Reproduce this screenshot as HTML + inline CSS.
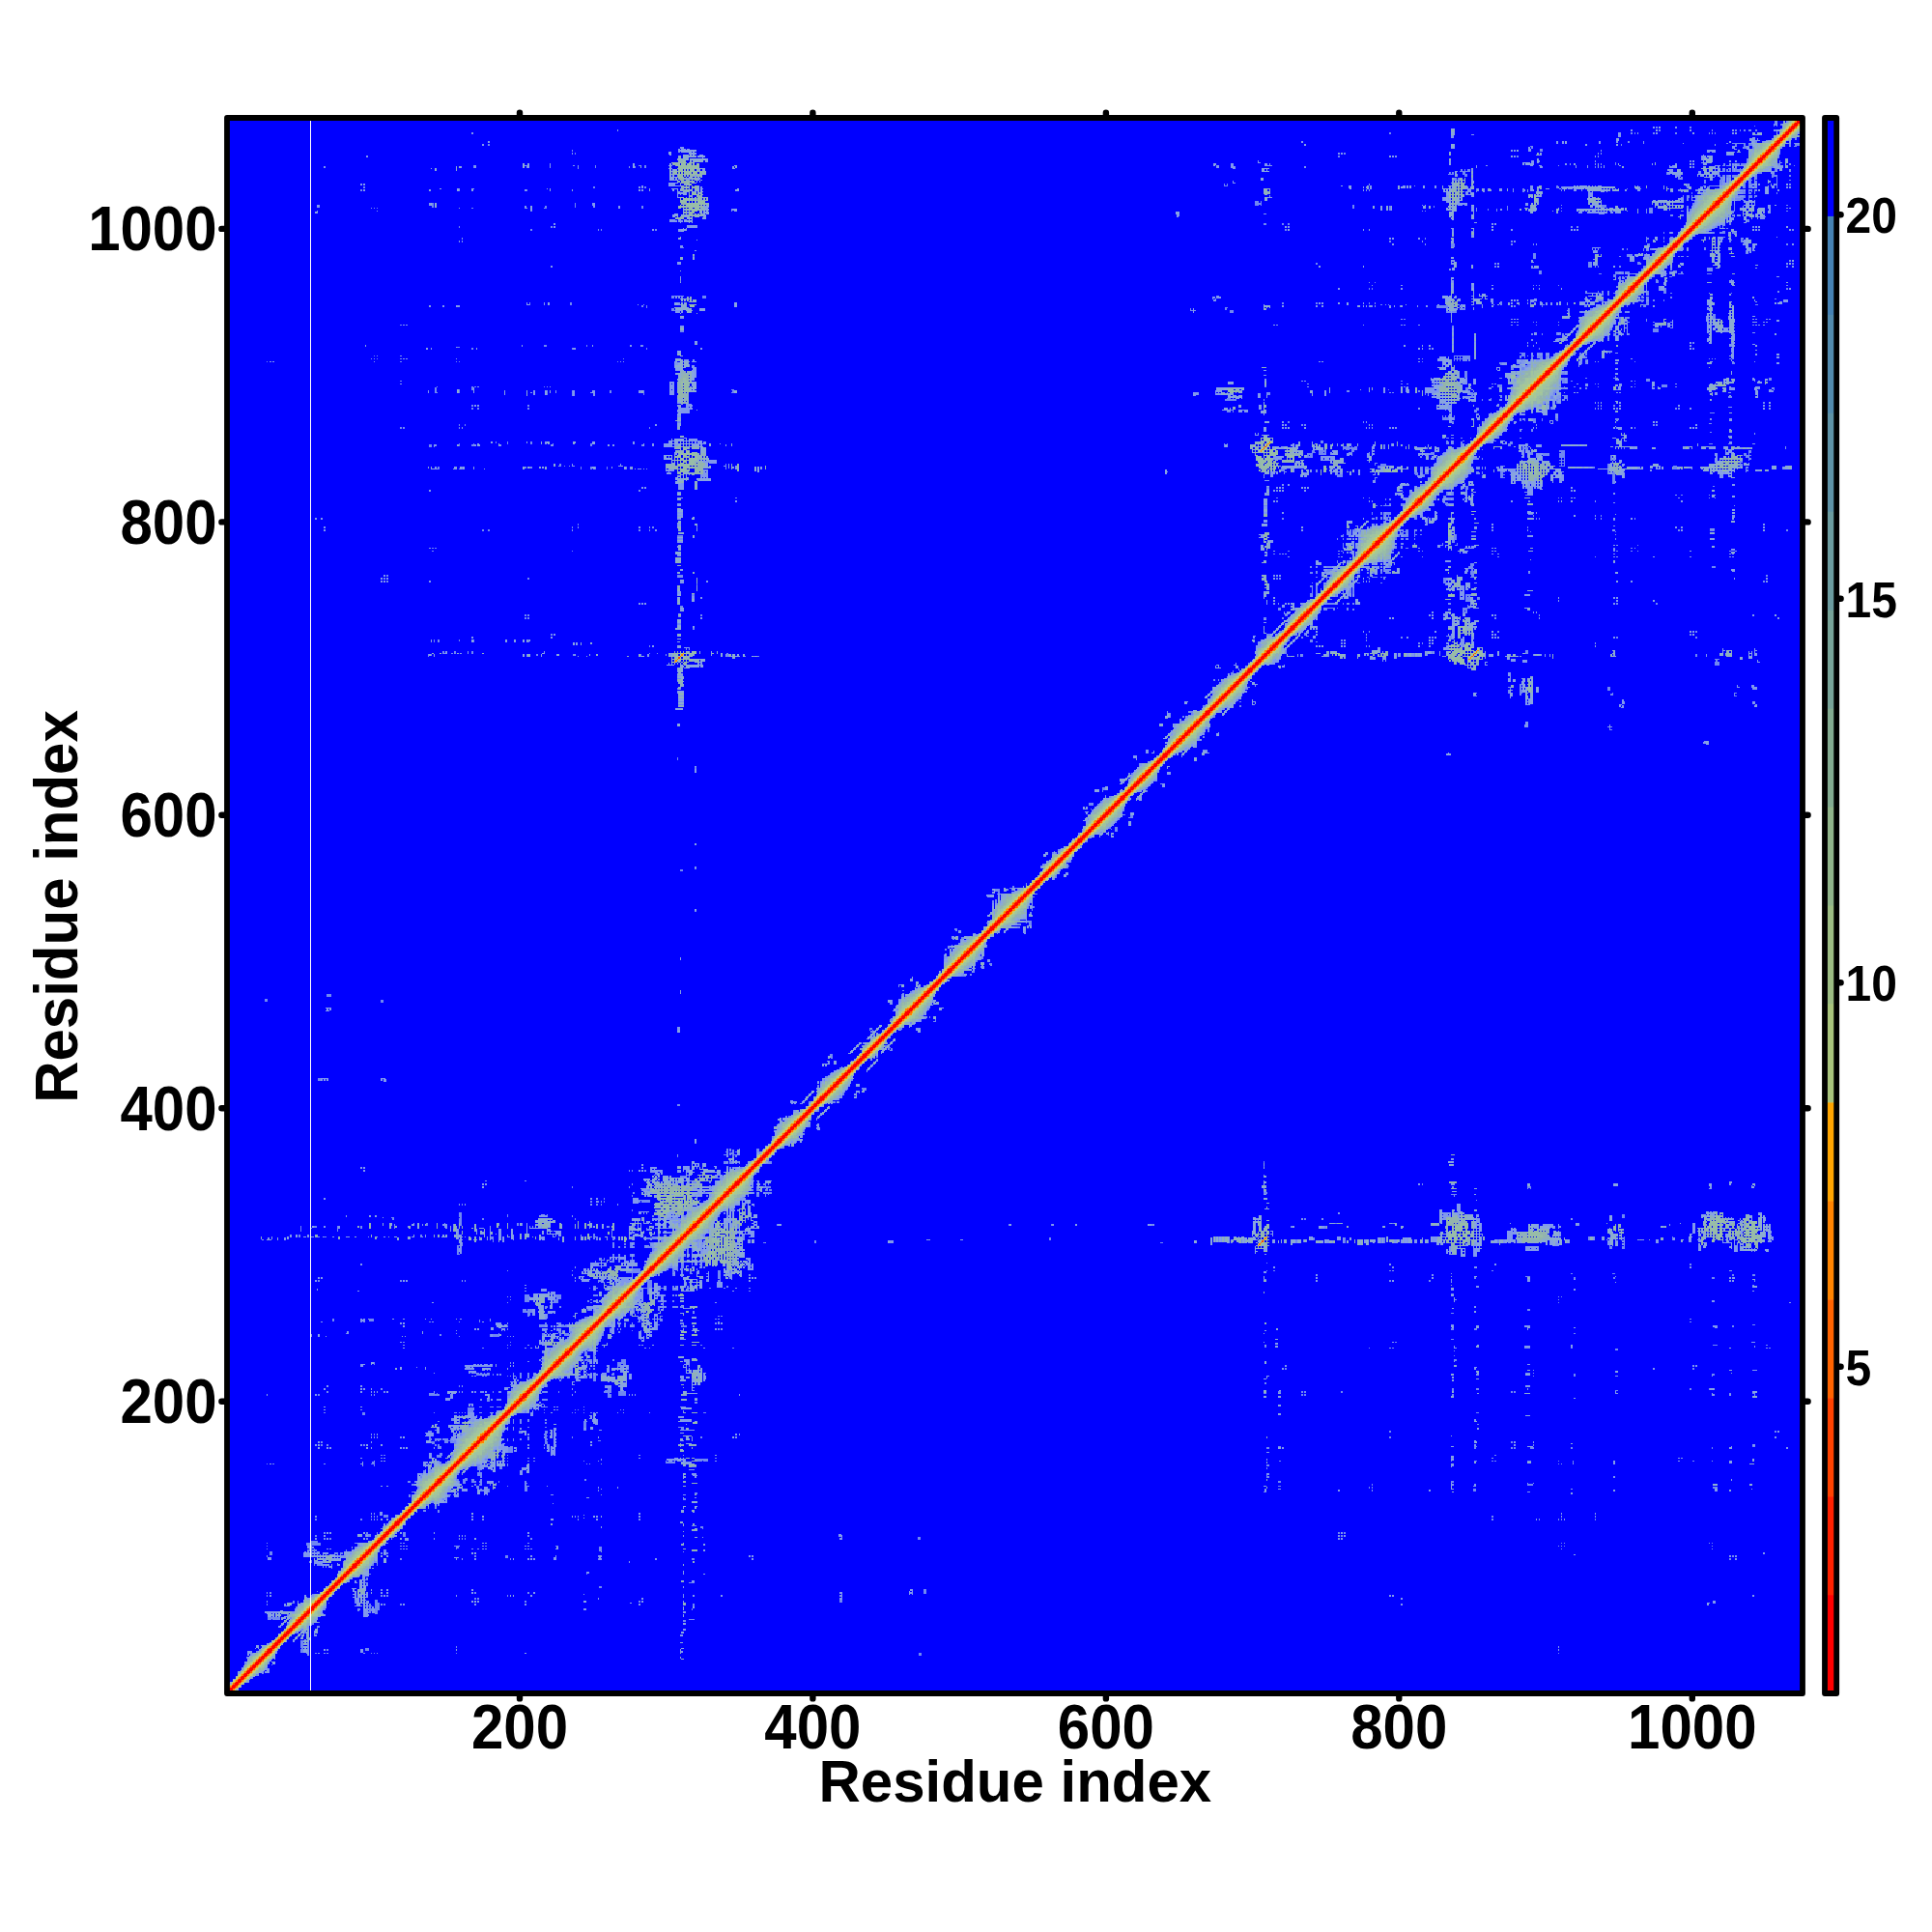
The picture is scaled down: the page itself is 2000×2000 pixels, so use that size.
<!DOCTYPE html>
<html><head><meta charset="utf-8"><title>Residue contact map</title>
<style>html,body{margin:0;padding:0;background:#fff}svg{display:block}text{font-family:'Liberation Sans',sans-serif;font-weight:bold;fill:#000}</style>
</head><body>
<svg width="2000" height="2000" viewBox="0 0 2000 2000">
<rect width="2000" height="2000" fill="#fff"/>
<rect x="235.0" y="122.0" width="1631.0" height="1631.0" fill="#0000FF"/>
<g transform="translate(235.0,1753.0) scale(1.51721,-1.51721)" shape-rendering="crispEdges" fill="none" stroke-width="1">
<path stroke="#7088F0" d="M6 1.5h1m-6 5h1m15 4h1m2 2h1m3 1h1m-15 4h1m16 0h1m2 2h1m-19 1h1m15 0h1m-16 4h1m458 2h2m-457 1h1m42 0h1m37 0h1m1 0h1m55 0h1m315 0h2m434 0h1m-889 1h1m29 0h2m-18 1h1m15 0h2m16 0h1m25 0h3m-78 1h1m31 0h1m42 0h3m-47 1h2m104 0h1m-107 1h2m-2 1h2m-23 1h1m20 0h2m-2 1h2m-5 6h1m5 0h1m-3 2h1m9 1h1m-1 1h2m-6 1h1m-17 1h1m16 0h1m3 1h1m248 1h2m-285 1h2m1 0h5m279 0h4m-291 1h8m7 0h1m-3 2h1m23 1h1m35 0h2m-6 1h1m3 0h2m-14 1h1m7 0h2m2 0h2m-57 1h1m19 0h1m22 0h2m6 0h2m2 0h3m213 0h1m-271 1h1m19 0h1m29 0h1m3 0h3m-17 1h1m9 0h2m2 0h3m214 0h1m-292 1h1m69 0h1m3 0h3m3 0h1m10 0h1m199 0h1m-275 1h2m23 0h1m17 0h1m13 0h3m-59 1h1m2 0h1m38 0h1m13 0h2m100 0h1m77 0h1m136 0h2m-333 1h1m13 0h2m315 0h2m-251 1h1m1 0h1m-118 1h1m2 1h1m47 0h1m3 0h1m81 0h1m119 0h1m-254 1h1m252 0h1m-283 1h1m139 0h1m35 0h1m269 0h2m-416 1h1m413 0h2m-372 1h1m369 0h2m-392 1h1m168 1h2m-161 1h1m-1 1h1m-2 1h2m219 0h4m-225 2h2m-1 1h1m-7 1h1m0 1h1m6 1h1m147 0h1m-175 4h1m-13 2h1m1 0h3m35 0h1m2 0h1m-47 2h2m21 0h1m20 0h2m-45 1h1m22 0h1m19 0h1m17 1h1m74 0h1m59 0h1m63 0h2m706 0h1m-836 1h2m-23 1h1m20 0h2m61 0h1m773 0h1m-999 1h2m44 0h1m1 0h1m29 0h2m-80 1h2m42 0h3m1 0h2m26 0h1m2 0h2m-81 1h2m76 0h2m-54 1h6m20 0h1m25 0h2m145 0h2m-229 1h1m28 0h2m1 0h1m58 0h1m37 0h1m46 0h1m50 0h2m-169 1h1m68 0h2m96 0h2m-229 1h1m61 0h2m14 0h1m49 0h3m18 0h1m47 0h2m686 0h1m-859 1h10m25 0h1m-36 1h10m23 0h1m21 0h1m8 0h1m791 0h1m102 0h1m-957 1h5m4 2h1m3 0h1m24 0h1m4 0h1m11 0h1m47 0h1m1 0h1m44 0h1m263 0h2m-360 1h1m357 0h2m-413 1h1m33 0h1m1 0h2m22 0h2m40 0h1m42 0h1m554 0h1m-667 1h4m16 0h1m5 0h2m-56 1h1m28 0h1m6 0h1m17 0h2m636 0h1m3 0h1m-658 3h1m13 0h1m204 0h1m-219 1h1m216 0h2m-217 1h1m208 0h3m-260 4h1m30 0h1m6 0h1m3 0h1m71 0h1m106 0h1m581 0h1m31 0h1m12 0h1m1 0h1m22 0h1m-822 1h1m-6 1h3m57 0h1m71 0h1m623 0h1m-757 1h3m34 2h1m-11 1h2m8 0h1m-10 2h1m1 0h1m4 0h1m-1 1h1m-7 1h1m7 0h1m-5 2h1m6 2h1m163 0h2m-164 1h1m-26 1h1m26 0h1m-28 1h1m1 0h1m25 0h1m-25 1h1m190 0h2m-195 1h1m51 0h1m528 0h2m-557 1h1m20 0h2m3 0h1m24 0h2m48 0h1m596 0h2m-681 1h1m1 0h1m4 0h1m24 0h2m503 0h1m141 0h2m-722 1h1m39 0h2m31 0h2m574 0h1m1 0h1m232 0h3m-862 1h1m1 0h1m12 0h2m19 0h1m11 0h2m512 0h2m-593 1h2m41 0h1m2 0h2m5 0h1m23 0h1m577 0h1m105 0h4m-733 1h1m2 0h2m10 0h1m29 0h2m-82 1h2m3 0h1m29 0h1m2 0h2m4 0h3m2 0h2m11 0h1m17 0h1m513 0h2m116 0h2m-681 1h2m3 0h3m3 0h2m4 0h1m70 0h1m-89 1h1m5 0h2m-32 1h1m40 0h1m535 0h2m-540 1h3m535 0h1m-577 1h1m23 0h1m13 0h3m-3 1h3m-40 1h1m37 0h1m-38 1h1m2 0h1m21 0h1m10 0h3m-12 1h1m8 0h2m13 0h2m521 0h1m-539 1h1m14 0h2m129 0h3m-220 1h1m40 0h1m28 0h3m3 0h1m2 0h1m11 0h1m517 0h2m-684 1h1m3 0h1m66 0h3m44 0h2m33 0h1m727 0h1m-810 1h2m40 0h1m3 0h1m3 0h1m149 0h7m612 0h1m-776 1h2m35 0h1m24 0h1m3 0h1m33 0h1m55 0h1m21 0h3m1 0h3m390 0h1m116 0h1m15 0h2m10 0h1m1 0h1m21 0h3m18 0h1m9 0h1m81 0h1m-825 1h2m141 0h9m-223 1h1m46 0h1m31 0h1m148 0h1m501 0h2m-694 1h3m-41 1h1m1 0h1m35 0h4m6 0h1m711 0h1m-721 1h2m45 1h3m-13 1h1m3 0h1m5 0h3m-12 1h1m8 0h3m-75 1h1m23 0h2m46 0h3m21 0h1m492 0h2m140 0h1m24 0h1m1 0h1m10 0h3m25 0h1m95 0h1m-870 1h2m47 0h2m522 0h2m132 0h2m188 0h2m-979 1h1m3 0h1m24 0h1m48 0h1m1 0h1m60 0h1m685 0h1m-752 1h2m13 0h1m61 0h2m-155 1h1m74 0h3m6 0h3m1 0h4m61 0h2m657 0h1m-735 1h1m1 0h1m3 0h6m1 0h1m39 0h1m21 0h1m35 0h2m-117 1h2m2 0h4m1 0h4m1 0h1m42 0h1m4 0h1m4 0h1m11 0h2m-101 1h1m19 0h1m66 0h1m11 0h1m17 0h1m87 0h1m469 0h1m-607 1h1m29 0h2m-119 1h1m54 0h1m3 0h1m56 0h2m-59 1h1m39 0h2m16 0h2m-82 1h3m48 0h1m10 0h2m16 0h2m574 0h1m262 0h1m-915 1h1m12 0h1m33 0h1m5 0h1m47 0h2m-89 1h1m1 0h1m31 0h1m119 0h2m-107 1h1m11 0h1m25 0h2m63 0h4m-147 1h1m77 0h2m-79 1h1m23 0h1m52 0h2m608 0h1m-694 1h1m34 0h1m4 0h1m16 0h1m25 0h2m-101 1h1m50 0h1m4 0h1m4 0h1m37 0h2m-92 1h2m10 0h1m29 0h1m4 0h1m4 0h1m11 0h1m-65 1h2m20 0h1m2 1h1m0 1h1m-88 1h2m86 0h1m2 0h1m13 0h1m-132 1h1m25 0h2m47 0h1m13 0h1m47 0h1m12 0h1m18 0h1m7 0h1m4 0h1m1 0h1m74 0h2m525 0h2m-690 1h4m35 0h1m-113 1h1m72 0h5m41 0h1m1 0h1m12 0h1m11 0h1m1 0h1m3 0h1m24 0h1m-105 1h5m38 0h1m2 0h1m1 0h1m-41 1h2m5 0h1m4 0h3m27 0h1m2 0h2m-5 1h1m-25 1h1m19 0h1m3 0h2m-3 1h1m105 0h2m-144 1h2m32 0h1m-39 1h1m3 0h2m5 0h3m28 0h4m-7 1h1m106 0h2m-61 1h2m-200 1h1m35 0h1m39 0h7m46 0h2m67 0h2m5 0h5m461 0h1m1 0h1m100 0h1m-699 1h4m1 0h1m70 0h1m45 0h1m6 0h5m435 0h2m316 0h1m15 0h2m-975 1h1m38 0h1m50 0h1m10 0h1m3 0h2m6 0h1m3 0h2m28 0h4m7 0h1m30 0h5m5 0h5m445 0h2m14 0h1m1 0h1m24 0h1m115 0h1m1 0h1m-665 1h1m43 0h4m8 0h1m565 0h1m110 0h2m-844 1h1m88 0h1m19 0h1m45 0h2m574 0h1m15 0h2m144 0h1m12 0h1m-854 2h1m57 0h1m1 0h1m-26 1h2m2 0h1m18 0h1m1 0h1m-20 1h1m508 0h1m-516 1h2m6 0h1m-4 1h1m28 0h1m22 0h2m-57 1h3m6 0h1m1 0h2m18 0h1m1 0h1m21 0h2m58 0h2m-115 1h1m2 0h1m4 0h1m20 0h2m4 0h1m11 0h2m1 0h1m2 0h2m-85 1h1m8 0h1m14 0h1m8 0h1m4 0h1m3 0h2m19 0h2m18 0h2m639 0h1m27 0h1m-750 1h9m2 0h1m2 0h1m1 0h1m8 0h1m4 0h1m4 0h1m41 0h1m3 0h2m9 0h2m655 0h1m93 0h2m-845 1h2m1 0h1m1 0h1m1 0h2m16 0h1m4 0h1m4 0h1m3 0h2m37 0h1m2 0h1m11 0h1m622 0h3m-655 2h1m15 1h1m471 0h1m277 0h1m-765 1h1m29 0h1m-1 1h2m43 0h1m-212 1h1m165 0h3m1 0h2m-172 1h1m92 0h1m51 0h1m1 0h1m18 0h6m-67 1h1m8 0h2m30 0h1m5 0h1m16 0h3m-59 1h1m1 0h1m28 0h3m1 0h1m3 0h1m10 0h1m5 0h3m565 0h2m-625 1h1m30 0h1m4 0h2m-5 1h1m2 0h2m-36 1h1m23 0h1m3 0h1m2 0h1m2 0h1m586 0h1m-622 1h1m24 0h1m2 0h2m4 0h2m-37 1h1m26 0h1m1 0h2m-2 1h1m-25 1h1m25 0h1m700 0h2m-775 1h1m16 0h1m57 0h1m95 0h1m433 0h1m15 0h1m89 0h4m28 0h1m134 0h1m-831 1h1m485 0h1m-516 1h1m129 0h1m690 0h3m33 0h1m-798 1h1m-134 1h1m72 0h1m59 0h1m543 0h1m-568 1h1m23 0h1m-24 1h1m603 0h2m-605 1h1m22 0h1m-98 1h1m20 0h1m1 0h5m5 0h1m1 0h1m-49 1h1m33 0h1m1 0h5m29 0h1m11 0h1m2 0h4m22 0h1m-176 1h1m133 0h1m9 0h1m1 0h2m2 0h2m23 0h1m662 0h1m-694 1h2m6 0h1m26 0h1m5 0h1m-53 1h1m1 0h1m7 0h1m3 0h2m45 0h1m-86 1h1m26 0h1m8 0h1m33 0h1m4 0h1m68 0h1m499 0h2m14 0h2m-618 1h1m21 0h1m-67 1h1m21 0h4m4 0h1m6 0h4m28 0h1m10 0h1m5 0h1m32 0h4m713 0h1m-815 1h6m9 0h2m1 0h1m39 0h1m3 0h3m16 0h1m540 0h2m204 0h2m-826 1h1m8 0h2m34 0h1m5 0h1m2 0h1m37 0h3m21 0h1m-243 1h1m1 0h1m44 0h1m33 0h1m65 0h2m22 0h1m3 0h1m13 0h2m53 0h1m662 0h1m-927 1h1m24 0h3m72 0h1m67 0h1m40 0h1m13 0h2m-225 1h1m24 0h3m142 0h1m37 0h2m13 0h2m36 0h1m664 0h1m-755 1h2m34 0h1m14 0h1m-91 1h1m43 0h1m21 0h1m8 0h1m14 0h2m38 0h1m1 0h1m-133 1h2m68 0h1m-71 1h2m70 0h1m2 0h1m554 0h2m-635 1h6m42 0h1m67 0h1m-117 1h2m1 0h3m38 0h1m1 0h1m26 0h1m1 0h1m16 0h1m592 0h2m-672 1h1m34 0h2m23 0h1m6 0h1m9 0h1m17 0h5m-100 1h2m8 0h1m66 0h1m3 0h2m4 0h4m1 0h2m-89 3h4m22 0h1m4 0h1m654 0h1m-706 1h3m17 0h3m20 0h1m47 0h2m2 0h2m4 0h1m-112 1h1m9 0h3m18 0h2m26 0h1m-50 1h3m19 0h3m-25 1h4m17 0h4m682 0h1m-708 1h3m18 0h4m22 0h3m4 0h1m37 0h1m2 0h1m5 0h1m1 0h1m-20 1h1m547 0h2m-550 1h1m-1 1h1m68 0h1m-106 1h1m6 0h1m2 0h1m25 0h1m7 0h1m2 0h2m4 0h3m7 0h1m-68 1h1m3 0h1m32 0h4m2 0h1m5 0h2m16 0h1m14 0h1m9 0h1m16 0h1m-107 1h2m7 0h1m1 0h2m24 0h3m8 0h2m4 0h1m1 0h1m7 0h1m3 0h1m22 0h1m-55 1h3m751 0h1m-755 1h3m-37 1h1m1 0h3m1 0h1m27 0h3m-228 1h1m55 0h1m134 0h3m31 0h3m45 0h2m456 0h1m26 0h1m14 0h1m206 0h1m-707 1h1m370 0h2m-374 1h2m514 0h1m67 0h1m26 0h1m66 0h2m-753 1h1m13 0h1m33 0h1m24 0h2m549 0h3m-613 1h1m15 0h1m11 0h1m30 0h2m19 0h1m670 0h1m13 0h2m-767 1h1m33 0h1m5 0h2m17 0h2m4 0h1m575 0h1m27 0h2m-675 1h10m22 0h1m5 0h1m5 0h1m18 0h2m6 0h1m-67 1h5m17 0h1m4 0h1m2 0h1m2 0h1m5 0h1m18 0h2m6 0h1m365 0h1m4 0h1m78 0h1m69 0h1m-587 1h5m18 0h1m3 0h1m2 0h1m2 0h1m-35 1h1m25 0h2m3 0h1m2 0h2m13 0h1m469 0h1m-493 1h1m6 0h2m-27 1h1m24 0h2m5 0h1m680 0h1m-688 1h1m5 0h1m391 0h1m-459 1h1m9 0h3m3 0h1m44 0h2m7 0h1m2 0h2m-72 1h4m9 0h1m3 0h1m3 0h1m-22 1h2m1 0h1m18 0h1m31 0h2m1 0h1m5 0h1m-42 1h1m32 0h1m1 0h1m2 0h1m-52 1h1m3 0h1m3 0h1m3 0h1m1 0h1m34 0h1m27 0h1m-184 1h2m104 0h1m3 0h1m7 0h1m1 0h1m10 0h1m-132 1h1m131 0h1m24 0h1m2 0h1m-161 1h1m156 0h1m2 0h1m-161 1h1m132 0h1m21 0h1m1 0h1m2 0h1m-161 1h1m132 0h2m21 0h2m2 0h1m625 0h2m7 0h2m-797 1h1m105 0h1m3 0h1m3 0h1m3 0h1m1 0h1m7 0h1m1 0h3m36 0h1m616 0h2m7 0h2m-797 1h1m105 0h1m11 0h1m667 0h1m9 0h1m-691 1h1m7 0h1m3 0h1m1 0h1m46 0h1m-62 1h1m24 0h3m35 0h1m17 0h1m3 0h1m17 0h1m34 0h1m235 0h2m46 0h1m4 0h1m1 0h1m36 0h1m32 0h1m24 0h1m1 0h1m29 0h1m47 0h1m-687 1h1m114 0h1m23 0h1m80 0h1m272 0h1m1 0h1m15 0h1m36 0h1m4 0h1m27 0h1m24 0h1m1 0h1m29 0h1m47 0h1m-687 1h1m70 0h1m10 0h1m32 0h2m23 0h1m1 0h1m16 0h1m11 0h1m208 0h1m112 0h1m1 0h1m8 0h1m6 0h1m36 0h1m4 0h1m6 0h1m20 0h1m24 0h1m1 0h1m29 0h1m47 0h1m61 0h1m23 0h1m9 0h1m22 0h1m-807 1h2m32 0h1m35 0h1m1 0h1m10 0h1m20 0h1m1 0h7m35 0h1m5 0h1m1 0h1m15 0h1m208 0h1m112 0h1m1 0h1m64 0h1m20 0h1m24 0h1m1 0h1m139 0h1m22 0h2m32 0h1m-938 1h1m16 0h2m64 0h1m47 0h2m32 0h1m8 0h1m26 0h1m1 0h1m37 0h4m2 0h2m28 0h1m4 0h1m6 0h1m8 0h2m2 0h2m321 0h1m1 0h1m252 0h1m23 0h1m32 0h1m-938 1h1m82 0h1m117 0h1m11 0h1m31 0h1m3 0h1m3 0h1m22 0h1m26 0h1m-103 1h1m11 0h1m31 0h1m8 0h1m22 0h1m-65 1h1m12 0h3m19 0h1m2 0h4m706 0h1m-961 1h1m24 0h1m186 0h1m65 0h1m19 0h1m-299 1h1m24 0h1m186 0h1m23 0h3m-239 1h1m6 0h1m17 0h1m15 0h1m22 0h1m39 0h1m131 0h1m5 0h2m2 0h1m3 0h4m31 0h2m12 0h1m399 0h1m-700 1h1m8 0h2m14 0h1m15 0h1m22 0h1m39 0h1m105 0h1m16 0h1m68 0h1m1 0h1m377 0h1m22 0h1m230 0h1m-867 1h1m21 0h1m17 0h1m4 0h1m38 0h1m2 0h1m146 0h1m26 0h1m157 0h1m28 0h1m68 0h1m-496 1h1m22 0h1m38 0h1m2 0h1m106 0h1m23 0h1m11 0h1m411 0h1m38 0h1m223 0h1m-862 1h2m134 0h1m14 0h1m-152 1h2m184 0h1m1 0h1m1 0h1m-236 1h1m44 0h2m14 0h1m62 0h1m71 0h1m24 0h1m400 0h1m-624 1h2m45 0h1m134 0h1m11 0h1m645 0h2m-796 1h2m31 0h1m98 0h1m3 0h1m17 0h1m22 0h1m5 0h1m610 0h2m-796 1h2m31 0h1m112 0h1m2 0h1m3 0h1m1 0h1m27 0h1m610 0h2m-796 1h2m179 0h1m-30 1h1m4 0h1m-40 1h1m69 0h1m1 0h1m-5 1h1m-34 1h1m30 0h1m-23 1h1m-161 1h1m91 0h1m2 0h1m54 1h1m12 0h1m-76 1h1m4 0h1m3 0h1m23 0h1m1 0h6m28 0h1m7 0h1m-45 1h8m21 0h1m6 0h1m32 0h1m-94 1h1m53 1h1m40 0h1m-77 1h1m50 0h1m33 0h2m4 0h1m-70 1h1m10 0h1m44 0h1m6 0h2m4 0h1m1 0h1m465 0h4m-562 1h1m8 0h1m38 0h2m32 0h1m1 0h1m5 0h5m335 0h3m-379 1h1m23 0h1m-69 1h2m69 0h1m2 0h2m4 0h2m1 0h2m-65 1h1m12 0h1m1 0h1m7 0h1m30 0h2m5 0h1m518 0h1m1 0h1m-655 1h1m125 0h1m4 0h5m516 0h3m-572 1h1m3 0h1m6 0h1m28 0h1m8 0h1m-57 1h1m49 0h1m4 0h2m1 0h1m445 0h1m-509 1h1m3 0h1m3 0h1m2 0h2m2 0h1m6 0h1m32 0h1m-46 1h1m41 0h1m1 0h1m9 0h1m-36 1h1m21 0h1m-48 1h1m-3 1h4m25 0h1m368 1h1m-368 1h1m19 0h1m-19 1h1m-69 1h1m1 0h1m8 0h1m57 2h1m2 0h1m3 0h1m12 0h1m-23 1h1m7 0h1m14 0h1m342 0h1m-354 1h1m-16 1h3m1 0h3m1 0h1m1 0h1m18 0h4m-33 1h2m2 0h2m3 0h1m20 0h3m335 0h1m-350 1h1m9 0h2m-11 1h1m10 1h1m-64 1h1m37 0h1m1 0h1m-9 1h3m1 0h1m1 0h3m-7 1h1m1 0h3m15 0h1m1 0h1m-24 1h2m3 0h1m1 0h1m13 0h3m-23 1h1m1 0h1m1 0h1m15 0h2m2 0h1m-25 1h1m1 0h1m5 0h1m11 0h2m13 0h1m2 1h1m3 1h1m-65 2h1m64 0h1m2 0h1m-17 1h1m16 0h1m-17 3h1m20 2h1m-21 2h1m19 0h1m-19 1h1m21 2h1m-23 1h1m0 1h1m21 3h1m-18 2h1m1 0h1m2 4h1m16 0h1m-13 1h1m-85 3h2m99 1h1m-12 1h1m15 0h2m2 0h1m-1 2h1m0 2h1m-17 1h1m17 0h1m-1 1h1m0 1h1m0 1h1m12 0h1m-13 1h1m9 0h3m-33 1h1m-1 1h1m-1 3h1m1 0h1m-344 1h2m343 0h1m18 0h1m-365 1h2m344 1h2m0 1h1m0 1h1m0 1h1m5 3h1m12 0h1m-6 5h1m-15 2h1m28 0h1m-30 1h1m30 0h1m-33 1h2m29 0h1m9 3h2m-3 1h1m1 0h1m-3 1h2m-20 1h1m15 0h1m-15 1h1m-2 1h1m6 6h1m-3 2h2m-3 1h1m1 0h1m18 0h1m-22 1h2m19 0h2m7 3h1m-3 1h1m6 1h1m8 0h2m-32 1h2m19 0h1m9 0h1m-31 1h1m22 0h1m0 1h1m1 0h1m-6 1h1m0 1h1m1 2h1m-21 1h1m20 0h1m0 1h1m-24 1h1m-352 3h2m-81 1h2m77 0h2m374 0h1m-456 1h2m430 0h2m2 1h1m-395 1h3m392 0h1m-396 1h3m389 0h1m0 1h1m3 0h1m0 1h1m-6 1h1m5 0h1m4 2h1m-15 1h1m-1 1h2m41 6h3m-2 1h1m4 0h1m-6 1h1m6 1h1m4 3h1m6 1h1m-2 1h2m-11 2h1m2 1h1m-26 1h1m25 0h1m-27 1h3m23 0h1m-27 1h1m24 1h1m-25 3h1m25 1h1m-25 1h1m25 0h1m-20 2h1m-5 3h1m4 0h1m3 0h1m-4 1h2m5 1h1m0 2h1m15 0h1m-1 1h1m-29 1h1m-2 1h2m41 1h2m-2 2h3m5 0h2m-31 1h2m18 0h1m6 0h1m1 0h2m-3 1h3m-9 1h1m7 5h1m-230 1h1m229 1h1m-4 1h1m1 0h2m0 1h1m-4 1h1m-23 1h1m-4 1h1m1 0h1m23 0h1m-27 1h1m1 0h1m2 0h1m-4 1h1m0 4h1m26 0h1m-27 1h1m8 0h1m-12 1h3m10 0h1m-14 1h3m5 0h1m2 0h1m3 0h1m-6 1h2m0 1h1m8 2h1m18 3h1m0 1h1m-1 1h1m1 3h1m-259 1h2m8 1h1m253 1h1m-19 1h1m18 0h1m-19 1h2m15 0h1m-14 2h1m14 0h1m-13 6h1m1 0h1m-2 1h1m2 1h1m14 3h1m3 3h1m-9 1h1m9 1h2m-9 3h1m14 1h1m-14 1h1m22 0h2m-25 1h1m19 0h1m2 0h2m-6 1h1m3 0h2m-2 4h1m0 1h1m-21 1h1m20 0h1m6 1h3m-2 1h2m-6 1h1m-23 3h1m20 0h1m-23 1h1m-2 3h3m3 0h1m-7 1h3m4 0h1m17 0h1m-18 1h1m5 3h1m-4 1h1m7 1h1m12 1h1m-24 1h1m29 0h1m-31 1h2m26 0h1m-29 1h2m28 0h1m0 1h1m-15 2h1m17 2h3m-19 3h1m-2 2h1m1 0h1m0 1h1m17 2h1m-318 1h1m302 1h1m14 0h1m-16 1h1m15 0h1m-17 1h1m7 2h1m-324 1h1m324 0h1m-326 1h1m325 0h1m17 4h1m14 1h3m-6 7h1m-22 1h1m20 0h1m2 1h1m-1 3h1m2 1h1m-3 1h1m1 0h1m273 0h2m-277 1h2m273 0h1m-294 5h2m-9 3h1m8 0h1m2 0h1m17 0h1m-31 1h1m13 0h1m15 0h1m-31 1h1m14 0h1m-3 1h3m19 1h1m1 1h1m1 1h1m-17 1h2m23 0h1m-384 1h4m-4 2h4m376 0h1m2 0h1m-3 1h1m-20 1h1m19 0h1m-20 2h1m20 0h1m157 0h3m175 0h2m-148 1h1m61 0h2m82 0h1m-357 1h1m20 0h1m158 0h1m21 0h1m7 0h2m61 0h1m82 0h2m-156 1h1m7 0h2m-10 1h1m7 0h2m58 0h2m-637 1h1m1 0h1m385 0h2m178 0h1m6 0h1m59 0h2m-248 1h2m176 0h2m6 0h2m58 0h2m-62 1h1m-207 1h1m205 0h1m-206 1h1m-371 1h1m370 0h1m-6 1h1m2 0h1m-370 1h3m370 0h1m1 1h1m2 2h1m14 0h1m-16 1h2m-1 1h1m15 0h1m-8 3h1m319 1h3m-321 1h1m317 0h3m-301 1h1m297 0h3m-2 1h1m-299 1h1m296 0h3m-881 2h1m66 0h1m77 0h1m58 0h1m11 0h1m5 0h1m2 0h1m362 0h1m7 0h1m76 0h1m19 0h1m171 0h1m-866 1h1m1 0h1m64 0h1m6 0h1m24 0h1m45 0h1m58 0h1m391 0h1m76 0h1m80 0h1m110 0h1m-856 1h2m4 0h1m1 0h1m11 0h1m120 0h1m4 0h1m47 0h1m379 0h2m87 0h1m11 0h1m63 0h2m-741 1h1m7 0h1m11 0h1m554 0h1m99 0h1m63 0h2m-166 1h1m163 0h2m-600 3h1m488 0h1m-18 2h1m52 0h1m1 0h1m4 0h1m-680 1h1m2 0h1m23 0h1m36 0h1m497 0h1m35 0h2m2 0h1m-603 1h1m2 0h1m13 0h1m9 0h1m36 0h1m499 0h1m18 0h1m14 0h2m19 0h1m16 0h1m-54 1h1m109 0h3m-104 1h1m67 0h1m20 0h1m11 0h2m112 0h1m53 0h1m-294 1h1m122 0h4m-615 1h1m487 0h3m23 0h1m262 0h1m-264 1h1m-18 1h2m59 0h1m87 0h1m134 0h1m-296 1h1m-390 1h1m420 2h2m-434 1h3m-107 4h1m1 0h1m501 0h2m11 0h1m21 0h1m122 0h1m-558 1h2m-107 1h1m1 0h1m117 0h1m398 0h2m141 0h1m-23 2h3m-3 1h1m1 0h1m-129 1h2m9 0h1m19 0h3m4 0h1m8 0h1m3 0h1m74 0h3m-129 1h2m9 0h1m21 0h6m1 0h1m6 0h1m78 0h5m-539 1h2m535 0h2m-115 1h1m112 0h1m-130 1h1m32 0h6m1 0h1m3 0h1m2 0h2m2 0h1m64 0h2m113 0h1m26 0h1m-131 2h3m-95 1h1m91 0h3m5 0h2m-10 1h3m5 0h2m-116 1h1m16 0h1m9 0h1m1 0h1m76 0h1m1 0h1m-531 1h2m420 0h1m16 0h1m8 0h1m79 0h4m-110 1h2m2 0h1m14 0h1m1 0h2m3 0h1m2 0h1m-29 1h1m2 0h1m17 0h1m3 0h2m1 0h1m-29 1h1m2 0h1m21 0h2m1 0h1m-29 1h1m2 0h1m2 0h1m15 0h1m3 0h1m1 0h1m-29 1h1m2 0h1m-5 1h2m2 0h1m-424 1h1m427 0h2m15 0h1m65 0h1m-92 1h1m2 0h1m27 0h2m14 0h1m42 0h2m-723 1h1m640 0h1m24 0h1m54 0h2m216 0h1m-282 1h1m62 0h2m-725 1h1m97 0h1m510 0h1m1 0h1m31 0h1m28 0h1m9 0h1m40 0h2m-89 1h1m6 0h2m26 0h1m2 0h4m2 0h1m1 0h2m57 0h3m-742 1h1m197 0h4m442 0h1m95 0h2m199 0h1m-203 1h3m-112 1h2m2 0h1m28 0h1m5 0h1m3 0h1m4 0h1m2 0h4m54 0h3m37 0h1m-146 1h1m5 0h4m3 0h1m14 0h2m8 0h1m5 0h1m3 0h2m53 0h1m1 0h3m-103 1h1m2 0h3m20 0h1m3 0h1m10 0h5m52 0h1m2 0h1m-91 1h1m86 0h5m-112 1h1m3 0h1m4 0h1m1 0h4m39 0h1m53 0h3m163 0h3m-241 1h1m16 0h3m53 0h3m-74 1h1m70 0h3m-94 1h1m7 0h1m17 0h1m-27 1h1m6 0h2m22 0h1m-1 1h1m3 0h2m-28 1h1m-9 1h1m10 0h1m97 0h1m-154 2h1m3 0h1m51 0h1m-10 1h1m2 0h1m1 0h1m28 0h1m-656 1h1m94 0h1m488 0h1m35 0h1m185 0h1m1 0h1m9 0h1m-164 1h1m-656 1h1m1 0h1m618 0h1m3 0h1m35 0h1m2 0h2m140 0h1m11 0h1m-198 1h1m2 0h1m32 0h1m3 0h1m-41 1h1m9 0h1m56 0h2m8 0h2m122 0h1m-202 1h1m39 0h2m7 0h1m18 0h1m9 0h1m-4 1h2m-2 1h2m-531 1h4m446 0h1m3 0h1m2 0h2m31 0h1m3 0h2m1 0h2m4 0h1m26 0h2m108 0h1m-176 1h2m23 0h1m39 0h2m-532 1h4m449 0h2m4 0h1m32 0h1m3 0h3m4 0h1m26 0h2m10 0h3m-91 1h1m2 0h1m1 0h1m33 0h1m1 0h1m1 0h1m5 0h2m2 0h1m23 0h1m-75 1h3m34 0h2m1 0h2m4 0h1m-47 1h3m2 0h1m3 0h1m28 0h4m83 0h1m57 0h1m-774 1h1m3 0h1m102 0h1m6 0h1m475 0h1m1 0h1m1 0h2m3 0h1m27 0h1m2 0h2m5 0h1m2 0h1m48 0h1m126 0h1m21 0h3m49 0h1m-296 1h1m81 0h2m-618 1h1m54 0h1m29 0h1m457 0h1m1 0h1m106 0h1m-86 1h1m-564 1h1m542 0h1m4 0h2m0 2h1m0 1h1m155 0h1m-227 1h1m60 0h2m1 0h1m2 0h1m3 0h1m1 0h1m16 0h2m8 0h1m72 0h1m1 0h1m-112 1h1m2 0h1m2 0h3m3 0h1m14 0h1m2 0h1m4 0h1m-31 1h1m2 0h1m18 0h1m23 0h1m55 0h1m45 0h1m-157 1h1m5 0h1m1 0h5m21 0h1m72 0h3m-110 1h1m5 0h1m1 0h1m1 0h3m97 0h1m-76 1h1m1 1h1m-112 3h3m74 0h1m2 0h1m1 0h3m9 0h1m21 0h1m8 0h2m-44 1h1m2 0h1m7 0h3m27 0h2m-11 1h1m7 0h3m-117 1h1m171 0h1m-99 1h1m2 0h1m8 0h1m21 0h1m8 0h2m1 0h1m6 0h1m-497 1h1m368 0h1m87 0h1m19 0h1m7 0h5m71 0h1m-103 1h1m23 0h2m0 1h1m3 0h1m49 0h1m105 0h1m-186 1h1m24 0h1m2 0h2m12 0h1m-543 1h3m492 0h1m26 0h1m6 0h1m-556 1h1m434 0h1m84 0h1m27 0h1m15 0h1m71 0h1m-87 1h1m2 0h1m1 0h1m8 0h2m-138 1h2m9 0h1m91 0h1m32 0h2m-37 1h1m26 0h2m3 0h1m2 0h2m167 0h1m-201 1h2m23 0h1m1 1h2m102 0h2m-2 1h2m-2 1h2m-164 1h1m60 0h1m100 0h2m-164 1h2m34 0h2m24 0h1m10 0h1m12 0h3m73 0h2m-240 1h1m49 0h4m51 0h1m3 0h1m29 0h1m9 0h1m12 0h2m74 0h2m-191 1h5m50 0h2m3 0h1m4 0h1m47 0h3m73 0h2m-226 1h1m88 0h3m2 0h1m1 0h2m33 0h3m1 0h1m12 0h2m71 0h1m2 0h2m-226 1h1m21 0h1m66 0h1m3 0h2m36 0h2m2 0h1m12 0h3m70 0h1m93 0h1m-318 1h3m21 0h1m70 0h2m5 0h1m120 0h1m93 0h2m-894 1h1m13 0h1m1 0h1m80 0h1m6 0h1m2 0h1m7 0h1m12 0h1m8 0h1m58 0h1m378 0h3m81 0h1m11 0h1m2 0h1m33 0h1m1 0h1m1 0h1m130 0h2m47 0h1m-893 1h1m15 0h1m42 0h1m2 0h2m33 0h1m6 0h1m2 0h1m7 0h1m12 0h1m67 0h1m378 0h1m65 0h2m27 0h2m1 0h3m1 0h1m30 0h3m1 0h1m10 0h1m64 0h1m9 0h1m44 0h2m43 0h1m3 0h2m-811 1h1m2 0h1m109 0h1m444 0h5m33 0h1m45 0h3m37 0h4m29 0h1m44 0h2m43 0h2m-807 1h1m112 0h1m442 0h1m3 0h4m32 0h1m86 0h1m1 0h1m29 0h1m89 0h2m-251 1h2m39 0h1m24 0h1m59 0h4m119 0h1m-123 1h1m1 0h1m119 0h2m-209 1h1m83 0h4m31 0h1m93 0h1m-216 1h1m1 0h1m25 0h3m2 0h1m53 0h1m1 0h1m31 0h1m1 0h1m91 0h2m-303 1h4m73 0h1m37 0h1m1 0h1m54 0h4m31 0h1m2 0h1m88 0h3m-302 1h1m1 0h2m87 0h1m69 0h4m7 0h4m31 0h1m2 0h1m87 0h5m-303 1h4m4 0h5m70 0h4m5 0h1m59 0h2m7 0h4m7 0h4m122 0h2m1 0h1m-299 1h3m2 0h3m1 0h1m15 0h3m53 0h3m6 0h1m21 0h1m36 0h2m19 0h3m125 0h2m-300 1h2m3 0h5m17 0h2m140 0h4m125 0h2m-291 1h1m11 0h1m1 0h3m1 0h4m83 0h1m1 0h1m29 0h2m-127 1h10m18 0h1m28 0h1m20 0h1m44 0h4m63 0h1m1 0h1m43 0h1m-860 1h2m540 0h1m80 0h5m1 0h1m1 0h2m18 0h1m96 0h1m110 0h1m-860 1h2m18 0h1m8 0h2m79 0h1m34 0h1m396 0h1m108 0h1m4 0h1m47 0h1m31 0h2m11 0h1m-730 1h1m9 0h1m22 0h1m15 0h1m40 0h1m431 0h1m1 0h1m111 0h1m37 0h2m1 0h2m5 0h2m2 0h1m27 0h3m10 0h1m123 0h3m10 0h3m-844 1h1m7 0h1m15 0h1m538 0h2m84 0h2m2 0h1m5 0h1m17 0h2m13 0h2m-131 1h2m84 0h1m2 0h2m6 0h1m4 0h1m15 0h2m-2 1h1m-36 1h2m1 0h2m1 0h2m5 0h1m5 0h1m33 0h1m-16 1h1m-15 3h1m158 0h1m-160 1h1m28 0h1m7 0h1m-9 1h2m6 0h1m-773 1h1m1 0h1m37 0h1m129 0h1m504 0h1m99 0h1m-40 1h2m17 0h1m-716 1h1m3 0h1m570 0h1m1 0h1m118 0h1m118 0h1m1 0h1m-102 1h1m136 0h2m-706 1h3m414 0h1m50 0h1m60 0h1m20 0h1m33 0h2m-11 1h1m2 0h1m5 0h2m4 0h1m9 0h1m-79 1h5m3 0h1m39 0h1m4 0h1m1 0h2m5 0h2m4 0h1m8 0h2m39 0h3m-121 1h5m3 0h1m-9 1h1m1 0h1m1 0h1m3 0h1m41 1h1m5 0h1m-22 1h1m25 0h1m121 0h3m-333 1h3m1 0h1m164 0h2m13 0h1m-182 1h2m164 0h3m32 0h2m-721 1h1m3 0h1m33 0h1m646 0h2m37 0h1m11 0h1m84 0h1m1 0h1m-122 1h1m33 0h2m-738 1h1m37 0h1m740 0h1m-75 1h1m25 0h1m2 0h1m-3 1h1m7 0h1m27 0h1m112 0h1m-368 2h8m167 0h1m4 0h2m5 0h2m37 0h1m3 0h2m1 0h1m-233 1h3m1 0h1m175 0h1m40 0h2m4 0h1m2 0h3m-66 1h1m19 0h1m33 0h2m7 0h3m109 0h3m-792 1h1m613 0h1m18 0h2m2 0h1m38 0h4m-697 1h1m16 0h1m48 0h1m424 0h3m105 0h1m30 0h3m24 0h1m29 0h1m-764 1h1m15 0h1m59 0h1m16 0h1m25 0h1m22 0h1m59 0h2m363 0h3m83 0h1m52 0h2m1 0h2m22 0h1m29 0h2m-765 1h1m15 0h1m59 0h1m16 0h1m25 0h1m22 0h1m60 0h1m418 0h1m39 0h1m8 0h1m92 0h1m-765 1h1m15 0h1m8 0h1m176 0h2m446 0h1m11 0h1m40 0h2m62 0h1m38 0h1m106 0h1m-914 1h1m24 0h1m636 0h1m40 0h2m14 0h2m10 0h1m37 0h2m10 0h1m3 0h1m126 0h2m-889 1h1m1 0h1m46 0h1m491 0h1m94 0h1m1 0h1m61 0h3m6 0h1m32 0h1m2 0h1m6 0h1m15 0h1m24 0h1m18 0h4m5 0h1m-122 1h3m109 0h4m-182 1h1m61 0h1m69 0h1m26 0h1m-50 1h2m1 0h1m-797 1h1m682 0h1m109 0h4m2 0h1m50 0h3m-61 1h3m1 0h1m53 0h3m81 0h2m-186 1h2m42 0h1m1 0h1m12 0h1m18 0h2m104 0h2m-210 1h2m33 0h1m67 0h1m-104 1h2m34 0h1m-37 1h2m65 0h2m1 0h1m-71 1h2m33 0h1m32 0h1m1 0h1m-39 2h2m5 0h2m26 0h1m-35 1h1m5 0h2m1 1h2m25 0h1m-45 1h1m17 0h2m-21 1h2m10 0h1m1 0h1m41 0h1m2 0h1m99 0h2m-1002 1h1m90 0h1m37 0h1m1 0h1m107 0h1m548 0h1m108 0h1m35 0h1m-124 1h1m1 0h1m1 0h1m1 0h3m1 0h1m35 0h1m5 0h1m1 0h1m31 0h1m3 0h1m-826 1h1m15 0h1m151 0h1m566 0h11m48 0h1m128 0h1m1 0h1m-191 1h1m1 0h1m1 0h1m1 0h5m34 0h1m2 0h1m4 0h1m3 0h3m3 0h1m2 0h1m23 0h1m-828 1h1m736 0h11m34 0h4m4 0h2m2 0h4m2 0h2m-19 1h3m9 0h1m9 0h1m13 0h1m3 0h1m3 0h1m-46 1h4m8 0h4m2 0h2m21 0h1m3 0h1m15 0h1m-2 1h3m-24 1h1m-755 1h1m67 0h1m50 0h1m533 0h1m74 0h1m26 0h1m77 0h1m-844 1h2m57 1h2m27 0h1m37 0h1m607 0h1m21 0h1m2 2h1m12 0h1m70 0h1m-84 1h1m14 0h1m2 0h2m1 0h1m-49 1h1m18 0h1m3 0h2m27 0h1m6 0h1m-43 1h2m40 0h1m-11 1h1m2 0h1m6 0h1m-9 1h1m4 0h1m2 0h1m-60 1h1m6 0h1m9 0h1m1 0h1m1 0h1m1 0h2m31 0h1m2 0h1m6 0h1m-648 2h3m609 0h1m21 0h1m29 0h4m-33 1h1m28 0h4m8 1h2m-151 1h1m85 0h1m22 0h1m-828 1h1m774 0h1m56 0h1m90 0h1m-162 2h1m10 0h1m30 0h1m26 0h2m4 0h2m16 0h1m-52 1h1m27 0h1m4 0h1m12 0h1m-166 1h1m146 0h1m17 0h1m-47 1h1m26 0h2m3 0h3m57 0h2m-91 1h1m88 0h2m-2 1h2m-90 1h1m21 0h1m-265 1h3m145 0h3m1 0h3m76 0h1m7 0h1m1 0h1m25 0h1m2 0h3m-654 1h3m351 0h2m25 0h3m227 0h2m13 0h1m-627 1h2m352 0h1m23 0h1m159 0h4m70 0h1m14 0h1m-645 1h1m394 0h2m142 0h8m99 0h1m-650 1h1m2 0h1m492 0h1m1 0h1m18 0h1m24 0h8m9 0h1m35 0h1m18 0h1m28 0h2m27 0h1m10 0h2m-762 1h1m27 0h1m552 0h1m4 0h1m50 0h2m24 0h1m27 0h2m55 0h1m11 0h4m73 0h2m-839 1h1m27 0h1m485 0h1m22 0h1m35 0h1m89 0h1m19 0h1m51 0h1m15 0h1m1 0h1m8 0h2m-101 1h1m53 0h5m7 0h1m2 0h1m23 0h1m2 0h1m3 0h1m-37 1h1m1 0h4m25 0h3m6 0h1m6 0h1m-132 1h1m92 0h1m20 0h1m4 0h2m86 0h1m-754 1h2m5 0h1m13 0h3m638 0h2m2 0h1m15 0h1m-683 1h3m3 0h3m12 0h3m522 0h1m115 0h1m-28 1h1m3 0h1m4 0h1m18 0h1m2 0h1m-35 1h2m1 0h1m3 0h1m3 0h1m22 0h1m10 0h2m3 0h1m40 0h1m-100 1h1m7 0h1m2 0h1m3 0h1m26 0h1m10 0h2m76 0h1m-111 1h1m32 0h1m-203 1h1m1 0h1m186 0h1m12 0h1m82 0h1m-117 1h1m-58 1h1m1 0h1m14 0h1m155 0h1m-98 1h1m-185 1h1m165 0h1m25 0h2m-668 1h1m641 0h1m23 0h2m-27 1h1m24 0h1m-27 1h2m1 0h2m17 0h1m-26 1h2m2 0h1m1 0h1m1 0h1m18 0h1m10 0h2m-40 1h2m13 0h1m11 0h1m-79 1h2m39 0h2m9 0h2m2 0h1m6 0h1m23 0h1m7 0h4m16 0h3m-118 1h2m50 0h3m1 0h2m1 0h3m27 0h1m3 0h1m3 0h1m-98 1h2m82 0h1m7 0h2m21 0h4m-49 1h1m19 0h1m24 0h1m1 0h2m-32 1h1m27 0h4m-149 1h1m63 0h2m4 0h1m14 0h1m15 0h2m96 0h1m-136 1h2m-188 1h1m121 0h1m63 0h2m31 0h3m103 0h1m-140 1h2m31 0h2m22 0h1m-1 1h1m79 0h1m-176 2h2m77 0h1m-653 1h1m572 0h2m57 0h1m4 0h2m33 0h1m1 0h2m2 0h1m-106 1h2m62 0h4m28 0h1m-97 1h2m75 0h1m3 0h1m63 0h2m-2 1h1m-71 1h1m2 0h1m20 0h2m4 0h1m39 0h1m-106 1h1m20 0h1m2 0h1m10 0h1m4 0h1m21 0h1m14 0h1m15 0h1m-716 1h3m619 0h1m44 0h2m15 0h1m2 0h1m11 0h1m-174 1h3m132 0h1m10 0h1m-147 1h3m38 0h1m14 0h1m77 0h2m22 0h1m70 0h1m-71 1h1m-202 1h1m82 0h1m91 0h1m11 0h1m3 0h1m40 0h1m7 0h1m-66 1h1m15 0h1m40 0h2m6 0h1m-217 1h1m150 0h2m10 0h1m27 0h1m11 0h1m3 0h1m8 0h2m-67 1h1m11 0h1m4 0h2m1 0h1m19 0h1m2 0h1m8 0h2m3 0h1m-37 1h1m11 0h1m-22 2h1m3 0h1m1 0h1m26 0h2m3 0h4m5 0h3m-181 1h2m158 0h2m9 0h2m-815 1h1m45 0h1m1 0h1m36 0h1m429 0h1m289 0h1m32 0h1m22 0h1m-55 1h1m8 0h1m-866 1h1m62 0h1m695 0h1m3 0h1m94 0h1m1 0h1m1 0h1m20 0h1m-48 1h1m22 0h1m3 0h1m-315 1h2m11 0h1m3 0h1m300 0h1m-3 1h1m1 0h1m11 1h2m-2 1h2m-17 1h1m5 1h1m-44 1h2m5 0h2m30 0h1m2 0h1m2 0h3m-36 1h1m-684 1h1m653 0h1m1 0h3m24 0h1m29 0h1m-821 1h1m644 0h1m13 0h1m101 0h1m1 0h1m1 0h1m20 0h1m32 0h3m35 0h1m-272 1h1m58 0h1m7 0h1m5 0h1m6 0h1m94 0h1m1 0h3m25 0h1m29 0h1m-927 1h1m64 0h1m49 0h1m65 0h1m484 0h1m24 0h1m58 0h1m20 0h1m96 0h3m23 0h1m31 0h1m-889 1h1m76 0h1m19 0h1m45 0h1m484 0h1m24 0h1m29 0h1m49 0h1m64 0h3m55 0h1m2 0h1m28 0h1m-889 1h1m96 0h1m463 0h3m1 0h1m62 0h1m169 0h3m85 0h1m1 0h1m35 0h1m-925 1h1m96 0h1m463 0h5m294 0h1m25 0h1m-326 1h3m1 0h1m295 0h1m-6 1h1m3 0h1m29 0h3m1 0h2m-716 1h1m675 0h1m32 0h6m3 0h1m-47 1h2m2 0h2m2 0h1m32 0h3m2 0h3m1 0h1m-50 1h1m2 0h2m3 0h1m29 0h1m3 0h1m2 0h3m1 0h2m-38 1h1m-8 1h1m3 0h1m30 0h2m2 0h2m2 0h1m14 0h1m-206 1h1m31 0h1m100 0h1m6 0h1m15 0h1m22 0h5m2 0h1m1 0h1m1 0h1m-952 1h1m112 0h1m647 0h1m31 0h1m25 0h1m79 0h2m1 0h1m8 0h2m30 0h1m4 0h1m2 0h1m-191 1h1m31 0h1m70 0h1m35 0h1m19 0h1m3 0h2m-924 1h1m156 0h1m34 0h1m621 0h1m2 0h1m85 0h1m11 0h1m1 0h2m22 0h2m2 0h3m1 0h1m14 0h1m-378 1h3m224 0h1m88 0h1m10 0h1m3 0h5m19 0h1m6 0h2m13 0h1m-378 1h1m1 0h1m313 0h1m22 0h1m15 0h1m2 0h3m15 0h2m8 0h1m-59 1h1m9 0h2m15 0h1m3 0h1m3 0h1m13 0h1m-50 1h1m9 0h2m1 0h1m2 0h1m14 0h1m3 0h1m13 0h1m-222 1h5m167 0h1m9 0h2m4 0h1m14 0h2m16 0h1m8 0h1m-230 1h2m1 0h1m149 0h3m26 0h2m3 0h1m14 0h1m3 0h1m13 0h1m-66 1h1m25 0h3m2 0h3m1 0h1m15 0h1m10 0h1m2 0h1m-214 1h2m172 0h1m1 0h2m1 0h2m2 0h4m12 0h1m10 0h4m8 0h1m-234 1h4m6 0h3m136 0h3m69 0h2m-222 1h1m1 0h1m6 0h2m137 0h1m21 0h2m39 0h2m-206 1h7m156 0h2m13 0h3m1 0h2m2 0h1m1 0h1m25 0h2m9 0h1m-225 1h1m1 0h1m1 0h2m172 0h2m1 0h1m1 0h1m1 0h1m1 0h5m22 0h1m9 0h1m-47 1h2m2 0h1m2 0h1m1 0h1m2 0h1m23 0h1m-889 1h1m35 0h1m46 0h1m26 0h1m6 0h1m647 0h1m66 0h1m53 0h1m-887 1h1m35 0h1m46 0h1m29 0h1m3 0h1m734 0h2m1 0h3m1 0h2m40 0h1m-123 1h1m73 0h1m6 0h1m1 0h2m1 0h3m22 0h1m7 0h1m-120 1h1m50 1h1m38 0h1m-1 1h1m20 1h1m-301 1h1m121 0h1m-644 2h1m524 0h1m296 0h1m-825 2h1m660 0h2m-2 1h2m-8 1h1m143 0h3m4 0h1m-153 1h2m144 0h2m1 0h1m30 0h2m-893 1h1m772 0h1m77 0h1m5 0h1m2 0h3m25 0h1m3 0h3m-50 1h1m3 0h9m29 0h1m3 0h1m-114 1h1m86 0h1m3 0h1m2 1h1m14 0h1m1 1h1m2 0h1m-278 4h1m164 0h1m1 0h1m12 0h1m14 0h1m22 0h1m3 0h1m41 1h1m1 0h1m-83 1h1m51 0h1m2 0h1m2 0h1m2 0h2m3 0h1m12 0h1m3 1h1m13 0h1m-100 1h1m22 0h1m43 1h1m12 0h1m1 0h1m-3 1h2m3 0h1m-5 1h1m-1 1h1m10 2h1"/>
<path stroke="#8098EC" d="M14 7.5h1m0 2h1m2 2h1m2 1h1m-1 1h1m-15 1h1m16 0h1m1 0h3m-20 1h1m15 0h1m1 0h2m-3 1h3m-18 2h1m0 3h2m16 0h1m-2 1h1m0 1h1m1 0h1m-19 1h1m0 1h1m-2 1h1m1 0h1m38 0h1m-42 1h3m16 0h1m20 0h2m6 0h1m3 0h1m1 0h1m24 0h1m8 0h1m-89 1h3m16 0h1m21 0h1m35 0h2m216 0h2m-289 1h1m32 0h1m10 0h1m24 0h2m815 0h1m-888 1h1m1 0h1m31 0h1m-1 1h1m852 0h1m-886 1h1m31 0h1m-29 1h2m26 0h1m-1 1h1m-16 1h1m4 0h1m-1 1h2m-1 1h1m1 1h1m-1 1h1m10 0h2m248 0h2m-276 1h1m23 0h1m-1 1h1m-11 1h1m9 0h1m251 1h2m-258 1h1m-21 1h2m18 0h1m-20 1h2m18 0h1m-19 2h2m2 1h1m17 1h1m1 2h1m30 0h3m-30 1h1m26 0h4m-70 1h1m36 0h1m28 0h3m-70 1h9m9 0h2m18 0h1m28 0h4m2 0h2m210 0h2m-267 1h1m46 0h3m3 0h2m-36 1h1m29 0h2m2 0h2m142 0h2m-179 1h1m28 0h1m3 0h1m211 0h1m-273 1h4m24 0h1m20 0h2m5 0h2m-58 1h1m10 0h1m37 0h2m5 0h1m9 0h1m14 0h1m48 0h1m33 0h1m77 0h1m519 0h1m-714 1h2m5 0h2m917 0h2m-989 1h1m24 0h1m35 0h2m5 0h2m74 0h1m111 0h1m27 0h1m702 0h2m-948 1h1m19 0h2m-36 1h2m31 0h3m163 0h1m29 0h1m134 0h2m381 0h1m-745 1h1m28 0h2m1 0h1m4 0h2m323 0h1m-393 1h1m1 0h1m23 0h1m4 0h1m12 0h1m15 0h1m3 0h1m3 0h1m11 0h1m48 0h1m50 0h1m110 0h1m18 0h1m80 0h2m373 0h1m1 0h1m245 0h1m-983 1h1m26 0h2m6 0h2m323 0h1m45 0h1m1 0h1m-441 1h1m35 0h1m23 0h1m7 0h1m9 0h1m3 0h1m57 0h1m41 0h1m208 0h2m45 0h3m-382 1h2m377 0h1m1 0h1m-382 1h1m7 0h1m3 0h1m10 0h1m57 0h1m298 0h2m-402 1h1m9 0h1m9 0h2m6 0h1m-1 1h1m216 0h1m-218 1h1m-8 2h2m4 0h1m-23 1h1m15 0h1m5 0h1m223 0h2m-236 1h1m9 0h1m-9 1h1m6 0h2m-6 1h1m3 0h2m-2 1h3m150 2h2m64 0h1m-235 1h1m17 1h1m-18 1h1m20 0h1m-35 1h1m1 0h1m1 0h3m25 0h1m-34 1h6m1 0h1m3 0h2m-18 1h6m10 0h1m3 0h1m19 0h1m2 0h1m-44 1h7m36 0h1m171 0h1m-247 2h2m36 0h1m33 0h1m59 0h1m8 0h1m35 0h1m1 0h1m1 0h1m13 0h2m29 0h2m36 0h1m65 0h1m670 0h1m-1002 1h2m48 0h3m142 0h2m29 0h1m-228 1h1m24 0h5m18 0h6m126 0h1m16 0h1m29 0h2m100 0h1m1 0h1m666 0h1m3 0h1m-978 1h5m8 0h1m1 0h1m2 0h4m6 0h1m-29 1h11m2 0h4m15 0h1m963 0h1m-996 1h1m1 0h1m1 0h1m1 0h1m1 0h2m248 0h1m-226 1h1m-17 1h1m49 0h1m1 0h1m44 0h1m3 0h1m2 0h1m1 0h1m28 0h1m1 0h1m702 0h1m102 0h1m-959 1h4m26 0h1m2 0h1m-34 1h3m33 0h1m26 0h1m1 0h1m1 0h1m51 0h1m28 0h1m704 0h1m1 0h1m102 0h1m-987 2h1m60 0h2m30 0h1m84 0h1m706 0h1m98 0h1m-903 2h1m11 0h3m-64 1h1m7 0h1m52 0h3m34 0h1m259 0h2m338 0h1m1 0h1m-342 1h1m-354 1h1m48 0h1m44 0h1m150 0h1m105 0h3m338 0h1m3 0h1m-346 1h2m-351 1h1m1 0h1m33 0h1m10 0h1m89 0h1m554 0h1m-645 1h1m-10 5h1m1 0h1m0 1h1m-11 2h1m66 0h1m71 0h1m12 0h1m640 0h1m18 0h1m-853 2h1m37 0h1m1 0h1m1 0h1m134 0h1m14 0h1m28 0h1m628 0h1m22 0h1m-830 1h2m-8 1h1m1 0h1m3 0h2m175 0h1m628 0h1m22 0h1m-830 1h2m23 0h1m188 0h1m-8 3h1m-189 3h1m98 0h1m-84 1h1m1 0h1m1 0h1m4 0h2m-1 1h1m-4 1h1m1 0h2m169 1h1m-170 1h1m4 0h3m-8 1h2m2 0h4m17 0h1m1 0h1m43 0h2m88 0h2m-164 1h1m5 0h1m1 0h1m17 0h3m-23 1h1m19 0h3m709 0h2m-738 1h1m8 0h4m11 0h3m580 0h1m22 0h1m38 0h1m194 0h2m-887 1h1m20 0h1m8 0h4m11 0h3m739 0h1m-743 1h3m75 0h1m-124 1h1m74 0h1m644 0h2m-669 1h1m651 0h2m14 0h1m-722 1h1m46 0h4m2 0h1m703 0h1m3 0h1m-735 1h1m19 0h5m-50 2h1m22 0h1m0 1h1m162 0h1m626 0h1m-817 1h1m1 0h1m185 0h3m-191 1h3m3 0h1m63 0h2m115 0h3m389 0h2m-577 1h2m22 0h1m41 0h2m-67 1h1m2 0h2m60 0h2m-22 1h1m20 0h3m111 0h4m-158 1h1m11 0h2m5 0h1m20 0h3m-69 1h1m27 0h1m8 0h6m2 0h1m-47 1h4m8 0h1m20 0h2m4 0h2m660 0h2m-771 1h1m67 0h2m11 0h1m22 0h3m18 0h1m53 0h1m1 0h1m662 0h1m-777 1h3m7 0h1m29 0h1m137 0h5m629 0h1m-842 1h1m44 0h1m31 0h1m8 0h1m61 0h1m47 0h3m1 0h1m27 0h1m656 0h1m34 0h2m-852 1h1m79 0h1m44 0h7m3 0h3m396 0h1m-619 1h1m15 0h1m30 0h2m36 0h1m14 0h1m13 0h1m3 0h1m71 0h1m23 0h2m556 0h1m126 0h1m1 0h1m-855 1h2m13 0h1m23 0h1m-40 1h2m81 0h1m1 0h1m57 0h1m-144 1h2m14 0h1m66 0h3m-37 1h1m2 0h2m29 0h3m485 0h2m-530 1h1m8 0h2m4 0h2m20 0h2m1 0h3m-42 1h1m4 0h5m5 0h1m21 0h1m1 0h1m1 0h1m-156 1h1m1 0h1m27 0h1m19 0h1m36 0h1m27 0h1m1 0h7m4 0h2m7 0h1m12 0h2m1 0h3m496 0h1m343 0h1m-910 1h1m29 0h7m26 0h2m1 0h1m1 0h2m84 0h1m716 0h1m-967 1h1m30 0h1m95 0h2m27 0h1m1 0h2m3 0h2m23 0h1m602 0h1m26 0h1m162 0h2m-887 1h1m31 0h2m33 0h1m89 0h4m-255 1h1m35 0h1m57 0h1m66 0h2m653 0h1m12 0h1m-738 1h1m1 0h1m34 0h1m31 0h1m85 0h3m-159 1h3m32 0h1m2 0h1m31 0h2m92 0h1m-220 1h1m1 0h1m52 0h3m1 0h1m58 0h1m6 0h1m89 0h2m2 0h1m29 0h1m708 0h1m-922 1h6m13 0h1m4 0h1m63 0h2m-127 1h1m37 0h5m13 0h1m5 0h1m26 0h1m17 0h1m17 0h2m122 0h1m1 0h1m-215 1h6m2 0h2m9 0h1m6 0h1m61 0h2m-82 1h2m78 0h1m834 0h1m-916 1h2m43 0h1m2 0h1m31 0h2m29 0h2m53 0h10m-176 1h2m7 0h3m40 0h1m4 0h1m22 0h2m18 0h2m-101 1h1m20 0h1m25 0h1m3 0h1m-38 1h1m7 0h1m-25 1h2m23 0h1m83 0h2m-61 1h1m59 0h1m-86 1h2m76 0h1m6 0h1m59 0h5m2 0h2m-154 1h2m83 0h1m57 0h7m534 0h1m-688 1h1m1 0h4m6 0h1m70 0h2m-83 1h5m2 0h1m5 0h1m68 0h1m59 0h4m-146 1h3m1 0h1m36 0h2m38 0h2m-85 1h5m38 0h2m-53 1h1m1 0h1m1 0h1m3 0h5m3 0h2m5 0h1m1 0h1m19 0h2m2 0h1m1 0h2m28 0h1m14 0h1m13 0h1m21 0h1m-105 1h1m17 0h1m1 0h1m3 0h1m102 0h1m-108 1h1m65 0h1m-65 1h1m-27 1h2m30 0h1m2 0h2m6 0h1m1 0h1m17 0h1m65 0h4m-148 1h1m1 0h1m40 0h1m7 0h1m-52 1h3m-19 3h3m28 0h1m-32 1h5m37 0h1m-40 1h2m37 0h2m19 0h1m-153 1h1m39 0h1m51 0h2m81 0h1m38 0h1m1 0h1m1 0h1m70 0h1m663 0h2m10 0h1m16 0h1m-851 1h2m125 0h2m626 0h2m-858 1h1m6 0h1m3 0h1m6 0h1m31 0h1m18 0h1m6 0h1m8 0h1m14 0h1m21 0h1m23 0h1m-44 1h1m122 0h2m-253 1h1m24 0h1m1 0h1m4 0h1m90 0h3m43 0h1m81 0h1m569 0h1m-699 1h4m3 0h1m61 0h4m55 0h2m-251 1h1m22 0h1m68 0h1m54 0h1m1 0h1m40 0h4m55 0h1m568 0h3m-654 1h2m-42 2h1m6 0h1m2 1h1m32 0h3m84 0h1m-104 1h1m1 0h1m13 0h2m34 0h2m41 0h2m6 0h2m-132 1h1m13 0h1m19 0h1m3 0h1m3 0h4m7 0h1m25 0h2m33 0h3m13 0h2m-158 1h1m4 0h1m20 0h2m40 0h3m4 0h1m2 0h2m25 0h2m33 0h3m13 0h2m382 0h2m236 0h2m64 0h1m-805 1h1m30 0h1m5 0h1m1 0h1m1 0h1m4 0h4m15 0h2m49 0h1m526 0h2m-689 1h1m1 0h3m80 0h1m5 0h3m66 0h2m564 0h1m-727 1h5m62 0h1m7 0h1m18 0h2m7 0h2m3 0h1m-15 1h2m8 0h1m621 0h1m149 0h3m-909 1h1m26 0h7m90 0h2m8 0h1m2 0h2m446 0h1m130 0h1m121 0h1m-845 1h1m5 0h1m27 0h3m1 0h1m46 0h1m45 0h1m7 0h3m1 0h2m577 0h2m-762 1h2m69 0h19m14 0h1m40 0h1m11 0h1m1 0h1m8 0h2m7 0h6m39 0h1m1 0h1m406 0h1m277 0h1m1 0h1m-912 1h3m74 0h2m1 0h1m1 0h1m1 0h3m1 0h2m33 0h1m97 0h4m571 0h2m-694 1h1m52 0h1m1 0h1m1 0h1m60 0h3m-69 1h2m1 0h2m60 0h4m-69 1h1m2 0h1m61 0h4m-101 2h1m3 3h1m30 0h2m-37 1h1m27 0h1m2 0h2m4 0h1m584 0h1m-593 1h1m-43 1h1m3 0h1m2 0h1m41 0h1m32 0h1m39 0h1m467 0h1m43 0h2m211 0h1m-841 1h1m12 0h1m25 0h1m587 0h1m47 0h4m28 0h1m124 0h1m-923 1h1m70 0h1m13 0h1m9 0h2m64 0h1m-69 1h4m35 0h1m462 0h2m-599 1h1m94 0h4m578 0h1m244 0h3m-830 1h1m1 0h1m1 0h1m1 0h1m63 0h2m-31 1h1m27 0h1m1 0h1m24 0h4m-32 1h4m-228 1h1m122 0h1m14 0h1m37 0h1m21 0h1m25 0h2m1 0h1m3 0h2m-233 1h1m122 0h1m35 0h1m64 0h2m5 0h2m-208 1h1m73 0h1m28 0h1m48 0h1m27 0h2m17 0h2m5 0h1m-207 1h1m134 0h1m15 0h1m28 0h2m17 0h2m5 0h2m-134 1h1m30 0h1m1 0h1m26 0h1m9 0h2m5 0h1m27 0h3m18 0h1m26 0h3m-143 1h1m17 0h3m25 0h3m5 0h1m1 0h2m35 0h2m4 0h1m23 0h2m39 0h1m3 0h1m549 0h1m-652 1h1m25 0h2m27 0h3m721 0h2m-800 1h2m4 0h1m1 0h3m4 0h1m28 0h1m5 0h1m7 0h2m14 0h3m591 0h4m125 0h3m-834 1h1m42 0h1m5 0h1m34 0h1m23 0h3m-176 1h1m1 0h1m62 0h4m4 0h1m33 0h1m7 0h1m1 0h1m2 0h1m28 0h1m8 0h1m14 0h3m41 0h1m1 0h1m-274 1h1m75 0h1m17 0h1m132 0h3m-203 1h3m85 0h1m61 0h1m49 0h1m1 0h1m15 0h2m-220 1h1m1 0h1m65 0h1m19 0h1m37 0h1m25 0h1m22 0h1m23 0h3m42 0h1m-119 1h2m47 0h1m14 0h1m9 0h1m-75 1h2m49 0h1m1 0h1m12 0h1m7 0h3m-86 1h2m7 0h2m51 0h1m13 0h1m6 0h3m-86 1h2m9 0h3m1 0h1m52 0h1m41 0h1m-111 1h2m9 0h5m53 0h1m2 0h1m-73 1h2m37 0h1m2 0h1m45 0h2m-53 1h5m25 0h1m21 0h1m-53 1h5m45 0h3m553 0h1m-555 1h1m-19 1h2m15 0h2m-107 1h1m63 0h2m40 0h1m35 0h1m732 0h1m-817 1h3m28 0h3m12 0h2m715 0h2m-796 1h1m2 0h2m24 0h1m8 0h1m20 0h2m1 0h1m1 0h1m12 0h2m539 0h2m69 0h1m-690 1h5m54 0h6m12 0h2m-105 1h1m28 0h2m33 0h2m20 0h5m12 0h2m610 0h1m-686 1h1m57 0h3m10 0h1m1 0h2m-77 1h3m56 0h4m10 0h1m-76 1h1m1 0h3m56 0h4m10 0h1m-206 1h1m113 0h1m10 0h4m63 0h1m1 0h1m61 0h1m695 0h1m-828 1h4m32 0h1m11 0h1m18 0h3m10 0h1m12 0h1m3 0h1m1 0h1m521 0h2m82 0h1m-717 1h1m46 0h1m1 0h1m6 0h1m28 0h2m4 0h2m3 0h1m4 0h2m1 0h1m1 0h3m3 0h1m31 0h1m-88 1h1m33 0h2m16 0h1m21 0h4m514 0h2m-651 1h1m64 0h2m13 0h1m50 0h4m-73 1h1m2 0h3m13 0h1m49 0h4m-78 1h1m4 0h1m3 0h2m1 0h2m11 0h1m26 0h2m4 0h2m14 0h4m497 0h1m-776 1h1m59 0h1m1 0h1m37 0h1m1 0h1m74 0h1m4 0h5m9 0h1m10 0h9m10 0h1m36 0h1m3 0h2m27 0h1m386 0h1m51 0h1m91 0h2m136 0h1m1 0h1m-787 1h7m19 0h1m1 0h5m1 0h1m42 0h3m6 0h2m15 0h1m490 0h1m51 0h2m30 0h1m-858 1h1m1 0h1m175 0h1m1 0h1m14 0h1m9 0h9m2 0h1m44 0h1m4 0h1m14 0h2m11 0h1m1 0h1m1 0h1m382 0h1m78 0h1m202 0h1m1 0h2m-789 1h4m14 0h1m20 0h1m10 0h1m29 0h1m6 0h2m14 0h2m602 0h1m-713 1h1m44 0h1m13 0h1m10 0h1m14 0h1m7 0h1m14 0h2m398 0h1m78 0h1m-542 1h1m22 0h2m14 0h2m5 0h2m14 0h1m491 0h1m-540 1h1m8 0h1m14 0h2m6 0h1m378 0h2m-518 1h1m51 0h4m29 0h1m21 0h1m22 0h1m473 0h1m-553 1h2m1 0h1m29 0h1m28 0h2m2 0h1m10 0h1m34 0h4m-104 1h1m28 0h1m16 0h1m2 0h3m10 0h2m3 0h2m31 0h2m1 0h1m355 0h1m136 0h2m145 0h1m-750 1h10m43 0h1m2 0h1m17 0h1m31 0h4m-268 1h1m156 0h6m1 0h1m1 0h2m44 0h1m15 0h2m1 0h2m30 0h3m1 0h1m434 0h1m71 0h1m-618 1h7m2 0h2m51 0h1m8 0h2m2 0h1m30 0h3m-86 1h3m1 0h3m7 0h1m22 0h1m14 0h1m30 0h1m1 0h1m-94 1h1m12 0h2m40 0h1m19 0h1m1 0h1m14 0h2m-96 1h1m1 0h1m1 0h1m1 0h5m15 0h1m31 0h1m34 0h3m-96 1h11m36 0h1m11 0h1m1 0h2m-36 1h1m26 0h1m534 0h3m-577 1h1m35 0h1m6 0h2m387 0h1m125 0h2m14 0h3m-694 1h1m161 0h1m1 0h1m508 0h1m1 0h1m15 0h3m-695 1h2m130 0h1m32 0h2m11 0h1m1 0h1m493 0h4m14 0h5m173 0h3m9 0h1m1 0h1m-885 1h2m131 0h1m31 0h2m383 0h1m123 0h1m1 0h1m15 0h5m31 0h9m109 0h2m22 0h3m9 0h1m-883 1h2m132 0h1m30 0h1m16 0h1m493 0h1m15 0h2m34 0h3m1 0h3m1 0h1m109 0h2m22 0h3m9 0h1m-882 1h1m116 0h1m9 0h1m3 0h1m25 0h1m4 0h1m1 0h2m15 0h1m493 0h1m15 0h1m35 0h9m109 0h2m22 0h3m-873 1h3m115 0h1m8 0h3m1 0h3m23 0h1m4 0h2m1 0h1m6 0h1m514 0h2m2 0h3m52 0h5m95 0h2m22 0h3m-872 1h2m128 0h2m25 0h1m4 0h1m1 0h1m521 0h1m5 0h1m50 0h1m3 0h3m33 0h2m8 0h2m50 0h1m23 0h1m1 0h1m-756 1h2m44 0h1m1 0h3m29 0h2m2 0h1m92 0h3m227 0h2m10 0h1m2 0h1m15 0h1m36 0h2m2 0h1m6 0h1m14 0h1m8 0h1m10 0h2m3 0h1m1 0h1m1 0h1m4 0h2m3 0h1m35 0h1m10 0h1m8 0h1m2 0h1m5 0h1m1 0h1m19 0h1m3 0h2m6 0h1m27 0h2m9 0h1m21 0h2m43 0h5m3 0h1m1 0h1m-843 1h1m105 0h1m2 0h1m21 0h1m1 0h3m1 0h1m29 0h2m2 0h1m92 0h3m223 0h1m1 0h1m13 0h1m18 0h1m22 0h1m13 0h2m2 0h1m6 0h1m14 0h1m8 0h1m10 0h2m3 0h1m1 0h1m1 0h1m4 0h2m3 0h1m6 0h3m37 0h1m8 0h1m2 0h1m1 0h1m3 0h1m21 0h1m11 0h1m27 0h2m3 0h2m3 0h2m21 0h2m20 0h2m5 0h2m14 0h1m3 0h1m3 0h1m22 0h3m-1026 1h1m10 0h1m128 0h1m3 0h1m6 0h1m8 0h1m6 0h1m19 0h2m24 0h1m5 0h1m6 0h1m21 0h1m12 0h1m30 0h1m34 0h2m2 0h1m118 0h1m199 0h1m1 0h1m13 0h1m18 0h1m22 0h1m2 0h1m10 0h2m5 0h2m2 0h1m14 0h1m8 0h1m10 0h2m3 0h1m1 0h1m1 0h1m4 0h2m3 0h1m6 0h3m46 0h1m2 0h1m1 0h1m37 0h1m17 0h1m5 0h1m4 0h1m21 0h1m9 0h2m10 0h1m9 0h2m4 0h3m22 0h2m22 0h1m1 0h1m-1027 1h1m10 0h1m119 0h1m12 0h1m6 0h1m6 0h1m1 0h1m6 0h1m19 0h2m24 0h1m5 0h1m6 0h1m21 0h1m16 0h1m53 0h1m330 0h1m1 0h1m13 0h1m44 0h1m17 0h2m2 0h1m23 0h1m17 0h1m1 0h1m9 0h1m6 0h4m47 0h4m55 0h1m5 0h1m3 0h2m43 0h1m16 0h1m48 0h2m-1012 1h1m11 0h1m2 0h1m3 0h1m9 0h1m9 0h1m13 0h1m10 0h1m18 0h1m8 0h1m23 0h1m12 0h1m6 0h1m6 0h1m1 0h1m3 0h1m2 0h1m19 0h2m24 0h1m5 0h1m27 0h2m48 0h1m4 0h1m8 0h1m16 0h4m318 0h1m1 0h1m6 0h1m51 0h1m17 0h2m63 0h4m47 0h4m55 0h1m5 0h1m114 0h2m-1012 1h1m11 0h1m79 0h1m21 0h1m1 0h1m19 0h1m5 0h2m8 0h1m28 0h1m1 0h2m13 0h1m35 0h1m2 0h1m18 0h1m24 0h1m32 0h3m353 0h1m142 0h1m16 0h4m32 0h1m143 0h1m-897 1h1m12 0h1m3 0h1m4 0h1m5 0h2m36 0h5m47 0h1m4 0h1m44 0h1m18 0h1m7 0h8m352 0h2m142 0h1m16 0h7m29 0h1m123 0h1m-877 1h1m12 0h1m3 0h1m4 0h1m5 0h2m37 0h4m100 0h1m15 0h1m8 0h1m1 0h5m353 0h1m159 0h7m29 0h1m90 0h2m31 0h1m19 0h1m-902 1h1m4 0h1m12 0h1m8 0h1m5 0h2m36 0h5m48 0h1m21 0h1m6 0h1m51 0h3m352 0h2m159 0h4m1 0h2m120 0h2m31 0h1m19 0h1m-902 1h1m4 0h1m12 0h1m8 0h1m5 0h2m117 0h1m1 0h1m21 0h1m525 0h2m20 0h4m120 0h2m-926 1h1m72 0h1m2 0h1m20 0h2m4 0h1m26 0h4m4 0h1m75 0h1m49 0h1m7 0h1m12 0h1m385 0h2m104 0h3m20 0h1m1 0h1m23 0h1m1 0h2m2 0h1m91 0h2m-936 1h1m9 0h1m46 0h1m24 0h2m2 0h1m26 0h1m26 0h1m1 0h1m5 0h1m44 0h1m20 0h1m1 0h1m7 0h1m4 0h1m48 0h1m16 0h1m385 0h2m39 0h1m63 0h1m1 0h2m46 0h4m2 0h2m90 0h2m17 0h1m-887 1h1m13 0h3m35 0h1m18 0h1m75 0h1m1 0h1m9 0h2m2 0h1m2 0h1m8 0h1m30 0h2m3 0h1m14 0h3m201 0h1m65 0h2m1 0h1m219 0h4m42 0h7m3 0h1m12 0h2m61 0h1m15 0h2m33 0h1m-888 1h1m36 0h1m18 0h1m77 0h1m1 0h4m1 0h1m2 0h2m3 0h1m1 0h1m5 0h1m3 0h1m30 0h1m5 0h1m11 0h2m1 0h1m431 0h1m58 0h1m1 0h2m65 0h2m77 0h2m-716 1h3m11 0h1m3 0h5m23 0h1m7 0h3m16 0h3m340 0h1m149 0h3m178 0h1m-744 1h1m1 0h1m4 0h1m10 0h1m31 0h1m1 0h1m360 0h1m148 0h3m-574 1h1m1 0h1m6 0h5m2 0h1m2 0h9m46 0h1m346 0h2m29 0h1m13 0h1m81 0h3m20 0h3m62 0h1m108 0h2m-727 1h2m1 0h1m2 0h1m4 0h1m21 0h1m495 0h2m20 0h1m173 0h1m20 0h1m-835 1h6m16 0h1m71 0h2m2 0h1m1 0h1m28 0h1m486 0h6m5 0h1m11 0h2m-640 1h3m1 0h1m611 0h3m1 0h1m5 0h1m11 0h2m-573 1h2m1 0h1m1 0h1m49 0h1m4 0h1m416 0h1m70 0h6m5 0h1m204 0h2m-766 1h7m26 0h1m1 0h1m20 0h1m502 0h1m-502 1h2m2 0h3m493 0h3m-537 1h1m5 0h1m28 0h1m4 0h1m493 0h3m-496 1h1m492 0h3m-521 1h1m24 0h1m12 0h1m479 0h3m-684 1h1m89 0h1m17 0h1m80 0h3m1 0h3m4 0h2m479 0h3m-565 1h4m43 0h1m26 0h4m-103 1h1m2 0h1m21 0h4m70 0h1m1 0h2m-78 1h4m20 0h1m25 0h1m23 0h4m497 0h1m-787 1h1m181 0h1m3 0h1m24 0h4m47 0h1m21 0h4m-59 1h1m5 0h1m49 0h1m-41 1h1m7 0h1m9 0h1m507 0h1m-543 1h1m7 0h2m12 0h1m1 0h4m6 0h2m-10 1h1m5 0h1m30 0h1m3 0h1m3 0h1m-46 1h2m2 0h1m28 0h1m352 0h2m-426 1h4m42 0h1m-48 1h4m27 0h2m3 0h2m9 0h1m27 0h1m349 0h1m303 0h2m-739 1h1m54 0h2m27 0h1m477 0h1m175 0h1m-693 1h1m10 0h2m-159 1h1m1 0h1m99 0h1m33 0h1m22 0h1m23 0h2m454 0h1m21 0h3m-521 1h1m15 0h1m23 0h1m9 0h2m-193 1h1m26 0h1m129 0h1m28 0h1m4 0h2m-32 1h1m-5 1h6m19 0h1m-46 1h1m19 0h2m1 0h2m-25 1h2m18 0h5m-46 1h3m1 0h1m16 0h1m20 0h3m5 0h1m-54 1h5m1 0h2m10 0h3m3 0h2m8 0h1m38 0h1m-270 1h1m187 0h1m1 0h1m5 0h8m10 0h3m1 0h1m1 0h2m-26 1h1m1 0h1m19 0h5m28 0h1m2 0h2m-258 1h1m1 0h1m189 0h1m5 0h4m18 0h5m4 0h1m12 0h1m7 0h1m3 0h1m1 0h1m3 0h1m-45 1h3m1 0h5m3 0h3m10 0h2m-51 1h1m35 0h1m1 0h1m-5 1h5m44 0h2m-27 1h1m7 0h1m5 0h1m479 2h2m-496 2h1m19 0h1m9 0h1m-24 1h2m11 0h1m11 0h1m-26 1h2m23 0h1m-8 3h1m11 1h1m-12 1h2m16 3h1m-14 2h1m19 1h1m-3 1h2m1 4h1m9 0h2m-29 1h1m17 0h1m7 0h3m-9 1h1m6 0h1m-7 1h1m4 0h2m-1 1h1m-24 2h1m-1 1h1m21 0h1m-24 1h1m22 0h2m-20 1h1m18 0h1m-19 1h1m0 2h1m0 1h1m18 3h1m-22 2h1m1 0h1m3 0h2m19 0h1m-29 1h5m3 0h2m22 0h1m-33 1h2m30 1h1m-17 1h1m17 0h2m-3 1h1m11 2h1m1 0h1m-3 1h3m-30 2h1m20 1h1m0 1h1m-22 2h1m1 0h1m19 0h1m-319 1h2m298 0h1m-344 1h1m1 0h1m1 0h1m36 0h1m1 0h2m297 0h1m-343 1h5m36 0h3m298 0h1m20 0h1m-1 2h1m-15 2h1m0 1h1m1 1h1m13 0h1m-12 2h1m1 0h1m17 0h1m-8 1h1m6 0h2m-32 1h2m22 0h1m6 0h1m-31 1h1m14 0h1m-17 1h2m17 1h1m10 0h1m-11 1h1m8 0h1m3 3h1m-10 2h1m10 0h1m-18 1h2m3 0h1m-5 1h2m17 0h1m-12 2h1m13 1h1m-13 1h1m10 0h1m4 0h1m-1 1h1m-15 2h1m11 0h1m-9 2h1m8 0h1m-11 1h1m12 1h1m-150 1h2m138 0h1m22 0h1m-164 1h2m140 0h1m20 0h3m-166 1h2m135 0h2m19 0h1m-1 1h1m-15 1h1m17 1h1m1 1h2m-1 1h1m2 1h1m0 1h1m-410 4h3m384 0h2m-388 1h1m1 0h1m-4 1h4m407 0h1m0 1h1m-23 1h1m23 0h1m-30 1h2m26 0h1m-28 1h1m4 0h1m-6 1h1m4 0h2m0 3h1m21 0h1m-22 1h1m21 1h1m-175 1h1m157 0h1m0 1h1m1 1h1m-2 1h1m5 1h1m1 1h1m13 3h1m7 3h2m0 1h1m2 0h1m-19 1h1m12 0h1m1 0h1m6 1h1m0 1h1m-5 1h1m4 0h1m4 0h2m-11 1h1m8 0h2m-7 1h1m-1 1h1m-22 2h1m1 0h1m27 0h2m-32 1h1m23 0h1m5 0h2m-31 1h2m22 0h1m-2 2h1m-24 1h1m3 1h1m19 0h1m1 0h1m-22 1h1m-4 2h1m0 1h1m0 1h1m1 0h2m20 0h1m-2 1h1m-18 2h1m2 0h1m-3 1h1m3 0h1m-12 1h2m-2 1h2m9 0h1m16 0h1m-12 1h1m-2 1h1m33 0h1m-46 1h2m42 0h2m-46 1h2m42 0h2m-18 1h1m-12 1h1m20 0h2m-7 1h2m4 1h1m5 2h2m-25 1h1m17 0h1m5 0h1m-3 1h2m-22 4h1m-1 1h1m22 3h1m2 0h1m-28 1h1m26 0h1m-28 1h1m1 0h1m22 0h1m1 0h1m-23 1h1m20 1h1m-30 3h2m7 0h1m21 0h1m-33 1h3m5 0h1m1 0h1m-3 1h2m8 1h1m1 1h1m1 1h1m-5 1h3m4 1h1m16 5h1m2 0h1m9 3h1m-2 1h2m-19 1h1m12 1h1m0 1h1m-251 1h1m235 0h1m17 4h1m-13 1h1m13 0h1m-14 1h1m13 0h1m-18 3h1m-2 1h2m7 0h1m11 1h1m-12 1h1m11 0h1m-12 1h1m4 3h1m0 1h1m8 0h1m-5 4h1m10 0h1m9 1h1m-7 1h1m4 0h2m-3 1h1m1 0h1m-18 4h1m18 0h1m0 1h1m0 1h1m-20 2h1m20 1h1m0 1h1m-22 2h1m23 0h1m-26 1h1m23 0h1m-26 1h3m3 2h1m19 0h1m-20 1h1m0 1h1m18 0h1m-17 2h1m0 1h1m2 2h1m14 0h1m5 0h1m-23 1h1m3 0h1m17 0h1m-17 1h1m12 1h1m-9 2h1m11 0h1m1 1h1m1 1h1m-14 1h1m24 0h2m-11 1h1m8 0h2m-10 1h1m6 0h3m-30 1h2m19 0h1m-17 1h1m17 1h2m-19 1h1m0 2h1m23 1h3m-9 1h1m5 0h3m-325 1h1m299 0h1m-301 1h1m300 0h1m0 1h1m-303 1h1m303 1h1m-1 1h1m15 0h1m-12 1h1m-9 2h1m-3 1h3m-3 1h3m13 0h1m16 0h1m-6 1h1m1 0h1m2 0h1m-25 1h2m39 0h2m-43 1h2m39 0h1m-42 1h2m24 0h1m0 1h1m1 0h1m-17 2h1m17 0h1m1 0h2m-4 1h1m-19 1h1m366 0h2m-1 1h1m-347 1h1m1 0h1m-26 1h2m21 0h1m0 1h1m-21 1h1m20 0h1m-21 1h1m20 0h2m9 1h1m-33 1h1m22 0h1m-22 2h2m19 0h1m0 1h1m216 0h3m54 0h3m-299 1h1m238 0h3m55 0h1m-298 1h1m239 0h2m-238 1h2m234 0h2m-236 1h1m-3 1h1m2 0h1m0 1h1m16 0h1m-18 1h1m1 1h1m1 0h1m-18 1h2m16 0h1m14 0h1m-34 1h1m36 0h1m-2 1h1m-13 1h1m13 0h1m1 1h1m3 0h1m265 0h2m-3 1h1m1 0h1m-285 1h1m217 0h3m61 0h2m-66 1h1m1 0h1m63 0h2m87 0h2m-388 1h1m230 0h3m63 0h2m87 0h2m-373 1h1m17 0h1m197 0h1m1 0h1m63 0h1m-645 1h4m357 0h1m19 0h1m198 0h1m-218 1h1m18 0h2m-384 1h4m360 1h1m19 0h1m-386 1h1m-1 1h1m387 0h1m-2 1h1m-23 1h1m368 0h3m-349 1h1m334 0h2m8 0h4m-733 1h1m389 0h1m328 0h1m9 0h2m-365 1h1m23 0h2m-25 1h1m17 0h1m-18 1h1m18 0h1m175 0h2m-197 1h1m194 0h2m-195 1h1m192 0h2m-1 1h1m-569 1h4m373 0h1m189 0h2m-193 1h1m2 0h1m187 0h2m-187 1h1m184 0h2m-569 1h1m382 1h1m13 1h1m15 1h2m-35 1h2m18 0h1m13 0h1m136 0h2m-539 1h1m1 0h1m364 0h1m24 0h2m143 0h1m-537 1h2m389 0h4m141 0h2m24 0h3m157 0h2m-347 1h1m14 0h4m70 0h1m1 0h1m85 0h3m5 0h3m157 0h1m-330 1h1m72 0h3m85 0h3m-91 1h3m-504 1h1m54 0h1m1 0h1m356 0h1m28 0h1m1 0h1m18 0h1m47 0h2m4 0h1m2 0h2m2 0h1m48 0h1m20 0h1m16 0h1m2 0h1m106 0h1m-723 1h1m11 0h1m2 0h1m39 0h1m387 0h1m1 0h1m18 0h1m47 0h2m4 0h1m2 0h2m2 0h1m5 0h1m8 0h1m33 0h1m34 0h1m2 0h1m2 0h1m106 0h1m32 0h2m-895 1h1m9 0h1m4 0h1m51 0h1m526 0h2m54 0h2m4 0h1m2 0h2m2 0h1m5 0h1m2 0h1m5 0h1m214 0h2m-895 1h1m14 0h1m51 0h1m569 0h1m31 0h1m2 0h1m5 0h1m192 0h1m21 0h1m-257 1h1m233 0h2m20 0h2m-731 1h1m1 0h1m405 0h1m63 0h2m43 0h4m186 0h1m21 0h1m-736 1h3m2 0h4m386 0h2m16 0h1m2 0h1m61 0h2m43 0h4m16 0h1m-561 1h1m411 0h3m18 0h1m19 0h1m18 0h1m50 0h1m6 0h1m11 0h2m8 0h2m5 0h2m-613 1h1m464 0h3m16 0h1m110 0h1m8 0h2m-606 1h1m464 0h2m17 0h1m39 0h1m59 0h1m9 0h2m8 0h2m6 0h1m82 0h1m-230 1h1m137 0h2m5 0h2m-123 1h1m33 0h1m59 0h1m19 0h2m-116 1h1m113 0h2m5 0h2m-684 1h1m53 0h1m478 0h1m12 0h1m11 0h1m15 0h2m34 0h1m27 0h1m14 0h1m3 0h1m18 0h1m5 0h2m12 0h1m1 0h1m1 0h1m78 0h1m-247 1h2m10 0h1m23 0h2m3 0h2m107 0h1m-628 1h1m491 0h2m12 0h1m6 0h1m6 0h1m33 0h1m55 0h1m1 0h1m27 0h1m1 0h1m-153 1h2m14 0h1m6 0h2m-7 1h1m1 0h1m2 0h2m37 0h1m48 0h1m175 0h1m-281 1h1m12 0h1m3 0h1m113 1h1m-116 1h1m96 0h3m14 0h3m-135 1h2m2 1h2m-17 1h2m127 0h1m-113 1h1m111 0h1m-130 1h2m32 0h1m94 0h1m-514 1h1m400 0h2m17 0h1m49 0h1m42 0h1m58 0h1m162 0h1m-223 1h1m-17 1h1m1 0h1m7 0h3m62 0h1m145 0h1m-734 1h2m411 0h4m2 0h1m102 0h3m4 0h1m-117 1h1m1 0h3m19 0h1m76 0h1m68 0h1m1 0h1m-149 1h1m-437 1h3m521 0h2m-87 1h2m-30 1h2m10 0h1m-13 1h2m25 0h1m-467 1h1m1 0h1m1 0h1m423 0h1m4 0h1m7 0h1m10 0h1m15 0h1m196 0h1m-238 1h1m40 0h1m-14 1h2m169 0h1m39 0h1m-190 1h1m81 0h3m-527 1h2m4 0h1m418 0h1m16 0h2m80 0h3m102 0h1m1 0h1m-632 1h2m421 0h1m13 0h1m2 0h1m2 0h1m80 0h1m1 0h1m-104 1h1m2 0h1m20 0h1m1 0h1m1 0h1m72 0h3m8 0h1m32 0h4m-582 1h3m434 0h1m19 0h1m1 0h1m74 0h3m8 0h1m-546 1h3m397 0h2m50 0h1m4 0h1m76 0h3m-83 1h1m1 0h1m77 0h1m1 0h1m-81 1h1m78 0h2m1 0h2m-540 1h2m439 0h1m19 0h1m73 0h2m-77 1h2m73 0h2m-77 1h1m64 0h1m-524 1h3m436 0h1m83 0h1m18 0h2m-748 1h1m1 0h1m30 0h1m170 0h3m15 0h1m440 0h1m8 0h1m1 0h1m53 0h1m1 0h1m122 0h1m91 0h1m-305 1h2m3 0h1m80 0h4m-731 1h1m3 0h1m637 0h2m83 0h1m217 0h1m-744 1h4m441 0h1m-646 1h1m606 0h1m1 0h1m1 0h1m33 1h2m-5 1h3m92 0h2m-57 1h2m53 0h2m42 0h1m138 0h2m-280 1h2m36 0h1m57 0h1m5 0h2m-98 1h2m20 0h3m4 0h2m58 0h2m-97 1h1m4 0h2m2 0h1m17 0h4m3 0h3m1 0h1m2 0h3m-3 1h1m-9 1h2m6 0h1m1 0h2m2 0h1m-13 1h1m4 0h2m1 0h1m3 0h1m149 0h1m-161 1h1m4 0h2m38 0h4m-49 1h1m4 0h1m-4 1h1m-65 1h1m76 0h1m13 0h1m117 0h1m12 0h1m1 0h1m49 0h1m26 0h1m1 0h1m-721 1h3m458 0h1m-49 1h1m1 0h1m35 0h1m8 0h2m24 0h1m69 0h1m3 0h1m78 0h1m78 0h1m1 0h1m-261 1h2m72 0h1m1 0h3m-88 1h1m8 0h2m25 0h1m20 0h1m28 0h3m16 0h1m98 0h1m62 0h1m3 0h1m-236 1h1m151 0h1m79 0h3m-891 1h1m658 0h1m15 0h1m30 0h7m12 0h1m-94 1h1m55 0h2m3 0h1m13 0h1m1 0h1m1 0h3m-84 1h1m1 0h1m25 0h1m29 0h2m3 0h3m114 0h1m-182 1h2m2 0h1m25 0h1m-491 1h4m401 0h2m53 0h2m27 0h1m-87 1h4m58 0h2m-8 1h1m1 0h1m-451 1h1m385 0h3m67 0h1m-70 1h2m58 0h1m5 0h1m29 0h2m84 0h4m-187 1h3m58 0h1m2 0h4m27 0h1m1 0h1m1 0h1m1 0h1m-38 1h1m3 0h2m24 0h1m1 0h1m-33 1h1m1 0h3m37 0h1m-745 1h1m168 0h1m56 0h1m27 0h1m412 0h1m36 0h1m6 0h1m21 0h1m2 0h1m7 0h1m76 0h1m57 0h2m45 0h1m-214 1h2m-715 1h1m172 0h1m41 0h1m6 0h1m574 0h1m124 0h1m3 0h1m55 0h1m-742 1h3m460 0h2m11 0h1m1 0h1m15 0h1m144 0h1m-640 1h3m471 0h1m2 0h1m32 0h2m44 0h1m184 0h1m-258 1h1m11 0h1m14 0h1m-112 1h3m80 0h1m2 0h1m23 0h2m-112 1h3m81 0h1m-732 1h1m3 0h1m242 0h3m465 0h1m13 0h2m5 0h1m94 0h1m41 0h1m3 0h1m20 0h1m1 0h1m-172 1h1m3 0h1m15 0h1m5 0h1m211 0h2m-722 1h4m479 0h1m7 0h1m15 0h2m117 0h1m93 0h2m-205 1h1m-518 1h4m396 0h3m10 0h1m69 0h1m24 0h1m8 0h2m67 0h1m-70 1h1m62 0h3m-73 1h1m1 0h2m-114 1h3m110 0h1m-114 1h3m92 0h1m-496 1h3m482 0h2m28 0h1m205 0h1m-722 1h3m513 0h1m9 0h4m-130 1h3m236 0h1m-600 1h1m366 0h1m66 0h1m40 0h1m6 0h2m13 0h2m30 0h1m56 0h1m58 0h1m-190 1h1m25 0h4m2 0h1m9 0h1m-539 1h4m464 0h1m3 0h1m22 0h2m1 0h1m24 0h2m12 0h1m145 0h1m20 0h1m3 0h1m-192 1h1m-28 1h1m1 0h1m7 0h1m17 0h1m18 0h2m41 0h4m97 0h1m22 0h1m-304 1h3m86 0h3m44 0h2m41 0h4m55 0h1m-140 1h1m24 0h2m1 0h1m8 0h2m39 0h6m-753 1h1m575 0h1m5 0h1m14 0h1m71 0h2m19 0h1m6 0h1m51 0h4m-182 1h2m119 0h1m11 0h1m44 0h4m-608 1h1m1 0h1m22 0h4m404 0h1m1 0h1m16 0h1m1 0h1m72 0h1m2 0h1m28 0h2m40 0h1m1 0h5m1 0h1m1 0h2m21 0h1m-610 1h4m499 0h1m72 0h1m2 0h9m-588 1h4m408 0h1m3 0h1m79 0h3m9 0h1m21 0h1m11 0h1m33 0h1m2 0h2m5 0h1m132 0h2m-719 1h2m493 0h1m11 0h1m22 0h1m47 0h2m3 0h2m-113 1h2m57 0h1m46 0h2m4 0h1m14 0h2m-203 1h3m71 0h2m58 0h2m49 0h1m15 0h3m-92 1h1m72 0h1m15 0h3m-589 1h1m1 0h1m1 0h1m485 0h2m29 0h1m65 0h2m106 0h3m-698 1h5m384 0h2m21 0h2m76 0h3m5 0h1m23 0h1m64 0h2m106 0h3m-698 1h5m384 0h2m21 0h2m35 0h1m9 0h2m30 0h2m30 0h1m28 0h1m34 0h2m106 0h3m-721 1h3m22 0h3m384 0h3m1 0h1m18 0h2m19 0h2m1 0h2m11 0h1m10 0h1m30 0h1m4 0h1m27 0h2m61 0h1m106 0h1m3 0h1m-721 1h1m23 0h1m1 0h1m384 0h5m5 0h1m4 0h1m11 0h1m18 0h2m12 0h1m10 0h1m27 0h1m7 0h1m28 0h1m26 0h4m31 0h2m107 0h1m1 0h1m-723 1h6m20 0h3m399 0h1m11 0h1m19 0h1m12 0h1m38 0h1m36 0h1m18 0h3m1 0h2m1 0h5m92 0h1m72 0h2m5 0h1m-910 1h1m12 0h1m119 0h1m4 0h1m1 0h1m3 0h1m12 0h1m1 0h1m45 0h1m16 0h1m357 0h1m4 0h1m30 0h2m51 0h1m2 0h1m4 0h2m29 0h1m2 0h1m13 0h3m1 0h1m2 0h6m23 0h1m32 0h1m1 0h1m2 0h1m20 0h2m11 0h3m21 0h1m61 0h2m-921 1h1m12 0h1m119 0h1m69 0h1m1 0h1m16 0h1m365 0h5m76 0h1m37 0h1m16 0h1m2 0h1m33 0h1m11 0h1m4 0h1m4 0h1m3 0h1m1 0h1m30 0h2m11 0h1m1 0h1m19 0h3m61 0h2m-830 1h1m1 0h2m31 0h1m70 0h1m7 0h1m388 0h1m166 0h1m48 0h1m24 0h1m-743 1h1m32 0h1m555 0h1m127 0h2m-625 1h5m-9 1h9m491 0h1m23 0h1m100 0h2m63 0h2m-688 1h5m412 0h7m25 0h1m47 0h1m123 0h2m63 0h2m3 0h1m-307 1h6m26 0h2m1 0h3m1 0h3m65 0h2m4 0h1m22 0h1m164 0h2m3 0h1m-307 1h7m25 0h10m22 0h1m43 0h1m4 0h1m23 0h1m31 0h2m8 0h2m121 0h1m-253 1h2m1 0h1m10 0h2m1 0h1m31 0h1m1 0h1m1 0h3m9 0h1m54 0h1m8 0h2m120 0h2m-712 1h2m446 0h1m10 0h4m10 0h2m1 0h2m30 0h2m2 0h3m10 0h1m20 0h1m31 0h2m8 0h5m117 0h2m5 0h3m1 0h1m-722 1h1m447 0h1m25 0h1m1 0h1m49 0h1m51 0h2m1 0h3m133 0h6m-247 1h2m49 0h1m50 0h2m1 0h3m133 0h1m1 0h3m-246 1h1m50 0h3m49 0h1m137 0h6m-723 1h1m408 0h1m2 0h1m1 0h2m60 0h2m53 0h1m3 0h1m118 0h2m13 0h1m19 0h1m16 0h4m6 0h1m6 0h1m4 0h1m2 0h1m2 0h1m23 0h1m-923 1h1m156 0h8m407 0h2m1 0h2m1 0h3m5 0h1m53 0h2m41 0h1m10 0h1m6 0h1m12 0h1m28 0h1m8 0h4m48 0h1m13 0h2m33 0h1m16 0h4m6 0h1m6 0h1m34 0h1m-923 1h2m26 0h1m16 0h1m34 0h2m40 0h1m26 0h1m7 0h6m1 0h3m418 0h2m29 0h1m8 0h1m15 0h1m60 0h1m1 0h1m37 0h3m7 0h4m25 0h1m3 0h1m-710 1h1m4 0h1m54 0h1m12 0h1m7 0h5m15 0h9m9 0h1m390 0h1m21 0h2m6 0h1m8 0h1m103 0h3m168 0h2m-826 1h1m59 0h1m23 0h2m14 0h1m1 0h1m1 0h3m1 0h2m508 0h1m26 0h2m8 0h1m152 0h2m-726 1h2m13 0h8m-8 1h5m529 0h1m-539 1h2m631 0h3m76 1h3m-326 1h3m-3 1h1m1 0h1m165 0h1m172 0h1m-173 1h1m154 0h2m-320 1h2m163 0h1m-566 1h2m544 0h1m19 0h1m75 0h3m-792 1h1m559 0h1m1 0h1m54 0h1m1 0h1m1 0h1m13 0h1m1 0h1m55 0h1m18 0h1m18 0h1m56 0h4m6 0h1m1 0h1m39 0h1m1 0h1m-711 2h1m427 0h1m1 0h1m170 0h1m108 0h1m-167 1h1m41 0h1m24 0h2m-185 1h1m56 0h1m56 0h2m42 0h2m22 0h1m1 0h1m70 0h1m-142 1h2m39 0h2m25 0h3m-71 1h3m22 0h1m30 0h1m121 0h1m12 0h2m-175 1h1m7 0h1m45 0h2m-601 1h3m524 0h2m16 0h1m53 0h2m-74 1h1m17 0h2m7 0h1m1 0h1m18 0h3m21 0h2m-598 1h6m546 0h1m17 0h1m-574 1h9m374 0h3m1 0h3m137 0h2m-526 1h6m374 0h7m134 0h1m1 0h3m32 0h1m16 0h1m11 0h1m-590 1h10m386 0h2m107 0h1m19 0h3m32 0h1m19 0h2m14 0h2m27 0h1m3 0h1m10 0h1m49 0h1m53 0h1m-740 1h2m1 0h1m387 0h2m127 0h3m55 0h2m131 0h3m-858 1h1m1 0h1m141 0h5m386 0h2m127 0h3m30 0h2m27 0h2m7 0h1m30 0h1m14 0h1m39 0h1m57 0h1m3 0h1m-740 1h4m518 0h1m31 0h1m36 0h2m-599 1h2m564 0h1m24 0h1m5 0h2m2 0h2m23 0h1m16 0h1m-52 1h1m4 0h2m1 0h3m-603 1h1m399 0h1m164 0h1m32 0h1m2 0h2m-67 1h1m1 0h3m3 0h1m20 0h1m29 0h1m2 0h1m1 0h2m-206 1h2m117 0h3m18 0h6m1 0h2m20 0h1m34 0h3m-674 1h1m13 0h1m408 0h2m42 0h2m44 0h1m69 0h1m31 0h1m23 0h1m27 0h2m3 0h2m-701 1h1m26 0h1m13 0h1m51 0h3m354 0h4m11 0h4m25 0h2m44 0h1m69 0h1m2 0h1m23 0h2m56 0h1m110 0h2m-880 1h1m5 0h1m63 0h1m1 0h1m14 0h1m11 0h1m11 0h1m1 0h1m30 0h2m19 0h3m354 0h4m11 0h1m1 0h1m72 0h1m39 0h1m3 0h1m12 0h1m10 0h8m21 0h2m73 0h1m26 0h1m1 0h1m64 0h2m7 0h2m-889 1h1m71 0h1m14 0h1m11 0h1m13 0h1m30 0h2m19 0h3m369 0h5m70 0h1m15 0h1m23 0h1m16 0h1m10 0h10m19 0h2m28 0h1m28 0h1m2 0h1m143 0h3m-753 1h1m1 0h1m484 0h1m16 0h1m10 0h7m1 0h2m49 0h1m29 0h1m42 0h2m74 0h4m23 0h2m-752 1h3m484 0h1m27 0h7m45 0h1m40 0h1m2 0h2m34 0h2m21 0h2m51 0h4m15 0h2m-903 1h1m27 0h1m46 0h1m1 0h1m81 0h3m432 0h1m63 0h1m21 0h1m39 0h1m13 0h1m71 0h2m21 0h1m70 0h3m-744 1h3m517 0h2m53 0h1m49 0h2m21 0h2m-834 1h1m183 0h1m1 0h1m432 0h1m67 0h1m17 0h1m1 0h1m1 0h2m14 0h3m4 0h2m13 0h1m43 0h1m11 0h1m5 0h2m6 0h1m14 0h2m36 0h1m-687 1h3m517 0h5m16 0h3m4 0h2m57 0h1m3 0h1m130 0h1m-312 1h1m1 0h1m86 0h2m21 0h1m4 0h2m26 0h1m79 0h1m1 0h1m-253 1h1m136 0h1m4 0h2m26 0h1m34 0h1m33 0h3m91 0h2m-198 1h1m29 0h1m35 0h1m1 0h1m127 0h1m-723 1h1m560 0h1m-562 1h1m387 0h2m172 0h1m-563 1h1m590 0h1m2 0h1m33 0h2m-630 1h1m591 0h1m1 0h1m-608 1h3m8 0h3m387 0h2m158 0h2m14 0h1m26 0h1m-593 1h2m515 0h3m28 0h1m1 0h1m16 0h1m61 0h2m-644 1h1m11 0h3m546 0h3m7 0h1m1 0h4m3 0h2m-582 1h1m11 0h2m557 0h1m2 0h5m4 0h1m23 0h1m9 0h1m-618 1h3m562 0h3m16 0h1m24 0h1m7 0h2m-619 1h3m562 0h3m8 0h1m1 0h2m29 0h1m7 0h2m4 0h1m128 0h2m-1030 1h1m1 0h1m68 0h1m167 0h1m1 0h1m34 0h2m10 0h3m425 0h1m134 0h6m2 0h1m33 0h2m3 0h2m113 0h1m-731 1h3m3 0h1m507 0h3m51 0h3m1 0h2m7 0h2m33 0h1m-831 1h1m1 0h1m19 0h1m1 0h1m33 0h1m669 0h8m56 0h1m9 0h1m1 0h1m12 0h1m6 0h1m88 0h1m1 0h1m1 0h1m-189 1h5m1 0h1m63 0h1m3 0h1m14 0h1m5 0h1m2 0h2m99 0h2m29 0h2m-957 1h1m15 0h1m786 0h1m11 0h1m7 0h2m-37 1h1m3 0h1m1 0h2m2 0h2m125 0h1m15 0h1m-737 1h3m580 0h1m15 0h2m11 0h2m26 0h2m78 0h1m-192 1h1m73 0h1m115 0h2m-117 1h1m114 0h2m15 0h1m-905 1h1m96 0h1m86 0h1m498 0h1m89 0h1m16 0h1m68 0h1m27 0h2m-99 1h1m97 0h1m-753 1h1m6 0h1m631 0h1m83 0h1m26 0h2m-191 1h1m77 0h1m11 0h1m98 0h2m14 0h2m-724 1h2m566 0h1m5 0h1m34 0h1m69 0h1m27 0h1m-708 1h2m530 0h1m53 0h4m1 0h2m19 0h1m78 0h1m-105 1h3m26 0h1m74 0h1m-74 1h1m4 0h1m67 0h1m14 0h1m-190 1h1m74 0h2m-62 1h1m59 0h2m7 0h1m18 0h2m1 0h1m5 0h1m-57 1h2m14 0h1m32 0h1m5 0h1m4 0h1m2 0h1m-64 1h2m13 0h3m11 0h1m33 0h1m54 0h1m30 0h2m-207 1h1m80 0h2m36 0h1m54 0h1m10 0h4m-82 1h1m11 0h1m54 0h1m10 0h3m-188 1h1m85 0h1m21 0h1m10 0h1m54 0h1m10 0h4m-716 1h3m643 0h1m27 0h2m1 0h1m23 0h1m-891 1h1m1 0h1m593 0h1m58 0h1m25 0h1m1 0h1m9 0h1m62 0h1m3 0h1m64 0h1m9 0h1m17 0h1m9 0h4m23 0h1m34 0h1m-101 1h3m7 0h1m27 0h2m1 0h1m23 0h1m-133 1h1m14 0h1m29 0h1m23 0h1m37 0h2m23 0h1m37 0h1m1 0h1m-216 1h1m111 0h1m38 0h1m22 0h2m46 0h2m-258 1h1m74 0h1m47 0h1m84 0h2m30 0h1m1 0h1m6 0h1m1 0h1m-744 1h3m523 0h1m173 0h2m-85 1h1m82 0h2m-85 1h1m83 0h1m-176 1h1m91 0h1m82 0h1m-705 1h3m1 0h1m348 0h1m264 0h1m1 0h1m23 0h1m74 0h1m-720 1h5m348 0h2m269 0h1m-272 1h1m271 0h1m78 0h1m-218 1h1m56 0h1m5 0h1m76 0h2m75 0h1m-864 1h1m9 0h1m562 0h1m22 0h1m3 0h1m23 0h1m3 0h1m1 0h1m2 0h1m12 0h1m2 0h1m15 0h1m5 0h1m37 0h1m77 0h1m-731 1h1m11 0h1m67 0h1m23 0h1m547 0h1m39 0h1m3 0h1m2 0h1m10 0h1m12 0h1m6 0h3m-733 1h1m11 0h1m91 0h1m436 0h1m1 0h1m27 0h1m7 0h1m79 0h1m12 0h1m10 0h1m8 0h1m3 0h1m2 0h1m10 0h1m11 0h1m83 0h1m47 0h1m-197 1h2m25 0h3m4 0h1m64 0h1m6 0h1m93 0h3m-392 1h2m165 0h2m20 0h2m14 0h1m1 0h1m6 0h1m1 0h5m48 0h1m20 0h1m4 0h2m92 0h3m-393 1h1m1 0h1m165 0h2m20 0h2m28 0h2m-588 1h1m1 0h1m363 0h2m1 0h3m159 0h2m88 0h1m35 0h1m4 0h1m-663 1h3m366 0h2m161 0h1m123 0h1m1 1h1m3 0h1m-42 1h8m33 0h1m-2 1h2m-3 1h1m1 0h1m8 0h1m-220 1h1m42 0h1m61 0h1m31 0h1m81 0h1m88 0h1m-218 1h2m117 0h1m8 0h1m-177 1h1m47 0h2m12 0h1m31 0h1m53 1h1m-171 1h1m55 0h2m116 0h1m71 0h1m2 0h1m-194 1h2m113 0h1m1 0h1m72 0h3m-74 1h1m71 0h1m-718 1h1m647 1h1m99 0h2m-103 1h1m23 0h2m-33 1h2m1 0h1m1 0h4m1 0h1m20 0h2m2 0h2m-36 1h1m29 0h1m4 0h1m-6 1h2m-148 1h1m176 0h1m-122 1h2m89 0h1m3 0h1m-765 1h1m668 0h1m42 0h1m48 0h1m85 0h1m-220 1h1m133 0h1m-677 1h3m525 0h2m30 0h1m116 0h1m79 0h1m-758 1h3m525 0h1m-1 1h3m119 0h3m7 3h4m-4 1h2m1 0h1m1 0h1m0 1h1m-42 1h3m39 0h1m62 0h1m1 0h1m-721 1h1m612 0h3m33 0h1m6 0h1m16 0h1m44 0h3m1 0h2m-110 1h1m1 0h1m32 0h2m2 0h1m19 0h1m3 0h1m41 0h2m1 0h1m-110 1h5m55 0h1m45 0h2m1 0h2m-734 1h2m730 0h2m-248 1h1m21 0h1m75 0h1m140 0h2m7 0h1m24 0h1m-34 1h1m-878 1h1m1 0h1m654 0h1m62 0h1m117 0h1m22 0h1m14 0h2m-39 1h1m19 0h1m1 0h1m15 0h1m-876 1h1m632 0h1m1 0h1m17 0h1m170 0h3m12 0h1m17 0h3m-3 1h3m-171 1h2m152 1h1m20 0h2m-41 1h1m4 0h1m20 0h2m11 0h1m-717 1h2m526 0h1m154 0h1m-702 1h1m17 0h2m465 0h1m60 0h1m39 0h1m40 0h1m1 0h1m1 0h1m89 0h1m54 0h1m-232 1h2m155 0h1m20 0h1m4 0h2m1 0h1m-799 1h1m90 0h7m403 0h1m138 0h1m150 0h2m27 0h1m1 0h1m-732 1h7m695 0h1m1 0h1m1 0h1m-798 1h1m639 0h1m1 0h1m151 0h1m1 0h3m-713 1h1m685 0h1m-694 1h5m1 0h3m-9 1h4m2 0h2m713 0h1m3 0h1m-5 1h1m3 0h1m16 0h1m1 0h3m-401 1h1m373 0h1m23 0h4m-402 1h2m398 0h1m-342 1h2m227 0h4m-18 1h3m3 0h14m2 0h2m2 0h1m102 0h2m-951 1h1m241 0h1m470 0h1m1 0h1m31 0h2m59 0h1m60 0h1m24 0h1m1 0h1m52 0h2m-709 1h2m503 0h2m18 0h1m126 0h1m55 0h1m-955 1h1m1 0h1m102 0h1m12 0h1m50 0h1m581 0h2m59 0h1m88 0h1m51 0h2m11 0h1m1 0h1m-1006 1h2m140 0h1m46 0h1m16 0h1m581 0h2m149 0h1m33 0h1m16 0h2m-992 1h2m75 0h1m110 0h2m564 0h1m24 0h3m1 0h2m40 0h2m22 0h1m89 0h1m41 0h1m8 0h2m-915 1h1m110 0h2m589 0h6m40 0h2m113 0h1m26 0h1m13 0h1m-211 1h1m158 0h3m8 0h1m23 0h1m1 0h1m6 0h3m2 0h3m-214 1h3m160 0h2m5 0h1m1 0h1m27 0h1m10 0h1m1 0h1m-725 1h1m510 0h3m1 0h1m156 0h4m5 0h1m2 0h1m24 0h1m-721 1h2m401 0h3m116 0h3m9 0h2m158 0h2m26 0h4m-726 1h1m403 0h1m120 0h2m15 0h2m78 0h3m67 0h1m2 0h1m26 0h2m1 0h3m-728 1h1m537 0h4m80 0h3m75 0h1m-701 1h1m537 0h2m1 0h1m80 0h3m73 0h2m24 0h3m15 0h1m-743 1h2m536 0h4m8 0h1m19 0h1m9 0h1m41 0h1m1 0h1m63 0h2m33 0h1m18 0h1m-957 1h1m64 0h1m44 0h1m77 0h1m1 0h1m491 0h1m1 0h1m1 0h1m66 0h3m4 0h1m3 0h1m2 0h1m8 0h1m7 0h1m9 0h1m1 0h2m28 0h2m3 0h1m17 0h1m19 0h2m31 0h1m36 0h2m1 0h1m2 0h1m1 0h1m2 0h1m1 0h1m3 0h1m8 0h1m-901 1h1m9 0h1m154 0h2m455 0h1m64 0h4m4 0h1m3 0h1m2 0h1m8 0h1m7 0h1m11 0h2m20 0h1m3 0h3m1 0h3m41 0h2m52 0h1m31 0h1m-769 1h1m1 0h1m39 0h1m441 0h1m9 0h1m1 0h1m2 0h1m21 0h2m20 0h1m21 0h1m1 0h1m40 0h2m20 0h1m1 0h6m44 0h1m41 0h2m12 0h1m23 0h1m5 0h1m4 0h2m8 0h1m1 0h1m-784 1h1m17 0h9m455 0h1m14 0h1m21 0h2m6 0h1m13 0h1m24 0h2m38 0h2m71 0h1m53 0h2m20 0h3m12 0h3m-965 1h1m1 0h1m207 0h5m3 0h1m469 0h1m238 0h1m1 0h2m19 0h2m2 0h1m7 0h1m1 0h1m-755 1h7m378 0h2m332 0h2m2 0h1m13 0h1m3 0h1m-357 1h1m333 0h1m2 0h1m12 0h1m1 0h1m3 0h1m-23 1h2m1 0h1m1 0h1m11 0h2m3 0h1m-730 1h3m5 0h1m527 0h1m171 0h1m1 0h1m1 0h1m16 0h1m-55 1h1m1 0h1m23 0h1m6 0h1m20 0h1m-724 1h1m668 0h4m25 0h1m7 0h1m-177 1h1m167 0h1m13 0h1m-49 1h2m32 0h1m14 0h1m20 0h3m-72 1h3m38 0h1m2 0h1m1 0h3m21 0h1m2 0h1m-209 1h1m133 0h4m41 0h1m24 0h1m3 0h1m-819 1h1m61 0h3m382 0h2m329 0h2m6 0h1m2 0h1m-963 1h1m102 0h1m50 0h1m18 0h1m34 0h1m400 0h2m8 0h3m47 0h1m116 0h1m43 0h2m22 0h1m7 0h1m8 0h1m46 0h4m29 0h1m11 0h1m23 0h1m5 0h3m-893 1h1m33 0h1m16 0h1m15 0h1m2 0h1m61 0h1m373 0h2m8 0h2m21 0h5m139 0h1m6 0h1m36 0h1m11 0h1m11 0h1m7 0h1m55 0h1m1 0h2m27 0h4m10 0h6m23 0h4m-842 1h1m464 0h2m21 0h2m1 0h1m179 0h1m21 0h1m2 0h1m20 0h1m50 0h1m11 0h1m24 0h1m1 0h1m31 0h1m-357 1h2m129 0h1m55 0h2m2 0h1m111 0h1m52 0h2m-734 1h1m375 0h1m130 0h1m55 0h2m41 0h1m66 0h1m24 0h1m3 0h1m29 0h1m-733 1h1m678 0h2m-684 1h1m681 0h2m-913 1h1m699 0h1m1 0h1m80 0h1m56 0h1m70 0h3m49 0h1m-52 1h1m15 0h5m-793 1h1m522 0h1m1 0h1m174 0h1m1 0h1m-630 1h1m525 0h1m175 0h2m1 0h3m43 0h1m-752 1h2m566 0h1m1 0h1m9 0h2m47 0h1m72 0h6m-708 1h1m1 0h3m1 0h2m572 0h2m138 0h2m7 0h1m1 0h1m1 0h1m-733 1h3m576 0h1m138 0h2m8 0h2m21 0h1m-34 1h3m7 0h1m28 0h1m-893 1h1m732 1h1m3 0h1m24 0h1m29 0h1m71 0h2m26 0h1m3 0h3m-895 1h1m554 0h1m173 0h1m3 0h1m24 0h1m11 0h1m17 0h1m58 0h1m16 0h1m5 0h1m17 0h1m-26 1h5m5 0h1m-11 1h2m1 0h1m9 0h1m-220 1h2m204 0h2m-208 1h2m112 0h2m-102 1h2m98 0h2m120 0h1m-905 1h1m781 0h2m24 0h1m37 0h1m13 0h1m44 0h1m-807 2h1m691 0h1m39 0h1m14 0h1m13 0h1m27 0h1m1 0h2m-86 2h1m14 0h1m68 2h1m-1 1h1m5 0h1m-7 1h1m6 0h1"/>
<path stroke="#88A4E0" d="M9 4.5h1m3 4h1m-10 1h1m11 1h1m-9 3h1m14 1h1m-14 2h1m15 1h1m0 1h1m3 2h2m-5 1h1m2 0h2m-19 2h1m294 1h1m-279 1h1m-15 1h1m0 1h1m184 0h1m-183 1h1m30 0h3m-3 1h3m101 0h1m-104 1h1m256 0h2m-292 1h2m3 0h1m26 0h3m-35 1h2m34 4h1m-7 1h2m4 0h1m-6 1h1m-1 1h2m-8 1h1m6 0h1m-5 1h1m3 0h1m257 0h2m-259 1h1m-4 1h1m3 1h1m-15 1h1m16 2h1m253 0h2m-272 1h1m18 0h1m-2 1h1m-23 1h1m5 0h1m-7 1h3m21 0h1m-34 1h2m1 0h1m7 0h3m21 0h1m247 0h1m-284 1h4m10 0h1m22 0h1m245 0h1m-284 1h2m1 0h1m12 0h1m-9 2h2m26 0h1m-18 1h1m45 0h2m-2 1h1m224 0h1m-270 1h1m16 0h1m26 0h2m-47 1h1m44 0h1m916 0h1m-960 1h1m40 0h3m180 0h1m734 0h2m-919 1h1m73 0h1m1 0h1m73 0h2m-193 1h1m40 0h2m-39 1h1m36 0h1m-41 1h1m39 0h1m217 0h1m-253 1h1m29 0h2m2 0h1m99 0h1m1 0h1m-104 1h2m149 0h1m-146 1h1m-9 3h2m-2 1h2m1 0h1m-4 1h4m-4 1h2m1 0h1m-13 1h1m8 0h3m-10 1h1m6 0h2m-2 1h3m-7 2h2m7 1h2m-22 1h1m19 0h2m214 0h1m13 0h1m-232 1h3m-21 1h1m234 0h1m-218 1h1m1 0h1m-2 1h1m1 0h1m-19 1h1m-1 1h1m-14 2h1m32 0h1m-34 1h1m4 0h7m24 0h1m-32 1h7m23 0h2m4 0h1m48 0h1m38 0h1m-135 1h1m5 0h1m5 0h1m1 0h1m1 0h1m22 0h1m54 0h3m-101 1h11m4 0h3m30 0h1m3 0h1m-53 1h1m1 0h1m1 0h1m1 0h1m18 0h1m1 0h1m834 0h1m-840 1h3m2 0h1m21 0h1m59 0h1m1 0h1m-90 1h3m1 0h1m18 0h1m-19 1h1m239 0h1m-258 1h1m155 0h2m-137 1h1m14 0h1m120 0h1m-134 1h1m65 0h1m46 0h1m-115 1h1m15 0h1m217 0h1m-236 1h2m16 0h1m65 0h1m1 0h1m-81 1h1m2 1h1m-7 1h1m16 0h1m7 0h1m22 0h1m27 0h1m154 1h1m-234 1h1m3 0h1m5 0h1m56 0h1m-57 1h1m-10 1h1m24 0h1m22 0h1m-37 1h1m11 1h1m201 1h2m-202 1h1m135 0h1m-137 1h1m191 0h1m-192 1h2m-11 2h1m-7 1h1m3 0h1m111 0h2m-110 1h2m9 0h1m-10 1h1m58 0h1m60 0h1m14 0h1m4 0h1m-141 1h1m11 1h1m39 0h1m-49 2h1m190 0h2m-181 2h1m2 0h1m184 0h1m-198 1h1m14 0h1m181 0h2m-184 1h1m4 0h1m0 1h2m0 1h3m-22 1h1m13 0h2m3 0h3m-3 1h1m2 1h1m96 0h2m-121 1h1m22 0h1m-1 1h1m-2 1h1m22 0h2m744 0h1m-791 1h2m22 0h1m19 0h2m-23 1h1m20 0h2m535 0h1m237 0h1m78 0h1m-876 1h1m3 0h1m562 0h2m321 0h1m-910 1h1m19 0h1m114 0h1m568 0h1m-731 1h1m3 0h1m21 0h1m22 0h1m12 0h1m50 0h1m488 0h2m126 0h1m-708 1h1m27 0h1m-28 1h1m25 0h3m-29 1h1m26 0h1m-27 1h3m22 0h1m870 0h1m-897 1h2m-2 1h2m179 0h2m-180 1h1m2 0h1m19 0h1m-23 1h2m2 1h2m17 0h1m46 0h2m-69 1h1m2 0h1m21 0h1m18 0h2m21 0h2m-47 1h1m2 0h1m18 0h2m22 0h1m-28 1h2m2 0h1m21 0h2m-67 1h1m1 0h1m20 0h1m2 0h1m12 0h2m1 0h2m21 0h2m-114 1h1m50 0h1m1 0h1m19 0h1m15 0h2m1 0h6m14 0h2m-177 1h1m61 0h2m49 0h3m3 0h1m19 0h1m4 0h1m7 0h2m1 0h6m15 0h1m108 0h3m1 0h1m599 0h1m27 0h1m-855 1h1m50 0h1m6 0h1m19 0h3m2 0h1m5 0h2m1 0h1m1 0h1m1 0h1m121 0h2m713 0h2m-927 1h1m6 0h1m66 0h1m9 0h6m117 0h3m1 0h2m633 0h1m-795 1h1m21 0h1m13 0h1m118 0h3m525 0h2m204 0h1m-868 1h2m12 0h2m117 0h1m1 0h1m-134 1h1m658 0h2m-686 1h2m1 0h1m22 0h1m13 0h1m119 0h1m21 0h1m-153 1h1m6 0h2m-2 1h2m-36 1h2m32 0h2m-4 1h1m-125 1h1m32 0h1m26 0h1m18 0h1m40 0h1m534 0h2m306 0h2m-871 1h1m26 0h1m651 0h2m50 0h4m-829 1h1m32 0h1m9 0h1m80 0h1m-30 1h1m28 0h1m-51 1h3m18 0h1m28 0h1m61 0h1m602 0h2m-717 1h3m18 0h1m29 0h1m663 0h1m-696 1h1m-55 1h1m17 0h1m37 0h3m59 0h2m31 0h1m91 0h1m-189 1h1m2 0h1m59 0h2m-120 1h1m58 0h1m41 0h1m17 0h1m-60 1h1m24 0h1m13 0h1m1 0h1m16 0h2m87 0h3m-159 1h2m46 0h3m17 0h1m-69 1h2m65 0h2m-33 1h1m1 0h1m56 0h2m603 0h1m-703 1h2m1 0h4m5 0h1m84 0h2m-99 1h7m9 0h1m21 0h1m-22 1h1m22 0h1m-37 1h4m32 0h1m58 0h2m-97 1h2m1 0h1m90 0h3m56 0h4m-157 1h4m7 0h1m2 0h3m77 0h3m-97 1h2m1 0h1m13 0h1m4 0h1m72 0h2m-97 1h6m2 0h3m84 0h1m-96 1h2m1 0h1m1 0h1m2 0h3m14 0h1m1 0h1m67 0h2m634 0h3m-693 1h1m53 0h2m465 0h2m-557 1h1m17 0h1m2 0h2m15 0h1m3 0h1m16 0h1m48 0h1m-70 1h1m-136 1h1m136 0h1m12 0h1m6 0h1m-15 1h1m1 0h1m98 0h7m-251 1h1m24 0h1m115 0h1m1 0h2m-21 1h1m16 0h1m2 0h4m503 0h2m-511 1h2m1 0h2m-3 2h1m-20 1h1m-15 1h2m13 0h1m18 0h1m707 0h1m-742 1h1m528 0h2m8 0h2m-692 1h1m148 0h3m14 0h1m18 0h1m-63 1h2m1 0h3m35 0h1m121 0h6m534 0h1m-754 1h1m49 0h7m790 0h1m93 0h3m-776 1h2m448 0h1m-524 1h2m71 0h2m742 0h3m-818 1h1m17 0h1m52 0h2m-76 1h2m1 0h1m69 0h6m-78 1h2m2 0h1m68 0h5m44 0h3m-126 1h1m1 0h2m3 0h1m33 0h1m34 0h3m-77 1h2m5 0h1m31 0h2m23 0h1m1 0h2m8 0h1m44 0h4m-125 1h1m23 0h1m41 0h3m7 0h1m36 0h4m4 0h2m517 0h1m-616 1h1m40 0h3m7 0h1m434 0h2m-501 1h1m32 0h3m18 0h3m7 0h1m40 0h3m393 0h1m126 0h1m-644 1h1m32 0h2m4 0h1m8 0h3m1 0h1m26 0h1m-30 1h2m27 0h1m613 0h3m-748 1h1m89 0h1m2 0h2m2 0h1m4 0h1m1 0h1m26 0h1m40 0h4m536 0h1m-623 1h1m1 0h3m7 0h2m27 0h1m40 0h1m1 0h2m630 0h2m-775 1h2m1 0h1m1 0h1m33 0h1m19 0h1m1 0h1m7 0h1m1 0h1m16 0h3m1 0h1m1 0h1m3 0h1m40 0h4m708 0h2m-909 1h1m55 0h6m11 0h1m22 0h1m18 0h3m6 0h3m2 0h1m14 0h7m44 0h1m1 0h1m7 0h1m-206 1h1m116 0h1m6 0h4m65 0h3m-121 1h1m41 0h1m6 0h4m-148 1h1m144 0h1m1 0h1m-148 1h2m142 0h2m-28 1h1m24 0h1m1 0h1m464 0h1m128 0h1m-622 1h1m24 0h2m8 0h1m-14 1h1m2 0h1m-1 1h2m-25 2h2m20 0h1m-25 1h1m24 0h1m-23 1h3m20 0h1m8 0h1m-34 1h2m1 0h1m22 0h1m2 0h2m-129 1h1m90 0h2m5 0h6m22 0h1m41 0h1m-77 1h1m502 0h2m-468 1h1m9 0h1m23 0h1m6 0h1m417 0h1m144 0h1m63 0h1m-700 1h1m9 0h1m30 0h1m-8 1h1m454 0h1m-477 1h1m21 0h1m-39 1h2m9 0h4m2 0h1m20 0h1m-39 1h2m4 0h3m1 0h1m1 0h1m1 0h1m3 0h1m20 0h1m31 0h2m-226 1h1m4 0h1m147 0h12m35 0h1m23 0h1m-225 1h1m154 0h1m1 0h1m1 0h3m10 0h1m20 0h1m30 0h2m-155 1h1m82 0h1m1 0h1m1 0h1m1 0h3m30 0h1m30 0h1m-154 1h1m101 0h1m20 0h1m30 0h1m-67 1h1m12 0h1m22 0h1m59 0h5m386 0h1m-538 1h1m8 0h2m52 0h1m22 0h1m32 0h2m-112 1h2m3 0h2m50 0h1m52 0h1m545 0h1m15 0h2m33 0h2m30 0h1m-800 1h1m63 0h7m68 0h1m2 0h3m18 0h1m34 0h1m516 0h2m15 0h2m-670 1h4m1 0h2m36 0h1m5 0h1m28 0h3m18 0h1m3 0h1m-49 1h1m23 0h2m1 0h1m16 0h1m3 0h1m-114 1h1m65 0h2m21 0h2m22 0h2m-47 1h1m21 0h1m6 0h3m9 0h1m3 0h1m-175 1h1m6 0h1m123 0h2m18 0h1m6 0h3m8 0h2m4 0h1m4 0h2m-49 1h1m18 0h1m1 0h1m14 0h2m9 0h1m23 0h3m-73 1h2m30 0h1m2 0h1m-14 1h1m1 0h1m11 0h1m-47 1h2m11 0h1m19 0h1m1 0h1m2 0h1m33 0h3m-100 1h1m59 0h1m578 0h1m-571 1h1m-70 1h4m4 0h2m21 0h1m6 0h2m29 0h1m29 0h1m524 0h1m-625 1h4m4 0h2m28 0h4m57 0h1m-99 1h3m4 0h2m28 0h6m25 0h1m28 0h2m-91 1h1m34 0h1m24 0h1m-142 1h1m79 0h2m30 0h1m28 0h2m-74 1h1m11 0h1m34 0h1m21 0h1m558 0h1m-632 1h5m9 0h2m-16 1h5m47 0h1m32 0h3m-103 1h1m17 0h3m47 0h1m31 0h1m1 0h1m-85 1h3m42 0h2m2 0h1m21 0h1m10 0h3m541 0h2m-628 1h12m33 0h2m3 0h2m18 0h1m10 0h2m1 0h1m-40 1h2m34 0h4m-14 1h1m10 0h3m16 0h9m-258 1h1m197 0h1m31 0h3m24 0h1m-36 1h1m7 0h3m4 0h1m7 0h1m15 0h2m-33 1h3m13 0h1m14 0h2m717 0h3m-777 1h1m23 0h3m18 0h2m7 0h3m-67 1h1m14 0h1m18 0h3m18 0h2m8 0h2m-53 1h1m2 0h1m47 0h2m623 0h1m-687 1h2m1 0h3m45 0h1m9 0h1m-68 1h3m8 0h1m20 0h1m23 0h3m-77 1h1m12 0h3m1 0h3m1 0h1m17 0h1m34 0h3m28 1h1m7 0h1m500 0h2m-544 1h3m27 0h1m2 0h1m6 0h2m-109 1h4m47 0h1m48 0h1m7 0h1m-109 1h1m1 0h1m1 0h1m4 0h4m27 0h1m12 0h1m43 0h1m2 0h1m7 0h1m-116 1h1m17 0h1m1 0h1m41 0h1m41 0h1m2 0h1m7 0h1m674 0h2m-686 1h1m-105 1h1m10 0h2m22 0h2m26 0h1m-53 1h1m20 0h11m21 0h1m5 0h1m30 0h1m-70 1h1m1 0h1m1 0h7m22 0h1m2 0h1m1 0h1m21 0h1m8 0h1m6 0h1m1 0h1m-93 1h2m12 0h11m6 0h1m-32 1h1m59 0h1m3 0h2m1 0h1m22 0h1m-59 1h1m26 0h2m3 0h2m-11 1h1m37 0h1m-61 1h1m21 0h1m6 0h3m32 0h1m-77 1h1m37 0h1m2 0h2m33 0h1m489 0h3m-536 1h1m4 0h2m1 0h2m33 0h1m489 0h3m-555 1h1m33 0h3m25 0h1m348 0h1m140 0h1m1 0h1m-554 1h1m26 0h1m1 0h2m3 0h3m373 0h2m139 0h3m205 0h2m-760 1h1m25 0h1m6 0h4m23 0h1m348 0h1m5 0h1m1 0h1m132 0h1m1 0h1m187 0h3m6 0h3m5 0h3m-740 1h1m5 0h1m6 0h1m1 0h2m372 0h2m4 0h3m132 0h3m7 0h4m170 0h1m5 0h3m7 0h1m-718 1h1m1 0h2m18 0h1m353 0h1m150 0h1m1 0h1m152 0h2m16 0h2m5 0h3m-743 1h1m24 0h3m2 0h1m1 0h2m21 0h1m504 0h4m91 0h2m58 0h3m16 0h1m5 0h1m1 0h1m-759 1h1m43 0h1m4 0h1m21 0h1m323 0h1m101 0h1m51 0h2m1 0h2m22 0h4m44 0h1m2 0h2m42 0h2m59 0h2m16 0h1m5 0h3m-877 1h3m116 0h1m13 0h2m54 0h1m19 0h1m83 0h1m209 0h1m9 0h1m23 0h1m18 0h1m2 0h1m3 0h1m6 0h1m1 0h1m1 0h1m11 0h1m2 0h1m1 0h1m23 0h1m8 0h1m21 0h1m2 0h1m17 0h6m21 0h4m8 0h3m5 0h1m5 0h1m10 0h1m1 0h1m1 0h1m6 0h1m2 0h2m10 0h1m31 0h2m59 0h2m15 0h2m-869 1h2m25 0h1m132 0h1m132 0h1m209 0h1m9 0h1m5 0h1m5 0h1m30 0h1m2 0h1m3 0h1m6 0h1m1 0h1m1 0h1m11 0h1m2 0h1m1 0h1m23 0h1m8 0h1m21 0h1m2 0h1m17 0h1m28 0h2m8 0h3m5 0h1m5 0h1m24 0h2m1 0h2m7 0h1m107 0h1m-1000 1h1m133 0h3m16 0h1m7 0h1m27 0h1m45 0h1m25 0h1m13 0h1m19 0h1m2 0h1m3 0h1m173 0h2m169 0h1m5 0h1m5 0h1m11 0h1m4 0h2m12 0h1m6 0h1m6 0h1m1 0h1m1 0h1m16 0h1m16 0h1m6 0h1m8 0h1m21 0h1m2 0h1m17 0h1m27 0h3m9 0h2m5 0h1m5 0h1m33 0h1m2 0h1m50 0h1m26 0h1m28 0h2m1 0h2m-997 1h1m10 0h1m82 0h1m32 0h1m19 0h1m7 0h1m8 0h1m18 0h1m45 0h1m4 0h1m9 0h1m10 0h1m10 0h2m27 0h1m345 0h1m5 0h1m5 0h1m11 0h1m4 0h2m64 0h1m37 0h1m2 0h1m44 0h1m1 0h2m56 0h1m84 0h2m24 0h1m27 0h2m-1023 1h1m10 0h1m5 0h1m4 0h2m11 0h1m15 0h1m1 0h1m30 0h1m9 0h1m22 0h1m9 0h2m3 0h1m14 0h1m7 0h1m8 0h1m18 0h1m8 0h1m36 0h1m2 0h3m9 0h1m7 0h2m1 0h1m63 0h2m326 0h1m5 0h1m16 0h1m152 0h3m39 0h1m8 0h1m92 0h3m22 0h2m9 0h1m17 0h2m-1006 1h1m99 0h1m10 0h1m35 0h1m18 0h1m8 0h1m51 0h1m3 0h2m1 0h3m19 0h1m19 0h1m25 0h1m1 0h1m502 0h1m49 0h1m93 0h1m5 0h2m1 0h1m14 0h2m27 0h2m-859 1h1m9 0h1m10 0h1m2 0h5m51 0h1m3 0h2m2 0h2m40 0h1m21 0h2m1 0h3m498 0h1m2 0h3m142 0h2m4 0h2m1 0h1m14 0h2m5 0h1m21 0h2m-897 1h1m37 0h1m9 0h1m10 0h1m2 0h1m1 0h1m53 0h1m20 0h1m2 0h2m27 0h1m19 0h5m502 0h1m152 0h1m43 0h2m-897 1h1m37 0h1m9 0h1m10 0h1m2 0h4m52 0h1m19 0h2m3 0h1m49 0h8m496 0h3m194 0h3m-897 1h1m37 0h1m9 0h1m13 0h3m53 0h1m52 0h1m21 0h1m3 0h4m343 0h2m150 0h1m168 0h1m28 0h3m-849 1h1m5 0h1m1 0h2m33 0h1m8 0h1m17 0h1m22 0h3m5 0h1m25 0h1m22 0h6m340 0h2m43 0h1m105 0h2m39 0h3m1 0h6m119 0h1m28 0h1m1 0h1m-995 1h1m97 0h1m47 0h1m5 0h1m1 0h2m33 0h1m2 0h1m5 0h1m17 0h2m21 0h3m1 0h3m1 0h1m2 0h1m30 0h2m2 0h1m11 0h1m2 0h1m341 0h2m25 0h1m17 0h1m105 0h1m40 0h3m1 0h6m122 0h1m25 0h3m-941 1h1m13 0h2m82 0h1m1 0h1m34 0h1m8 0h1m37 0h2m1 0h1m7 0h1m3 0h1m20 0h1m12 0h1m32 0h2m156 0h1m44 0h1m48 0h1m71 0h2m119 0h1m3 0h1m25 0h1m40 0h3m129 0h1m25 0h1m1 0h1m-941 1h1m14 0h1m84 0h1m34 0h1m46 0h2m5 0h1m4 0h1m24 0h1m7 0h1m3 0h1m356 0h2m52 0h1m39 0h1m26 0h1m3 0h1m2 0h1m22 0h1m23 0h1m115 0h1m39 0h2m-786 1h1m30 0h1m22 0h1m37 0h1m3 0h1m356 0h2m125 0h2m22 0h1m172 0h1m7 0h1m15 0h1m-773 1h6m12 0h1m10 0h1m3 0h1m26 0h1m2 0h1m1 0h1m1 0h1m6 0h1m350 0h1m125 0h2m114 0h2m86 0h1m1 0h1m5 0h2m7 0h2m-829 1h1m54 0h5m31 0h1m20 0h1m5 0h6m355 0h2m125 0h2m21 0h2m91 0h2m79 0h2m6 0h1m1 0h1m5 0h1m7 0h2m-944 1h1m193 0h1m4 0h1m7 0h1m27 0h1m1 0h1m1 0h1m9 0h1m3 0h3m338 0h2m125 0h2m21 0h1m92 0h2m61 0h1m17 0h1m14 0h2m7 0h2m-969 1h1m15 0h1m3 0h1m198 0h7m3 0h1m23 0h1m8 0h1m1 0h1m13 0h3m465 0h2m114 0h2m61 0h6m2 0h1m24 0h2m7 0h1m-749 1h3m6 0h1m25 0h1m7 0h1m1 0h1m13 0h3m465 0h2m9 0h2m166 0h3m1 0h1m1 0h3m-714 1h4m9 0h1m1 0h1m26 0h1m1 0h1m481 0h2m9 0h2m169 0h6m-713 1h3m36 0h1m1 0h1m1 0h1m9 0h2m470 0h2m180 0h2m1 0h1m1 0h1m-723 1h1m62 0h2m470 0h2m-510 1h1m19 0h1m3 0h1m11 0h2m351 0h3m-394 1h1m2 0h1m23 0h2m9 0h2m-15 1h1m12 0h2m-195 1h1m160 0h1m22 0h1m8 0h1m-31 1h1m23 0h1m5 0h2m-31 1h1m22 0h1m5 0h2m-35 1h1m32 0h2m-66 2h2m57 0h1m-66 1h1m1 0h2m29 0h1m1 0h4m6 0h1m20 0h1m1 0h1m1 0h1m-38 1h1m4 0h1m31 0h1m351 0h2m142 0h1m-563 1h1m32 0h3m3 0h1m28 0h1m-74 1h5m34 0h1m8 0h1m503 0h3m-521 1h11m1 0h1m26 0h1m-35 1h1m7 0h1m-158 1h1m117 0h1m1 0h1m29 0h5m2 0h1m30 0h1m677 0h2m-729 1h1m19 0h1m22 0h1m5 0h1m583 0h3m62 0h2m27 0h1m-749 1h1m11 0h4m5 0h2m47 0h2m343 0h1m238 0h3m62 0h2m12 0h1m-730 1h1m17 0h1m43 0h1m348 0h2m316 0h2m-742 1h1m25 0h6m17 0h2m371 0h1m-424 1h5m22 0h1m1 0h3m6 0h1m15 0h1m-27 1h4m23 0h1m-43 1h4m1 0h1m12 0h1m-1 1h2m22 0h1m19 0h1m-45 1h3m-3 1h4m5 0h1m3 0h9m2 0h2m-26 1h3m10 0h5m1 0h3m9 0h1m-30 1h1m23 0h1m1 0h1m-27 1h2m29 0h1m-32 1h1m6 0h3m26 0h1m-30 1h3m380 0h1m-384 1h3m18 1h3m20 0h1m464 0h4m-490 1h1m-41 4h1m54 1h1m11 1h1m-6 5h1m11 0h3m-65 2h1m64 0h1m2 0h1m3 0h1m-73 1h1m68 0h5m-4 1h2m0 1h1m0 1h1m-19 1h1m-1 1h1m-1 1h1m1 1h1m-1 3h1m19 0h1m-20 1h1m18 0h1m-20 1h2m17 0h1m-20 1h2m-3 1h2m1 0h1m-3 1h1m2 0h1m24 2h1m-6 1h1m4 0h1m-19 1h3m11 1h1m6 0h1m-6 1h1m4 0h2m-1 1h1m-15 1h1m1 1h1m0 2h1m12 0h1m-1 1h1m-18 1h2m18 0h2m1 1h1m10 0h2m-14 1h1m2 0h1m9 0h1m-33 1h2m19 0h1m9 0h2m-32 1h2m20 1h1m-18 1h2m16 0h1m0 1h1m-18 2h1m17 0h1m5 0h3m-27 1h1m18 0h1m4 0h3m-25 1h1m-2 1h1m18 0h1m-18 1h1m-2 1h1m2 1h1m0 1h1m0 1h1m1 1h1m13 0h1m-14 1h1m20 0h1m-20 1h1m18 0h2m-1 1h1m-32 2h1m1 0h1m14 0h1m-18 1h3m5 0h2m-2 1h2m26 0h1m-29 1h2m26 0h2m-1 1h1m-1 3h1m-20 1h2m20 0h1m-22 1h2m19 0h2m-1 1h2m-2 1h2m2 2h1m-22 1h2m19 0h1m-21 1h2m2 0h1m0 3h2m-1 1h3m-2 1h2m-133 3h2m132 0h2m28 0h2m-2 1h2m-12 2h1m4 1h1m-2 1h2m-2 1h1m4 1h1m0 1h1m2 1h1m-21 1h1m20 0h1m-3 1h1m2 1h1m-2 1h2m-21 1h2m-3 1h2m20 0h1m8 0h2m-11 1h1m8 0h3m-11 1h1m-21 2h1m23 0h1m-32 1h2m6 0h1m21 0h2m-32 1h2m29 0h2m-22 1h1m-3 1h1m0 1h1m2 0h1m-2 1h2m1 1h2m0 1h1m15 1h1m-14 2h1m-2 1h3m-1 1h1m14 0h1m-9 1h1m8 0h1m-23 2h2m24 0h1m-27 1h2m15 0h1m-17 1h1m16 0h1m8 0h1m4 1h1m0 1h2m2 0h1m-4 1h1m-15 1h1m1 1h1m16 0h3m-4 1h1m3 0h2m-4 2h1m-18 2h1m0 1h1m19 0h1m-202 1h1m180 0h2m19 0h2m-204 1h1m203 0h1m-1 1h2m-25 1h1m25 0h1m-23 1h1m18 0h1m2 0h1m-24 1h1m-1 1h1m2 0h1m19 0h1m-24 1h1m0 1h1m-1 1h1m4 1h1m17 0h1m-18 1h1m-1 1h1m0 1h2m1 0h1m13 0h1m-17 1h1m0 2h2m1 0h1m14 0h1m-12 1h1m2 1h1m12 1h1m3 0h1m-1 1h2m-16 1h1m14 0h1m11 0h2m-10 1h2m6 0h2m1 0h1m1 0h1m-18 1h1m14 0h3m-12 1h1m-19 2h1m23 0h1m-6 1h1m0 1h1m2 0h1m2 0h1m-1 1h1m-27 1h2m22 0h2m2 0h1m-28 1h2m1 0h1m23 0h1m-4 2h1m-226 1h1m202 1h1m-1 1h1m1 1h1m21 0h1m1 0h1m-22 1h1m0 1h1m18 0h1m1 0h1m-2 2h1m-21 1h1m-8 1h2m3 0h1m3 0h1m-10 1h2m7 0h1m2 0h1m-6 1h2m-8 1h2m13 0h1m-15 1h1m6 0h2m7 0h1m-18 1h2m13 0h1m3 0h1m-3 1h1m15 2h1m0 1h1m-6 3h1m0 1h1m11 0h1m6 1h2m-2 1h2m-6 1h1m4 4h1m-17 1h1m16 0h1m-15 3h1m14 1h1m-18 3h2m18 0h1m-21 1h2m4 0h1m0 1h1m3 1h1m2 3h1m-253 2h1m265 2h1m3 3h1m5 0h1m7 0h2m-24 1h1m9 0h1m3 0h1m7 0h1m-10 1h1m8 0h2m-8 2h1m1 0h1m-16 1h1m15 0h1m0 1h1m-17 1h1m17 1h1m11 0h2m-13 1h1m10 0h2m-31 1h1m18 0h1m9 0h2m-33 1h2m20 0h1m-19 2h1m20 0h1m0 1h1m-23 1h1m27 0h3m-30 1h1m26 0h3m-29 1h1m19 0h1m-27 2h3m5 0h1m-9 1h1m1 0h1m6 0h1m0 1h1m0 1h1m1 3h1m17 0h1m6 0h2m-26 1h1m2 0h1m14 0h1m5 0h2m-1 1h1m-7 1h1m-26 3h3m14 0h1m13 0h1m-32 1h3m4 0h2m9 0h1m12 0h1m-25 1h2m11 0h1m12 0h1m-27 1h2m26 0h1m0 1h1m0 1h1m0 1h1m-22 1h2m20 0h1m-23 1h3m3 0h2m15 0h1m1 1h1m-18 1h1m0 2h1m-300 1h1m299 0h1m0 1h1m14 0h1m-15 1h1m0 1h1m18 0h1m-19 1h1m17 0h2m-19 2h1m4 1h1m13 3h1m188 2h3m-204 1h2m15 0h1m184 0h1m-202 1h1m16 0h2m15 0h2m-30 1h1m14 1h1m1 1h1m5 0h1m-3 1h1m0 1h2m347 0h2m-370 1h1m367 0h2m-369 1h1m366 0h2m-369 1h1m1 3h1m30 0h2m-13 1h1m10 0h2m-32 1h1m19 0h1m0 2h1m-21 2h1m23 0h1m-24 1h1m22 0h1m-364 1h2m336 0h1m1 0h1m6 3h1m15 0h1m-16 1h1m-14 1h1m14 0h1m-16 1h1m36 0h1m-1 1h1m-3 1h1m3 0h1m-23 1h2m3 0h1m16 0h1m-376 1h5m372 0h1m-1 1h1m2 0h1m-5 1h1m359 0h2m-360 1h2m13 0h2m342 0h1m-391 1h2m44 0h1m1 0h1m187 0h2m-238 1h2m44 0h3m187 0h2m-583 1h4m357 0h1m29 0h1m189 0h2m-2 1h2m-224 1h2m206 0h1m13 0h2m-16 1h2m-208 1h2m179 0h2m23 0h2m-204 1h1m18 0h1m157 0h2m23 0h2m-569 1h4m359 0h2m21 0h1m180 0h1m8 0h3m6 0h2m-221 1h1m200 0h2m7 0h3m6 0h2m-221 1h1m19 0h1m189 0h1m1 0h1m6 0h2m-223 1h1m211 0h3m6 0h2m-200 1h1m188 0h2m-187 1h2m182 0h3m-187 1h2m182 0h2m-8 1h2m4 0h3m-189 1h1m179 0h2m5 0h2m-204 1h1m200 0h3m-203 2h1m1 0h1m-379 1h1m1 0h2m376 0h1m3 2h1m-18 2h4m10 0h2m-381 1h3m4 0h6m1 0h2m349 0h1m1 0h1m11 0h2m15 0h1m-406 1h5m4 0h2m5 0h9m350 0h2m32 0h2m-410 1h1m1 0h1m407 0h2m0 2h1m-14 1h1m13 0h1m2 0h1m62 0h4m89 0h2m-160 1h1m2 0h1m61 0h4m12 0h2m75 0h2m163 0h3m-900 1h1m60 0h1m11 0h1m24 0h1m62 0h2m36 0h1m6 0h3m10 0h1m357 0h1m5 0h1m22 0h3m46 0h2m8 0h1m6 0h2m47 0h2m8 0h1m73 0h2m90 0h3m-903 1h1m2 0h1m60 0h1m11 0h1m11 0h1m10 0h1m9 0h1m55 0h1m26 0h1m9 0h1m7 0h1m400 0h1m26 0h1m1 0h1m17 0h2m8 0h1m6 0h2m47 0h2m3 0h1m5 0h2m17 0h1m2 0h1m142 0h1m1 0h1m-826 1h1m86 0h2m26 0h1m370 0h1m74 0h3m17 0h2m8 0h1m6 0h2m5 0h1m2 0h1m43 0h1m16 0h1m153 0h3m-711 1h1m370 0h1m86 0h1m31 0h1m2 0h1m43 0h1m170 0h1m1 0h1m-339 1h1m17 0h1m-19 1h1m19 0h1m-19 1h1m17 0h1m-416 1h3m395 0h1m39 0h1m1 0h1m12 0h1m18 0h1m153 0h1m-698 1h1m469 0h1m143 0h1m-615 1h1m489 0h1m122 0h1m-711 1h1m27 0h1m22 0h1m5 0h1m5 0h1m104 0h2m396 0h1m17 0h1m2 0h2m-589 1h1m27 0h1m22 0h1m5 0h1m5 0h1m3 0h1m499 0h2m19 0h1m92 0h1m28 0h1m-121 1h1m-19 1h1m17 0h1m106 0h2m-531 1h3m526 0h2m-126 1h2m14 0h1m107 0h2m162 0h1m-284 1h1m13 0h2m103 0h2m-131 1h1m24 0h1m10 0h1m92 0h2m25 0h1m134 0h1m-267 1h1m103 0h2m-122 1h2m17 0h1m5 0h1m1 0h1m92 0h2m-520 1h1m398 0h2m22 0h3m92 0h2m-531 1h3m412 0h1m14 0h1m98 0h4m-121 1h2m17 0h1m97 0h1m3 0h1m9 0h2m-545 1h3m530 0h1m8 0h3m-129 1h1m116 0h1m-534 1h3m413 0h3m17 0h1m86 0h2m-91 1h1m53 0h1m26 0h1m7 0h1m-88 1h1m-18 1h1m116 0h2m18 0h1m192 0h1m-214 1h2m-117 1h1m102 0h2m-104 1h1m122 2h2m31 0h4m-163 1h2m5 0h1m114 0h2m-123 1h1m120 0h1m-125 1h1m1 0h2m4 0h1m1 0h1m21 0h1m13 0h3m75 0h2m-543 1h2m447 0h1m13 0h3m75 0h2m-533 1h2m395 0h1m55 0h2m76 0h1m124 0h1m-204 1h2m76 0h2m-543 1h2m398 0h1m6 0h1m47 0h3m83 0h2m58 0h1m-202 1h1m47 0h1m6 0h3m-458 1h3m397 0h2m48 0h1m2 3h1m3 0h1m69 0h1m-74 1h1m2 0h1m67 0h4m3 0h3m-522 1h1m445 0h1m66 0h1m1 0h1m3 0h1m1 0h1m3 0h1m1 0h1m-100 1h1m16 0h2m66 0h2m10 0h3m-105 1h2m21 0h1m66 0h3m9 0h3m-99 1h1m17 0h1m65 0h3m9 0h3m-78 1h1m177 0h1m-181 1h1m1 0h2m-58 1h1m37 0h1m18 0h1m3 0h1m252 0h1m-276 1h1m16 0h3m-26 1h2m22 0h2m7 0h2m-35 1h2m20 0h1m10 0h1m2 0h2m-38 1h2m3 0h2m17 0h1m11 0h2m13 0h2m147 0h2m-194 1h1m27 0h2m13 0h2m-491 1h2m443 0h3m26 0h2m13 0h2m31 0h3m192 0h3m-272 1h1m31 0h1m8 0h2m-41 1h1m15 0h1m13 0h1m-27 1h1m27 0h1m-49 1h4m11 0h2m1 0h1m14 0h1m4 0h1m2 0h1m2 0h1m1 0h1m1 0h1m-49 1h4m12 0h4m1 0h1m15 0h1m1 0h1m10 0h1m-51 1h2m16 0h2m22 0h1m1 0h1m1 0h2m2 0h2m-489 1h4m475 0h1m8 0h1m-35 2h1m7 0h1m204 0h1m-266 1h2m60 0h1m27 0h1m-90 1h1m82 0h1m5 0h2m-92 1h2m84 0h1m4 0h1m-86 1h1m98 0h1m51 0h1m132 0h1m-294 1h2m55 0h2m7 0h1m-67 1h2m55 0h1m7 0h1m25 0h1m68 0h1m94 0h1m-654 1h3m395 0h2m64 0h1m24 0h1m-92 1h2m56 0h4m28 0h1m150 0h1m-184 1h4m3 0h1m25 0h1m-25 1h2m22 1h1m-27 1h1m1 0h1m62 0h2m175 0h3m-305 1h1m124 0h2m-70 1h2m1 0h1m1 0h1m-1 1h1m62 0h1m111 0h1m-179 1h2m64 0h1m-59 1h1m22 0h1m34 0h1m-65 1h2m275 0h1m-729 1h1m451 0h2m4 0h1m233 0h3m-282 1h1m49 0h1m16 0h1m50 0h2m-147 1h4m71 0h2m1 0h1m1 0h1m-81 1h4m54 1h4m8 0h2m57 0h2m-73 1h4m9 0h2m44 0h1m11 0h2m-45 1h1m2 0h1m21 0h2m4 0h2m10 0h2m-31 1h1m8 0h4m3 0h4m120 0h1m80 0h1m-218 1h1m5 0h2m6 0h2m-2 1h2m93 0h1m-613 1h4m502 0h2m-2 1h2m20 0h2m50 0h4m136 0h2m-322 1h3m91 0h1m13 0h1m-509 1h4m505 0h1m210 0h2m-211 1h2m-18 2h1m19 1h1m25 0h3m-30 1h1m26 0h2m-143 1h3m69 0h1m24 0h2m42 0h2m58 0h1m1 0h1m6 0h1m-211 1h3m94 0h2m20 0h1m-26 1h1m4 0h1m16 0h1m21 0h2m63 0h1m6 0h1m1 0h1m-119 1h2m4 0h1m37 0h1m167 0h2m12 0h2m-229 1h3m23 0h1m6 0h3m13 0h2m-51 1h2m6 0h1m24 0h2m-27 1h1m19 0h1m21 0h2m-143 1h2m7 0h1m200 0h1m-601 1h2m491 0h1m20 0h1m1 0h1m60 0h2m-165 1h1m67 0h1m9 0h1m22 0h1m1 0h1m59 0h1m-188 1h2m88 0h3m13 0h1m27 0h2m51 0h2m-98 1h4m33 0h1m5 0h2m2 0h3m40 0h3m3 0h2m-592 1h4m9 0h2m480 0h3m34 0h2m4 0h1m2 0h1m1 0h1m26 0h3m4 0h2m2 0h1m2 0h3m-587 1h2m506 0h1m2 0h1m22 0h1m6 0h3m26 0h1m1 0h1m4 0h2m2 0h1m2 0h3m11 0h1m42 0h1m-641 1h1m13 0h9m511 0h1m34 0h9m2 0h1m4 0h1m10 0h2m-599 1h2m12 0h10m489 0h1m56 0h3m1 0h3m1 0h1m7 0h1m10 0h2m-599 1h2m568 0h9m2 0h1m15 0h7m42 0h2m-647 1h1m424 0h2m110 0h1m31 0h3m1 0h3m20 0h2m1 0h4m42 0h2m70 0h3m-295 1h1m4 0h1m28 0h1m77 0h2m30 0h7m20 0h7m39 0h5m70 0h1m1 0h1m-387 1h1m96 0h1m15 0h1m12 0h1m79 0h1m29 0h5m1 0h1m22 0h2m1 0h2m33 0h2m4 0h5m58 0h2m4 0h3m1 0h5m-665 1h1m277 0h2m111 0h5m8 0h1m50 0h2m2 0h1m25 0h1m31 0h1m25 0h5m34 0h1m5 0h3m64 0h2m1 0h1m1 0h3m1 0h1m1 0h1m-667 1h1m277 0h1m111 0h2m1 0h3m59 0h2m3 0h1m24 0h1m22 0h1m35 0h4m41 0h3m63 0h3m6 0h3m14 0h1m-904 1h2m17 0h1m1 0h1m6 0h1m81 0h1m20 0h1m90 0h1m390 0h2m1 0h2m29 0h2m1 0h3m5 0h3m4 0h1m11 0h1m3 0h1m27 0h1m8 0h1m11 0h1m2 0h1m32 0h4m30 0h1m1 0h1m8 0h2m4 0h2m1 0h1m4 0h1m13 0h1m10 0h1m27 0h1m35 0h1m9 0h1m2 0h1m-909 1h1m1 0h1m6 0h1m44 0h1m1 0h1m33 0h2m11 0h1m8 0h1m70 0h1m19 0h1m357 0h10m57 0h2m9 0h3m4 0h1m16 0h1m35 0h1m11 0h1m51 0h1m1 0h1m2 0h1m2 0h1m20 0h1m5 0h2m1 0h1m4 0h1m5 0h2m6 0h1m10 0h1m5 0h1m8 0h1m48 0h1m9 0h1m2 0h1m-842 1h1m40 0h1m74 0h1m377 0h9m95 0h1m23 0h1m122 0h1m82 0h1m9 0h1m2 0h1m-742 1h2m14 0h1m385 0h1m96 0h1m117 0h2m90 0h4m-713 1h2m400 0h1m24 0h2m70 0h1m76 0h1m41 0h1m71 0h2m17 0h2m1 0h1m-310 1h3m21 0h1m72 0h1m120 0h1m69 0h1m-265 1h2m72 0h1m21 0h1m45 0h3m-600 1h6m591 0h3m49 0h1m-650 1h2m1 0h1m1 0h1m431 0h2m86 0h2m25 0h1m36 0h2m6 0h3m-600 1h6m431 0h2m86 0h3m4 0h2m55 0h2m6 0h2m-143 1h4m57 0h2m14 0h1m55 0h2m-134 1h3m57 0h1m16 0h1m-79 1h4m66 0h3m6 0h2m46 0h2m-142 1h7m63 0h3m10 0h1m1 0h1m10 0h1m44 0h1m-167 1h1m1 0h1m11 0h1m10 0h1m1 0h2m1 0h2m63 0h3m3 0h1m6 0h3m8 0h1m5 0h1m12 0h1m26 0h2m6 0h1m57 0h1m10 0h1m2 0h1m44 0h1m1 0h1m14 0h1m7 0h2m-720 1h1m9 0h2m356 0h2m32 0h1m13 0h2m80 0h1m5 0h1m1 0h1m23 0h1m22 0h1m14 0h2m64 0h2m2 0h1m2 0h2m2 0h1m2 0h1m44 0h1m1 0h1m14 0h1m7 0h1m-861 1h2m87 0h1m23 0h1m32 0h5m1 0h1m16 0h1m340 0h2m46 0h2m64 0h1m23 0h1m61 0h2m3 0h1m24 0h2m1 0h1m1 0h1m2 0h1m1 0h1m3 0h1m24 0h2m51 0h1m-833 1h1m77 0h2m33 0h1m18 0h5m2 0h1m5 0h2m422 0h1m54 0h1m90 0h1m64 0h1m51 0h1m-824 1h1m23 0h1m13 0h1m18 0h1m11 0h2m52 0h1m1 0h3m1 0h1m1 0h1m1 0h1m1 0h1m424 0h1m128 0h2m80 0h1m-649 1h13m533 0h1m13 0h1m5 0h3m79 0h1m1 0h2m-652 1h1m1 0h7m1 0h1m1 0h1m547 0h1m87 0h1m1 0h1m0 1h1m-89 1h1m87 0h1m-120 1h2m30 0h1m1 0h1m84 0h1m-84 3h1m-165 1h2m163 0h1m152 0h1m-319 1h2m15 0h1m10 0h1m118 0h2m90 0h1m51 0h1m-692 1h2m638 0h1m-641 1h3m469 0h1m1 0h1m91 0h1m-567 1h3m540 0h1m6 0h1m-150 1h3m147 0h1m15 0h1m98 0h1m51 1h2m-174 1h2m3 0h1m17 0h1m-43 1h3m16 0h2m21 0h1m-23 1h1m6 0h1m15 0h1m-571 1h3m397 0h1m154 0h1m15 0h1m19 0h3m-196 1h2m1 0h1m126 0h1m29 0h1m16 0h1m14 0h4m-196 1h2m1 0h1m158 0h1m27 0h6m-581 1h1m358 0h6m199 0h1m15 0h1m-221 1h3m1 0h1m140 0h8m36 0h2m16 0h1m47 0h1m10 0h1m3 0h1m97 0h1m-359 1h2m133 0h1m1 0h6m38 0h1m17 0h1m-583 1h3m380 0h2m133 0h8m39 0h1m19 0h1m44 0h1m-111 1h1m1 0h1m1 0h3m61 0h2m-70 1h6m104 0h1m10 0h1m103 0h1m-226 1h5m15 0h1m1 0h3m46 0h1m-72 1h6m14 0h5m21 0h1m29 0h2m1 0h1m-219 1h3m1 0h1m132 0h3m1 0h1m70 0h1m-218 1h10m16 0h1m115 0h5m45 0h1m26 0h1m2 0h1m137 0h2m-362 1h2m1 0h3m1 0h3m47 0h1m161 0h1m2 0h1m1 0h1m105 0h1m30 0h1m-856 1h1m27 0h1m465 0h4m53 0h1m110 0h2m49 0h2m3 0h1m135 0h2m-877 1h1m20 0h1m27 0h1m31 0h1m490 0h1m64 0h1m19 0h3m1 0h1m13 0h3m30 0h1m26 0h2m7 0h1m6 0h1m123 0h2m-877 1h1m20 0h1m27 0h1m31 0h1m490 0h1m64 0h1m37 0h3m58 0h1m2 0h1m103 0h2m30 0h2m-877 1h1m138 0h1m367 0h5m125 0h1m43 0h1m27 0h1m26 0h2m1 0h2m133 0h2m-876 1h1m506 0h5m125 0h1m18 0h3m149 0h2m64 0h2m-737 1h1m516 0h3m79 0h1m1 0h1m49 0h1m17 0h1m34 0h1m2 0h1m10 0h1m-709 1h3m388 0h1m115 0h5m49 0h1m27 0h1m40 0h2m23 0h2m37 0h1m-705 1h1m9 0h3m363 0h4m221 0h1m63 0h2m-657 1h3m363 0h4m285 0h2m47 0h2m22 0h2m-736 1h1m396 0h1m132 0h4m29 0h1m4 0h1m29 0h1m111 0h1m20 0h1m2 0h1m3 0h1m-733 1h2m502 0h4m16 0h4m29 0h1m4 0h1m29 0h1m111 0h2m26 0h2m-734 1h2m502 0h1m1 0h2m16 0h3m29 0h2m35 0h1m-594 1h2m553 0h3m6 0h1m-565 1h2m553 0h3m-569 1h2m9 0h2m553 0h4m7 0h1m142 0h1m-710 1h2m591 0h1m115 0h1m-188 1h1m44 0h3m-581 1h3m518 0h5m50 0h1m3 0h2m-582 1h3m2 0h2m513 0h6m50 0h1m4 0h3m21 0h1m-83 1h1m1 0h3m50 0h2m3 0h1m-582 1h1m520 0h7m46 0h1m8 0h2m20 0h1m-606 1h1m520 0h3m1 0h3m49 0h2m1 0h2m57 0h2m-202 1h1m65 0h1m15 0h7m53 0h1m1 0h1m1 0h1m20 0h1m18 0h1m1 0h1m77 0h1m13 0h1m-199 1h7m59 0h2m18 0h1m31 0h3m76 0h1m-214 1h1m1 0h1m81 0h1m3 0h1m56 0h1m-108 1h1m52 0h1m-596 1h2m540 0h1m35 0h1m137 0h3m-122 1h1m17 0h1m132 0h2m-208 1h1m56 0h1m17 0h1m-620 1h3m599 0h1m16 0h1m-76 1h1m-716 1h1m100 0h1m575 0h1m1 0h1m-660 1h1m766 0h1m6 0h1m-837 1h1m106 0h1m47 0h1m553 0h1m11 0h1m4 0h1m30 0h1m35 0h1m42 0h1m96 0h2m14 0h1m-112 1h1m94 0h1m-177 1h1m80 0h1m78 0h2m14 0h2m-193 1h1m93 0h1m81 0h1m-95 1h1m14 0h1m2 0h2m9 0h2m62 0h2m13 0h3m-193 1h1m76 0h1m33 0h2m62 0h2m13 0h3m-178 1h1m85 0h1m9 0h2m62 0h2m13 0h3m-115 1h2m31 0h1m3 0h1m60 0h1m14 0h2m-193 1h1m103 0h1m9 0h2m75 0h2m27 0h1m-116 1h1m5 0h5m60 0h1m6 0h1m7 0h1m-87 1h1m7 0h2m2 0h1m57 0h2m15 0h1m-193 1h1m81 0h2m2 0h1m24 0h3m1 0h1m1 0h1m58 0h1m1 0h2m-73 1h1m3 0h3m3 0h2m56 0h2m1 0h2m12 0h1m-109 1h2m22 0h1m2 0h3m3 0h1m20 0h3m1 0h1m32 0h2m2 0h2m-303 1h1m193 0h1m14 0h1m29 0h1m20 0h3m34 0h2m2 0h2m11 0h1m14 0h1m4 0h1m-96 1h2m19 0h3m35 0h1m2 0h1m-140 1h1m31 0h1m36 0h2m6 0h1m57 0h1m16 0h1m12 0h3m-121 1h1m22 0h1m6 0h2m73 0h1m-151 1h1m1 0h1m42 0h1m1 0h1m27 0h2m56 0h1m12 0h1m3 0h1m-81 1h1m75 0h2m-79 1h1m1 0h1m61 0h1m12 0h2m15 0h2m-208 1h1m91 0h1m19 0h3m75 0h1m-98 1h2m19 0h1m61 0h1m12 0h2m-191 1h1m-514 1h4m506 0h1m5 0h1m92 0h1m18 0h1m60 0h1m-690 1h4m506 0h2m4 0h2m92 0h1m78 0h1m-77 1h1m-798 1h1m17 0h1m1 0h1m187 0h2m359 0h1m75 0h1m17 0h1m61 0h1m12 0h1m58 0h2m36 0h1m37 0h1m-807 1h1m13 0h1m60 0h1m24 0h3m38 0h2m359 0h1m56 0h1m25 0h1m35 0h1m13 0h1m1 0h1m6 0h2m13 0h1m27 0h1m14 0h1m1 0h1m13 0h4m1 0h1m1 0h3m6 0h2m15 0h1m53 0h2m-793 1h1m85 0h3m38 0h2m410 0h1m5 0h1m85 0h1m29 0h1m11 0h1m14 0h1m1 0h1m13 0h3m2 0h1m1 0h3m5 0h1m1 0h1m70 0h1m44 0h1m2 0h2m-230 1h2m76 0h1m18 0h5m6 0h3m18 0h1m49 0h2m31 0h1m15 0h2m-230 1h3m17 0h1m24 0h1m50 0h3m13 0h1m18 0h1m47 0h2m30 0h1m-212 1h6m13 0h6m70 0h3m1 0h1m30 0h1m-133 1h7m126 0h1m-134 1h4m1 0h1m19 0h2m73 0h9m-88 1h1m3 0h1m1 0h3m72 0h1m2 0h1m1 0h2m87 0h1m-176 1h1m96 1h1m-113 1h2m141 0h3m-146 1h2m12 0h2m40 0h1m18 0h1m55 0h1m11 0h3m-3 1h3m-200 1h1m53 0h2m112 0h1m18 0h1m12 0h1m-133 1h2m100 0h1m28 0h2m-32 1h1m1 0h1m27 0h2m82 0h1m-96 1h1m-135 2h2m133 0h1m-662 1h1m648 0h1m13 0h1m5 0h2m-2 1h2m-20 1h1m18 0h1m-17 1h1m17 0h1m-17 1h1m12 0h1m-143 1h2m-2 1h1m55 0h3m71 0h1m76 0h1m-299 1h1m29 0h1m91 0h1m24 0h3m51 0h1m38 0h1m32 0h1m-87 1h3m57 0h2m24 0h1m-87 1h3m56 0h3m72 0h1m-177 1h2m40 0h3m83 0h1m-129 1h1m127 0h1m49 0h1m-137 1h1m24 0h3m6 0h2m2 0h1m15 0h1m31 0h1m-184 1h2m120 0h3m6 0h3m49 0h1m-62 1h3m1 0h2m24 0h1m38 0h3m-69 1h3m6 0h1m18 2h1m37 0h1m-54 2h1m63 0h1m-60 1h1m45 0h3m9 0h2m-58 1h1m55 0h2m-55 1h1m52 0h2m3 0h1m-6 1h2m-203 1h2m158 0h1m40 0h2m-718 1h1m654 0h1m60 0h2m-64 1h2m39 0h1m20 0h2m-729 1h1m664 0h2m38 0h2m41 0h1m-58 1h1m-11 1h1m11 0h1m-167 1h1m172 0h2m-701 1h2m695 0h1m-698 1h4m410 0h1m54 0h1m83 0h1m145 0h2m30 0h1m1 0h1m-733 1h1m1 0h1m698 0h1m7 0h1m-299 1h1m271 0h1m18 0h1m50 0h1m-50 1h1m-21 1h1m20 0h1m1 0h1m-168 1h2m164 0h1m1 0h1m1 0h1m13 0h2m-725 1h2m710 0h3m9 0h1m-725 1h2m522 0h1m182 0h1m5 0h2m8 0h2m-713 1h3m522 0h2m174 0h2m8 0h2m-733 1h2m6 0h3m10 0h2m670 0h1m27 0h1m9 0h2m4 0h1m1 0h3m-742 1h4m17 0h2m522 0h2m174 0h1m2 0h1m9 0h1m2 0h1m1 0h2m-740 1h3m17 0h1m1 0h2m318 0h3m346 0h1m1 0h1m23 0h1m15 0h1m4 0h3m-986 1h2m263 0h4m318 0h3m297 0h1m1 0h2m45 0h1m1 0h1m49 0h1m-988 1h1m263 0h1m1 0h1m18 0h2m540 0h1m2 0h2m28 0h1m1 0h3m3 0h1m1 0h3m1 0h1m1 0h1m1 0h1m1 0h1m1 0h2m1 0h5m87 0h1m9 0h1m-842 1h1m118 0h3m17 0h2m439 0h1m6 0h1m37 0h1m55 0h1m32 0h6m1 0h7m64 0h1m24 0h1m7 0h2m4 0h1m9 0h1m-842 1h1m118 0h2m459 0h1m6 0h1m21 0h1m15 0h1m52 0h1m22 0h1m91 0h1m31 0h7m6 0h1m2 0h1m-842 1h1m117 0h4m458 0h1m6 0h1m21 0h1m74 0h1m38 0h2m61 0h1m42 0h3m1 0h2m-112 1h5m57 0h2m7 0h1m33 0h7m14 0h1m-218 1h1m92 0h2m68 0h1m33 0h3m1 0h1m-208 1h2m4 0h2m162 0h1m34 0h2m-208 1h4m137 0h2m1 0h4m22 0h1m24 0h2m9 0h2m-208 1h1m1 0h1m93 0h1m74 0h1m1 0h1m-174 1h2m165 0h1m-684 1h2m576 0h3m106 0h1m-695 1h1m1 0h3m518 0h2m60 0h1m1 0h1m112 0h1m20 0h1m-723 1h6m518 0h2m15 0h2m179 0h1m19 0h2m-734 1h2m1 0h1m1 0h2m505 0h4m103 0h3m1 0h1m44 0h1m17 0h1m7 0h1m37 0h2m-914 1h1m18 0h1m9 0h1m52 0h1m67 0h1m15 0h1m2 0h1m1 0h1m13 0h1m23 0h2m481 0h1m1 0h1m29 0h1m5 0h1m22 0h1m20 0h1m25 0h4m12 0h1m31 0h1m17 0h5m41 0h2m-907 1h1m11 0h1m9 0h1m52 0h1m67 0h1m14 0h5m1 0h1m38 0h1m417 0h1m63 0h5m33 0h1m31 0h2m7 0h1m2 0h1m10 0h3m54 0h1m2 0h1m2 0h1m17 0h3m24 0h1m18 0h2m-286 1h1m34 0h1m3 0h1m1 0h1m8 0h1m17 0h1m73 0h1m3 0h1m6 0h3m1 0h6m51 0h1m37 0h1m13 0h1m8 0h1m8 0h2m-292 1h1m5 0h1m38 0h1m1 0h1m8 0h1m16 0h2m84 0h1m1 0h1m1 0h5m1 0h1m1 0h1m1 0h1m1 0h3m42 0h1m27 0h1m9 0h1m15 0h1m16 0h1m-739 1h1m729 0h1m20 0h1m-43 1h2m-704 1h1m1 0h1m526 0h2m175 0h1m-725 1h5m13 0h2m1 0h1m525 0h1m162 0h2m13 0h1m-726 1h3m1 0h1m4 0h1m10 0h1m689 0h2m-712 1h5m16 0h1m689 0h1m14 0h1m-191 1h2m163 0h1m1 0h3m5 0h1m1 0h1m-178 1h2m146 0h7m10 0h5m5 0h4m26 0h1m-206 1h1m146 0h8m20 0h4m27 0h1m-339 1h5m127 0h2m168 0h2m1 0h8m33 0h2m-732 1h1m1 0h2m380 0h2m1 0h1m305 0h1m1 0h2m30 0h3m7 0h2m-922 1h1m182 0h4m19 0h2m359 0h5m303 0h3m34 0h1m1 0h1m3 0h4m-902 1h1m45 0h1m71 0h1m24 0h1m42 0h1m589 0h1m3 0h1m48 0h1m9 0h1m8 0h2m5 0h2m11 0h1m24 0h1m2 0h2m1 0h1m-854 1h1m71 0h1m24 0h2m369 0h1m215 0h2m4 0h1m39 0h1m3 0h1m10 0h1m-746 1h1m71 0h1m24 0h1m370 0h2m159 0h1m49 0h1m1 0h5m28 0h1m13 0h1m1 0h1m13 0h1m22 0h1m25 0h1m8 0h3m19 0h1m6 0h1m19 0h1m-173 1h5m118 0h3m27 0h1m-144 1h2m111 0h1m1 0h1m3 0h1m-120 1h1m-574 2h5m467 0h1m82 0h1m56 0h1m76 0h4m-712 1h1m19 0h3m570 0h2m142 0h1m18 0h1m-758 1h2m12 0h5m576 0h1m126 0h5m11 0h1m-739 1h2m7 0h7m1 0h1m704 0h6m10 0h2m-731 1h10m560 0h1m157 0h1m2 0h1m17 0h1m-22 1h1m1 0h1m-206 1h3m203 1h1m19 0h2m-328 1h1m191 0h1m20 0h1m66 0h1m25 0h1m1 0h1m-131 1h1m79 0h1m46 0h1m23 0h1m-152 1h1m126 0h2m7 0h1m13 0h1m-116 1h2m89 0h2m11 0h1m-105 1h2m89 0h2m14 1h1m12 0h3m-16 1h1m2 1h1m-224 1h3m124 0h1m37 0h1m28 0h1m27 0h1m-83 2h1m-141 1h3m139 1h1m83 0h1m12 0h1m-14 1h1m-1 1h1m6 4h1"/>
<path stroke="#8CACD0" d="M7 2.5h1m-6 5h1m10 0h1m0 1h1m2 3h1m-11 2h1m12 0h1m-13 1h1m13 0h1m-1 1h1m1 0h1m0 1h1m-15 1h1m14 1h1m-14 2h1m0 2h2m-1 2h1m15 0h2m-17 1h1m1 1h1m13 0h1m276 3h1m-275 1h1m-12 1h1m-1 1h1m1 0h1m25 1h3m-2 1h1m255 0h2m-281 1h1m21 0h4m-3 1h1m1 0h1m-9 1h1m6 0h2m-9 1h1m6 0h2m-2 1h2m-6 1h1m3 0h2m-10 1h1m3 0h2m2 0h2m4 0h2m-11 1h1m3 0h1m4 0h2m-9 1h3m4 0h2m-11 1h1m2 1h1m-14 1h1m13 0h1m-19 1h2m17 0h1m2 1h1m1 0h1m-4 1h1m1 0h1m-21 1h2m17 0h1m1 0h1m-21 1h2m1 0h1m15 0h1m-28 1h1m1 0h1m25 0h1m-29 1h4m6 0h1m-11 1h1m1 0h1m1 0h5m1 0h1m1 0h1m17 0h1m-29 1h9m2 0h1m0 1h1m16 1h1m246 0h1m-263 1h1m15 0h1m-18 1h1m1 0h1m39 0h2m-51 1h3m5 0h1m1 0h1m15 0h1m22 0h1m-50 1h3m4 0h1m1 0h1m1 0h1m37 0h2m-1 1h1m-38 1h1m36 0h2m-36 1h1m33 0h1m-34 1h1m31 0h3m-33 2h1m11 0h1m18 0h1m-19 2h1m18 2h2m-27 1h1m1 1h1m12 3h1m1 2h1m8 3h2m-19 1h1m16 0h1m1 1h2m-19 1h1m14 0h1m2 1h1m0 2h2m212 0h1m-205 2h2m-50 1h3m3 0h1m35 0h1m5 0h2m-50 1h1m1 0h5m1 0h1m40 0h1m-46 1h1m1 0h1m5 0h1m29 0h2m-32 1h1m9 0h2m1 0h1m17 0h1m-22 1h1m1 1h1m-1 1h1m1 0h1m169 0h1m-169 1h1m15 0h1m-17 1h1m15 0h1m-14 3h1m1 0h1m13 0h1m-15 1h2m217 0h1m-215 1h2m2 3h1m217 0h2m-232 1h2m23 0h1m-26 1h3m26 4h1m-12 2h1m113 1h1m89 0h1m-3 1h2m-199 2h1m130 1h1m-119 2h1m117 0h1m-123 4h1m13 2h1m175 0h2m-175 2h1m2 0h2m1 1h1m172 0h4m-178 1h1m2 2h2m163 0h1m-165 1h2m-22 1h1m20 0h1m106 0h1m-106 2h1m1 0h3m1 0h1m679 0h1m-708 1h1m19 0h1m3 0h2m2 0h1m-6 1h1m4 0h1m97 0h1m579 0h2m178 0h2m-867 1h1m1 0h2m3 0h4m-32 1h1m21 0h3m2 0h1m1 0h1m1 0h1m-32 1h1m25 0h1m1 0h3m854 0h3m22 0h2m-910 1h1m703 0h1m-706 1h1m2 2h1m177 0h1m-179 1h2m-1 1h2m2 1h1m21 0h1m150 0h2m-176 1h1m2 0h1m19 0h2m-21 1h1m16 0h1m2 0h1m-25 1h1m1 0h3m-5 1h2m1 0h2m18 0h1m3 0h1m-28 1h2m25 0h1m670 0h1m-694 1h1m32 0h1m1 0h1m2 0h1m130 0h2m-176 1h1m3 0h1m25 0h1m1 0h1m5 0h1m1 0h2m76 0h1m579 0h2m202 0h3m-904 1h3m1 0h1m25 0h1m4 0h1m2 0h1m2 0h2m528 0h1m141 0h1m35 0h3m-750 1h3m8 0h1m19 0h3m1 0h4m834 0h1m27 0h1m-902 1h1m1 0h1m28 0h1m10 0h1m-43 1h2m7 0h2m2 0h1m28 0h1m-33 1h2m23 0h1m0 1h1m8 0h1m-9 1h1m-25 1h2m30 0h1m-7 1h1m4 0h2m-1 1h1m-30 1h1m24 0h1m2 0h1m-28 1h1m24 0h1m1 0h1m-29 1h1m28 0h1m-3 1h1m1 0h1m123 0h1m607 0h1m-760 1h2m25 0h1m-28 1h1m27 0h1m-30 1h2m27 0h2m121 0h2m2 0h3m-161 2h2m1 0h1m2 0h1m673 0h1m-679 1h2m3 0h1m-8 1h2m1 0h1m4 0h1m-8 1h1m1 0h1m28 0h1m-31 1h1m7 0h1m-11 1h1m1 0h1m9 1h1m20 0h2m-31 1h2m7 0h1m1 1h1m18 0h1m33 0h2m88 0h1m-149 1h1m1 0h2m-7 1h1m1 0h3m2 0h3m19 0h2m658 0h2m-681 1h2m70 0h1m-72 1h1m4 0h1m13 0h1m-12 1h1m11 0h1m-13 1h1m1 0h1m10 0h1m-10 2h1m13 0h1m-15 1h1m1 0h1m17 0h1m-18 1h1m13 0h1m2 0h1m-17 1h1m14 0h1m0 1h1m2 0h1m-3 1h1m2 0h1m-3 1h1m0 1h1m1 0h1m-20 1h1m18 1h2m107 0h2m-128 2h1m17 0h1m623 0h2m204 0h3m-850 2h1m17 0h2m97 0h2m404 0h2m166 0h4m124 0h1m-822 1h2m1 0h1m115 0h3m522 0h1m-641 1h1m16 0h1m493 0h2m-512 1h1m-3 1h1m2 0h1m-3 1h1m1 1h1m1 0h1m16 0h1m47 0h2m54 0h2m-123 1h1m1 0h1m64 0h3m47 0h1m1 0h1m1 0h2m-119 1h1m63 0h2m51 0h3m-120 1h1m1 0h1m48 0h7m3 0h1m4 0h2m50 0h2m-69 1h7m8 0h2m50 0h2m528 0h2m-631 1h1m1 0h1m29 0h7m8 0h2m50 0h2m-95 1h1m3 0h1m21 0h4m1 0h1m9 0h2m48 0h4m-114 1h1m23 0h4m32 0h2m48 0h4m511 0h2m-607 1h1m1 0h1m4 0h1m32 0h2m49 0h3m702 0h1m-797 1h1m39 0h2m46 0h4m1 0h1m528 0h2m-623 1h2m37 0h1m47 0h6m563 0h2m-774 1h1m154 0h2m49 0h1m-88 1h1m86 0h2m-140 1h1m31 0h1m18 0h1m86 0h2m514 0h2m-656 1h1m52 0h1m-22 1h1m20 0h2m470 0h1m-400 1h2m-73 1h3m-2 1h2m76 0h3m-104 1h1m21 0h3m4 0h2m61 0h4m-94 1h2m19 0h1m5 0h2m-27 1h1m-3 1h1m1 0h1m19 0h1m-25 1h1m24 0h1m6 0h3m-34 1h1m4 0h2m19 0h1m5 0h3m-35 1h1m27 0h1m1 0h2m776 0h1m-809 1h1m6 0h2m31 0h1m594 0h2m-637 1h2m6 0h1m26 0h1m3 0h3m-32 1h1m1 0h1m-3 1h4m-4 1h3m2 0h1m19 0h1m-20 1h1m481 0h2m-464 1h1m6 0h2m47 0h3m-193 1h1m1 0h1m112 0h1m19 0h1m5 0h2m-76 1h1m67 0h1m5 0h2m-33 1h2m4 0h1m471 0h1m-479 1h2m54 0h2m-52 1h1m50 0h3m-56 1h1m1 0h1m50 0h4m28 0h3m395 0h1m-484 1h2m21 0h1m29 0h1m1 0h1m-56 1h2m51 0h1m1 0h2m-56 1h1m24 0h3m24 0h1m1 0h1m22 0h1m-75 1h1m2 0h1m19 0h2m24 0h1m1 0h2m-48 1h1m16 0h3m24 0h1m-44 1h2m15 0h1m6 0h1m18 0h1m-191 1h1m38 0h1m3 0h1m16 0h1m56 0h4m50 0h2m17 0h1m-74 1h4m20 0h1m11 0h1m14 0h1m3 0h2m14 0h1m-72 1h4m19 0h2m28 0h1m2 0h1m14 0h1m-72 1h4m20 0h1m30 0h1m-56 1h3m35 0h1m1 0h1m15 0h1m12 0h1m1 0h1m9 0h2m-83 1h4m25 0h3m6 0h4m15 0h1m4 0h2m5 0h3m10 0h1m-83 1h3m26 0h3m6 0h3m18 0h1m1 0h1m1 0h1m2 0h2m1 0h3m-11 1h1m4 0h1m3 0h1m-6 1h3m1 0h2m-28 1h1m17 0h1m2 0h1m4 0h2m-74 1h1m2 0h1m64 0h1m3 0h2m-74 1h1m46 0h1m19 0h3m-69 1h1m42 0h2m23 0h2m28 0h3m-101 1h2m42 0h2m1 0h1m18 0h1m2 0h1m7 0h1m-78 1h2m43 0h2m1 0h1m28 0h2m19 0h3m525 0h1m-625 1h9m38 0h1m17 0h1m9 0h2m-77 1h7m1 0h1m57 0h1m8 0h2m-29 1h1m26 0h2m-2 1h2m-29 1h2m1 0h1m23 0h2m-30 1h1m27 0h2m26 0h2m2 0h1m-61 1h2m54 0h1m2 0h2m-57 1h1m1 0h1m1 0h1m13 0h1m26 0h3m4 0h2m1 0h2m-58 1h1m1 0h2m3 0h1m45 0h2m1 0h2m-60 1h3m2 0h2m3 0h1m44 0h1m-56 1h1m1 0h1m3 0h2m46 0h3m-2 1h2m-59 1h3m1 0h3m11 0h1m36 0h4m723 0h2m-783 1h6m22 0h1m25 0h1m25 0h2m365 0h1m179 0h2m-633 1h2m1 0h3m52 0h2m24 0h1m366 0h1m127 0h1m-590 1h1m44 0h1m48 0h2m-96 1h10m84 0h1m3 0h3m1 0h1m-102 1h2m91 0h2m2 0h6m-103 1h6m15 0h8m7 0h1m12 0h1m16 0h2m2 0h2m21 0h2m2 0h1m1 0h3m-101 1h1m1 0h1m1 0h1m16 0h7m23 0h1m12 0h3m24 0h1m4 0h4m1 0h1m-37 1h1m34 0h3m1 0h1m-68 1h1m18 0h1m1 0h1m6 0h2m24 0h1m7 0h5m1 0h1m-48 1h1m32 0h1m8 0h1m1 0h3m-50 1h1m1 0h1m1 0h1m41 0h1m1 0h1m1 0h1m-95 1h1m47 0h1m3 0h1m2 0h1m1 0h3m31 0h1m1 0h2m-95 1h2m44 0h1m11 0h1m4 0h3m10 0h1m-48 1h1m34 0h1m6 0h1m4 0h1m0 1h1m12 0h3m-44 1h2m1 0h1m7 0h6m23 0h4m-63 1h1m31 0h4m11 0h1m11 0h4m-41 1h1m15 0h1m20 0h4m-4 1h2m1 0h1m-33 1h4m25 0h4m683 0h5m-747 1h1m25 0h4m26 0h3m487 0h3m194 0h1m1 0h1m-748 1h1m28 0h1m1 0h1m25 0h4m487 0h1m1 0h1m193 0h1m2 0h2m-747 1h1m1 0h1m17 0h2m21 0h1m12 0h1m1 0h1m350 0h1m4 0h2m130 0h2m104 0h1m93 0h1m-749 1h2m22 0h1m3 0h1m28 0h4m374 0h1m50 0h2m126 0h1m3 0h2m33 0h2m93 0h1m-747 1h2m54 0h1m1 0h1m6 0h1m301 0h1m32 0h1m8 0h1m16 0h1m6 0h2m3 0h1m20 0h1m11 0h1m12 0h2m9 0h1m17 0h1m10 0h2m20 0h2m28 0h1m5 0h1m7 0h1m1 0h1m10 0h1m8 0h1m3 0h2m33 0h2m-717 1h1m68 0h1m49 0h4m6 0h1m301 0h1m14 0h1m17 0h1m3 0h1m5 0h2m14 0h1m6 0h2m3 0h1m20 0h1m11 0h1m12 0h2m1 0h2m1 0h1m4 0h1m2 0h1m7 0h1m6 0h1m10 0h2m2 0h1m5 0h2m1 0h1m20 0h2m16 0h1m3 0h1m1 0h1m1 0h1m4 0h1m13 0h5m4 0h1m3 0h2m33 0h2m46 0h1m54 0h2m-1020 1h1m4 0h1m81 0h1m53 0h1m2 0h1m52 0h1m2 0h1m12 0h1m24 0h1m1 0h1m7 0h1m20 0h1m19 0h1m13 0h1m15 0h4m6 0h1m118 0h1m1 0h1m195 0h1m17 0h1m3 0h1m4 0h1m16 0h1m6 0h2m3 0h1m6 0h1m1 0h1m18 0h1m17 0h2m1 0h2m1 0h1m4 0h1m2 0h1m7 0h1m6 0h1m10 0h2m2 0h1m5 0h5m19 0h2m16 0h1m3 0h1m1 0h1m1 0h1m2 0h3m14 0h14m30 0h1m2 0h2m1 0h1m3 0h1m10 0h1m7 0h1m21 0h1m54 0h2m-1015 1h1m81 0h1m56 0h1m52 0h1m2 0h1m12 0h1m24 0h1m1 0h1m7 0h1m45 0h2m23 0h4m323 0h1m16 0h2m3 0h2m39 0h1m1 0h1m18 0h1m28 0h1m2 0h1m14 0h1m14 0h1m5 0h2m2 0h1m47 0h1m22 0h8m34 0h5m1 0h2m56 0h1m-952 1h1m29 0h1m14 0h1m12 0h1m11 0h1m5 0h1m12 0h1m2 0h1m5 0h1m48 0h2m23 0h1m12 0h1m8 0h1m15 0h1m1 0h1m7 0h1m16 0h1m3 0h1m1 0h1m374 0h1m12 0h1m1 0h1m1 0h2m44 0h1m1 0h1m18 0h1m31 0h1m29 0h1m5 0h5m19 0h2m49 0h1m3 0h1m1 0h1m35 0h4m3 0h1m56 0h5m11 0h1m21 0h4m-923 1h1m21 0h1m5 0h1m48 0h2m83 0h1m39 0h1m369 0h1m1 0h1m126 0h1m3 0h1m19 0h1m52 0h4m35 0h5m1 0h2m56 0h1m3 0h1m11 0h1m21 0h4m-877 1h1m9 0h1m21 0h1m82 0h4m13 0h1m17 0h1m5 0h1m369 0h3m125 0h6m18 0h2m52 0h4m34 0h6m2 0h1m56 0h1m15 0h1m21 0h4m-877 1h1m108 0h3m3 0h2m1 0h1m2 0h1m10 0h1m20 0h1m2 0h1m369 0h3m8 0h1m117 0h2m2 0h2m18 0h1m52 0h4m33 0h4m58 0h1m1 0h1m17 0h1m21 0h4m-877 1h1m106 0h1m1 0h1m1 0h1m21 0h1m18 0h3m1 0h1m369 0h3m149 0h2m52 0h2m1 0h1m33 0h3m58 0h4m17 0h1m2 0h1m20 0h1m-774 1h8m11 0h1m31 0h1m2 0h1m558 0h4m4 0h1m45 0h3m59 0h1m1 0h1m26 0h2m10 0h2m1 0h2m-920 1h1m80 0h1m16 0h1m46 0h1m1 0h2m1 0h3m5 0h1m5 0h2m34 0h1m8 0h1m1 0h1m18 0h1m1 0h1m438 0h1m86 0h1m1 0h1m52 0h1m59 0h4m17 0h2m7 0h1m12 0h1m1 0h1m-919 1h1m88 0h2m7 0h1m19 0h1m39 0h1m5 0h1m14 0h1m19 0h3m1 0h1m7 0h1m15 0h1m4 0h1m341 0h2m2 0h1m92 0h2m85 0h4m86 0h2m65 0h2m1 0h2m-944 1h1m23 0h1m69 0h1m10 0h1m7 0h2m7 0h1m19 0h1m27 0h3m19 0h1m3 0h2m2 0h1m24 0h1m1 0h1m3 0h1m3 0h1m363 0h1m91 0h1m25 0h1m64 0h1m1 0h2m133 0h1m19 0h2m1 0h1m-943 1h1m23 0h1m69 0h1m15 0h2m1 0h2m27 0h1m26 0h4m19 0h1m3 0h3m25 0h1m2 0h1m3 0h2m2 0h1m363 0h1m47 0h1m1 0h1m1 0h1m2 0h1m35 0h2m25 0h1m201 0h2m18 0h2m-837 1h3m3 0h8m74 0h2m2 0h2m27 0h1m373 0h1m135 0h1m183 0h4m16 0h2m-837 1h9m1 0h1m1 0h2m71 0h1m2 0h2m2 0h3m27 0h3m22 0h2m346 0h1m3 0h2m299 0h2m33 0h2m-835 1h9m74 0h2m1 0h2m10 0h1m2 0h1m18 0h1m24 0h1m346 0h2m135 0h1m4 0h4m160 0h2m33 0h2m-752 1h1m2 0h2m10 0h1m22 0h1m23 0h2m345 0h2m134 0h1m5 0h4m195 0h2m-732 1h1m39 0h3m346 0h2m130 0h2m3 0h1m4 0h4m196 0h1m-733 1h3m32 0h1m5 0h3m478 0h2m7 0h5m195 0h2m-747 1h1m14 0h1m19 0h1m13 0h2m4 0h3m478 0h2m3 0h3m-508 1h1m12 0h1m486 0h1m4 0h2m-531 1h5m1 0h1m18 0h2m2 0h1m494 0h2m13 0h2m-557 1h1m20 0h2m1 0h1m17 0h1m-21 1h2m1 0h1m18 0h1m2 0h1m-35 1h1m12 0h2m20 0h2m-28 1h3m1 0h1m1 0h1m-3 1h1m24 0h2m360 0h2m-416 1h2m30 0h1m19 0h2m-52 1h1m1 0h1m5 0h1m22 0h1m-10 1h2m8 0h1m18 0h2m357 0h3m-390 1h1m8 0h2m-42 1h1m1 0h2m24 0h1m34 0h1m-70 1h6m42 0h1m21 0h1m-71 1h1m1 0h1m1 0h2m28 0h4m8 0h1m26 0h1m-4 1h1m10 0h1m-34 1h1m24 0h1m6 0h2m-79 1h4m42 0h1m23 0h1m7 0h1m486 0h2m-567 1h2m1 0h1m42 0h1m24 0h1m5 0h3m340 0h3m-423 1h4m597 0h2m153 0h1m-756 1h3m1 0h1m42 0h2m20 0h1m530 0h2m152 0h2m-757 1h3m1 0h3m5 0h5m1 0h1m1 0h1m1 0h3m23 0h2m1 0h1m31 0h2m-84 1h1m1 0h3m1 0h1m3 0h14m15 0h3m8 0h1m19 0h2m10 0h2m-81 1h3m1 0h1m2 0h4m1 0h3m1 0h1m1 0h3m16 0h1m29 0h1m-67 1h3m3 0h14m-21 1h1m1 0h1m1 0h1m44 0h1m18 0h1m348 0h2m-418 1h1m1 0h2m45 0h1m1 0h1m-18 2h3m32 0h2m-37 1h3m13 0h1m1 0h2m2 0h1m13 0h2m-45 1h1m3 0h6m17 0h1m3 0h2m-44 1h3m12 0h1m1 0h1m24 0h1m2 0h1m354 0h1m-391 2h1m37 0h1m478 0h3m-482 1h2m-40 1h2m37 0h1m-14 1h1m1 0h1m-4 1h4m-1 1h1m2 4h2m-2 1h2m35 3h2m-7 1h1m2 2h1m2 0h1m-2 1h1m1 0h1m0 1h1m-15 2h1m14 0h1m0 1h3m-1 1h1m-17 1h1m-4 2h1m3 0h1m15 0h1m-21 1h1m2 0h1m18 0h1m-19 1h1m0 1h1m18 0h1m-18 1h1m0 1h1m14 0h1m-16 1h1m-1 1h2m15 0h1m-14 1h1m18 0h1m-1 1h1m-19 1h1m3 1h1m16 0h1m-20 1h1m18 0h1m-16 1h1m17 1h1m-6 1h1m4 0h1m-5 1h1m3 1h1m1 1h1m-20 1h2m17 0h1m-13 1h1m12 0h1m-13 1h1m14 0h1m-21 1h2m21 1h1m-2 1h1m-20 1h2m1 0h1m30 0h2m-15 1h1m13 0h1m-32 1h2m16 0h1m-17 1h1m16 0h1m-17 3h1m17 0h1m-16 2h1m15 0h1m-18 1h1m2 1h1m14 0h1m-15 1h1m0 1h1m2 2h1m1 1h1m1 1h1m17 0h1m-8 1h1m6 0h1m-12 4h1m-18 2h1m-1 1h2m29 0h1m-16 4h2m21 1h1m-1 1h1m-16 1h1m13 0h1m3 1h1m-1 1h2m-1 1h1m1 1h1m-1 1h1m-5 1h1m-11 1h1m-3 1h2m6 2h1m-6 1h2m14 0h1m-16 1h2m15 1h1m-16 1h2m17 2h1m3 0h1m-17 1h1m16 0h1m0 1h1m-17 1h1m18 0h1m8 0h2m-10 1h1m7 0h2m-12 1h1m-16 2h1m17 1h2m-20 3h1m19 0h1m-20 1h1m21 0h1m-22 1h1m19 0h1m3 0h3m-2 1h2m-24 1h1m17 0h1m-21 1h1m20 0h1m-21 1h1m3 1h1m-1 1h1m16 0h1m-174 1h1m158 0h1m-160 2h1m160 0h1m-2 1h1m2 0h1m0 1h1m-14 1h2m14 0h1m-17 1h2m8 0h1m-1 1h2m17 0h1m-20 1h2m12 4h1m12 0h1m0 1h1m-1 1h1m3 2h1m0 1h1m0 1h2m1 0h1m1 0h1m-3 1h3m-21 1h1m17 0h2m7 0h1m-27 1h2m18 0h1m3 0h3m-7 2h1m0 1h2m-20 1h1m0 1h1m17 0h1m2 0h1m-21 1h1m19 0h1m-21 1h1m19 0h1m-2 1h1m-20 1h3m-2 1h2m-3 1h2m20 0h1m-20 1h1m1 0h1m15 0h1m-16 1h1m-1 1h1m1 0h1m-6 2h1m7 0h1m-9 1h1m4 0h3m-9 1h2m11 0h1m-2 1h1m22 4h1m0 1h2m-5 1h1m4 1h2m4 2h2m-6 1h1m0 1h1m1 0h2m0 1h3m-22 1h1m18 0h1m2 0h1m2 0h2m-7 1h3m2 0h1m-28 1h1m0 1h1m-1 1h1m21 0h1m-21 1h1m-1 1h1m23 0h1m-22 1h1m0 1h1m17 0h1m-19 2h1m18 0h1m1 0h1m-24 1h1m1 0h1m20 0h1m-24 1h1m2 0h2m-2 1h1m1 0h1m-3 1h1m1 0h1m2 0h1m-5 1h2m6 1h1m1 1h1m-11 1h2m4 0h1m-7 1h1m9 0h2m12 0h1m-6 5h1m11 2h1m1 0h1m1 2h1m0 1h1m-11 2h1m10 0h1m0 1h1m-13 1h1m1 2h1m13 0h1m-14 1h1m12 0h1m-12 1h1m12 0h1m-13 1h1m12 1h1m0 1h1m-12 2h2m0 2h1m1 1h1m0 1h1m10 0h1m0 1h1m-7 4h1m0 1h1m12 2h1m5 1h1m-4 1h1m2 0h2m-4 1h2m1 0h1m-2 1h1m-13 2h1m15 0h1m0 1h1m-16 2h1m16 0h1m-17 1h1m16 0h1m-18 1h1m-3 1h2m1 0h1m17 0h1m-21 1h2m19 0h1m1 1h1m-20 2h1m0 1h1m18 1h1m-18 1h1m0 1h1m16 0h1m-16 2h1m15 0h1m-16 1h1m0 2h1m21 0h1m-19 1h1m17 0h1m-17 1h1m1 1h1m16 0h1m-1 1h2m-6 1h1m4 0h2m-5 1h1m3 0h1m0 3h1m-13 1h1m-6 1h2m4 1h1m-4 2h2m-1 1h2m17 0h2m-20 1h2m17 0h2m-17 1h1m17 5h1m-13 1h1m-1 1h2m-1 1h1m13 1h1m-9 1h1m28 0h2m-2 1h2m-2 1h2m-27 1h1m8 0h1m7 1h1m12 0h2m-20 1h1m4 0h1m12 0h3m-14 1h1m-1 1h2m-17 1h1m15 0h1m-2 1h1m4 0h2m-6 1h1m-15 1h1m17 0h1m-1 1h3m-3 1h1m-20 3h2m20 0h1m0 1h1m-22 1h2m1 0h1m-3 1h2m1 0h1m17 0h1m1 1h1m-22 3h1m1 0h3m17 0h1m1 0h1m-363 1h2m327 0h3m6 0h1m2 0h1m-13 1h3m9 0h1m21 0h1m-19 1h1m0 1h1m1 1h1m-16 1h2m-2 1h2m14 0h1m15 0h1m-32 1h1m17 0h1m20 1h1m-22 1h1m16 0h1m3 0h1m-20 1h1m14 0h1m5 0h1m-5 1h1m3 0h1m-17 1h1m13 0h1m3 0h1m-2 1h4m-1 1h1m-379 1h4m372 0h4m-19 1h2m16 0h1m-1 1h1m-17 1h1m16 0h1m197 0h2m-199 1h1m196 0h2m-220 1h2m2 0h1m17 0h1m195 0h2m1 0h2m-5 1h1m2 0h2m-221 1h2m214 0h2m1 0h2m-218 1h1m19 0h1m-22 1h2m1 0h1m17 0h1m-21 1h1m1 0h1m-3 1h3m18 0h1m-20 1h3m-367 1h1m366 0h1m211 0h1m-212 1h1m210 0h1m-580 1h1m368 0h1m15 0h1m193 0h1m-4 1h2m1 0h1m-581 1h2m385 0h1m189 0h4m-584 1h5m371 0h2m13 0h1m190 0h2m-205 1h1m3 2h1m9 0h1m-393 1h3m381 0h1m-383 1h1m382 0h1m-382 1h4m402 0h1m127 0h3m-536 1h3m380 0h1m20 0h2m127 0h1m1 0h1m-537 1h4m-11 1h1m1 0h1m1 0h1m398 0h2m-402 1h1m537 0h3m-541 1h1m9 0h1m4 0h3m520 0h1m1 0h1m-531 1h8m390 0h1m129 0h1m185 0h2m-689 1h1m371 0h1m140 0h1m173 0h2m-828 1h1m38 0h1m37 0h2m20 0h1m31 0h1m7 0h1m6 0h1m5 0h1m364 0h1m2 0h1m34 0h1m10 0h1m34 0h1m3 0h1m17 0h1m27 0h2m15 0h1m4 0h2m-675 1h1m18 0h1m79 0h1m12 0h1m18 0h1m7 0h1m6 0h1m349 0h1m15 0h2m3 0h1m37 0h1m10 0h1m12 0h1m21 0h1m3 0h1m20 0h2m23 0h2m35 0h1m51 0h1m71 0h3m-864 1h1m164 0h1m11 0h1m2 0h1m364 0h1m16 0h2m24 0h1m4 0h2m1 0h1m53 0h1m3 0h1m20 0h2m23 0h2m86 0h2m71 0h3m-707 1h1m7 0h1m11 0h1m385 0h1m29 0h2m1 0h4m25 0h4m46 0h2m24 0h1m87 0h1m-166 1h5m159 0h2m-227 1h1m-1 2h1m3 0h1m-484 1h1m482 0h2m115 0h1m-601 1h1m6 0h1m456 0h1m19 0h1m112 0h1m2 0h1m-638 1h1m495 0h1m5 0h1m-503 1h1m494 0h2m7 0h1m-402 1h3m398 0h2m-1 1h2m1 0h1m1 0h1m15 0h1m-5 1h1m3 0h2m117 0h1m-119 1h1m117 0h2m-144 1h2m140 0h2m-137 1h2m14 0h1m118 0h1m-135 1h2m17 0h1m114 0h1m-544 1h4m397 0h1m13 0h1m11 0h2m4 0h1m106 0h1m2 0h1m-543 1h3m425 0h1m3 0h2m105 0h4m-114 1h1m110 0h3m-113 1h1m1 0h2m96 0h3m6 0h4m-130 1h2m2 0h1m13 0h1m1 0h1m96 0h1m1 0h1m7 0h1m-541 1h3m411 0h2m16 0h1m97 0h3m5 0h3m3 0h3m-17 1h1m1 0h1m1 0h1m3 0h3m-122 1h1m104 0h4m2 0h5m2 0h4m-123 1h2m104 0h2m4 0h3m1 0h1m-115 1h1m15 0h1m91 0h3m-110 1h1m15 0h1m89 0h1m1 0h1m-108 1h1m14 0h1m88 0h2m-526 1h3m418 0h1m13 0h1m-19 1h2m1 0h1m1 0h1m13 0h2m140 0h2m-580 1h3m415 0h1m1 0h2m119 0h2m-106 1h1m103 0h2m-2 1h1m-116 1h1m116 0h1m-117 1h3m18 0h1m-49 1h1m29 0h1m17 0h2m90 0h3m-113 1h1m1 0h1m10 0h1m5 0h1m-7 1h1m9 2h1m-54 1h2m51 0h2m-55 1h2m47 0h1m4 0h1m-457 1h2m437 0h2m88 0h2m49 0h4m-571 1h1m388 0h2m54 0h1m70 0h2m11 0h3m-142 1h1m51 0h4m70 0h2m-518 1h1m389 0h1m125 0h1m-127 1h1m57 0h1m-449 1h1m423 0h2m20 0h1m1 0h2m66 0h1m-92 1h2m4 0h1m17 0h1m66 0h1m-528 1h3m524 0h2m1 0h4m-523 1h1m447 0h1m64 0h3m3 0h4m8 0h1m-145 1h2m130 0h4m-94 1h2m3 0h1m84 0h1m-90 1h2m2 0h1m-448 1h2m445 0h1m25 0h2m-29 1h2m96 0h2m-96 1h1m14 0h1m-17 2h2m2 0h1m20 0h2m50 0h2m-78 1h2m15 0h1m3 1h1m0 1h1m1 0h1m69 0h2m-146 1h2m57 0h1m17 0h1m161 0h1m-160 1h1m1 0h2m4 0h1m-27 1h1m15 0h2m6 0h1m1 0h1m-8 1h1m2 0h3m3 0h1m-10 1h1m8 0h1m-492 1h4m481 0h1m-486 1h4m460 0h1m22 0h1m232 0h3m-258 1h1m68 0h4m44 0h3m-583 1h2m454 0h1m68 0h1m1 0h1m5 0h3m-536 1h2m401 0h1m52 0h1m3 0h1m2 0h1m23 0h1m37 0h3m-126 1h2m56 0h1m26 0h1m37 0h3m177 0h2m-707 1h2m400 0h2m139 0h3m-144 1h2m60 0h1m-65 1h1m1 0h2m62 0h1m20 0h1m35 0h4m-61 1h1m58 0h2m-62 1h1m22 0h1m36 0h2m-528 1h4m464 0h2m19 0h1m36 0h2m-62 1h1m24 0h1m-26 1h1m24 0h1m38 0h1m-530 1h4m463 0h1m1 0h1m58 0h2m174 0h3m-240 1h1m22 0h1m38 0h1m11 0h3m-78 1h2m2 0h1m21 0h1m34 0h3m-39 1h1m36 0h2m-65 1h2m6 0h2m2 0h1m50 0h2m-518 1h1m466 0h2m-470 1h2m454 0h2m58 0h1m-47 1h2m1 0h1m27 0h3m-515 1h2m484 0h1m9 0h1m15 0h3m203 0h3m-236 1h1m26 0h1m1 0h1m-506 1h2m514 0h5m13 0h1m35 0h4m-573 1h1m489 0h1m1 1h1m-12 1h1m12 0h1m134 0h1m-641 2h4m503 0h1m-108 1h3m105 0h1m-14 1h1m14 0h1m1 1h1m-17 1h1m16 0h2m-115 1h3m110 0h2m-18 1h1m1 2h1m40 0h3m-43 1h1m39 0h3m-3 1h1m1 0h1m-543 1h3m498 0h1m15 0h1m188 0h3m-709 1h3m515 0h1m16 0h2m-35 1h1m17 0h1m6 0h1m7 0h2m-46 1h3m9 0h2m15 0h1m185 0h2m-707 1h4m486 0h2m10 0h2m17 0h1m2 0h1m16 0h2m-53 1h3m30 0h1m-513 1h2m564 0h2m-70 1h1m68 0h1m-69 1h1m18 0h1m47 0h2m8 0h3m-60 1h2m3 0h1m41 0h2m9 0h2m-590 1h4m1 0h1m505 0h2m18 0h2m44 0h2m-579 1h7m525 0h2m1 0h1m42 0h1m-578 1h1m1 0h1m1 0h2m392 0h1m113 0h1m20 0h2m13 0h2m26 0h2m5 0h2m132 0h3m-721 1h2m1 0h1m1 0h1m543 0h2m25 0h1m1 0h1m-578 1h3m1 0h1m419 0h2m50 0h1m36 0h1m34 0h2m24 0h4m-575 1h3m393 0h3m22 0h2m50 0h1m35 0h1m-508 1h1m393 0h3m22 0h1m3 0h1m22 0h1m7 0h1m11 0h3m2 0h4m12 0h1m62 0h1m15 0h3m18 0h1m44 0h1m65 0h1m1 0h1m-655 1h1m372 0h1m2 0h2m22 0h1m7 0h1m12 0h2m2 0h4m12 0h1m17 0h1m26 0h1m17 0h1m15 0h1m1 0h1m17 0h2m41 0h4m3 0h1m56 0h4m1 0h5m6 0h3m23 0h1m-911 1h1m3 0h1m10 0h1m1 0h1m18 0h1m26 0h1m14 0h1m66 0h1m75 0h1m374 0h1m24 0h1m19 0h3m10 0h1m3 0h1m3 0h1m46 0h1m23 0h1m7 0h3m3 0h1m48 0h1m3 0h1m3 0h3m8 0h1m4 0h1m1 0h1m44 0h1m1 0h3m1 0h1m1 0h1m1 0h1m8 0h1m2 0h1m26 0h2m8 0h1m-929 1h1m1 0h1m16 0h1m45 0h1m2 0h1m11 0h1m107 0h5m30 0h1m374 0h2m15 0h4m1 0h3m31 0h1m1 0h3m5 0h1m46 0h1m31 0h1m35 0h1m1 0h2m1 0h1m6 0h1m14 0h2m14 0h1m1 0h1m29 0h1m3 0h1m10 0h10m10 0h6m1 0h1m21 0h2m8 0h1m-843 1h1m45 0h1m55 0h3m1 0h1m399 0h7m16 0h3m4 0h1m30 0h6m5 0h1m23 0h1m21 0h1m32 0h2m61 0h2m27 0h5m34 0h4m12 0h1m1 0h1m25 0h2m8 0h1m-843 1h1m492 0h1m12 0h1m1 0h1m1 0h2m91 0h1m21 0h1m31 0h1m92 0h4m34 0h5m-713 1h3m1 0h1m421 0h6m24 0h4m63 0h2m54 0h4m11 0h5m43 0h1m72 0h2m-717 1h1m1 0h1m1 0h1m16 0h1m408 0h1m25 0h3m17 0h1m47 0h2m53 0h5m5 0h3m2 0h5m43 0h1m72 0h2m-717 1h2m16 0h1m1 0h1m1 0h1m1 0h2m386 0h2m15 0h3m24 0h3m17 0h2m47 0h1m54 0h1m4 0h1m1 0h5m51 0h1m71 0h1m-692 1h2m430 0h3m17 0h2m37 0h2m9 0h1m58 0h5m1 0h1m50 0h1m72 0h2m-693 1h1m451 0h2m37 0h2m6 0h1m1 0h2m116 0h1m74 0h2m1 0h1m-292 1h1m116 0h1m94 0h2m81 0h1m-703 1h1m404 0h3m293 0h2m-706 1h4m372 0h2m2 0h3m20 0h2m1 0h1m1 0h3m100 0h1m-512 1h4m372 0h1m3 0h1m23 0h7m80 0h3m20 0h1m14 0h1m37 0h4m-571 1h4m372 0h2m2 0h2m22 0h3m84 0h2m19 0h2m1 0h1m14 0h1m36 0h1m1 0h2m-571 1h4m394 0h9m15 0h1m7 0h1m38 0h1m21 0h3m4 0h1m47 0h1m87 0h1m14 0h2m19 0h1m5 0h1m15 0h1m6 0h1m14 0h1m-316 1h2m16 0h3m2 0h1m7 0h1m38 0h1m28 0h1m22 0h1m23 0h2m8 0h1m9 0h1m55 0h1m5 0h1m1 0h2m3 0h1m35 0h1m4 0h2m10 0h1m4 0h1m6 0h1m-866 1h1m27 0h1m122 0h2m1 0h1m1 0h1m1 0h1m13 0h1m14 0h1m386 0h1m8 0h2m3 0h1m7 0h1m6 0h1m4 0h1m5 0h1m11 0h1m8 0h1m8 0h1m115 0h1m6 0h1m-740 1h1m28 0h1m4 0h1m16 0h1m71 0h2m1 0h5m13 0h1m14 0h1m386 0h1m11 0h1m21 0h1m5 0h1m11 0h1m63 0h1m100 0h3m-737 1h1m4 0h1m16 0h1m494 0h1m51 0h1m64 0h1m10 0h1m88 0h3m-90 1h2m85 0h3m-3 1h2m-84 1h2m84 0h2m-247 1h3m119 0h3m33 0h1m87 0h1m-248 1h5m118 0h3m36 0h1m82 0h3m-101 1h1m14 0h1m82 0h1m1 0h1m-85 1h1m-16 1h1m15 0h1m-17 1h1m16 1h1m-39 1h2m37 0h1m-16 1h1m-2 1h1m16 0h1m-18 1h1m90 0h1m-98 1h1m7 0h2m28 0h3m57 0h1m-642 1h3m539 0h2m9 0h1m14 0h1m12 0h2m-29 1h1m1 1h1m-29 1h1m28 0h1m-557 1h2m556 0h1m12 0h1m145 0h2m-320 1h1m173 0h1m8 0h1m2 0h2m52 0h2m-642 1h3m559 0h1m13 0h1m6 0h1m2 0h2m3 0h2m-14 1h1m6 0h4m3 0h2m-594 1h2m578 0h1m4 0h1m6 0h2m3 0h2m-57 1h1m40 0h1m1 0h2m5 0h2m3 0h2m-597 1h1m396 0h1m165 0h1m18 0h3m5 0h1m-592 1h1m397 0h1m125 0h6m61 0h2m-593 1h1m523 0h1m1 0h1m1 0h1m36 0h1m26 0h1m45 0h2m-641 1h2m523 0h3m3 0h2m60 0h2m109 0h1m-706 1h1m523 0h1m7 0h3m33 0h1m25 0h1m4 0h1m-77 1h2m7 0h2m59 0h1m5 0h1m-703 1h1m102 0h1m515 0h1m1 0h3m1 0h1m1 0h1m7 0h2m65 0h1m118 0h1m-822 1h1m473 0h5m140 0h9m3 0h1m4 0h1m35 0h1m31 0h2m-753 1h1m46 0h1m15 0h1m62 0h1m62 0h2m330 0h3m1 0h1m8 0h2m46 0h1m12 0h1m48 0h1m100 0h1m4 0h3m-753 1h1m46 0h1m15 0h1m62 0h1m32 0h4m26 0h2m343 0h2m46 0h1m12 0h1m26 0h1m21 0h1m39 0h2m7 0h1m17 0h2m7 0h1m25 0h1m116 0h3m-866 1h1m158 0h1m1 0h1m361 0h3m9 0h2m58 0h1m26 0h1m21 0h1m40 0h1m25 0h2m33 0h1m42 0h2m62 0h6m5 0h2m-707 1h4m360 0h3m5 0h6m58 0h1m26 0h1m21 0h1m39 0h2m4 0h2m19 0h1m5 0h2m32 0h2m100 0h2m4 0h1m3 0h3m-707 1h1m1 0h2m521 0h2m4 0h1m30 0h1m26 0h1m1 0h1m104 0h2m-185 1h1m10 0h3m4 0h2m30 0h1m25 0h1m3 0h1m102 0h2m-185 1h1m10 0h2m5 0h2m25 0h6m26 0h1m105 0h2m9 0h2m-317 1h1m131 0h3m31 0h3m1 0h2m28 0h1m107 0h4m3 0h5m-203 1h1m50 0h1m31 0h1m114 0h2m2 0h2m-722 1h2m7 0h1m508 0h2m49 0h1m31 0h1m114 0h2m-717 1h2m515 0h2m12 0h2m68 0h1m38 0h1m74 0h2m-717 1h2m529 0h2m34 0h1m33 0h1m-602 1h2m529 0h2m34 0h1m-568 1h2m524 0h1m4 0h2m35 0h5m3 0h1m-576 1h1m523 0h2m4 0h2m35 0h3m1 0h4m-575 1h3m570 0h1m4 0h1m-579 1h2m577 0h2m20 0h1m-602 1h2m-5 1h5m1 0h4m561 0h2m12 0h2m-584 1h7m561 0h2m4 0h3m7 0h1m-585 1h2m1 0h3m572 0h1m3 0h1m118 0h3m-704 1h7m570 0h2m2 0h1m3 0h3m115 0h1m-707 1h5m575 0h2m2 0h1m1 0h1m4 0h2m25 0h1m-619 1h4m593 0h1m19 0h2m-2 1h2m13 0h2m-17 1h2m13 0h2m-15 1h1m12 0h2m-15 1h1m12 0h2m1 0h1m-15 1h1m10 0h4m-106 1h1m90 0h2m10 0h1m-770 1h1m680 0h1m76 0h1m-93 1h1m-1 1h1m87 0h1m6 0h1m-5 1h1m3 0h1m-96 1h1m96 0h1m-5 1h1m3 0h1m-24 1h3m19 0h1m1 0h1m3 0h1m-88 1h1m57 0h4m6 0h1m15 0h2m-24 1h2m23 0h1m-24 2h2m3 0h1m18 0h1m3 0h1m67 0h2m-177 1h1m79 0h2m22 0h1m1 0h1m82 0h2m-105 1h1m19 0h1m73 0h5m4 0h3m-9 1h1m5 0h3m-109 1h2m95 0h1m2 0h2m4 0h3m-105 1h1m19 0h1m75 0h2m4 0h3m-107 1h2m21 0h1m68 0h2m10 0h3m-105 1h1m20 0h1m69 0h1m1 0h1m8 0h3m-193 1h1m88 0h1m87 0h5m8 0h3m-104 1h1m87 0h1m1 0h2m1 0h1m7 0h3m-82 1h1m65 0h7m6 0h3m-117 1h5m7 0h1m1 0h1m86 0h2m13 0h1m-193 1h1m75 0h6m10 0h1m18 0h1m65 0h2m12 0h2m-113 1h1m12 0h1m83 0h1m14 0h1m-719 1h1m604 0h2m96 0h2m12 0h2m-714 1h3m611 0h2m19 0h1m62 0h1m14 0h1m-715 1h5m516 0h4m89 0h1m4 0h1m79 0h2m12 0h2m-722 1h11m517 0h4m12 0h1m82 0h2m77 0h2m13 0h1m-723 1h10m394 0h1m1 0h1m122 0h2m3 0h2m1 0h1m1 0h1m167 0h2m11 0h3m-718 1h4m394 0h4m60 0h1m60 0h2m6 0h1m1 0h2m44 0h1m47 0h1m1 0h1m12 0h1m11 0h1m47 0h1m12 0h1m1 0h1m-719 1h5m490 0h1m62 0h1m6 0h1m6 0h1m7 0h1m65 0h1m8 0h2m46 0h3m10 0h2m-717 1h1m1 0h2m538 0h4m12 0h1m5 0h1m6 0h1m15 0h1m56 0h1m57 0h3m10 0h1m-174 1h4m86 0h1m16 0h1m52 0h2m11 0h2m-717 1h1m1 0h1m521 0h1m15 0h1m1 0h3m106 0h1m50 0h1m-704 1h5m544 0h2m152 0h2m-164 1h1m5 0h1m1 0h1m87 0h1m65 0h2m27 0h1m-192 1h1m5 0h4m101 0h1m-127 1h1m112 0h1m63 0h2m-67 1h1m17 0h2m44 0h1m-46 1h1m-118 1h2m113 0h2m-131 2h2m112 0h1m16 0h1m60 1h2m-194 1h2m113 0h1m2 0h1m14 0h1m57 0h2m-719 1h1m657 0h1m42 0h3m13 0h2m-47 1h2m-37 1h2m9 0h1m23 0h1m-35 1h1m7 0h1m1 0h1m23 0h2m-28 1h2m2 0h1m2 1h1m9 0h1m13 0h2m-27 1h1m16 0h1m7 0h2m-10 1h2m6 0h2m-679 1h1m667 0h1m1 1h1m-143 1h1m11 0h1m117 0h1m48 0h2m-181 1h2m10 0h1m131 0h1m8 0h2m25 0h1m-181 1h2m143 0h1m2 0h1m4 0h1m23 0h4m25 0h2m-208 1h2m144 0h1m31 0h3m-181 1h2m174 0h5m-48 1h1m42 0h2m2 0h1m-700 1h1m649 0h2m43 0h2m1 0h2m-700 1h1m650 0h1m1 0h1m41 0h2m2 0h1m-6 1h2m2 0h3m-56 1h3m7 0h1m38 0h1m4 0h2m-56 1h1m1 0h1m8 0h1m12 0h1m24 0h1m3 0h3m-44 1h1m39 0h3m-29 1h1m22 0h1m2 0h4m-45 1h1m16 0h1m23 0h1m1 0h1m7 0h2m-60 1h3m21 0h1m23 0h4m-52 1h3m12 0h1m32 0h1m1 0h1m-3 1h1m1 0h2m23 0h1m-59 1h1m30 0h1m1 0h2m19 0h2m-67 1h2m40 0h1m1 0h2m19 0h2m-204 1h1m136 0h1m11 0h2m28 0h1m22 0h2m-732 1h2m688 0h1m12 0h1m13 0h1m-177 1h2m178 1h1m-194 1h1m191 0h2m-23 1h2m-3 1h1m19 0h4m-180 1h1m141 0h1m15 0h1m17 0h2m-179 1h2m159 0h2m-1 1h1m1 1h2m-1 1h2m-701 1h1m1 0h1m698 0h1m1 0h1m1 0h1m-707 1h4m699 0h1m5 0h1m-709 1h1m1 0h1m702 0h2m-708 1h4m517 0h2m160 0h1m21 0h1m1 0h1m-188 1h1m1 0h1m159 0h1m27 0h1m-715 1h4m520 0h3m159 0h1m1 0h1m24 0h1m10 0h1m1 0h2m8 0h2m-737 1h1m522 0h3m186 0h1m1 0h1m8 0h4m8 0h2m-737 1h1m10 0h2m510 0h3m13 0h1m38 0h2m16 0h1m54 0h1m36 0h1m22 0h1m11 0h1m1 0h2m6 0h3m-736 1h1m10 0h2m512 0h3m50 0h2m16 0h1m19 0h1m27 0h1m6 0h1m29 0h1m6 0h2m21 0h1m11 0h4m3 0h1m2 0h4m-737 1h2m478 0h1m41 0h6m43 0h1m6 0h1m1 0h3m13 0h2m18 0h1m7 0h18m1 0h1m7 0h1m17 0h3m1 0h1m49 0h3m4 0h1m2 0h4m-890 1h1m45 0h1m577 0h1m8 0h1m25 0h1m2 0h1m13 0h1m1 0h3m50 0h1m1 0h3m39 0h1m1 0h1m1 0h3m1 0h1m1 0h3m1 0h3m1 0h2m1 0h1m21 0h5m20 0h1m39 0h1m4 0h2m-906 1h1m639 0h1m8 0h1m25 0h1m2 0h1m12 0h6m50 0h1m43 0h5m9 0h2m25 0h1m1 0h4m21 0h2m21 0h1m-886 1h1m2 0h1m674 0h1m16 0h1m1 0h1m1 0h1m10 0h2m38 0h1m45 0h3m36 0h3m6 0h9m10 0h1m-864 1h1m2 0h1m691 0h2m54 0h1m3 0h1m34 0h1m1 0h1m2 0h2m1 0h1m34 0h1m1 0h3m1 0h1m1 0h1m1 0h3m1 0h1m16 0h1m-110 1h1m34 0h1m6 0h2m34 0h19m13 0h1m-297 1h2m129 0h4m51 0h1m34 0h1m7 0h1m42 0h3m1 0h1m1 0h1m1 0h3m12 0h1m-296 1h2m129 0h2m1 0h1m51 0h1m34 0h4m73 0h1m21 0h1m-321 1h2m178 0h1m1 0h1m38 0h1m1 0h2m70 0h1m1 0h1m-163 1h1m44 0h3m114 0h2m-164 1h1m5 0h2m37 0h3m119 0h2m-178 1h1m58 0h5m106 0h1m3 0h2m-699 1h5m1 0h1m516 0h1m8 0h1m49 0h5m109 0h1m6 0h1m-780 1h1m81 0h1m1 0h3m512 0h2m37 0h1m11 0h1m8 0h1m33 0h10m7 0h5m35 0h1m6 0h1m16 0h1m-792 1h1m101 0h2m456 0h1m20 0h1m29 0h1m6 0h1m36 0h1m20 0h1m33 0h10m1 0h1m1 0h1m1 0h1m1 0h1m1 0h1m1 0h1m11 0h2m22 0h1m11 0h2m-684 1h1m5 0h1m456 0h1m20 0h1m29 0h1m6 0h2m7 0h1m48 0h2m33 0h18m13 0h3m34 0h2m-678 1h1m456 0h1m20 0h1m29 0h1m5 0h2m7 0h2m49 0h1m64 0h1m34 0h1m1 0h1m21 0h1m-184 1h2m156 0h2m1 0h1m-162 1h1m214 0h1m-216 1h1m214 0h2m-348 1h2m344 0h1m-736 1h2m387 0h2m129 0h1m-521 1h1m691 0h5m27 0h1m-739 1h1m1 0h1m704 0h1m1 0h2m27 0h3m-741 1h2m704 0h5m-711 1h1m546 0h1m158 0h4m-710 1h3m684 0h3m58 0h2m-910 1h1m13 0h1m145 0h1m1 0h3m682 0h3m56 0h1m3 0h1m-911 1h1m13 0h1m877 0h2m14 0h1m-895 1h1m1 0h1m43 0h1m79 0h1m64 0h1m604 0h1m58 0h3m21 0h1m15 0h1m5 0h1m5 0h2m-863 1h1m79 0h1m63 0h2m640 0h1m46 0h1m20 0h2m5 0h2m-863 1h1m771 0h1m79 0h2m7 0h1m-90 1h1m35 0h3m50 0h2m-749 1h1m1 0h7m1 0h1m683 0h3m42 0h2m6 0h2m-754 1h4m1 0h11m681 0h6m49 0h2m-757 1h2m1 0h4m693 0h2m1 0h3m-706 1h2m1 0h9m719 0h1m-729 1h4m1 0h1m1 0h1m515 0h1m203 1h1m1 0h1m17 0h1m-29 1h3m5 0h1m2 0h1m-11 1h1m7 0h1m3 2h1m-209 1h3m205 0h1m1 0h1m-211 1h3m204 0h1m2 0h1m-5 1h2m7 1h1m13 1h1m1 0h1m5 3h1m-32 1h6m-6 1h2m1 0h3m12 0h1m11 0h1m-237 1h3m234 0h1m-14 1h1m14 0h1m-2 1h1m-10 4h1m-3 1h1m2 0h1m1 1h1m-2 1h1"/>
<path stroke="#90B0BC" d="M5 1.5h1m0 1h1m-6 3h1m7 0h1m-8 1h1m8 0h1m-7 3h1m0 2h1m12 2h1m3 2h1m-11 4h1m13 0h1m0 3h1m-14 1h1m13 0h1m280 0h2m-280 2h1m-14 2h1m2 1h1m0 1h1m1 3h1m11 1h1m0 1h1m1 2h1m-8 1h1m0 1h1m7 0h1m6 1h1m-14 1h1m12 0h1m-12 2h1m8 0h1m4 0h1m-1 1h1m-1 1h1m-1 1h1m1 1h1m-13 1h1m12 0h1m2 1h1m-20 1h2m18 2h1m-18 1h4m18 1h1m-19 1h1m0 1h1m15 0h1m-16 3h1m2 1h1m13 0h1m245 1h2m-258 3h1m-3 1h1m5 1h1m29 2h2m-19 1h1m16 0h1m1 0h3m-5 1h5m-20 1h1m14 0h5m-19 1h1m-8 1h1m8 1h1m-8 1h1m7 0h1m-8 1h1m8 0h1m229 1h2m-239 1h1m8 0h1m-9 1h1m10 1h1m-11 1h1m15 1h2m-16 1h1m13 0h2m0 1h2m-16 2h1m14 0h1m0 1h2m0 2h2m-32 1h4m247 0h1m-252 1h1m1 0h2m27 0h1m-31 1h3m10 0h2m-15 1h3m10 0h2m-15 1h3m12 0h1m16 0h2m-19 1h1m1 0h1m16 0h1m-17 1h1m-1 1h1m1 1h1m-1 1h1m1 0h1m220 0h2m-220 2h1m-1 1h1m216 0h2m-218 1h1m13 1h1m2 3h2m0 1h1m-11 1h1m10 1h1m196 1h1m-206 1h1m9 0h1m200 0h4m-215 1h1m0 1h1m1 1h1m208 1h1m-208 1h1m9 0h1m0 2h1m-7 3h1m9 0h1m-9 1h1m191 1h2m5 1h2m-198 2h1m10 0h2m0 1h1m0 1h1m1 1h1m0 1h1m3 0h1m-4 1h1m4 0h1m-19 1h1m16 0h2m-19 1h1m18 0h1m-19 1h1m18 0h1m-19 1h1m17 0h2m-2 1h2m-19 1h1m19 0h1m-20 1h1m17 0h1m6 0h1m-25 1h1m17 0h1m5 0h2m24 0h1m-1 1h2m526 0h1m-529 1h1m129 0h2m-183 1h1m23 0h1m26 0h2m-51 1h1m21 0h1m26 0h1m-51 1h2m22 0h1m155 0h2m-180 1h1m20 0h1m554 0h1m-576 1h3m-2 1h2m18 0h1m-18 1h1m16 0h1m155 0h1m-175 1h1m1 0h1m16 0h1m0 2h1m5 1h1m-1 1h1m-22 1h2m1 0h1m15 0h1m-24 1h2m4 0h1m2 0h2m20 0h1m-31 1h1m9 0h1m15 0h1m144 0h4m-163 1h1m15 0h1m1 0h1m0 1h1m-1 1h1m1 0h2m6 0h2m-11 1h1m5 0h5m-28 1h1m19 0h1m3 0h4m5 0h2m-15 1h2m2 0h4m5 0h3m-38 1h2m22 0h1m1 0h3m-4 1h5m-26 1h1m20 0h2m1 0h1m128 0h3m-128 1h1m124 0h2m-154 1h1m21 0h1m137 0h1m-137 1h1m-27 1h1m1 0h1m24 0h3m123 0h4m3 0h5m-162 1h2m22 0h1m1 0h1m-25 1h1m22 0h2m-26 1h1m25 0h1m-27 1h1m1 1h2m22 0h2m522 0h1m-548 1h1m148 0h6m-154 1h1m-4 1h1m3 0h2m-6 1h6m-6 1h5m2 0h1m-9 1h7m22 0h1m124 0h2m-176 1h5m15 0h4m1 0h1m3 0h1m-29 1h1m1 0h1m26 0h2m-2 1h1m1 0h1m-6 1h1m2 0h3m0 1h1m1 0h1m-1 1h1m17 0h1m116 0h1m-149 1h2m-2 1h2m17 0h1m-19 1h1m32 0h1m115 2h2m-127 1h1m12 0h1m1 1h1m0 1h2m-15 1h1m16 0h1m-1 2h1m0 1h1m1 0h1m-18 1h1m15 0h2m2 1h1m97 0h4m-121 1h1m0 1h1m-1 1h1m16 0h1m98 0h4m393 2h2m-514 1h1m1 0h1m0 1h1m14 0h1m-15 1h1m14 0h1m96 0h1m-114 1h2m14 0h1m0 1h1m-13 1h1m60 0h3m-67 1h1m63 0h3m-60 1h1m58 0h4m49 0h3m-114 1h2m56 0h4m49 0h3m-112 1h1m11 0h1m1 0h1m3 0h1m37 0h4m47 0h3m1 0h1m-97 1h1m2 0h1m37 0h4m47 0h3m-88 1h2m4 0h2m77 0h3m-87 1h1m5 0h1m-11 1h1m9 0h1m-10 1h1m8 0h1m1 0h1m-10 1h1m6 0h3m-27 1h1m17 0h1m5 0h3m-9 1h1m5 0h1m-25 1h1m18 0h2m3 0h1m-24 1h1m18 0h1m2 0h2m-4 1h1m1 0h2m77 1h4m-106 1h2m20 0h1m-19 1h1m0 1h1m17 0h1m0 1h1m-23 1h1m3 0h1m-5 1h2m3 0h2m0 1h1m17 0h1m-19 1h2m17 0h2m5 0h2m-26 1h1m18 0h4m2 0h1m-24 1h1m80 0h3m5 0h3m-103 1h1m7 0h2m3 0h1m18 0h1m-33 1h10m4 0h1m17 0h1m-29 1h2m-3 1h3m29 0h1m-19 1h1m0 1h1m17 0h1m-19 1h1m17 0h1m-18 1h1m17 0h1m-19 1h1m18 0h1m-20 1h1m19 0h1m27 0h2m-50 1h1m19 0h1m27 0h2m25 0h1m-74 1h2m44 0h2m-51 1h1m22 0h1m25 0h2m-51 1h2m47 0h1m-44 1h1m17 0h1m24 0h2m31 0h3m388 0h1m-466 1h2m39 0h1m-40 1h1m15 0h3m20 0h2m-40 1h1m15 0h1m21 0h1m-38 1h2m36 0h3m-23 1h1m1 0h1m8 0h3m7 0h2m-38 1h1m15 0h1m9 0h1m1 0h1m6 0h2m24 0h1m-60 1h1m15 0h1m2 0h1m14 0h1m-18 1h1m3 0h1m11 0h1m3 0h1m-36 1h1m18 0h1m11 0h2m2 0h2m-37 1h2m16 0h2m2 0h1m-23 1h1m22 0h1m38 0h5m-110 1h2m76 0h1m1 0h1m-81 1h2m44 0h1m16 0h1m2 0h1m11 0h3m-81 1h6m41 0h1m30 0h3m-79 1h4m40 0h1m19 0h1m11 0h3m-79 1h4m42 0h1m29 0h3m-79 1h4m43 0h1m16 0h1m-19 2h1m2 1h1m-3 1h3m16 0h1m427 0h1m-443 1h1m-9 2h2m3 0h1m19 0h1m552 0h2m-580 1h1m5 0h1m1 0h1m1 0h1m1 0h1m-13 1h2m576 0h1m-563 1h1m46 0h1m-1 1h2m-2 1h1m386 0h2m-433 1h1m45 1h1m1 0h1m-78 1h9m33 0h1m31 0h4m-78 1h4m1 0h1m1 0h1m1 0h1m1 0h1m1 0h2m-6 1h4m1 0h1m30 0h1m1 0h1m-39 1h2m2 2h2m2 0h5m15 0h1m12 0h2m-38 1h1m3 0h4m72 0h1m-78 1h5m31 0h1m30 0h1m1 0h1m7 0h1m-56 1h1m14 0h1m2 0h1m26 0h4m6 0h1m1 0h1m-42 1h1m3 0h1m21 0h2m1 0h4m5 0h2m3 0h4m-63 1h1m18 0h2m2 0h1m18 0h2m1 0h1m2 0h1m5 0h1m5 0h3m-43 1h2m1 0h1m1 0h1m19 0h1m2 0h1m10 0h3m-41 1h1m23 0h1m13 0h3m-59 1h1m16 0h1m38 0h1m1 0h1m-59 1h1m20 0h1m34 0h3m-40 1h1m1 0h2m33 0h1m1 0h1m488 0h3m-548 1h1m17 0h1m35 0h3m488 0h3m-547 1h1m16 0h1m1 0h1m35 0h1m488 0h3m-546 1h1m17 0h1m17 0h1m17 0h1m487 0h4m-510 1h3m2 0h1m12 0h1m355 0h4m128 0h4m-547 1h1m20 0h3m1 0h2m10 0h3m373 0h1m1 0h3m125 0h4m197 0h2m-744 1h1m37 0h1m1 0h1m370 0h2m128 0h4m2 0h1m194 0h1m-744 1h3m1 0h1m19 0h1m4 0h1m11 0h1m373 0h1m62 0h2m1 0h1m66 0h1m4 0h2m20 0h1m167 0h1m5 0h1m-748 1h2m19 0h1m2 0h1m378 0h2m22 0h1m20 0h1m1 0h2m6 0h1m15 0h1m1 0h2m1 0h1m11 0h1m8 0h1m2 0h1m3 0h1m11 0h1m23 0h1m7 0h2m15 0h1m4 0h1m1 0h1m10 0h1m2 0h1m3 0h1m1 0h1m1 0h1m1 0h1m18 0h1m117 0h2m1 0h3m3 0h1m5 0h1m-878 1h1m129 0h1m16 0h1m356 0h1m5 0h1m1 0h2m2 0h2m2 0h2m4 0h2m1 0h2m22 0h1m12 0h1m7 0h1m1 0h2m6 0h1m15 0h1m1 0h2m1 0h1m11 0h1m6 0h3m2 0h1m3 0h1m11 0h1m11 0h1m18 0h3m15 0h1m4 0h1m1 0h1m10 0h1m1 0h1m6 0h6m17 0h1m117 0h1m1 0h1m11 0h2m-882 1h2m2 0h1m16 0h1m50 0h1m56 0h2m4 0h2m371 0h1m5 0h1m1 0h2m3 0h5m5 0h1m1 0h2m22 0h1m12 0h1m33 0h1m1 0h2m1 0h1m11 0h1m6 0h3m2 0h1m3 0h1m11 0h1m11 0h1m19 0h3m8 0h1m10 0h1m1 0h1m12 0h1m6 0h3m20 0h1m16 0h2m7 0h1m38 0h2m65 0h2m-1024 1h1m52 0h1m24 0h1m21 0h1m32 0h1m8 0h2m2 0h1m30 0h1m2 0h1m33 0h1m60 0h2m21 0h2m350 0h1m5 0h1m1 0h2m4 0h5m7 0h1m86 0h1m15 0h1m23 0h1m19 0h2m9 0h1m22 0h4m14 0h4m28 0h2m7 0h1m38 0h2m45 0h4m16 0h2m-1024 1h1m36 0h1m15 0h1m21 0h1m2 0h1m8 0h1m12 0h1m17 0h1m2 0h1m3 0h1m7 0h1m8 0h1m3 0h1m5 0h1m15 0h1m8 0h1m2 0h1m4 0h1m28 0h1m10 0h1m9 0h1m36 0h1m3 0h1m1 0h2m20 0h2m348 0h1m5 0h1m1 0h2m143 0h1m19 0h3m8 0h1m22 0h1m1 0h1m17 0h2m28 0h2m7 0h1m85 0h4m-969 1h1m37 0h1m42 0h1m2 0h1m11 0h1m18 0h1m15 0h1m8 0h1m2 0h1m117 0h1m8 0h1m502 0h1m14 0h1m31 0h8m12 0h2m123 0h1m1 0h1m1 0h1m-874 1h1m18 0h1m4 0h1m19 0h1m2 0h1m100 0h1m25 0h1m375 0h1m126 0h1m14 0h2m30 0h1m1 0h5m13 0h1m-726 1h1m4 0h1m123 0h1m20 0h1m4 0h2m374 0h1m142 0h2m29 0h8m12 0h2m48 0h3m55 0h1m23 0h1m-864 1h1m5 0h1m128 0h1m25 0h2m5 0h1m8 0h2m358 0h3m122 0h2m16 0h2m49 0h2m47 0h1m1 0h1m55 0h1m17 0h2m5 0h1m-864 1h1m5 0h1m87 0h1m43 0h2m16 0h1m4 0h4m3 0h1m9 0h1m359 0h2m123 0h1m17 0h1m43 0h2m1 0h5m47 0h4m72 0h1m-915 1h1m12 0h1m42 0h1m1 0h1m45 0h3m9 0h1m9 0h1m14 0h1m10 0h1m40 0h1m1 0h1m22 0h1m2 0h2m3 0h1m9 0h1m359 0h1m38 0h1m84 0h2m16 0h2m98 0h1m57 0h1m24 0h1m1 0h1m-946 1h1m21 0h1m3 0h1m8 0h1m44 0h1m45 0h3m9 0h1m9 0h1m14 0h1m10 0h1m40 0h1m23 0h1m16 0h1m1 0h1m11 0h1m386 0h1m17 0h1m24 0h1m41 0h2m16 0h2m98 0h2m30 0h1m48 0h2m1 0h1m-923 1h1m57 0h1m43 0h5m9 0h1m9 0h1m14 0h1m10 0h1m43 0h1m21 0h1m15 0h3m355 0h2m119 0h1m1 0h1m13 0h1m8 0h2m69 0h1m28 0h2m56 0h3m20 0h1m1 0h3m-924 1h1m101 0h2m12 0h1m35 0h1m15 0h3m47 0h1m15 0h1m1 0h1m355 0h2m47 0h1m6 0h1m64 0h1m1 0h1m13 0h1m8 0h2m69 0h1m20 0h1m65 0h2m24 0h1m5 0h1m-827 1h3m64 0h1m3 0h1m25 0h1m1 0h1m17 0h1m14 0h3m3 0h1m1 0h1m349 0h2m135 0h1m1 0h4m3 0h2m156 0h3m13 0h1m10 0h1m4 0h1m-757 1h2m21 0h1m3 0h1m20 0h1m13 0h1m1 0h1m3 0h3m486 0h1m1 0h3m5 0h1m157 0h1m14 0h1m-740 1h1m26 0h1m33 0h3m3 0h1m1 0h1m486 0h1m1 0h4m162 0h2m2 0h2m4 0h6m-741 1h2m26 0h1m39 0h2m489 0h1m1 0h2m162 0h2m2 0h2m4 0h1m1 0h1m1 0h1m13 0h3m-725 1h1m1 0h1m16 0h1m15 0h3m490 0h4m166 0h2m1 0h1m2 0h3m15 0h3m-705 1h1m16 0h3m488 0h1m1 0h1m171 0h1m1 0h1m1 0h1m15 0h3m-688 1h3m661 0h2m1 0h3m-728 1h2m23 0h1m16 0h1m15 0h3m661 0h2m-724 1h2m7 0h3m12 0h1m1 0h2m32 0h1m-51 1h2m7 0h5m4 0h1m19 0h1m10 0h2m-63 1h6m6 0h2m9 0h3m5 0h1m16 0h1m11 0h2m-61 1h2m11 0h1m10 0h2m25 0h1m7 0h2m-62 1h3m22 0h2m7 0h1m16 0h1m1 0h2m-54 1h4m7 0h1m1 0h2m19 0h1m19 0h1m-19 1h1m17 0h1m-32 2h3m29 0h1m-17 2h1m18 0h1m-58 1h2m56 0h2m-63 1h4m36 0h1m24 0h1m-23 1h1m18 0h1m-61 1h1m39 0h1m22 0h1m-23 1h1m21 0h1m-63 1h1m1 0h6m17 0h6m9 0h1m22 0h1m-64 1h4m1 0h1m1 0h1m14 0h1m3 0h1m1 0h1m1 0h1m10 0h2m370 0h3m-416 1h11m11 0h9m13 0h1m-45 1h2m61 0h1m-32 1h1m-1 1h1m13 0h1m-19 1h8m2 0h2m7 0h1m-19 1h1m1 0h1m1 0h3m1 0h3m7 0h1m1 0h1m-22 1h3m2 0h5m28 1h1m-19 1h1m1 0h2m0 1h1m2 0h1m-31 3h1m35 0h1m352 2h1m-339 3h1m2 3h1m-9 2h1m9 1h1m-8 2h1m9 0h1m0 1h2m-10 1h1m14 0h2m-6 1h3m1 0h2m-15 2h1m11 0h1m1 0h1m-14 1h1m13 0h1m-15 1h1m1 2h1m13 0h1m-15 1h1m14 0h2m-17 1h1m1 1h1m-4 1h2m-2 1h2m1 0h1m0 1h1m16 0h1m-1 1h1m-15 1h1m13 0h1m1 0h1m-16 1h1m-1 1h1m4 4h3m9 0h1m6 0h1m-1 1h1m-18 1h1m12 0h1m-8 2h1m1 3h1m-3 4h2m18 0h1m-1 1h1m1 2h1m1 0h1m-2 1h1m1 2h1m0 1h1m0 1h1m-17 1h2m15 0h1m-15 2h1m14 0h1m-15 1h1m-2 1h1m16 0h1m-15 1h1m0 1h1m0 1h1m12 0h1m-13 1h1m1 1h1m1 2h1m2 1h1m18 2h1m-1 1h1m-7 1h1m0 1h1m2 1h1m0 1h1m-10 1h1m8 0h1m-9 1h1m10 0h1m-11 3h1m12 0h1m-13 1h2m10 0h1m3 0h1m-22 1h2m19 0h1m-4 1h1m-12 1h1m12 0h1m-11 3h2m9 0h1m-9 1h1m0 2h1m-4 1h2m4 0h1m7 0h1m0 1h1m2 2h1m-9 1h1m0 1h1m9 0h1m2 1h1m2 0h1m-5 1h1m3 0h1m-15 1h1m13 0h2m-1 1h2m1 1h2m-18 1h1m16 0h2m-17 2h1m14 0h1m1 0h1m-19 1h1m18 2h2m-21 1h3m17 0h1m-19 1h2m-1 1h1m18 1h1m-19 1h1m19 0h1m-21 1h2m1 0h1m-3 1h1m1 1h1m2 1h1m14 0h1m-16 1h2m2 2h1m12 0h1m1 1h1m-15 1h1m13 0h1m-11 1h1m2 2h1m0 2h2m9 0h1m0 2h1m4 2h1m-12 1h1m11 0h1m-11 1h1m9 0h1m1 1h1m2 0h1m-2 1h1m2 0h1m-2 2h1m-15 1h1m15 0h1m9 0h1m-26 1h2m14 0h1m2 0h1m4 0h2m-9 1h2m-17 1h1m15 0h1m-16 2h1m16 0h1m-19 1h1m18 0h2m-18 1h1m-3 1h1m18 0h1m-17 1h1m16 0h1m-17 1h1m15 0h1m1 0h1m-18 1h1m15 0h1m1 0h1m-19 1h2m-3 1h1m3 1h1m0 1h1m-1 1h1m1 0h1m12 0h1m-13 1h2m-10 1h1m9 0h1m-12 1h2m8 0h1m0 1h1m4 1h1m8 0h2m1 2h1m-8 2h1m-1 1h1m13 0h2m1 1h1m-16 1h1m13 0h2m-2 1h2m2 0h1m1 1h2m-5 1h1m0 1h1m0 1h4m-3 1h3m-20 1h1m19 0h1m-21 1h1m21 0h2m-22 1h2m17 0h1m1 0h1m-23 1h3m1 2h1m-3 1h1m2 0h1m0 1h1m-4 1h1m2 0h2m15 0h1m-21 1h1m2 0h2m-2 1h2m0 1h1m16 0h2m-17 1h1m-2 1h1m-1 1h2m17 0h1m-13 1h1m2 2h1m-1 1h1m2 2h1m11 2h1m0 1h2m-7 3h1m8 0h1m-9 1h1m-1 1h1m2 3h1m13 1h1m0 1h1m0 4h1m-11 3h1m0 1h1m12 0h1m-10 1h1m3 4h1m17 8h1m2 2h1m4 0h1m-4 1h1m2 0h1m-1 1h2m-15 1h1m14 1h1m1 0h1m-2 1h2m-16 1h1m14 0h1m0 1h1m-16 1h1m16 0h1m-1 1h1m0 1h1m-20 1h3m18 0h1m-20 1h1m19 0h2m-20 1h1m16 0h2m-18 1h1m16 0h1m-19 1h3m0 1h1m15 0h1m-16 2h2m14 0h1m-15 1h1m0 2h1m1 0h1m12 0h1m-15 1h3m-3 1h1m3 0h1m1 1h1m16 0h1m-1 1h1m-15 1h1m17 2h1m-5 1h1m3 0h1m-3 1h1m2 2h1m0 1h1m0 1h1m-19 1h2m3 0h1m13 0h1m0 1h1m-15 1h1m14 1h1m-18 1h2m17 0h1m-16 1h1m0 1h1m0 1h1m0 1h1m12 0h1m-13 1h1m1 1h1m0 2h1m3 1h1m9 1h1m0 1h1m-6 3h1m8 0h1m-9 1h1m15 0h1m-1 1h1m-4 1h3m-1 1h1m-13 1h1m12 0h1m2 0h2m-4 1h1m1 0h2m-1 1h1m-1 1h2m-1 1h1m1 0h2m-19 1h1m17 0h1m-19 1h1m-1 1h2m-4 1h2m2 0h1m16 0h1m-17 1h1m16 0h1m-19 2h2m18 0h1m-21 1h4m16 0h1m-18 1h2m16 0h1m-18 2h1m18 0h2m-21 1h2m2 1h1m14 0h2m-16 1h1m1 2h2m0 1h1m12 0h1m0 1h1m-13 1h1m1 0h1m-3 1h1m1 0h1m12 0h1m-10 2h1m10 0h1m-11 1h1m11 0h1m-372 1h4m369 0h1m0 1h1m-14 1h1m16 1h1m-16 1h1m14 0h1m0 1h1m3 0h1m-384 1h4m360 0h1m15 0h1m0 1h1m1 0h1m-384 1h4m361 0h1m16 0h2m-384 1h4m362 0h1m16 0h1m0 1h1m197 0h1m-1 1h1m-583 1h1m384 0h1m196 0h1m-583 1h2m366 0h2m198 0h2m12 0h1m-582 1h2m367 0h1m15 0h1m181 0h2m12 0h1m-582 1h2m368 0h1m209 0h1m-582 1h3m369 0h1m14 0h1m193 0h1m-582 1h3m370 0h1m207 0h1m-580 1h1m367 0h1m1 0h3m0 1h1m14 0h1m-14 1h1m1 1h1m-380 1h1m380 0h1m-382 1h2m-3 2h3m382 0h1m156 0h3m-545 1h4m538 0h3m-2 1h2m-146 1h1m137 0h10m-144 1h1m133 0h1m1 0h1m1 0h3m1 0h2m-551 1h1m15 0h3m527 0h5m-551 1h1m15 0h3m528 0h1m-548 1h3m407 0h1m135 0h3m-549 1h1m1 0h1m7 0h3m30 0h1m354 0h1m12 0h1m1 0h1m42 0h2m1 0h1m8 0h1m78 0h2m52 0h1m-700 1h1m67 0h1m7 0h1m22 0h1m10 0h3m28 0h1m14 0h1m353 0h3m9 0h1m22 0h1m8 0h2m1 0h1m8 0h1m8 0h2m49 0h1m41 0h1m1 0h4m25 0h1m39 0h2m77 0h4m-822 1h1m46 0h1m28 0h1m22 0h1m1 0h1m8 0h2m29 0h1m369 0h1m31 0h1m1 0h1m8 0h2m1 0h1m8 0h1m10 0h1m34 0h1m57 0h1m1 0h2m25 0h1m39 0h1m77 0h5m-887 1h1m4 0h1m28 0h1m129 0h1m475 0h5m32 0h1m1 0h1m65 0h1m136 0h5m-325 1h1m16 0h1m1 0h1m59 0h1m35 0h1m1 0h1m203 0h2m1 0h1m-308 1h1m1 0h1m132 0h3m166 0h4m-173 1h1m1 0h1m-152 1h1m147 0h4m-151 1h1m0 1h1m13 0h1m-16 1h3m12 0h1m-15 1h1m128 0h2m-115 1h1m109 0h2m2 0h1m-128 1h2m128 1h2m-132 1h2m3 0h2m123 0h2m-535 1h3m417 0h1m116 0h2m1 0h1m-130 1h1m9 0h1m114 0h6m-6 1h3m1 0h1m-117 1h1m113 0h2m-2 1h1m-139 1h1m14 0h1m11 0h1m110 0h1m-123 1h1m11 0h1m108 0h2m-2 1h2m-107 1h1m104 0h2m-121 1h1m14 0h1m-14 3h1m13 0h2m-435 1h2m418 0h1m13 0h1m-13 4h1m0 1h1m2 1h1m-1 1h2m-429 1h2m439 0h1m101 0h2m-103 1h1m100 0h1m-544 1h2m441 0h1m-444 1h2m8 0h2m389 2h1m34 0h1m9 0h1m7 0h1m71 0h5m-94 1h1m10 0h1m5 0h1m87 0h3m-145 1h2m36 0h1m10 0h2m-438 2h1m438 0h1m-453 1h2m439 0h1m11 0h1m0 1h1m89 0h2m-104 1h1m14 0h1m72 0h5m-92 1h1m86 0h5m-92 1h1m14 0h1m71 0h5m-77 1h2m70 0h1m1 0h3m-522 1h1m385 0h3m43 0h1m-47 1h3m44 0h1m-6 1h2m4 0h1m96 0h2m-147 1h3m-391 2h1m436 0h1m39 0h3m53 0h2m-96 1h2m36 0h2m-39 1h1m13 1h1m-466 2h3m465 1h1m18 0h1m-489 1h4m396 0h3m68 0h2m15 0h2m-490 1h4m457 0h1m12 0h4m-1 1h2m104 0h1m-584 1h4m480 0h3m3 0h1m-27 1h1m14 0h2m2 0h2m5 0h1m-4 1h1m-23 1h1m16 0h1m-18 1h1m20 0h1m0 1h1m-87 1h1m1 0h1m62 0h1m20 0h1m-87 1h1m1 0h2m61 0h1m21 0h1m94 0h2m-183 1h2m62 0h1m36 0h3m-103 1h1m62 0h2m35 0h3m-103 1h1m63 0h1m21 0h1m-21 1h1m18 0h1m-488 1h4m464 0h1m19 0h1m53 1h3m-75 1h1m-460 1h1m456 0h1m21 0h1m-24 1h2m-2 1h1m22 0h1m-24 1h1m3 0h1m-471 1h2m466 0h1m2 0h2m-473 1h2m460 0h2m9 0h1m3 0h1m-479 1h3m454 0h2m5 0h1m12 0h1m1 0h1m-23 1h2m8 0h2m-12 1h1m24 0h1m1 0h1m10 0h1m-496 1h3m541 0h3m-547 4h4m486 0h1m11 1h1m39 1h2m-39 1h1m0 1h1m35 0h3m-36 2h1m-35 1h2m19 0h1m14 0h1m-37 1h2m65 0h2m-69 1h2m103 0h4m-86 1h1m14 0h1m-15 1h1m14 0h1m-515 1h3m513 0h1m-2 1h1m62 0h4m-81 1h1m14 0h1m-116 1h3m98 1h1m16 0h1m-118 1h2m101 1h1m13 0h1m22 0h1m-37 1h1m14 0h1m-14 1h1m14 0h1m1 0h2m1 0h1m-22 1h1m1 0h1m17 0h1m1 0h1m-518 1h2m513 0h1m1 0h1m-529 2h4m7 0h2m497 0h1m1 0h1m16 0h1m4 0h1m-5 1h1m-18 1h1m17 0h1m2 0h1m-2 1h1m-20 1h1m20 0h1m-529 1h1m1 0h2m388 0h1m135 0h1m43 0h1m11 0h2m47 0h1m-634 1h4m503 0h1m22 0h1m38 0h1m15 0h1m46 0h2m-637 1h2m404 0h1m29 0h1m73 0h1m22 0h2m2 0h2m32 0h2m1 0h1m12 0h2m46 0h3m-232 1h1m29 0h1m74 0h2m20 0h1m3 0h2m33 0h1m62 0h3m96 0h1m3 0h1m-775 1h1m1 0h1m23 0h4m442 0h1m73 0h1m24 0h1m35 0h2m13 0h5m1 0h2m40 0h3m1 0h1m2 0h1m1 0h2m7 0h1m21 0h1m2 0h1m2 0h1m31 0h1m1 0h1m3 0h1m32 0h1m2 0h1m-791 1h1m22 0h7m411 0h1m30 0h1m74 0h2m22 0h1m50 0h3m1 0h1m1 0h1m12 0h1m5 0h1m2 0h1m18 0h6m4 0h2m29 0h1m2 0h1m2 0h1m1 0h1m21 0h2m45 0h1m2 0h1m-768 1h7m411 0h2m29 0h1m6 0h4m67 0h1m19 0h1m39 0h1m11 0h5m1 0h2m40 0h1m69 0h1m9 0h1m1 0h1m1 0h1m32 0h1m2 0h1m-768 1h7m1 0h1m447 0h3m69 0h1m19 0h1m42 0h4m2 0h3m1 0h3m43 0h2m68 0h4m3 0h9m-277 1h4m69 0h1m18 0h2m39 0h1m3 0h2m52 0h2m72 0h1m7 0h3m-712 1h5m396 0h2m33 0h4m130 0h1m130 0h1m10 0h1m-727 1h2m413 0h2m33 0h4m70 0h1m57 0h1m1 0h1m142 0h2m-713 1h6m499 0h1m1 0h1m20 0h1m181 0h3m-713 1h3m1 0h1m397 0h2m105 0h2m200 0h1m-712 1h6m374 0h2m19 0h3m3 0h3m295 0h2m2 0h4m-726 1h1m12 0h1m1 0h3m375 0h1m20 0h9m101 0h3m-529 1h6m389 0h2m20 0h1m1 0h1m107 0h1m3 0h1m13 0h1m-546 1h6m389 0h1m20 0h3m110 0h2m1 0h2m-531 1h1m1 0h3m387 0h2m20 0h1m115 0h1m-527 1h3m1 0h5m376 0h2m1 0h3m1 0h1m43 0h1m37 0h1m16 0h1m1 0h1m3 0h1m9 0h1m12 0h2m7 0h1m21 0h1m84 0h1m46 0h1m10 0h1m18 0h2m1 0h2m3 0h2m2 0h1m1 0h1m-727 1h9m375 0h9m36 0h2m4 0h1m37 0h1m16 0h1m1 0h1m3 0h1m22 0h2m29 0h2m1 0h1m81 0h1m6 0h1m39 0h1m10 0h1m1 0h1m16 0h2m2 0h1m-333 1h4m1 0h1m1 0h2m36 0h1m5 0h1m4 0h1m6 0h1m2 0h1m22 0h1m10 0h1m7 0h1m39 0h1m66 0h1m1 0h1m2 0h1m1 0h1m2 0h1m3 0h1m-227 1h3m50 0h1m6 0h1m2 0h1m33 0h1m58 0h2m-158 1h3m9 0h1m84 0h1m-88 1h3m146 0h1m-150 1h1m1 0h1m-3 1h3m311 0h2m-718 1h3m540 0h1m11 0h1m-13 1h1m13 0h1m0 1h1m-14 1h1m13 0h1m156 1h2m-156 1h1m-565 1h2m540 1h2m6 0h1m-8 1h1m21 0h1m-15 1h1m-9 1h1m8 0h1m-554 1h4m550 0h1m-554 2h3m552 1h1m2 1h1m-159 1h1m172 1h1m3 0h2m-179 1h2m-23 1h2m19 0h1m182 0h1m-205 1h2m19 0h2m177 0h2m6 0h3m-190 1h2m179 0h2m1 1h1m5 0h1m-588 1h5m559 0h1m17 0h2m-587 1h2m1 0h1m1 0h1m1 0h1m578 0h1m6 0h1m-591 1h5m584 0h2m-593 1h3m1 0h3m518 0h1m1 0h1m62 0h2m-593 1h1m4 0h3m517 0h4m38 0h1m23 0h1m2 0h1m-590 1h3m394 0h1m105 0h1m58 0h1m25 0h2m-590 1h3m500 0h1m17 0h1m3 0h1m39 0h1m134 0h2m-702 1h1m1 0h1m496 0h1m3 0h1m15 0h1m9 0h1m35 0h1m135 0h1m-707 1h1m503 0h1m3 0h1m23 0h1m38 0h1m23 0h1m-215 1h3m82 0h1m7 0h1m29 0h1m28 0h2m36 0h1m23 0h1m-596 1h3m373 0h5m93 0h1m29 0h1m26 0h1m37 0h1m29 0h2m104 0h4m-708 1h2m528 0h1m40 0h1m23 0h2m110 0h1m-709 1h3m528 0h2m40 0h1m23 0h1m2 0h2m105 0h4m-710 1h1m529 0h2m40 0h2m23 0h1m1 0h1m107 0h1m1 0h1m31 0h1m-743 1h2m7 0h1m560 0h1m29 0h1m141 0h2m-743 1h1m7 0h1m560 0h1m-40 1h1m38 0h1m148 0h3m-713 1h1m521 0h1m40 0h1m-570 1h1m5 0h1m518 0h4m44 0h2m-575 1h1m5 0h1m514 0h1m1 0h1m1 0h3m44 0h2m25 0h1m-600 1h7m514 0h3m1 0h4m42 0h2m2 0h1m23 0h1m-600 1h3m1 0h3m518 0h1m1 0h2m45 0h2m-51 1h4m49 0h2m1 1h1m-186 1h3m126 0h3m53 0h2m17 0h1m100 0h1m-177 1h1m1 0h1m55 0h1m17 0h1m-22 1h1m21 0h1m-23 1h1m1 0h3m18 0h1m-22 1h1m6 1h2m13 0h1m6 0h1m-18 1h1m16 0h1m-17 1h1m0 1h1m-600 1h3m541 0h1m55 0h1m10 0h1m107 0h1m-118 1h1m-59 1h1m-16 2h1m14 1h1m61 0h1m34 1h1m-630 1h2m530 0h1m73 0h1m-17 1h2m16 0h1m98 1h2m-192 1h1m14 0h1m79 0h1m1 1h1m4 0h1m-19 1h1m14 0h2m-101 1h1m101 0h1m-88 1h1m69 0h1m15 0h1m4 0h1m83 0h1m-88 1h1m-1 1h2m5 0h2m-639 1h3m628 0h3m74 0h2m-710 1h3m611 0h1m93 0h2m-2 1h2m-95 1h1m18 0h1m5 0h1m27 0h5m35 0h4m-72 1h4m24 0h5m35 0h1m1 0h1m-95 1h1m18 0h1m6 0h2m27 0h2m35 0h4m-96 1h1m19 0h1m5 0h2m27 0h1m38 0h1m-93 1h1m17 0h1m5 0h2m27 0h2m-58 1h1m1 0h1m19 0h2m3 0h2m-644 1h3m616 0h2m-1 1h2m-611 1h1m609 0h1m16 0h1m-21 1h1m2 0h1m2 1h1m15 0h1m75 0h1m-319 1h2m226 0h1m14 0h1m-244 1h1m128 0h1m99 0h2m-103 1h5m89 0h1m8 0h1m-107 1h5m1 0h2m89 0h1m8 0h1m2 0h1m-111 1h6m82 0h1m36 0h1m-642 1h5m513 0h2m1 0h1m12 0h2m82 0h2m8 0h1m13 0h2m-645 1h1m1 0h1m1 0h2m515 0h2m97 0h1m9 0h1m15 0h1m-647 1h3m617 0h5m21 0h1m-647 1h1m1 0h1m617 0h5m22 0h1m-127 1h1m126 1h2m-129 1h2m127 0h1m-130 1h2m13 0h1m97 0h1m16 0h1m-17 1h1m-1 1h1m15 0h1m-16 2h2m0 1h1m1 1h1m13 0h1m-15 1h1m-120 1h1m119 0h1m0 1h1m1 0h1m12 1h1m-10 2h1m13 0h2m49 0h2m-52 1h1m-12 2h1m11 0h1m1 0h1m-2 1h2m0 2h1m0 1h1m2 0h1m-18 1h1m14 0h1m1 0h1m-53 1h2m33 0h2m14 0h1m-676 1h2m622 0h2m36 0h1m-663 1h2m622 0h2m37 0h1m13 0h1m-54 1h5m33 0h2m41 0h2m-698 1h1m614 0h3m1 0h1m36 0h1m38 0h3m-41 1h1m37 0h2m-39 1h1m36 0h1m-37 1h1m35 0h2m-40 1h2m36 0h1m-179 1h2m142 0h1m33 0h2m-23 1h1m20 0h1m-1 1h2m-180 1h2m176 0h1m-7 1h1m5 0h2m-9 1h3m4 0h1m-179 1h2m150 0h1m25 0h2m-17 1h2m-164 1h1m187 0h2m-25 1h1m-153 1h2m154 0h2m18 0h1m-22 1h2m2 0h1m-16 1h1m12 0h2m-15 1h1m15 0h1m0 1h1m1 0h1m-18 1h1m15 0h2m0 1h1m0 1h2m-19 1h1m17 0h2m2 0h3m-26 1h2m18 0h3m-28 1h1m4 0h1m1 0h1m18 0h1m2 0h1m19 0h1m-726 1h1m1 0h1m1 0h3m527 0h2m139 0h2m6 0h1m24 0h1m15 0h2m-727 1h1m4 0h6m666 0h1m5 0h1m23 0h2m16 0h2m-722 1h1m1 0h1m1 0h2m525 0h1m148 0h1m24 0h1m1 0h1m12 0h2m-41 1h1m22 0h4m13 0h1m-137 1h1m96 0h1m22 0h2m13 0h2m-718 1h3m560 0h1m3 0h1m109 0h2m20 0h1m2 0h1m13 0h2m-718 1h3m560 0h2m2 0h1m90 0h12m9 0h1m21 0h2m13 0h2m-151 1h1m1 0h1m87 0h3m1 0h1m1 0h1m1 0h1m1 0h1m1 0h1m10 0h1m-679 1h1m1 0h2m561 0h4m86 0h2m21 0h2m19 0h1m-699 1h3m507 0h3m53 0h1m111 0h2m-170 1h1m1 0h1m53 0h2m36 0h6m69 0h2m-684 1h5m510 0h1m91 0h4m1 0h1m69 0h1m20 0h1m-704 1h1m1 0h1m1 0h1m510 0h1m94 0h4m67 0h1m21 0h1m-704 1h5m511 0h2m92 0h1m1 0h1m68 0h1m1 0h1m20 0h2m-706 1h1m680 0h1m3 0h1m-686 1h2m383 0h2m298 0h1m3 0h1m16 0h1m-709 1h3m383 0h5m126 0h1m168 0h1m2 0h1m18 0h1m-323 1h5m123 0h1m2 0h1m155 0h1m14 0h3m1 0h1m1 0h1m13 0h1m-720 1h3m2 0h2m390 0h3m1 0h1m126 0h1m17 0h1m4 0h1m81 0h1m50 0h1m1 0h1m13 0h4m-704 1h2m3 0h1m391 0h5m123 0h1m1 0h2m5 0h1m4 0h2m5 0h1m4 0h1m34 0h1m16 0h1m8 0h1m4 0h1m81 0h2m7 0h2m-710 1h3m525 0h1m5 0h1m4 0h2m45 0h1m25 0h1m45 0h1m51 0h1m-711 1h2m525 0h3m56 0h1m71 0h1m51 0h1m-709 1h1m525 0h2m9 0h1m172 0h3m-707 1h2m515 0h1m1 0h3m4 0h1m4 0h2m-544 1h2m9 0h1m519 0h1m1 0h1m1 0h1m1 0h1m-538 1h1m6 0h2m1 0h1m1 0h1m521 0h4m-537 1h1m9 0h3m520 0h2m1 0h1m-538 1h1m9 0h1m1 0h1m1 0h1m527 0h1m-543 1h1m541 0h1m-546 1h4m16 0h3m714 0h1m-738 1h1m19 0h3m-3 1h3m522 0h1m198 0h2m-730 1h2m685 0h3m1 0h3m-707 1h1m541 0h1m156 0h8m35 0h1m2 0h1m-17 1h1m13 0h1m-745 1h1m747 0h2m1 1h1m-5 1h2m1 0h2m-750 1h3m743 0h1m-748 1h4m523 0h1m221 0h1m-19 2h1m-146 1h2m143 0h1m1 0h1m-207 1h1m59 0h1m146 0h1m16 1h1m-19 1h1m3 1h1m14 0h1m-18 1h1m1 0h2m-4 1h1m1 1h1m1 0h1m15 0h1m-20 1h2m18 0h1m-13 1h1m1 1h1m13 2h1m-12 1h1m11 0h1m1 0h2m-237 1h3m219 0h1m-223 3h3m223 1h1m0 1h1m-1 2h1m-1 1h1"/>
<path stroke="#94B4AC" d="M4 0.5h1m-5 4h1m11 3h1m1 2h1m0 1h1m0 1h1m-10 1h1m10 0h2m-11 2h1m11 0h1m-12 1h1m10 0h1m-11 1h1m10 0h1m1 0h1m0 1h1m-14 1h1m-1 1h1m13 0h1m0 1h1m-14 1h2m0 1h1m-1 2h1m13 0h1m-14 1h1m12 0h1m-12 1h1m0 1h1m11 0h1m276 0h1m-286 3h2m8 0h1m-8 2h1m2 2h1m12 5h1m4 3h1m-10 1h1m9 0h1m0 1h1m2 0h1m-3 1h1m-10 3h1m14 0h1m-15 1h1m12 0h2m-14 1h1m13 0h1m-14 1h1m12 0h1m-15 2h1m17 0h2m-2 1h1m-1 1h1m-14 1h1m13 0h1m-16 1h2m0 1h2m12 0h1m1 2h1m0 1h1m243 0h2m-260 1h3m-3 1h1m2 0h1m1 1h1m1 2h1m0 1h1m17 8h1m1 1h1m1 2h1m-9 1h1m10 1h1m2 0h1m-14 1h1m13 0h1m-2 1h1m-12 1h1m13 0h1m-1 1h1m0 1h1m-14 1h1m13 0h1m-15 3h1m1 0h1m14 0h2m-18 1h1m17 0h1m-2 1h2m-17 1h2m14 0h1m-15 1h1m0 1h1m13 0h2m0 1h1m-14 2h1m227 0h4m-232 1h1m1 0h1m-2 1h3m1 1h1m-1 1h1m0 1h1m11 0h1m-6 5h1m10 1h1m1 2h1m-8 3h1m9 0h1m-9 2h1m10 2h1m-9 1h1m9 1h1m-7 2h1m1 2h1m7 0h1m1 1h1m-1 1h1m-7 2h1m10 1h1m-11 1h2m10 0h1m-1 1h1m1 1h1m3 0h1m-3 1h2m-14 2h1m16 0h1m-1 1h1m173 0h1m-191 1h2m14 0h1m1 1h2m-18 1h1m15 0h1m0 1h1m-17 1h1m15 0h2m-18 1h1m17 0h1m-20 1h1m21 0h1m-2 1h2m163 0h4m-167 1h1m-21 1h3m16 0h1m0 1h1m-18 1h2m-2 1h1m1 0h2m-1 1h1m14 0h1m-15 1h1m14 0h1m-14 2h1m14 0h1m-17 1h2m1 0h1m13 0h1m-16 1h1m1 0h1m13 0h1m154 0h2m-168 1h1m13 0h2m1 0h1m148 0h5m-170 1h1m12 0h2m1 0h1m150 0h1m-153 1h1m-14 1h1m14 0h3m147 0h4m-168 1h1m14 0h1m-15 1h1m15 0h1m2 0h1m137 0h1m1 0h3m1 0h2m-148 1h1m1 0h1m8 0h1m1 0h1m-3 1h3m-30 1h2m17 0h2m6 0h1m1 0h1m-30 1h2m17 0h3m5 0h3m-28 1h1m18 0h1m-22 1h2m19 0h4m1 0h1m-24 1h1m19 0h1m1 0h1m-23 1h2m19 0h1m-22 1h1m1 1h1m20 0h1m-21 1h1m20 0h1m1 1h1m132 0h1m-158 1h2m22 0h2m-23 1h2m18 0h2m-22 1h2m21 0h1m-23 1h3m18 0h2m-21 1h1m19 0h1m-21 1h2m18 0h1m-21 1h1m1 0h1m18 0h1m-21 1h1m-2 1h1m3 0h1m-10 1h4m6 0h1m16 0h1m-27 1h1m1 0h1m9 0h1m-14 1h4m7 0h3m15 0h1m-18 1h1m2 0h1m-2 1h4m0 1h1m2 1h1m1 2h1m10 0h1m1 1h2m118 0h4m-123 1h1m2 2h1m3 0h1m-16 1h1m12 0h1m0 1h1m-14 1h1m-1 1h2m13 0h1m0 1h1m1 1h1m-16 1h1m14 0h2m-1 1h1m-16 1h1m0 1h1m14 0h1m-18 1h1m3 1h1m13 0h1m-14 1h1m0 2h2m-1 1h2m107 0h2m-108 1h1m11 0h2m-12 1h1m11 0h1m-1 1h2m0 1h1m0 1h1m-11 1h1m11 0h1m-13 1h1m17 0h3m-20 1h2m12 0h2m1 0h1m87 0h4m-108 1h1m14 0h1m8 0h2m-25 1h1m14 0h1m7 0h2m-24 1h1m14 0h2m5 0h2m-8 1h2m4 0h1m-22 1h1m15 0h1m4 0h2m-6 1h1m3 0h1m-4 1h1m-17 1h1m16 0h1m1 0h1m-20 1h1m17 0h2m-19 1h1m16 0h1m-20 1h2m1 0h1m16 0h1m-21 1h1m3 0h1m15 0h1m-21 1h1m3 0h2m15 0h1m-17 1h2m15 0h1m-16 1h1m15 0h1m-16 1h1m15 0h1m-16 1h1m15 0h1m-16 1h2m15 0h1m5 0h1m-32 1h6m1 0h2m1 0h2m14 0h1m1 0h2m1 0h2m-33 1h3m1 0h1m7 0h1m19 0h1m-20 1h1m84 0h5m-89 1h1m15 0h1m-16 1h1m0 1h1m0 2h1m80 0h4m-84 1h1m15 0h1m0 1h1m64 0h1m-83 1h1m17 0h1m-19 1h1m2 1h1m-5 1h2m-1 1h2m19 0h1m-2 1h2m-14 1h1m12 0h1m-13 1h1m12 0h1m-13 1h1m13 0h1m1 0h1m-12 2h1m11 0h1m-14 1h3m11 0h1m1 0h1m19 0h1m-34 1h1m32 0h2m-21 1h1m2 0h1m15 0h2m24 0h2m-60 1h1m13 0h3m15 0h2m-18 1h1m13 0h4m-34 1h1m19 0h2m7 0h5m-32 1h1m14 0h2m1 0h2m8 0h3m-30 1h1m14 0h1m2 0h1m7 0h5m-15 1h3m7 0h2m1 0h2m-31 1h1m1 1h1m0 1h1m-1 1h1m15 0h1m-18 1h3m15 0h1m-15 1h1m13 0h1m30 0h2m-47 1h2m0 1h1m-4 1h2m1 0h1m43 0h1m-48 1h4m50 0h2m-49 1h1m0 1h2m11 2h1m-22 4h1m1 0h2m13 0h1m-19 1h5m23 0h1m-29 1h4m25 0h1m-34 1h9m26 0h2m-36 1h5m1 0h2m28 0h1m0 1h1m19 0h1m1 0h1m23 0h2m-59 1h1m11 0h3m42 0h1m-57 1h1m39 0h2m14 0h1m-43 1h1m25 0h2m14 0h1m-56 1h1m13 0h1m2 0h1m21 0h2m14 0h2m-57 1h1m15 0h2m5 0h1m15 0h2m4 0h2m7 0h4m-57 1h1m14 0h1m6 0h1m14 0h2m5 0h2m7 0h1m1 0h1m-55 1h1m15 0h2m18 0h2m6 0h2m6 0h4m-55 1h1m14 0h1m1 0h1m17 0h2m6 0h3m5 0h1m1 0h1m-54 1h1m15 0h2m17 0h1m7 0h1m1 0h1m5 0h4m-55 1h1m34 0h2m6 0h3m4 0h5m-53 1h1m15 0h1m1 0h1m22 0h1m1 0h1m5 0h4m-52 1h1m16 0h1m22 0h3m5 0h1m1 0h1m1 0h2m360 0h3m-401 1h1m23 0h3m6 0h5m-53 1h2m15 0h1m20 0h2m1 0h1m6 0h4m698 0h1m-752 1h2m24 0h1m12 0h2m1 0h1m6 0h5m696 0h2m-749 1h2m29 0h3m1 0h1m1 0h1m1 0h1m8 0h3m362 0h2m131 0h3m198 0h2m-749 1h1m1 0h1m14 0h2m3 0h1m7 0h2m1 0h3m1 0h1m1 0h1m8 0h3m362 0h1m125 0h3m11 0h2m155 0h1m36 0h2m-748 1h2m16 0h1m1 0h2m1 0h1m1 0h1m4 0h7m9 0h1m1 0h2m344 0h1m17 0h2m44 0h1m52 0h1m23 0h6m11 0h2m36 0h1m118 0h2m35 0h2m-745 1h1m14 0h1m1 0h1m8 0h5m11 0h5m344 0h1m17 0h1m45 0h1m52 0h1m23 0h2m15 0h2m33 0h6m116 0h1m36 0h2m-1018 1h1m244 0h1m29 0h1m13 0h1m10 0h4m12 0h1m1 0h1m345 0h1m116 0h1m23 0h2m15 0h2m33 0h6m3 0h4m67 0h1m41 0h2m22 0h1m1 0h2m10 0h1m-835 1h1m61 0h1m2 0h1m18 0h2m4 0h2m18 0h1m5 0h2m1 0h2m11 0h5m356 0h1m146 0h1m33 0h4m2 0h2m3 0h3m108 0h2m8 0h1m13 0h4m10 0h1m-984 1h1m98 0h1m49 0h1m92 0h1m16 0h3m4 0h3m12 0h5m355 0h1m133 0h1m12 0h2m33 0h3m3 0h1m7 0h2m106 0h2m8 0h1m13 0h3m-972 1h1m281 0h4m355 0h2m131 0h1m7 0h1m5 0h2m47 0h2m110 0h1m5 0h1m13 0h2m1 0h1m-874 1h1m99 0h1m45 0h1m14 0h2m20 0h1m1 0h1m356 0h2m3 0h2m187 0h4m109 0h2m5 0h1m13 0h3m11 0h1m-885 1h1m99 0h1m45 0h1m17 0h1m7 0h2m8 0h2m1 0h2m356 0h1m3 0h1m188 0h4m131 0h1m-878 1h2m4 0h1m146 0h2m23 0h2m8 0h4m550 0h1m1 0h1m109 0h3m10 0h1m9 0h1m-878 1h2m133 0h1m19 0h1m14 0h1m18 0h3m662 0h3m20 0h1m3 0h1m-939 1h1m45 0h1m11 0h2m1 0h1m1 0h1m11 0h1m18 0h1m26 0h1m20 0h1m4 0h1m31 0h1m30 0h2m18 0h2m14 0h4m361 0h1m41 0h1m257 0h3m15 0h3m1 0h2m3 0h1m-939 1h1m45 0h1m11 0h1m2 0h1m1 0h1m30 0h1m26 0h1m20 0h1m4 0h1m31 0h1m12 0h1m16 0h2m41 0h1m400 0h1m257 0h1m1 0h1m16 0h1m7 0h1m-939 1h1m37 0h1m7 0h1m11 0h1m2 0h1m32 0h1m26 0h1m20 0h1m4 0h1m1 0h1m57 0h1m23 0h1m20 0h2m471 0h1m9 0h8m186 0h3m-932 1h1m45 0h1m14 0h1m32 0h1m26 0h1m20 0h1m4 0h1m62 0h1m2 0h2m16 0h1m19 0h3m407 0h1m63 0h1m9 0h5m1 0h1m182 0h2m4 0h2m6 0h4m-800 1h1m71 0h1m1 0h1m15 0h1m18 0h2m482 0h8m181 0h2m12 0h2m1 0h1m-732 1h1m3 0h1m1 0h1m16 0h1m18 0h1m482 0h1m1 0h6m181 0h1m13 0h4m-708 1h1m17 0h2m481 0h8m174 0h2m19 0h4m-725 1h1m1 0h1m14 0h2m16 0h2m2 0h2m477 0h8m174 0h1m-720 1h5m32 0h1m20 0h2m483 0h2m-549 1h7m1 0h1m6 0h1m1 0h1m1 0h1m22 0h1m-43 1h4m10 0h7m5 0h1m16 0h1m-30 1h1m1 0h3m1 0h1m5 0h1m1 0h2m-16 1h7m9 0h1m27 0h1m1 0h1m-46 1h5m11 0h1m14 0h1m11 0h3m-47 1h3m15 0h2m13 0h1m2 0h1m367 0h1m-416 1h2m7 0h2m2 0h1m6 0h2m8 0h2m13 0h2m-47 1h14m6 0h2m10 0h1m16 0h1m-48 1h2m1 0h1m1 0h2m24 0h1m14 0h1m1 0h2m-49 1h10m41 1h2m-20 1h1m15 0h1m-16 1h1m16 0h2m-18 1h1m15 0h2m-51 1h1m32 0h1m16 0h2m-57 1h8m29 0h1m21 0h2m-66 1h6m1 0h1m1 0h3m1 0h3m3 0h1m1 0h2m2 0h2m18 0h1m16 0h1m-63 1h1m3 0h12m2 0h11m15 0h1m19 0h2m352 0h2m-415 1h1m1 0h1m1 0h3m1 0h5m1 0h1m1 0h3m2 0h3m16 0h1m19 0h1m480 0h4m-538 1h17m16 0h1m20 0h1m-55 1h2m1 0h5m1 0h3m1 0h1m2 0h1m19 0h1m16 0h2m-36 2h2m14 0h1m1 0h2m494 0h5m-521 1h7m4 0h2m5 0h1m1 0h3m15 0h1m-38 1h2m2 0h2m5 0h1m9 0h1m15 0h1m-28 1h2m11 0h1m14 0h1m-34 2h2m15 0h1m1 0h1m14 0h1m-35 1h2m15 0h1m1 0h2m1 0h1m-2 1h2m2 1h2m0 1h1m10 0h1m-10 1h1m9 1h1m0 1h1m-8 2h1m9 0h1m-9 1h1m0 1h1m7 0h1m-7 3h1m472 0h3m-474 1h1m10 3h1m-5 4h1m10 1h1m2 2h2m2 1h1m-2 1h1m-13 2h1m13 1h1m1 0h1m-1 1h1m-15 1h1m-1 1h1m15 0h1m-1 1h1m-15 1h1m-2 1h1m3 1h1m13 1h1m-15 1h2m13 1h1m-13 1h2m3 3h1m1 1h1m15 5h2m-2 1h2m0 1h2m1 1h1m-1 1h1m2 1h1m-15 1h2m11 0h1m-14 1h2m12 0h1m1 0h1m-15 1h1m-1 1h1m14 1h1m-15 1h2m13 0h1m0 1h1m-14 1h1m13 0h1m-16 1h1m1 0h1m13 1h1m-15 1h1m2 1h1m0 1h1m11 0h1m-12 1h1m0 1h1m1 1h1m10 1h1m-9 1h1m3 3h1m11 4h1m3 2h1m-9 2h1m8 0h1m2 2h1m-11 2h1m11 0h1m-11 1h1m1 3h1m9 0h1m-9 2h1m10 1h1m-8 1h1m2 3h1m8 1h1m1 1h1m2 2h2m-11 1h1m12 1h1m-13 1h1m12 0h1m1 1h2m0 1h1m-16 1h1m13 0h2m-16 1h1m16 0h1m-2 1h1m1 0h1m-1 1h1m-17 1h1m0 1h1m15 0h1m0 1h1m-17 1h1m16 0h3m-20 1h1m1 0h1m14 0h1m-17 1h2m1 1h1m14 0h1m-17 1h1m16 0h1m-17 1h2m15 0h1m-15 1h1m0 1h1m0 1h2m11 0h1m-14 1h1m-1 1h1m2 0h1m0 1h1m0 1h1m2 1h1m17 7h1m0 1h1m1 2h1m1 0h2m-2 1h1m2 0h1m-15 2h1m0 1h1m13 0h1m0 1h1m-14 1h1m13 0h1m2 0h1m-3 1h1m-16 1h2m14 0h1m-17 1h1m17 1h1m-18 1h1m17 0h1m-16 1h1m14 0h1m-15 1h1m14 0h1m-15 1h1m0 1h1m15 0h1m-16 1h1m14 0h1m-18 1h1m17 0h1m-15 1h1m0 1h2m11 0h1m-12 1h1m1 3h2m11 0h1m-12 1h1m1 0h1m11 3h1m-9 1h1m10 0h1m2 2h2m-12 1h1m9 0h1m2 1h1m2 1h2m-17 1h1m16 0h2m-4 1h1m0 1h1m-15 1h2m13 0h1m-16 1h1m15 0h1m0 1h3m-18 1h1m17 0h2m-3 1h2m0 1h1m1 0h1m-21 1h1m1 0h1m16 0h2m-21 1h1m2 0h1m-3 1h1m2 0h1m-4 1h1m3 0h1m0 1h1m-1 1h1m-1 1h1m1 0h1m13 0h1m-16 1h2m-2 1h1m1 0h1m14 0h1m-15 1h1m-2 1h2m5 2h1m9 0h1m-9 2h1m3 2h1m15 6h2m0 2h1m-9 4h1m12 0h1m-14 1h1m13 0h1m-13 1h1m11 0h1m-1 1h1m0 1h1m1 2h1m-12 1h1m11 0h1m-12 1h3m9 0h1m-10 1h1m1 2h1m0 1h1m0 1h1m11 3h1m-5 4h1m7 0h1m0 1h1m3 2h1m-10 1h1m0 1h1m9 0h1m1 1h2m-12 3h1m13 0h1m0 1h1m-14 1h1m13 0h1m1 1h1m-16 1h1m14 0h1m-16 1h1m15 0h1m1 1h1m0 1h1m-17 1h1m0 1h1m14 0h1m-15 1h1m14 0h1m-15 2h2m13 0h1m-14 1h1m0 2h1m13 0h1m-14 1h1m1 0h1m0 1h1m11 0h1m-11 1h1m10 1h1m-9 1h1m1 2h1m1 1h1m8 0h1m2 2h1m1 1h1m0 1h1m-12 1h1m11 0h1m0 1h1m0 1h1m-13 1h1m12 0h1m0 1h1m-14 1h1m0 1h1m13 0h1m-14 1h1m13 0h1m-14 1h1m12 0h1m-13 1h1m0 1h1m0 1h1m1 2h1m0 1h2m13 4h1m3 3h1m-9 1h1m9 0h1m0 1h1m1 1h1m0 1h1m-12 1h1m11 0h1m1 1h2m-15 1h1m0 1h1m13 0h1m1 1h2m-17 1h1m16 0h1m-17 1h1m0 1h1m15 1h1m-16 1h1m15 0h1m-17 1h1m1 1h1m15 1h1m-16 1h1m15 0h1m-17 1h1m0 1h1m16 0h2m-16 1h1m0 1h1m13 0h1m-12 2h1m11 0h1m-12 1h1m1 2h1m-1 1h1m1 0h1m1 1h1m9 0h1m2 2h1m1 1h1m0 1h1m1 0h1m-14 1h1m11 0h1m1 1h2m-1 1h1m-14 1h1m14 1h1m-15 1h1m14 0h1m-15 1h1m14 0h1m-15 1h1m14 0h1m-17 1h1m1 1h1m-1 1h2m15 1h1m195 0h1m-211 1h1m0 1h1m13 0h2m191 0h2m-208 1h1m206 0h1m-207 1h1m204 0h2m-582 1h3m386 0h1m-11 2h1m1 1h1m-1 1h1m2 1h1m11 2h1m-1 1h1m-393 3h3m393 0h1m129 0h2m-529 1h1m1 0h3m383 0h2m11 0h2m124 0h2m-127 1h1m121 0h1m1 0h4m12 0h2m-21 1h1m1 0h1m16 0h1m-140 1h1m119 0h3m16 0h1m-552 1h1m11 0h2m28 0h1m358 0h1m11 0h1m70 0h6m12 0h2m28 0h3m-535 1h1m11 0h1m3 0h1m25 0h1m371 0h1m1 0h1m36 0h1m32 0h1m1 0h3m11 0h2m29 0h2m5 0h1m51 0h1m-593 1h1m3 0h4m22 0h1m384 0h1m1 0h1m35 0h1m32 0h5m11 0h2m30 0h1m3 0h1m-535 1h1m1 0h1m410 0h1m71 0h2m49 0h1m-139 1h1m-1 1h2m14 0h1m120 0h3m-137 1h1m12 0h1m121 0h2m-136 1h1m130 0h3m-133 1h1m11 0h1m118 0h2m-132 1h1m129 0h1m-132 1h1m13 0h1m116 0h1m-131 1h2m1 1h2m1 1h1m8 0h1m-8 2h1m122 0h2m-2 1h3m-123 1h1m8 0h1m110 0h2m-2 1h2m5 0h2m-117 1h1m100 0h3m11 0h2m-116 1h1m-10 2h1m11 0h1m0 1h1m0 1h1m104 0h2m-119 1h1m116 0h1m-117 1h1m13 2h1m-13 1h1m12 0h2m-14 1h1m0 1h1m13 2h2m-12 1h1m0 1h1m115 0h1m-117 1h1m3 2h1m-1 1h1m10 0h1m79 0h4m-81 3h1m-438 1h2m516 0h1m13 0h3m-106 1h1m11 1h1m0 1h1m-52 1h2m39 0h1m10 0h1m-454 1h2m453 0h2m0 1h1m-445 2h1m431 0h1m0 1h1m11 0h2m-13 1h1m12 0h1m0 1h1m-14 1h1m-1 1h1m0 1h1m13 0h1m62 0h1m-75 1h1m20 0h1m1 0h1m-24 1h1m20 0h3m-23 1h1m19 0h3m-22 1h1m11 0h2m-11 2h1m14 2h1m-12 1h1m11 0h3m-15 1h1m20 0h1m-3 1h1m-3 1h2m3 0h3m-6 1h1m2 0h1m0 1h1m-20 1h1m18 0h2m-28 1h3m5 0h1m17 0h2m-27 1h2m5 0h1m19 0h1m-29 1h3m5 0h1m19 0h2m-3 1h3m-1 1h1m-88 1h1m68 0h1m-70 1h1m68 0h1m17 0h1m-88 1h3m65 0h1m1 0h1m17 0h1m-89 1h1m1 0h1m85 0h1m-89 1h3m64 0h1m58 0h4m-130 1h4m65 0h2m19 0h1m-90 1h3m65 0h1m1 0h3m-5 1h1m2 0h2m2 0h1m-3 1h3m14 0h1m-17 1h3m1 0h1m0 1h2m1 2h1m2 1h1m9 1h1m1 1h1m1 2h1m27 0h1m-129 1h3m89 0h1m8 0h1m-102 1h3m101 0h1m23 0h1m-36 1h1m10 0h1m0 1h1m-11 1h1m11 0h1m-508 1h3m493 0h1m11 0h1m0 1h2m0 1h2m14 0h3m-33 1h2m0 1h1m13 1h1m-14 1h1m14 0h1m-15 1h1m0 1h1m12 0h1m-14 1h1m0 1h1m13 0h1m-15 1h1m15 0h1m-14 1h1m13 1h1m-509 1h2m493 0h1m1 0h1m12 0h1m0 1h2m1 0h1m1 0h1m-18 1h1m16 0h1m-2 1h1m1 0h1m-18 1h1m1 1h1m15 0h1m50 0h4m2 0h4m-60 1h1m49 0h4m2 0h1m1 0h1m-75 1h1m16 0h2m47 0h4m2 0h4m-75 1h1m16 0h3m45 0h7m1 0h3m-153 1h1m76 0h1m17 0h2m45 0h11m-592 1h3m9 0h6m421 0h1m95 0h3m41 0h1m1 0h1m5 0h3m1 0h1m-592 1h3m9 0h3m1 0h2m380 0h3m18 0h1m19 0h1m17 0h1m24 0h1m33 0h1m61 0h1m1 0h2m5 0h5m-592 1h1m11 0h6m23 0h1m355 0h1m1 0h3m17 0h1m19 0h1m42 0h1m20 0h1m14 0h1m60 0h1m1 0h1m5 0h1m1 0h1m1 0h1m-593 1h2m4 0h1m6 0h6m19 0h1m3 0h1m18 0h1m337 0h5m16 0h1m23 0h1m38 0h1m12 0h1m1 0h1m5 0h1m12 0h2m21 0h1m38 0h1m1 0h2m5 0h4m39 0h1m-632 1h2m3 0h1m7 0h6m19 0h1m3 0h1m18 0h1m336 0h1m84 0h1m20 0h1m14 0h1m20 0h1m35 0h1m1 0h3m1 0h1m5 0h1m1 0h2m120 0h2m3 0h3m-720 1h2m11 0h1m1 0h4m19 0h1m3 0h1m18 0h1m334 0h3m122 0h1m54 0h4m1 0h2m5 0h4m50 0h1m1 0h1m67 0h2m4 0h2m-707 1h7m18 0h1m3 0h1m353 0h3m9 0h1m113 0h1m17 0h1m35 0h1m1 0h2m8 0h1m53 0h2m-631 1h1m1 0h5m378 0h1m4 0h1m4 0h4m111 0h1m60 0h2m2 0h2m52 0h3m71 0h3m1 0h1m-315 1h1m1 0h2m6 0h4m103 0h2m16 0h2m38 0h2m1 0h2m129 0h10m-323 1h1m1 0h1m1 0h2m8 0h4m104 0h2m16 0h1m173 0h1m1 0h1m1 0h1m1 0h1m1 0h1m-726 1h1m406 0h2m9 0h1m106 0h3m188 0h10m-726 1h1m6 0h1m418 0h2m99 0h1m16 0h1m176 0h5m-726 1h1m425 0h1m100 0h1m17 1h1m-16 1h2m1 0h1m-114 1h2m113 0h1m-116 1h2m113 0h2m-536 1h4m1 0h2m437 0h1m92 0h1m151 0h1m-690 1h7m437 0h1m94 0h1m149 0h1m-246 1h1m105 0h1m53 0h1m-207 1h3m35 0h1m-39 1h1m154 1h1m1 1h2m-12 1h1m12 0h2m-1 2h1m-12 1h1m11 0h1m0 1h1m-13 1h1m13 0h1m-15 1h1m14 0h1m-1 1h1m-15 1h1m14 0h1m-16 1h1m1 0h1m0 1h1m12 0h1m-13 1h1m12 0h1m-13 2h1m0 1h2m11 0h1m-12 1h1m11 0h1m-11 1h1m10 0h1m-11 1h1m10 0h1m3 1h2m-14 1h1m10 0h1m-11 1h1m0 1h1m17 0h1m-18 1h1m12 0h2m0 1h2m1 1h1m4 0h2m-23 1h1m15 0h2m4 0h1m-62 1h3m35 0h1m21 0h3m-62 1h1m36 0h1m20 0h3m-590 1h4m524 0h3m57 0h1m2 0h1m-592 1h4m521 0h1m1 0h4m59 0h1m-591 1h4m520 0h1m1 0h1m1 0h1m41 0h1m19 0h2m1 0h1m-595 1h4m377 0h1m1 0h1m142 0h1m1 0h1m1 0h1m2 0h1m37 0h1m19 0h2m1 0h1m-594 1h2m378 0h3m136 0h11m2 0h1m38 0h1m19 0h3m-594 1h2m376 0h1m140 0h5m47 0h1m-570 1h2m515 0h5m7 0h2m36 0h1m26 0h2m40 0h2m-638 1h1m516 0h5m7 0h2m39 0h2m20 0h1m43 0h2m-118 1h2m49 0h1m21 0h1m-595 1h1m398 0h1m121 0h2m72 0h1m-596 1h1m517 0h13m65 0h2m-598 1h2m516 0h1m1 0h1m1 0h3m1 0h1m1 0h1m1 0h1m43 0h1m23 0h1m-599 1h2m2 0h3m511 0h11m42 0h1m1 0h3m22 0h1m-598 1h1m2 0h2m512 0h1m1 0h3m1 0h1m1 0h3m42 0h4m24 0h1m-598 1h5m514 0h5m47 0h1m2 0h3m18 0h1m1 0h1m-598 1h4m569 0h1m1 0h3m19 0h1m-21 1h1m19 0h1m-23 1h3m20 0h1m-19 1h1m17 0h1m-18 1h1m-3 1h1m2 0h1m-4 1h1m3 0h1m15 0h1m-17 1h1m3 0h1m-4 1h2m0 1h4m0 1h2m-52 1h1m53 0h1m12 4h1m0 1h1m0 1h1m0 1h1m-8 1h1m0 1h1m0 1h1m0 1h1m8 0h1m1 1h1m3 2h1m1 0h1m-2 1h2m-14 1h1m14 0h2m-16 2h1m16 2h1m0 1h3m-19 1h1m16 0h2m-18 1h1m-2 1h2m17 0h1m-18 2h1m17 0h1m-110 1h1m90 0h1m3 2h1m0 1h1m14 0h1m-16 1h2m-2 1h2m15 0h1m-15 1h1m1 1h1m-47 2h2m48 0h1m10 0h1m-62 1h2m60 0h2m-117 1h3m102 0h1m12 0h1m-118 1h2m116 0h1m-120 1h1m1 0h1m119 0h1m-14 1h1m11 0h2m-13 1h1m12 0h1m-14 1h1m12 0h1m0 1h1m-14 1h1m14 0h1m-15 1h1m14 0h1m-2 1h1m-13 1h1m12 0h1m-15 1h2m13 0h1m-14 1h2m12 0h1m-13 1h1m0 2h1m1 0h1m-649 1h1m646 0h1m1 0h1m10 0h1m-11 1h1m0 1h1m14 2h1m-12 1h1m11 0h1m-1 1h1m0 1h1m2 2h1m-13 2h1m0 1h2m13 0h1m-14 1h1m13 0h1m-2 1h1m-12 2h1m12 0h1m38 2h3m-52 2h1m1 0h1m-2 1h1m12 0h1m-11 1h1m4 4h1m8 0h1m1 1h1m0 1h1m-8 2h1m8 0h1m-151 1h2m140 1h1m11 0h2m-13 1h1m10 0h1m1 1h1m-12 1h1m12 0h1m0 1h2m0 1h1m0 1h2m-17 1h2m15 0h1m-18 1h1m17 0h1m3 0h1m-21 1h1m16 0h1m-710 1h6m704 0h1m1 0h1m-712 1h1m1 0h3m687 0h1m17 0h1m3 0h1m-707 1h4m681 0h1m18 0h2m-708 1h1m1 0h3m682 0h1m18 0h3m-710 1h2m1 0h4m682 0h1m0 1h1m20 0h1m-22 1h1m20 0h1m-21 1h1m18 0h2m-701 1h2m679 0h1m20 0h1m-703 1h1m681 0h1m19 0h1m-716 1h4m692 0h1m17 0h2m-19 1h1m-172 1h2m166 0h1m1 0h1m-171 1h2m170 0h2m-2 1h2m-695 1h1m4 0h3m517 0h1m1 0h1m164 0h1m1 0h1m17 0h2m-709 1h2m517 0h4m170 0h1m-178 1h1m2 0h2m1 0h1m168 0h3m-178 1h2m1 0h4m173 0h1m-181 1h2m2 0h1m1 0h1m139 0h1m31 0h3m14 0h1m-715 1h1m1 0h1m519 0h5m138 0h1m-666 1h4m519 0h1m1 0h2m138 0h1m38 0h1m-705 1h1m1 0h2m519 0h4m177 0h1m11 0h1m-194 1h1m1 0h2m190 0h1m-726 1h5m3 0h1m522 0h4m-534 1h8m707 0h1m9 0h1m-727 1h3m1 0h1m-5 1h2m1 0h1m715 0h1m9 0h1m-10 1h1m9 0h1m-724 1h3m1 0h4m707 0h1m-712 1h4m718 0h1m-723 1h1m1 0h2m719 0h1m-724 1h4m709 0h1m12 0h2m-14 1h1m11 0h2m0 1h1m0 1h1m-14 1h1m16 0h1m-750 1h5m728 0h1m15 0h1m-751 1h8m2 0h1m738 0h1m2 0h1m-3 1h1m3 0h1m-20 1h2m14 0h2m1 0h1m-20 1h2m16 0h1m-17 1h1m0 1h1m2 3h1m13 0h1m-17 1h2m1 0h1m0 1h1m12 0h1m-16 1h1m1 0h1m13 0h1m-14 1h1m13 0h1m-17 1h2m5 1h1m1 1h1m0 1h1m9 0h1m-10 1h1m12 1h1m0 1h1m-11 2h1m10 0h1m1 1h1m-1 2h1m-12 1h1m0 1h1m1 1h1m0 2h1m1 0h1"/>
<path stroke="#98BCA8" d="M18 13.5h1m1 1h1m-1 1h1m2 1h1m-2 1h1m1 0h1m-12 1h1m11 0h1m-12 2h2m10 0h1m0 1h1m-11 1h1m-2 1h1m11 0h1m-12 1h1m0 1h1m1 1h1m10 0h1m-11 1h1m1 1h1m2 3h1m26 14h1m-2 1h1m1 1h1m0 1h2m-2 1h1m1 1h1m-1 1h1m-12 1h1m11 0h3m-16 1h1m1 1h1m13 0h1m-14 1h2m11 0h1m-14 1h1m13 0h1m-13 1h2m11 0h1m-12 1h1m-1 1h1m11 0h1m-13 1h1m1 1h2m10 0h1m-11 1h1m10 0h1m-11 1h1m1 1h1m1 2h1m0 1h1m21 12h1m0 1h1m1 0h2m0 1h1m-2 1h1m1 0h1m-2 1h1m1 0h1m-13 1h1m10 0h2m-12 1h1m10 0h2m0 1h1m-14 1h1m14 0h2m-17 1h1m1 0h1m-2 1h1m1 0h1m-2 1h1m1 0h1m12 0h1m-15 1h3m-1 1h1m12 0h1m-13 1h1m0 2h1m12 0h2m-15 1h1m14 0h1m-13 1h1m1 1h1m2 2h1m-1 1h1m0 1h1m15 5h1m-6 5h1m9 0h1m-6 5h1m19 10h2m-1 1h1m1 1h1m1 1h1m-11 2h1m11 0h1m2 0h1m-16 1h2m11 0h1m1 0h3m-2 1h2m-16 1h1m0 2h1m15 0h1m-1 1h1m-15 1h1m13 0h2m-15 1h1m13 0h1m0 1h2m-18 1h2m17 0h2m-20 1h2m16 0h1m-19 1h2m18 0h1m-2 1h1m-16 1h3m12 0h2m-15 1h2m13 0h1m-14 1h1m-1 1h1m0 2h2m-2 1h1m2 0h2m10 0h1m-14 1h1m1 0h1m0 1h1m11 0h1m1 1h2m-1 1h1m-11 1h1m11 0h1m1 0h1m-2 1h2m-13 1h1m11 0h2m1 0h1m-2 1h2m2 0h1m-18 1h1m14 0h1m1 0h1m-18 1h2m13 0h4m-17 2h1m0 1h1m15 0h2m-19 1h3m15 0h1m4 0h1m-22 1h1m16 0h2m-18 1h1m16 0h2m1 0h1m-22 1h2m17 0h4m-21 1h2m16 0h2m-19 1h1m18 0h1m-22 1h3m18 0h3m-22 1h1m19 0h1m-18 1h1m16 0h1m-18 1h2m16 0h1m1 0h1m-19 1h1m-1 1h2m16 0h1m-18 1h2m15 0h1m-17 1h2m15 0h1m-21 1h1m1 0h3m16 0h1m-19 1h1m1 0h2m-1 1h3m12 0h1m-16 1h1m2 0h1m12 0h1m129 1h3m-146 1h1m1 0h2m11 0h1m-12 1h1m11 0h1m-12 1h1m1 0h1m0 1h1m1 2h1m0 1h1m10 1h1m2 0h1m-2 1h2m1 2h1m1 0h1m-2 1h1m1 0h1m-14 1h1m11 0h2m-13 2h1m12 0h1m-15 1h2m13 0h2m-1 1h1m-14 1h1m13 0h1m-14 1h1m13 0h1m-16 1h1m1 0h1m-2 1h2m13 0h2m-14 1h1m0 1h1m11 0h1m-13 1h2m11 0h1m-12 1h1m0 1h1m1 1h1m-1 1h1m1 0h1m9 0h1m-10 1h1m10 1h1m2 2h1m1 0h1m-13 1h1m13 0h3m-4 1h1m2 0h1m-15 1h1m13 1h1m0 1h1m-14 1h1m12 0h2m0 1h1m-16 1h1m14 0h2m-15 1h1m13 0h2m-17 1h1m16 0h1m-18 1h1m16 0h2m-19 1h2m1 0h1m14 0h1m-15 1h2m13 0h1m-15 1h1m0 1h2m-1 1h2m12 0h1m-14 1h1m13 0h1m-14 1h2m12 0h1m-14 1h2m12 0h1m-13 1h1m12 0h2m0 1h1m1 0h1m-15 1h1m12 0h4m1 0h1m-18 1h1m12 0h1m1 0h1m1 0h2m-18 1h1m15 0h2m-17 1h1m13 0h1m1 0h1m-16 1h1m15 0h1m-17 1h1m15 0h1m-16 1h1m14 0h1m56 0h3m-74 1h1m13 0h1m-16 1h3m70 0h4m-76 1h1m15 0h1m-17 1h2m15 0h1m-15 1h1m13 0h1m-18 1h3m16 0h1m-19 1h3m15 0h1m-16 1h4m1 2h1m0 1h2m10 0h1m1 1h2m-14 1h2m12 1h1m1 1h2m-13 1h1m12 1h1m-13 1h1m12 0h2m47 0h1m-63 1h1m15 0h3m-17 1h1m13 1h1m2 0h1m-17 1h1m13 0h1m-15 1h1m15 0h2m-16 1h1m13 0h2m-15 1h1m-1 1h1m14 1h1m30 0h4m-49 1h1m1 0h1m-3 1h1m2 0h1m11 0h1m-16 1h1m15 0h1m-15 1h1m1 0h2m-2 1h2m2 1h1m1 1h1m0 1h1m17 8h1m0 1h2m1 2h1m46 0h2m1 0h1m-50 1h3m43 0h1m1 0h1m-59 1h1m11 0h1m44 0h1m1 0h1m-59 1h1m11 0h1m36 0h3m-52 1h1m13 0h1m33 0h4m-38 1h1m1 0h1m22 0h3m6 0h2m1 0h1m-50 1h1m12 0h2m22 0h1m1 0h1m7 0h1m1 0h1m-49 1h1m35 0h6m4 0h1m1 0h1m-49 1h1m13 0h1m21 0h3m1 0h2m4 0h1m1 0h1m-49 1h2m13 0h2m19 0h6m4 0h1m1 0h1m-47 1h1m34 0h5m3 0h4m-32 1h1m19 0h5m4 0h1m1 0h1m-46 1h2m14 0h1m20 0h1m4 0h6m-46 1h1m13 0h1m25 0h4m1 0h1m-47 1h2m15 0h1m24 0h1m1 0h1m1 0h1m-44 1h1m13 0h1m24 0h5m1 0h1m693 0h2m-740 1h1m37 0h1m1 0h5m362 0h2m135 0h1m193 0h2m-740 1h1m14 0h1m19 0h2m1 0h1m1 0h3m365 0h2m132 0h4m193 0h1m3 0h1m-772 1h1m29 0h1m12 0h1m16 0h7m1 0h3m493 0h1m1 0h2m2 0h1m1 0h2m168 0h2m19 0h9m-799 1h1m26 0h1m43 0h1m1 0h1m13 0h1m1 0h3m1 0h1m1 0h1m1 0h1m362 0h2m3 0h2m123 0h12m167 0h3m1 0h4m13 0h3m1 0h5m-799 1h1m1 0h1m24 0h1m30 0h2m14 0h2m11 0h3m1 0h1m1 0h1m1 0h3m363 0h1m127 0h3m1 0h3m1 0h2m2 0h1m42 0h2m2 0h3m119 0h1m2 0h2m1 0h1m13 0h10m-800 1h1m1 0h1m24 0h1m46 0h2m13 0h1m3 0h1m2 0h2m362 0h4m2 0h1m121 0h4m1 0h9m42 0h1m3 0h1m1 0h1m1 0h2m115 0h3m1 0h4m13 0h1m1 0h1m1 0h1m1 0h6m-800 1h1m57 0h2m14 0h1m1 0h1m8 0h9m1 0h1m363 0h3m126 0h1m1 0h3m1 0h2m2 0h2m42 0h10m116 0h1m2 0h3m15 0h11m-800 1h1m73 0h1m10 0h1m1 0h3m4 0h2m362 0h2m3 0h2m123 0h14m40 0h8m115 0h5m1 0h4m4 0h4m5 0h1m1 0h3m1 0h3m-736 1h2m13 0h2m10 0h8m363 0h1m3 0h1m124 0h1m1 0h3m2 0h1m1 0h1m1 0h3m40 0h8m116 0h1m1 0h3m1 0h2m5 0h1m1 0h1m1 0h2m4 0h9m-735 1h1m12 0h3m10 0h1m2 0h4m362 0h2m3 0h2m123 0h14m40 0h3m1 0h3m52 0h1m63 0h10m1 0h2m4 0h3m3 0h1m1 0h3m1 0h5m-722 1h1m10 0h3m1 0h2m1 0h1m362 0h2m3 0h1m126 0h1m1 0h5m2 0h1m100 0h2m64 0h5m1 0h2m9 0h1m6 0h9m-736 1h1m15 0h2m7 0h1m369 0h2m3 0h2m125 0h11m99 0h2m63 0h10m1 0h2m12 0h1m1 0h5m1 0h1m-861 1h1m77 0h1m47 0h2m13 0h3m6 0h3m372 0h2m125 0h1m1 0h5m1 0h3m99 0h2m63 0h2m1 0h3m1 0h1m3 0h2m12 0h9m-861 1h1m125 0h2m14 0h2m6 0h2m373 0h2m130 0h6m100 0h1m63 0h10m1 0h2m12 0h3m1 0h3m-859 1h1m127 0h2m20 0h3m504 0h6m164 0h6m1 0h1m21 0h4m-716 1h1m5 0h2m676 0h9m19 0h4m-732 1h1m1 0h2m13 0h1m682 0h1m1 0h1m1 0h5m-707 1h3m13 0h1m685 0h2m-703 1h1m14 0h1m685 0h2m-701 1h2m697 0h2m-701 1h3m12 0h1m-38 1h5m18 0h2m13 0h1m-39 1h1m1 0h5m19 0h1m12 0h1m-40 1h7m20 0h1m12 0h2m-40 1h1m1 0h3m21 0h2m11 0h1m-40 1h6m5 0h3m1 0h2m23 0h1m-41 1h5m6 0h1m1 0h1m1 0h1m13 0h1m11 0h1m2 0h1m-34 1h6m13 0h1m12 0h1m-34 1h3m2 0h3m1 0h6m6 0h1m14 0h1m-37 1h4m1 0h5m1 0h4m7 0h1m12 0h1m1 0h2m-52 1h2m4 0h1m1 0h2m4 0h1m3 0h1m1 0h1m1 0h1m1 0h1m1 0h1m8 0h2m13 0h4m-55 1h20m1 0h1m16 0h1m-39 1h2m5 0h1m1 0h2m1 0h1m6 0h1m1 0h3m15 0h1m14 0h1m-55 1h18m1 0h1m1 0h3m29 0h2m-46 1h1m2 0h4m1 0h2m1 0h3m17 0h1m14 0h1m-47 1h15m15 0h1m18 0h2m-47 1h1m28 0h1m14 0h1m-61 1h2m13 0h2m27 0h1m17 0h1m-63 1h1m1 0h1m42 0h2m15 0h2m-63 1h1m43 0h2m16 0h2m-65 1h1m1 0h1m43 0h1m2 0h1m13 0h1m-18 1h1m1 0h2m14 0h2m-16 1h1m1 2h1m-2 1h1m14 0h1m-16 1h1m1 0h2m12 0h1m-14 1h3m-2 1h1m1 0h1m-1 1h1m3 1h1m0 1h1m26 17h1m0 1h1m0 1h1m1 1h1m0 1h1m-11 1h1m10 0h1m1 0h2m-14 1h1m11 0h1m-12 1h1m11 0h1m0 1h1m-13 1h1m13 0h1m-14 1h1m11 0h2m-13 1h1m12 0h1m0 1h1m-15 1h2m-2 1h1m1 0h1m12 0h1m-13 1h1m1 1h1m10 0h1m-13 1h2m11 0h1m-12 1h1m11 0h1m-12 1h1m1 1h1m1 1h1m0 1h1m0 1h1m14 5h1m0 1h1m3 3h2m-12 1h1m10 0h1m-11 1h1m10 0h3m-2 1h1m0 1h1m0 1h3m-14 1h1m-1 1h2m0 1h1m11 0h1m-13 1h2m11 0h1m-14 1h1m1 0h1m11 0h1m-12 1h1m11 0h1m-13 1h1m-1 1h1m13 0h1m-12 1h1m10 0h1m-11 1h1m0 1h1m0 1h1m1 2h2m18 9h1m3 3h1m-10 2h1m11 2h1m-10 2h1m10 0h1m-8 3h1m1 2h1m16 7h1m1 2h1m2 1h1m0 1h1m-12 1h1m11 0h2m0 1h2m-14 1h1m11 0h1m0 1h2m1 1h1m-16 1h1m13 0h2m-15 1h1m14 0h1m-15 1h1m13 0h1m-15 1h1m14 0h1m-15 1h2m12 0h2m-16 1h1m1 0h1m-1 1h1m14 0h2m-15 1h1m12 0h1m-15 1h2m0 1h2m12 0h1m-13 1h2m10 0h1m-12 1h1m11 0h1m-11 2h2m-2 1h1m2 1h2m0 1h1m17 8h1m0 1h1m0 1h1m0 1h1m1 1h1m-11 1h1m12 0h1m-13 1h1m10 0h2m-12 1h1m11 0h1m-12 1h1m11 0h1m0 1h1m-13 1h1m12 0h1m2 0h1m-1 1h1m-15 1h1m12 0h1m-15 1h2m0 1h1m0 1h1m0 1h1m12 0h1m-13 1h1m12 0h1m0 1h1m-13 1h1m12 0h1m-16 1h2m14 0h1m-11 2h1m0 1h1m0 1h1m0 1h1m0 1h1m15 5h1m2 2h1m-1 1h1m1 1h2m-12 1h1m14 1h2m-3 1h1m-13 1h2m11 0h1m0 1h1m-13 1h1m12 0h1m-14 1h1m13 0h1m0 1h3m-2 1h1m-14 1h1m13 0h2m-17 1h1m1 0h1m13 0h2m-18 1h1m2 0h1m15 0h1m-16 1h1m14 0h1m-15 1h1m12 0h1m-13 1h1m-1 1h2m12 0h1m-15 1h1m1 0h1m11 0h1m-13 1h2m11 0h1m-13 1h1m12 0h1m-11 1h1m-3 1h2m12 0h1m-11 1h2m0 1h1m0 1h1m1 2h1m18 8h1m1 2h1m0 2h1m1 1h1m-12 1h1m11 0h1m-11 2h1m1 1h1m0 2h1m0 1h1m26 16h1m0 1h1m0 1h1m1 1h1m0 1h4m-14 1h1m10 0h1m1 0h1m-13 1h1m0 1h1m11 0h1m0 1h1m-13 1h1m12 0h2m-14 1h1m12 0h1m-14 1h2m12 0h1m-15 1h1m14 0h2m-17 1h2m14 0h2m-15 1h1m13 0h1m-14 1h1m12 0h1m-13 1h1m12 0h1m-14 1h2m12 0h1m-13 1h1m0 1h1m-1 1h2m11 0h1m-13 1h3m0 1h1m0 1h1m2 2h1m14 5h1m0 1h1m1 1h1m0 1h1m0 1h1m-11 1h1m10 0h1m-11 1h1m10 0h1m0 1h1m-12 1h1m11 0h1m-12 1h1m11 0h1m-12 1h1m11 0h1m-12 1h1m10 0h2m-12 1h1m0 1h1m0 1h1m0 1h1m0 1h2m-1 1h1m19 9h1m0 1h1m1 1h1m0 1h1m0 1h1m-11 1h1m11 0h1m-12 1h1m11 0h2m-1 1h1m-13 1h1m12 0h2m-14 1h1m12 0h3m-15 1h1m14 0h1m-1 1h1m-15 1h1m0 1h1m13 0h1m-15 1h2m13 0h2m-15 1h1m13 0h1m-15 1h2m12 0h1m-14 1h1m13 0h1m-15 1h1m15 0h1m-16 1h2m13 0h1m-13 1h1m11 0h1m-12 1h1m11 0h1m-13 1h3m0 1h1m0 2h3m0 1h1m9 0h1m0 1h1m1 2h1m0 1h1m-10 1h1m10 0h1m-11 1h1m10 0h1m0 1h1m1 0h1m-13 1h1m10 0h2m-12 1h1m11 0h1m1 1h1m-14 1h1m12 0h1m-13 1h1m12 0h1m-13 1h1m12 0h1m-13 1h1m12 0h1m-15 1h2m13 0h1m197 0h2m-213 1h1m13 0h2m194 0h3m-198 1h1m194 0h3m-212 1h2m207 0h2m-209 1h1m12 0h1m194 0h1m-208 1h1m0 1h1m11 0h1m-12 1h1m0 1h1m-1 1h2m1 1h1m1 1h1m151 8h3m-136 1h1m1 0h1m129 0h4m-535 1h1m1 0h1m1 0h1m1 0h3m393 0h1m128 0h4m-535 1h9m394 0h1m123 0h8m9 0h4m-551 1h1m4 0h2m523 0h7m3 0h1m6 0h2m1 0h1m-551 1h2m3 0h2m400 0h1m122 0h2m1 0h3m1 0h5m5 0h4m-550 1h1m395 0h1m10 0h1m41 0h1m1 0h1m77 0h3m1 0h1m1 0h1m1 0h1m1 0h1m1 0h1m3 0h1m1 0h3m-548 1h1m3 0h7m397 0h1m37 0h4m77 0h3m2 0h9m3 0h4m-548 1h1m1 0h1m1 0h1m1 0h1m1 0h3m383 0h1m130 0h1m1 0h5m1 0h3m1 0h1m1 0h1m1 0h1m3 0h3m-153 1h1m13 0h1m116 0h1m1 0h14m-146 1h1m128 0h6m4 0h5m-142 1h1m127 0h1m1 0h1m1 0h1m4 0h6m-142 1h1m10 0h1m114 0h4m6 0h3m1 0h1m-14 1h3m6 0h6m-13 1h1m7 0h3m-139 1h1m1 1h1m2 1h1m15 6h1m111 0h3m-114 1h1m108 0h2m1 0h2m-5 1h5m-111 1h1m0 1h1m-11 1h1m10 0h1m-11 1h1m10 0h1m0 1h3m-2 1h2m-13 1h1m11 0h1m-12 1h1m0 1h1m10 0h1m-11 1h1m10 0h2m-12 1h1m-1 1h2m10 0h1m-13 1h3m1 1h1m0 1h1m-1 1h1m1 1h1m93 5h5m-83 1h1m0 1h2m-49 4h1m40 0h1m10 0h1m-54 1h2m41 0h1m10 0h2m-55 1h1m41 0h1m12 0h1m-57 1h2m55 2h2m-12 1h1m11 0h1m-12 1h1m10 0h2m-13 1h1m0 1h1m11 0h1m-10 1h1m-1 1h1m10 0h1m-11 1h2m-1 1h1m1 1h1m1 2h1m9 0h1m1 1h1m0 1h1m2 1h1m1 0h1m2 0h1m-5 1h2m-14 1h1m15 0h1m1 0h1m-5 1h2m2 0h1m-18 1h1m14 0h4m-18 1h1m14 0h3m-3 1h1m1 0h1m0 1h2m-19 1h1m16 0h2m-18 1h1m15 0h1m-18 1h2m17 0h1m39 0h2m-58 1h1m15 0h1m-17 1h1m15 0h1m-20 1h1m1 0h1m1 0h1m-1 1h3m13 0h1m-19 1h4m16 0h1m-19 1h3m52 0h2m-54 1h3m12 0h1m36 0h2m-54 1h2m14 0h1m35 0h2m-51 1h3m46 0h2m-47 1h1m44 0h1m-1 1h2m-46 1h1m1 0h1m41 0h2m-43 1h1m40 0h2m-2 1h2m-26 6h2m2 3h1m-10 2h1m10 0h1m-12 1h1m12 0h1m-1 1h3m-2 1h2m-13 1h1m12 1h2m-13 1h1m11 0h1m-12 2h2m11 0h1m-13 1h2m-2 1h2m12 0h1m-12 1h1m10 0h1m-12 1h2m12 1h1m-12 1h1m11 0h1m2 0h1m-2 1h3m-15 1h2m12 0h1m1 0h1m0 1h1m-1 1h1m-15 1h1m14 0h1m-15 1h1m13 0h2m-1 1h2m-16 1h1m14 0h2m-530 1h1m511 0h2m16 0h1m47 0h2m1 0h2m-584 1h2m437 0h1m34 0h1m5 0h9m25 0h2m16 0h3m44 0h5m-585 1h7m394 0h1m1 0h1m1 0h1m34 0h1m34 0h1m5 0h4m1 0h4m43 0h3m45 0h1m1 0h2m126 0h3m-715 1h4m1 0h1m1 0h1m395 0h5m33 0h1m75 0h1m18 0h2m43 0h5m126 0h1m1 0h1m-714 1h1m2 0h7m386 0h6m1 0h1m1 0h2m33 0h1m76 0h2m17 0h1m44 0h1m1 0h2m126 0h3m-715 1h8m1 0h1m387 0h12m32 0h1m78 0h2m15 0h1m43 0h5m126 0h1m1 0h1m-715 1h11m386 0h2m1 0h5m116 0h2m14 0h1m40 0h1m1 0h1m131 0h3m-714 1h3m1 0h1m1 0h4m386 0h3m2 0h4m116 0h2m14 0h1m40 0h1m1 0h1m-581 1h1m1 0h3m1 0h4m384 0h6m1 0h2m14 0h2m103 0h1m-525 1h14m381 0h6m1 0h1m1 0h1m14 0h2m104 0h1m14 0h1m-541 1h1m1 0h3m1 0h1m1 0h6m381 0h5m1 0h4m13 0h1m1 0h1m105 0h2m13 0h1m-543 1h4m1 0h1m1 0h3m1 0h1m1 0h2m381 0h4m1 0h1m1 0h3m13 0h3m105 0h2m-528 1h3m1 0h3m1 0h1m1 0h4m386 0h9m9 0h3m105 0h3m13 0h1m-541 1h12m386 0h1m1 0h1m1 0h6m118 0h4m-526 1h3m1 0h4m385 0h11m122 0h1m-527 1h3m391 0h1m1 0h1m1 0h3m1 0h2m124 0h1m-134 1h8m126 0h1m-134 1h1m1 0h1m1 0h1m1 0h1m128 0h1m-135 1h2m-4 2h1m-4 1h3m1 0h1m148 0h1m-154 1h6m-6 1h1m1 0h4m149 0h1m-156 1h6m152 0h1m-1 1h1m-11 1h1m10 0h1m0 1h1m-11 1h1m10 0h1m1 1h1m0 1h1m-14 1h2m0 1h1m11 0h1m-12 1h1m11 0h1m-12 1h1m0 2h1m11 0h2m-13 1h1m1 1h1m0 1h1m2 2h1m-1 1h1m10 0h1m0 1h1m1 0h1m1 1h2m11 0h3m-3 1h3m-15 1h1m4 0h1m6 0h3m-26 1h1m11 0h2m2 0h1m-16 1h1m12 0h2m4 0h2m-7 1h1m4 0h3m-22 1h1m17 0h3m-3 1h2m-19 1h1m17 0h2m1 0h1m-22 1h1m1 0h1m16 0h3m1 0h1m-62 1h1m40 0h1m20 0h1m-217 1h3m152 0h1m39 0h1m20 0h1m-591 1h6m367 0h5m150 0h1m41 0h1m17 0h1m-589 1h1m1 0h4m367 0h3m146 0h2m1 0h1m1 0h1m1 0h1m40 0h2m16 0h4m-590 1h4m516 0h6m40 0h2m22 0h2m-592 1h3m518 0h1m1 0h1m1 0h1m62 0h2m-592 1h6m516 0h6m64 0h1m115 0h5m-713 1h1m1 0h4m516 0h6m44 0h2m18 0h2m114 0h2m1 0h1m-712 1h6m564 0h5m18 0h2m-593 1h3m565 0h3m1 0h2m18 0h3m-596 1h2m568 0h1m3 0h1m19 0h2m-596 1h2m563 0h3m5 0h2m20 0h2m-32 1h3m9 0h2m17 0h1m-32 1h3m6 0h1m3 0h1m16 0h2m-22 1h2m1 0h1m1 0h1m-3 1h1m1 0h1m16 0h1m-19 1h1m1 0h2m-4 1h1m2 0h2m14 0h1m-16 1h2m-1 1h2m-2 1h3m1 0h1m11 0h1m-15 1h3m12 0h1m-12 1h1m11 0h1m-11 1h1m2 2h1m0 1h1m0 1h1m21 10h1m0 1h1m0 1h1m0 1h3m-1 1h2m1 0h1m-2 1h2m-1 1h1m-16 1h1m0 1h1m14 0h1m-15 1h1m14 0h1m-15 1h1m14 0h2m-17 1h1m14 0h1m-16 1h2m15 0h1m-17 1h1m0 1h1m15 0h1m-18 1h3m15 0h1m-15 1h1m13 0h1m-14 1h1m0 1h2m11 0h1m-14 1h1m1 1h1m12 0h1m-12 1h1m11 0h1m-12 1h2m10 0h1m-635 1h3m622 0h1m-627 1h5m623 1h1m0 1h1m10 0h1m-11 1h1m11 0h2m-2 1h1m0 1h2m-1 1h1m-11 2h1m12 0h1m0 1h1m-14 1h2m-2 1h1m1 0h1m10 0h1m-12 1h2m10 0h1m1 2h1m-12 1h1m0 1h1m1 0h1m9 0h1m-10 1h1m1 2h1m1 2h1m10 0h1m0 1h1m-1 1h1m2 2h1m0 1h1m-12 1h1m11 0h1m-12 1h2m10 0h1m0 1h1m0 1h1m-12 1h1m12 0h1m-13 1h1m11 0h1m-12 1h1m0 1h1m0 1h1m0 1h1m0 2h2m20 10h1m1 1h1m-1 1h1m1 1h1m1 1h1m1 0h1m-14 1h1m11 0h1m1 1h1m-14 1h2m12 0h1m0 1h2m-15 1h1m13 0h2m-1 1h2m-16 1h1m14 0h2m-16 1h1m14 0h2m1 0h3m-22 1h1m17 0h2m-18 1h1m15 0h2m-17 1h1m16 0h3m-709 1h1m1 0h1m1 0h4m682 0h1m17 0h1m-709 1h10m680 0h2m16 0h1m-714 1h2m1 0h1m1 0h1m1 0h3m1 0h3m682 0h2m-698 1h15m682 0h2m15 0h2m-715 1h1m1 0h1m1 0h9m684 0h2m14 0h2m-710 1h12m681 0h1m-699 1h5m1 0h1m1 0h1m1 0h1m1 0h5m682 0h2m14 0h2m-717 1h14m569 0h2m113 0h3m15 0h1m-717 1h1m1 0h7m1 0h1m1 0h2m569 0h2m113 0h1m2 0h1m-702 1h3m1 0h1m1 0h1m1 0h1m1 0h1m1 0h2m511 0h5m53 0h1m114 0h1m2 0h1m15 0h1m-193 1h1m1 0h1m1 0h1m53 0h2m116 0h3m-698 1h1m1 0h3m514 0h5m53 0h1m121 0h2m12 0h1m-714 1h1m1 0h3m694 0h2m1 1h1m-705 1h2m702 0h2m11 0h1m-718 1h1m706 0h1m-708 1h2m-2 1h1m1 0h1m706 0h1m-709 1h3m-3 1h2m709 0h1m-718 4h4m1 0h1m1 0h1m-8 1h3m1 0h1m1 0h1m-7 1h12m-15 1h2m1 0h1m1 0h1m1 0h5m1 0h2m-15 1h15m724 0h2m-738 1h3m1 0h1m1 0h1m1 0h3m726 0h1m-738 1h14m724 0h2m-740 1h14m726 0h1m-742 1h15m729 0h2m-743 1h3m1 0h3m1 0h1m1 0h2m729 0h2m-742 1h2m2 0h4m719 0h1m12 0h1m-741 1h2m725 0h2m12 0h1m-13 1h1m12 0h1m-14 1h1m13 0h2m1 0h1m-17 1h1m13 0h3m-2 1h2m-16 2h3m-3 1h2m1 0h1m0 1h1m11 0h1m-12 1h1m-1 1h2m-1 1h2m-3 1h3m12 0h1m-10 1h1m12 2h1m-10 2h1m9 0h1m0 1h2m0 1h1m-11 2h1m11 0h1m-11 1h1m0 1h1m-1 1h1m10 0h1m-11 1h1m1 2h1m2 2h1"/>
<path stroke="#A0C4A0" d="M17 12.5h1m1 2h1m1 2h1m-10 1h1m10 0h1m-1 1h2m-11 1h1m9 0h2m-1 1h1m-10 1h1m9 0h1m0 1h1m-11 1h2m-1 1h2m9 0h1m-11 1h2m0 1h1m0 1h1m1 2h1m23 14h1m0 1h1m0 1h1m0 1h1m1 0h1m-2 1h2m-11 1h1m10 0h1m-11 1h1m9 0h1m-10 1h1m10 0h1m-11 1h1m9 0h1m-10 1h1m9 0h1m-12 1h2m11 0h3m-14 1h2m9 0h2m-1 1h1m-11 1h2m9 0h1m-10 1h1m9 0h1m0 1h1m-11 1h2m-2 1h3m9 0h1m-13 1h1m2 0h1m0 1h1m0 1h1m1 2h1m25 16h3m-2 1h1m0 1h1m1 0h1m-2 1h1m0 1h1m-10 1h1m9 0h2m-12 1h2m9 0h3m-14 1h1m1 0h1m10 0h3m-13 1h1m9 0h3m-14 1h1m1 0h1m9 0h2m-11 1h1m10 0h1m-12 1h2m9 0h1m-11 1h1m10 0h2m-13 1h3m9 0h1m-12 1h3m-3 1h3m10 0h1m-11 1h2m9 0h1m-10 1h1m-1 1h2m1 2h1m0 1h1m36 27h1m0 1h1m0 1h2m-1 1h2m-1 1h2m1 0h1m-13 1h1m10 0h3m-13 1h1m10 0h4m-14 1h1m9 0h1m1 0h2m-14 1h2m11 0h2m-14 1h2m11 0h1m-13 1h1m11 0h1m-12 1h1m11 0h1m-14 1h4m10 0h1m-14 1h2m12 0h3m-16 1h2m12 0h2m-16 1h3m13 0h2m-16 1h3m10 0h2m-12 1h1m10 0h1m-11 1h1m10 0h2m-12 1h1m10 0h2m-13 1h2m10 0h1m-13 1h2m1 0h1m9 0h1m-12 1h3m9 0h1m-13 1h1m2 0h1m-1 1h2m9 0h1m-11 1h2m0 1h1m9 0h1m-10 1h1m9 0h1m0 1h2m-11 1h1m10 0h1m0 1h1m-11 1h1m10 0h2m-12 1h1m10 0h3m-13 1h1m10 0h2m-13 1h1m11 0h5m-16 1h1m11 0h4m-15 1h1m12 0h2m-14 1h1m13 0h1m-15 1h2m12 0h2m-15 1h2m11 0h3m-16 1h3m12 0h2m-15 1h2m12 0h2m-16 1h2m12 0h4m-18 1h3m13 0h2m-18 1h3m13 0h3m1 0h1m-18 1h3m12 0h1m-15 1h2m12 0h2m1 0h1m-17 1h2m12 0h3m-16 1h3m11 0h2m-15 1h2m11 0h2m-14 1h3m11 0h1m-15 1h3m11 0h2m-14 1h3m10 0h2m-13 1h2m-4 1h1m2 0h3m-4 1h4m10 0h1m-11 1h2m-1 1h2m-1 1h1m2 2h1m11 2h1m1 2h1m0 1h2m-1 1h2m-11 1h1m9 0h2m0 1h1m-11 1h1m9 0h3m-12 1h1m9 0h2m-12 1h2m9 0h2m-12 1h2m9 0h2m-12 1h1m10 0h2m-12 1h2m10 0h1m-12 1h2m9 0h2m-13 1h3m9 0h1m-11 1h2m9 0h1m-11 1h2m-1 1h1m0 1h2m-1 1h2m0 1h1m13 4h1m0 1h1m1 1h3m-3 1h2m-1 1h4m-13 1h1m9 0h1m1 0h1m-12 1h1m9 0h3m-2 1h2m-12 1h2m9 0h3m-14 1h3m10 0h1m-14 1h1m1 0h2m10 0h1m-13 1h1m1 0h1m10 0h2m-15 1h4m-2 1h3m10 0h1m-12 1h1m11 0h1m-13 1h2m10 0h2m-12 1h1m10 0h2m-12 1h1m10 0h1m-12 1h1m11 0h1m-11 1h1m10 0h1m-11 1h2m9 0h1m-11 1h2m9 0h1m-11 1h2m10 0h1m-11 1h1m9 0h2m-11 1h1m9 0h2m1 0h1m-13 1h1m10 0h3m-13 1h1m9 0h3m1 0h1m-2 1h3m-15 1h2m10 0h3m-14 1h2m11 0h1m-13 1h1m11 0h1m-12 1h2m10 0h2m-15 1h3m11 0h1m-14 1h2m11 0h2m-13 1h2m10 0h1m-14 1h3m12 0h1m-15 1h4m10 0h1m-11 1h1m-1 1h3m-1 1h2m0 2h2m9 0h1m0 1h2m0 2h2m-1 1h3m-12 1h1m10 0h1m-11 1h1m10 0h1m-12 1h1m12 0h2m-13 1h1m10 0h2m-13 1h2m10 0h1m-12 1h1m10 0h2m-13 1h2m10 0h3m-13 1h1m10 0h2m-1 1h3m-14 1h2m10 0h2m-14 1h4m9 0h1m-11 1h2m9 0h1m-11 1h2m-2 1h3m-1 1h2m9 0h1m-12 1h3m9 0h1m-10 1h1m2 3h1m0 1h1m17 8h2m-1 1h1m0 1h1m0 1h2m-1 1h2m-11 1h1m10 0h2m-13 1h2m9 0h2m-11 1h1m9 0h2m-11 1h1m9 0h3m-13 1h2m9 0h2m-12 1h1m11 0h1m-12 1h2m10 0h2m-14 1h3m10 0h1m-12 1h2m10 0h1m-12 1h2m9 0h2m-13 1h2m10 0h3m-13 1h1m11 0h1m-12 1h1m10 0h2m-13 1h2m11 0h1m-12 1h2m9 0h1m-11 1h2m9 0h1m-11 1h1m10 0h3m-14 1h3m9 0h2m-12 1h1m10 0h1m1 0h1m-13 1h2m9 0h2m-11 1h1m9 0h3m-12 1h1m9 0h2m-12 1h2m10 0h1m-13 1h3m10 0h2m-12 1h1m-2 1h3m10 0h1m-12 1h2m9 0h3m-14 1h2m10 0h2m-12 1h1m10 0h2m-12 1h1m11 0h1m-13 1h1m1 1h2m9 0h2m-12 1h2m9 0h1m-12 1h3m9 0h1m-11 1h1m10 0h1m-11 1h1m10 0h1m-10 1h1m9 0h1m-11 1h2m9 0h1m-10 1h1m9 0h1m-10 1h1m9 0h2m1 0h1m-13 1h1m10 0h2m-12 1h1m12 0h1m-13 1h1m10 0h2m-12 1h1m9 0h4m-13 1h1m10 0h3m-14 1h1m11 0h1m-12 1h1m11 0h2m-15 1h2m13 0h3m-15 1h2m10 0h2m-15 1h3m12 0h2m-15 1h2m11 0h2m-15 1h3m11 0h2m-15 1h1m1 0h1m11 0h1m-13 1h1m12 0h1m-13 1h2m10 0h3m-15 1h2m11 0h2m-15 1h1m1 0h2m10 0h1m-13 1h3m-1 1h2m0 1h2m-1 1h2m-2 1h3m31 22h1m0 1h1m0 1h1m1 0h1m-2 1h2m-1 1h2m-11 1h1m10 0h1m-11 1h1m10 0h1m-11 1h1m9 0h1m-10 1h1m9 0h2m-13 1h3m9 0h2m-12 1h1m10 0h2m-12 1h1m0 1h2m9 0h1m-10 1h1m-1 1h2m-1 1h2m-1 1h1m1 1h1m20 11h1m0 1h1m0 1h1m0 1h1m0 1h1m-10 1h1m9 0h1m-10 1h1m9 0h1m-10 1h1m9 0h3m-12 1h1m9 0h2m-11 1h1m9 0h1m-10 1h1m9 0h1m-10 1h1m9 0h1m-10 1h1m9 0h1m-11 1h2m9 0h1m-12 1h3m9 0h1m-10 1h1m0 1h1m0 1h1m0 1h1m0 1h1m21 12h1m1 2h1m0 1h1m0 1h1m-10 1h1m1 2h1m0 1h1m0 1h1m20 11h1m1 2h2m0 1h1m-1 1h2m-11 1h1m10 0h2m-2 1h2m-11 1h1m9 0h2m-12 1h1m11 0h2m-13 1h2m9 0h2m-12 1h1m11 0h2m-13 1h2m9 0h2m-13 1h3m9 0h2m-12 1h1m10 0h1m-11 1h2m9 0h2m-13 1h2m10 0h2m-12 1h2m9 0h1m-12 1h3m9 0h2m-12 1h2m9 0h1m-10 1h1m-1 1h2m-1 1h2m0 1h1m-1 1h2m23 14h1m0 1h3m-2 1h1m0 1h2m-1 1h2m-11 1h1m9 0h2m-11 1h1m10 0h1m-12 1h2m10 0h2m-14 1h1m1 0h1m10 0h1m1 0h1m-14 1h2m10 0h2m-13 1h2m10 0h2m-13 1h1m11 0h1m-12 1h1m0 1h1m10 0h1m-12 1h2m10 0h1m-11 1h1m10 0h1m-13 1h3m10 0h1m-12 1h2m10 0h1m-10 1h1m0 1h1m0 1h1m0 1h1m0 1h1m15 6h1m0 1h1m1 2h1m0 1h3m-12 1h1m10 0h3m-13 1h1m9 0h2m-1 1h2m-11 1h1m10 0h1m-11 1h1m9 0h2m-12 1h1m11 0h1m-13 1h3m10 0h1m-13 1h3m9 0h2m-14 1h1m1 0h1m10 0h2m-12 1h2m10 0h1m-12 1h1m11 0h3m-14 1h1m11 0h2m-13 1h2m9 0h1m1 0h1m-13 1h2m9 0h2m-12 1h1m0 1h1m0 1h1m-1 1h3m-3 1h2m1 0h1m9 0h1m-12 1h2m4 4h1m18 9h1m0 1h1m0 1h1m0 1h1m-9 2h1m9 0h1m-10 1h1m9 0h1m-10 1h1m9 0h1m-10 1h1m1 2h1m0 1h1m0 1h1m28 19h1m1 2h1m1 0h1m-2 1h3m-2 1h2m-11 1h1m9 0h2m0 1h1m-11 1h1m9 0h2m-11 1h1m9 0h2m-13 1h3m9 0h2m-13 1h3m10 0h1m-12 1h1m10 0h2m-12 1h2m9 0h1m-11 1h2m9 0h1m-11 1h2m9 0h1m-11 1h1m10 0h1m-11 1h2m9 0h1m-11 1h2m0 1h1m0 1h1m0 1h1m0 1h1m17 8h1m0 1h1m0 1h1m0 1h1m0 1h1m-10 1h1m9 0h1m-10 1h1m9 0h1m-10 1h1m9 0h1m-10 1h1m9 0h1m-10 1h1m0 1h1m9 0h1m-10 1h1m9 0h1m-10 1h1m0 1h1m1 2h1m0 1h1m19 10h1m1 2h1m0 1h2m0 1h1m-11 1h1m9 0h2m0 1h1m-11 1h1m9 0h2m-11 1h1m10 0h3m-14 1h1m10 0h3m-13 1h2m11 0h1m-13 1h1m11 0h1m-12 1h2m10 0h1m-12 1h1m10 0h2m-12 1h2m9 0h1m-12 1h2m10 0h1m-13 1h2m12 0h1m-13 1h2m10 0h1m-11 1h2m-1 1h2m0 1h1m9 0h1m-10 2h2m2 3h1m13 4h1m0 1h1m0 1h1m0 1h1m0 1h2m-11 1h1m10 0h2m-12 1h1m9 0h2m-11 1h1m10 0h1m-11 1h1m10 0h1m-11 1h1m9 0h2m-12 1h1m11 0h1m1 0h1m-14 1h2m9 0h2m-13 1h2m10 0h2m-12 1h1m10 0h2m-12 1h2m9 0h1m-11 1h1m10 0h1m-11 1h2m-1 1h2m9 0h1m-13 1h1m1 0h2m-1 1h2m0 1h1m1 2h1m18 8h1m-1 1h2m-1 1h2m-1 1h2m0 2h1m-11 1h2m9 0h2m-12 1h2m10 0h2m-13 1h2m9 0h2m-12 1h1m11 0h1m-11 1h1m9 0h1m-10 1h1m-1 1h1m0 1h2m-2 1h2m0 1h2m18 9h1m0 1h1m0 1h1m0 1h1m0 1h1m-10 1h1m9 0h1m-10 1h1m9 0h1m-10 1h1m9 0h1m-10 1h1m9 0h1m-10 1h1m0 1h1m0 1h1m9 0h1m-10 1h1m0 1h1m2 3h1m18 9h1m0 1h1m0 1h1m0 1h1m0 1h1m-10 1h1m9 0h2m-11 1h1m9 0h2m-11 1h1m9 0h1m-10 1h1m0 1h1m9 0h1m-10 1h1m-1 1h2m9 0h1m-11 1h2m10 1h1m-10 1h1m1 2h1m1 2h1m11 2h1m0 1h1m0 1h3m1 0h1m-4 1h3m-1 1h3m-13 1h1m10 0h2m-12 1h1m11 0h2m-13 1h1m10 0h3m-14 1h2m10 0h2m1 0h1m-16 1h2m12 0h3m-16 1h2m12 0h2m-17 1h1m1 0h2m11 0h2m-15 1h2m13 0h2m-15 1h2m11 0h2m-15 1h3m11 0h1m-14 1h2m11 0h3m-14 1h1m-2 1h4m11 0h1m-15 1h3m12 0h1m-13 1h2m-2 1h4m-1 1h1m-1 1h1m1 1h1m0 1h1m19 9h1m0 1h1m0 1h1m0 1h2m-1 1h1m-10 1h1m9 0h2m-11 1h1m9 0h1m-10 1h1m9 0h1m-10 1h1m9 0h2m-12 1h2m9 0h1m-10 1h1m9 0h1m-11 1h2m9 0h1m-10 1h1m9 0h1m-10 1h1m9 0h1m-11 1h2m9 0h1m-10 1h1m0 1h1m9 0h1m-10 1h1m9 0h1m-10 1h1m9 0h1m-10 1h1m9 0h2m-1 1h3m-12 1h1m9 0h1m1 0h3m-14 1h1m9 0h4m-13 1h1m10 0h3m-13 1h1m11 0h1m-13 1h2m11 0h1m-13 1h2m10 0h2m-14 1h1m1 0h1m11 0h2m-15 1h2m12 0h2m-16 1h3m12 0h1m-16 1h3m13 0h2m-16 1h2m13 0h2m-15 1h2m11 0h2m-14 1h1m12 0h1m-13 1h1m12 0h1m-14 1h2m11 0h2m-14 1h2m11 0h1m-12 1h1m11 0h1m-13 1h3m10 0h1m-13 1h3m0 1h2m-1 1h2m0 1h1m0 1h1m17 8h2m-1 1h1m0 1h1m0 1h1m0 1h1m-10 1h1m9 0h2m-12 1h2m10 0h1m-11 1h1m9 0h2m-11 1h1m9 0h1m-10 1h1m9 0h1m-10 1h1m9 0h1m-11 1h1m10 0h1m-11 1h2m-1 1h2m9 0h1m-10 1h1m0 1h1m0 1h1m1 2h1m11 2h3m-2 1h4m-3 1h2m-1 1h2m0 1h2m2 0h1m-15 1h1m10 0h2m1 0h1m-15 1h2m11 0h4m-17 1h3m10 0h4m-16 1h3m11 0h1m1 0h1m-17 1h1m1 0h1m13 0h2m-15 1h1m12 0h5m-18 1h2m13 0h1m1 0h1m-17 1h1m12 0h4m-16 1h2m12 0h1m-17 1h4m14 0h4m-20 1h3m13 0h2m-18 1h2m14 0h4m-18 1h3m13 0h2m-17 1h2m1 0h1m12 0h2m-17 1h3m12 0h3m-18 1h1m1 0h2m13 0h2m-19 1h3m14 0h3m-16 1h3m11 0h2m-16 1h3m12 0h1m-16 1h1m1 0h2m12 0h2m-18 1h1m1 0h4m11 0h1m-14 1h2m11 0h2m-14 1h3m10 0h1m-13 1h3m10 0h1m-13 1h3m0 1h1m-1 1h3m-1 1h2m0 1h1m22 13h1m0 1h2m-1 1h2m-1 1h2m0 1h1m-11 1h1m10 0h2m-12 1h1m9 0h4m-14 1h2m11 0h2m-14 1h2m10 0h3m-14 1h1m11 0h2m-13 1h1m12 0h1m-13 1h2m10 0h2m-14 1h2m11 0h1m1 0h1m-15 1h1m12 0h2m-15 1h3m11 0h2m-15 1h3m11 0h1m-14 1h2m11 0h2m-13 1h2m10 0h1m-12 1h2m10 0h1m-11 1h1m-2 1h3m10 0h1m-12 1h3m-1 1h2m0 1h1m1 2h1m10 1h1m0 1h1m0 1h2m-1 1h1m0 1h1m-10 1h1m9 0h1m-10 1h1m9 0h2m-11 1h1m9 0h2m-12 1h2m9 0h2m-11 1h1m9 0h1m-10 1h1m0 1h1m-1 1h2m9 0h1m-11 1h2m-1 1h2m2 3h1m12 3h1m0 1h1m1 2h1m0 1h1m-10 1h1m9 0h1m-10 1h1m9 0h1m0 1h1m-10 1h1m9 0h1m-10 1h1m9 0h1m-10 1h1m9 0h1m-10 1h1m9 0h1m-10 1h1m9 0h1m-10 1h1m9 0h1m-10 1h1m0 1h1m0 1h1m0 1h1m0 1h1m19 10h1m1 2h1m0 1h2m-1 1h2m-11 1h1m9 0h3m-1 1h2m-12 1h1m10 0h2m-12 1h1m10 0h2m-13 1h2m10 0h2m-13 1h2m10 0h2m-13 1h1m11 0h2m-14 1h2m11 0h3m-15 1h2m11 0h2m-14 1h2m11 0h3m-15 1h2m11 0h4m-16 1h2m12 0h2m-15 1h2m11 0h3m-15 1h2m12 0h1m-14 1h2m11 0h1m-14 1h3m11 0h2m-14 1h2m10 0h2m-14 1h2m12 0h1m-14 1h3m10 0h2m-15 1h3m11 0h1m-13 1h3m10 0h1m-11 1h2m9 0h1m-12 1h2m10 0h1m-11 1h2m-1 1h2m0 1h1m0 1h1m0 1h1m18 9h1m0 1h1m0 1h1m0 1h1m0 1h2m-11 1h1m10 0h3m-13 1h1m9 0h3m-12 1h1m10 0h1m-11 1h1m9 0h2m-11 1h1m9 0h2m-12 1h1m11 0h1m-12 1h2m9 0h2m-13 1h2m10 0h2m-14 1h4m9 0h3m-13 1h2m9 0h2m-12 1h1m10 0h1m-11 1h2m-1 1h2m-1 1h2m-1 1h2m-2 1h3m13 4h1m2 3h1m0 1h1m-10 1h1m9 0h1m0 1h1m-9 2h1m0 1h1m0 1h1m0 1h1"/>
<path stroke="#A8C894" d="M53 48.5h1m1 2h1m-8 3h1m9 0h1m-9 2h1m2 3h1m39 30h1m2 3h1m-9 2h1m2 3h1m47 38h1m0 1h1m1 1h1m-1 1h2m-1 1h2m-11 1h1m9 0h1m-10 1h1m9 0h1m0 1h1m-11 1h2m9 0h1m-11 1h2m9 0h1m-11 1h2m9 0h2m-11 1h1m0 1h1m0 1h1m0 1h1m0 1h1m-1 1h1m18 8h1m0 1h1m0 1h1m0 1h1m0 1h1m-10 1h1m9 0h1m-10 1h1m9 0h1m-10 1h1m9 0h2m-11 1h1m9 0h3m-12 1h1m9 0h2m-11 1h1m9 0h1m-10 1h1m9 0h2m-11 1h1m9 0h2m-12 1h2m9 0h1m-11 1h2m9 0h2m-13 1h3m9 0h1m-10 1h1m9 0h2m-12 1h2m9 0h1m-11 1h2m9 0h1m-10 1h1m9 0h1m-11 1h2m0 1h1m9 0h1m-11 1h2m0 1h1m0 1h1m1 2h1m22 13h1m-6 5h1m10 1h1m-6 5h1m18 9h1m3 3h1m-10 2h1m11 2h1m0 1h1m-11 1h1m10 0h1m0 1h2m-1 1h1m-10 1h1m9 0h1m-10 1h1m0 1h1m0 1h1m-1 1h2m0 1h1m12 3h1m2 3h1m-9 2h1m9 0h2m-1 1h1m0 1h2m-11 1h1m9 0h1m0 1h1m-10 1h1m9 0h1m-11 1h2m0 1h1m-1 1h2m9 0h1m-10 1h1m0 1h1m2 3h1m12 3h1m2 3h1m0 1h1m-10 1h1m9 0h2m-1 1h1m0 1h1m-10 1h1m0 1h1m0 1h1m-1 1h2m0 1h1m33 24h1m-6 5h1m9 0h1m0 1h1m0 1h1m0 1h1m-9 2h1m403 0h1m-404 1h1m9 0h1m393 0h1m-404 1h1m401 0h1m1 0h1m-404 1h1m9 0h1m391 0h1m1 0h1m-2 1h1m1 0h1m-2 1h1m1 0h1m-404 1h1m401 0h1m1 0h1m-2 1h1m-402 1h1m10 0h1m390 0h1m-389 4h1m0 1h1m-11 1h1m10 0h2m-1 1h1m-9 2h1m0 1h1m0 1h1m9 0h1m-11 1h2m9 0h1m-7 4h1m0 1h1m14 5h1m0 1h2m-1 1h1m1 2h1m-10 1h1m9 0h1m-10 1h1m9 0h1m-11 1h2m9 0h2m-1 1h1m-10 1h1m9 0h2m-11 1h1m9 0h1m-10 1h1m9 0h1m-10 1h1m9 0h1m-11 1h2m9 0h1m-10 1h1m-1 1h2m0 1h1m0 1h1m0 1h1m39 30h1m0 1h1m-7 4h1m0 1h1m9 0h1m-6 5h1m75 66h1m1 2h1m-8 3h1m9 0h1m-9 2h1m9 0h1m-8 3h1m1 2h1m37 28h1m0 1h1m0 1h1m0 1h1m0 1h1m-10 1h1m9 0h1m-10 1h1m9 0h1m-10 1h1m0 1h1m0 1h1m0 1h1m0 1h1m25 16h1m2 3h1m-9 2h1m9 0h1m0 1h1m-9 2h1m10 1h1m-10 1h1m9 0h1m-10 1h1m9 0h1m-8 3h1m9 0h1m-10 1h1m0 1h1m2 3h1m54 45h1m-6 5h1m9 0h1m3 4h1m-10 1h1m3 4h1m50 41h1m2 3h1m-9 2h1m9 0h1m1 2h1m-10 1h1m10 1h2m-11 1h1m9 0h1m0 1h1m-10 1h1m1 2h1m-1 1h2m9 0h1m-10 1h1m3 4h1m22 13h1m1 2h1m0 1h1m-9 2h1m9 0h1m-9 2h1m0 1h1m1 2h1m-380 15h1m1 0h1m-2 1h1m1 0h1m539 0h1m-542 1h1m1 0h1m539 0h1m-542 1h1m1 0h1m537 0h1m1 0h1m-542 1h1m1 0h1m401 0h1m135 0h1m1 0h1m-542 1h1m1 0h1m537 0h1m1 0h1m-542 1h1m1 0h1m537 0h1m1 0h1m-138 1h1m135 0h1m1 0h1m-2 1h1m-146 1h1m9 0h1m135 0h1m-144 3h1m1 2h1m68 59h1m0 1h1m0 1h2m-1 1h1m0 1h1m-10 1h1m9 0h2m-11 1h1m9 0h2m-11 1h1m9 0h1m-11 1h2m9 0h2m-11 1h1m9 0h1m-10 1h1m9 0h1m-11 1h2m-1 1h2m9 0h1m-10 1h1m9 0h1m-11 1h2m9 0h1m-10 1h1m1 2h1m0 1h1m0 1h1m41 31h1m0 2h1m0 1h2m-1 1h2m-1 1h1m-11 1h1m10 0h2m-11 1h1m9 0h2m-11 1h1m9 0h2m-12 1h2m9 0h2m-12 1h2m9 0h2m-11 1h1m9 0h1m-11 1h2m9 0h1m-11 1h2m9 0h1m-11 1h2m-1 1h2m-1 1h2m0 1h1m0 1h1m-136 3h1m1 0h1m-2 1h1m1 0h1m-2 1h1m1 0h1m-2 1h1m1 0h1m-2 1h1m1 0h1m-2 1h1m1 0h1m-2 1h1m1 0h1m154 9h1m-6 5h1m22 13h1m0 1h1m0 1h2m-1 1h1m0 1h2m1 0h1m-13 1h1m9 0h3m-12 1h1m9 0h2m-11 1h1m9 0h3m1 0h1m-15 1h2m9 0h1m-10 1h1m9 0h2m1 0h1m-14 1h2m9 0h3m-13 1h2m9 0h2m-14 1h4m9 0h1m-11 1h2m9 0h2m-13 1h1m1 0h1m9 0h2m-12 1h2m9 0h1m-14 1h1m2 0h2m9 0h2m-14 1h4m9 0h1m-10 1h1m9 0h1m-11 1h2m9 0h1m-11 1h2m9 0h1m-10 1h1m9 0h1m-11 1h2m0 1h1m0 1h1m0 1h1m0 1h1m29 20h1m0 1h1m1 2h2m-1 1h1m-10 1h1m9 0h1m-10 1h1m9 0h2m-1 1h1m-10 1h1m9 0h1m-11 1h2m9 0h1m-10 1h1m9 0h1m-10 1h1m9 0h1m-11 1h2m0 1h1m0 1h1m0 1h1m0 1h1m69 60h1m0 1h1m0 1h1m0 1h1m0 1h1m-10 1h1m9 0h1m-10 1h1m9 0h1m-10 1h1m9 0h1m-10 1h1m9 0h1m-10 1h1m9 0h1m-10 1h1m9 0h2m-11 1h1m9 0h1m-10 1h1m9 0h2m-11 1h1m9 0h1m-10 1h1m9 0h1m-10 1h1m-1 1h2m9 0h1m-10 1h1m-1 1h2m0 1h1m1 2h1m28 19h1m1 2h1m-8 3h1m9 0h1m-9 2h1m2 3h1"/>
<path stroke="#BCD07C" d="M7 3.5h1m0 1h1m1 2h1m-8 1h1m7 0h1m-8 1h1m7 0h1m0 1h1m-8 1h1m7 0h1m-8 1h1m7 0h1m-8 1h1m7 0h1m-8 1h1m7 0h1m-8 1h1m7 0h1m-8 1h1m7 0h1m-8 1h1m7 0h1m-8 1h1m7 0h1m-8 1h1m7 0h1m-8 1h1m7 0h1m-8 1h1m7 0h1m-8 1h1m7 0h1m-8 1h1m7 0h1m-8 1h1m7 0h1m-8 1h1m7 0h1m-8 1h1m7 0h1m-8 1h1m7 0h1m-8 1h1m7 0h1m-8 1h1m7 0h1m-8 1h1m7 0h1m-8 1h1m0 1h1m7 0h1m-8 1h1m7 0h1m-8 1h1m1 2h1m7 0h1m-8 1h1m8 1h1m-7 2h1m8 1h1m-8 1h1m7 0h1m0 1h1m0 1h1m-8 1h1m7 0h1m-8 1h1m7 0h1m-8 1h1m7 0h1m-8 1h1m7 0h1m-8 1h1m7 0h1m-8 1h1m7 0h1m-8 1h1m7 0h1m-8 1h1m7 0h1m-8 1h1m7 0h1m-8 1h1m7 0h1m-8 1h1m7 0h1m-8 1h1m7 0h1m-8 1h1m7 0h1m-8 1h1m7 0h1m-8 1h1m7 0h1m-8 1h1m7 0h1m-8 1h1m7 0h1m-8 1h1m7 0h1m-8 1h1m7 0h1m-8 1h1m7 0h1m-8 1h1m7 0h1m-8 1h1m7 0h1m-8 1h1m7 0h1m-8 1h1m7 0h1m-8 1h1m0 1h1m0 1h1m0 1h1m8 1h1m-5 4h1m7 0h1m0 1h1m0 1h1m0 1h1m-8 1h1m7 0h1m-8 1h1m7 0h1m-8 1h1m7 0h1m-8 1h1m7 0h1m-8 1h1m7 0h1m-8 1h1m7 0h1m-8 1h1m7 0h1m-8 1h1m7 0h1m-8 1h1m7 0h1m-8 1h1m7 0h1m-8 1h1m7 0h1m-8 1h1m7 0h1m-8 1h1m7 0h1m-8 1h1m7 0h1m-8 1h1m7 0h1m-8 1h1m7 0h1m-8 1h1m7 0h1m-8 1h1m7 0h1m-8 1h1m7 0h1m-8 1h1m7 0h1m-8 1h1m7 0h1m-8 1h1m7 0h1m-8 1h1m7 0h1m-8 1h1m7 0h1m-8 1h1m7 0h1m-8 1h1m7 0h1m-8 1h1m7 0h1m-8 1h1m7 0h1m-8 1h1m7 0h1m-8 1h1m7 0h1m-8 1h1m7 0h1m-8 1h1m7 0h1m-8 1h1m7 0h1m-8 1h1m7 0h1m-8 1h1m7 0h1m-8 1h1m7 0h1m-8 1h1m7 0h1m-8 1h1m0 1h1m0 1h1m0 1h1m7 0h1m1 2h1m-7 2h1m7 0h1m-7 2h1m7 0h1m0 1h1m-8 1h1m7 0h1m0 1h1m-8 1h1m7 0h1m-8 1h1m7 0h1m-8 1h1m7 0h1m-8 1h1m7 0h1m-8 1h1m7 0h1m-8 1h1m7 0h1m-8 1h1m7 0h1m-8 1h1m7 0h1m-8 1h1m7 0h1m-8 1h1m7 0h1m-8 1h1m7 0h1m-8 1h1m7 0h1m-8 1h1m7 0h1m-8 1h1m7 0h1m-8 1h1m7 0h1m-8 1h1m7 0h1m-8 1h1m7 0h1m-8 1h1m7 0h1m-8 1h1m7 0h1m-8 1h1m7 0h1m-8 1h1m7 0h1m-8 1h1m7 0h1m-8 1h1m7 0h1m-8 1h1m7 0h1m-8 1h1m7 0h1m-8 1h1m7 0h1m-8 1h1m7 0h1m-8 1h1m7 0h1m-8 1h1m7 0h1m-8 1h1m7 0h1m-8 1h1m7 0h1m-8 1h1m7 0h1m-8 1h1m7 0h1m-8 1h1m7 0h1m-8 1h1m7 0h1m-8 1h1m7 0h1m-8 1h1m7 0h1m-8 1h1m7 0h1m-8 1h1m7 0h1m-8 1h1m7 0h1m-8 1h1m7 0h1m-8 1h1m7 0h1m-8 1h1m7 0h1m-8 1h1m7 0h1m-8 1h1m7 0h1m-8 1h1m7 0h1m-8 1h1m7 0h1m-8 1h1m7 0h1m-8 1h1m7 0h1m-8 1h1m7 0h1m-8 1h1m7 0h1m-8 1h1m7 0h1m-8 1h1m7 0h1m-8 1h1m7 0h1m-8 1h1m7 0h1m-8 1h1m7 0h1m-8 1h1m7 0h1m-8 1h1m7 0h1m-8 1h1m7 0h1m-8 1h1m7 0h1m-8 1h1m7 0h1m-8 1h1m7 0h1m-8 1h1m7 0h1m-8 1h1m7 0h1m-8 1h1m7 0h1m-8 1h1m7 0h1m-8 1h1m7 0h1m-8 1h1m7 0h1m-8 1h1m7 0h1m-8 1h1m7 0h1m-8 1h1m7 0h1m-8 1h1m7 0h1m-8 1h1m7 0h1m-8 1h1m7 0h1m-8 1h1m7 0h1m-8 1h1m7 0h1m-8 1h1m7 0h1m-8 1h1m7 0h1m-8 1h1m7 0h1m-8 1h1m7 0h1m-8 1h1m7 0h1m-8 1h1m7 0h1m-8 1h1m7 0h1m-8 1h1m7 0h1m-8 1h1m7 0h1m-8 1h1m7 0h1m-8 1h1m7 0h1m-8 1h1m7 0h1m-8 1h1m7 0h1m-8 1h1m7 0h1m-8 1h1m7 0h1m-8 1h1m7 0h1m-8 1h1m7 0h1m-8 1h1m7 0h1m-8 1h1m7 0h1m-8 1h1m7 0h1m-8 1h1m7 0h1m-8 1h1m7 0h1m-8 1h1m7 0h1m-8 1h1m7 0h1m-8 1h1m7 0h1m-8 1h1m7 0h1m-8 1h1m7 0h1m-8 1h1m7 0h1m-8 1h1m7 0h1m-8 1h1m7 0h1m-8 1h1m7 0h1m-8 1h1m7 0h1m-8 1h1m7 0h1m-8 1h1m7 0h1m-8 1h1m7 0h1m-8 1h1m7 0h1m-8 1h1m7 0h1m-8 1h1m7 0h1m-8 1h1m7 0h1m-8 1h1m7 0h1m-8 1h1m7 0h1m-8 1h1m7 0h1m-8 1h1m7 0h1m-8 1h1m7 0h1m-8 1h1m7 0h1m-8 1h1m7 0h1m-8 1h1m7 0h1m-8 1h1m7 0h1m-8 1h1m7 0h1m-8 1h1m7 0h1m-8 1h1m7 0h1m-8 1h1m7 0h1m-8 1h1m7 0h1m-8 1h1m7 0h1m-8 1h1m7 0h1m-8 1h1m7 0h1m-8 1h1m7 0h1m-8 1h1m7 0h1m-8 1h1m7 0h1m-8 1h1m7 0h1m-8 1h1m7 0h1m-8 1h1m7 0h1m-8 1h1m7 0h1m-8 1h1m7 0h1m-8 1h1m7 0h1m-8 1h1m7 0h1m-8 1h1m7 0h1m-8 1h1m7 0h1m-8 1h1m7 0h1m-8 1h1m7 0h1m-8 1h1m7 0h1m-8 1h1m7 0h1m-8 1h1m7 0h1m-8 1h1m7 0h1m-8 1h1m0 1h1m7 0h1m-8 1h1m7 0h1m-8 1h1m7 0h1m0 1h1m-8 1h1m7 0h1m-8 1h1m7 0h1m-8 1h1m7 0h1m-8 1h1m7 0h1m-8 1h1m7 0h1m-8 1h1m7 0h1m-8 1h1m7 0h1m-8 1h1m7 0h1m-8 1h1m7 0h1m-8 1h1m7 0h1m-8 1h1m7 0h1m-8 1h1m7 0h1m-8 1h1m7 0h1m-8 1h1m7 0h1m-8 1h1m7 0h1m-8 1h1m7 0h1m-8 1h1m7 0h1m-8 1h1m7 0h1m-8 1h1m7 0h1m-8 1h1m7 0h1m-8 1h1m7 0h1m-8 1h1m7 0h1m-8 1h1m7 0h1m-8 1h1m7 0h1m-8 1h1m7 0h1m-8 1h1m7 0h1m-8 1h1m7 0h1m-8 1h1m7 0h1m-8 1h1m7 0h1m-8 1h1m7 0h1m-8 1h1m7 0h1m-8 1h1m7 0h1m-8 1h1m7 0h1m-8 1h1m7 0h1m-8 1h1m7 0h1m-8 1h1m7 0h1m-8 1h1m7 0h1m-8 1h1m7 0h1m-8 1h1m7 0h1m-8 1h1m7 0h1m-8 1h1m7 0h1m-8 1h1m7 0h1m-8 1h1m7 0h1m-8 1h1m7 0h1m-8 1h1m7 0h1m-8 1h1m7 0h1m-8 1h1m7 0h1m-8 1h1m7 0h1m-8 1h1m7 0h1m-8 1h1m7 0h1m-8 1h1m7 0h1m-8 1h1m7 0h1m-8 1h1m7 0h1m-8 1h1m7 0h1m-8 1h1m7 0h1m-8 1h1m7 0h1m-8 1h1m7 0h1m-8 1h1m7 0h1m-8 1h1m7 0h1m-8 1h1m7 0h1m-8 1h1m7 0h1m-8 1h1m7 0h1m-8 1h1m7 0h1m-8 1h1m7 0h1m-8 1h1m7 0h1m-8 1h1m7 0h1m-8 1h1m7 0h1m-8 1h1m7 0h1m-8 1h1m7 0h1m-8 1h1m7 0h1m-8 1h1m7 0h1m-8 1h1m7 0h1m-8 1h1m7 0h1m-8 1h1m7 0h1m-8 1h1m0 1h1m0 1h1m7 0h1m-8 1h1m7 0h1m0 1h1m-7 2h1m7 0h1m-8 1h1m7 0h1m-8 1h1m7 0h1m0 1h1m-8 1h1m7 0h1m-8 1h1m0 1h1m0 1h1m7 0h1m-8 1h1m7 0h1m0 1h1m0 1h1m-8 1h1m7 0h1m-8 1h1m7 0h1m-8 1h1m7 0h1m-8 1h1m7 0h1m-8 1h1m7 0h1m-8 1h1m7 0h1m-8 1h1m7 0h1m-8 1h1m7 0h1m-8 1h1m7 0h1m-8 1h1m7 0h1m-8 1h1m7 0h1m-8 1h1m7 0h1m-8 1h1m7 0h1m-8 1h1m7 0h1m-8 1h1m7 0h1m-8 1h1m7 0h1m-8 1h1m7 0h1m-8 1h1m7 0h1m-8 1h1m7 0h1m-8 1h1m0 1h1m7 0h1m-8 1h1m0 1h1m7 0h1m0 1h1m-8 1h1m7 0h1m0 1h1m-8 1h1m7 0h1m-8 1h1m7 0h1m-8 1h1m7 0h1m-8 1h1m7 0h1m-8 1h1m7 0h1m-8 1h1m7 0h1m-8 1h1m7 0h1m-8 1h1m7 0h1m-8 1h1m7 0h1m-8 1h1m7 0h1m-8 1h1m7 0h1m-8 1h1m7 0h1m-8 1h1m7 0h1m-8 1h1m7 0h1m-8 1h1m7 0h1m-8 1h1m7 0h1m-8 1h1m7 0h1m-8 1h1m7 0h1m-8 1h1m7 0h1m-8 1h1m7 0h1m-8 1h1m7 0h1m-8 1h1m7 0h1m-8 1h1m7 0h1m-8 1h1m0 1h1m7 0h1m-8 1h1m0 1h1m1 2h1m7 0h1m-5 4h1m7 0h1m0 1h1m0 1h1m0 1h1m-8 1h1m7 0h1m-8 1h1m7 0h1m-8 1h1m7 0h1m-8 1h1m7 0h1m-8 1h1m7 0h1m-8 1h1m7 0h1m-8 1h1m7 0h1m-8 1h1m0 1h1m0 1h1m0 1h1m11 4h1m1 2h1m0 1h1m-8 1h1m7 0h1m0 1h1m-8 1h1m7 0h1m-8 1h1m7 0h1m-8 1h1m7 0h1m-8 1h1m7 0h1m-8 1h1m7 0h1m-8 1h1m7 0h1m-8 1h1m7 0h1m-8 1h1m7 0h1m-8 1h1m7 0h1m-8 1h1m7 0h1m-8 1h1m7 0h1m-8 1h1m7 0h1m-8 1h1m7 0h1m-8 1h1m7 0h1m-8 1h1m7 0h1m-8 1h1m7 0h1m-8 1h1m7 0h1m-8 1h1m7 0h1m-8 1h1m7 0h1m-8 1h1m7 0h1m-8 1h1m7 0h1m-8 1h1m7 0h1m-8 1h1m7 0h1m-8 1h1m7 0h1m-8 1h1m7 0h1m-8 1h1m0 1h1m0 1h1m7 0h1m-8 1h1m7 0h1m1 2h1m-8 1h1m7 0h1m-8 1h1m7 0h1m0 1h1m-8 1h1m7 0h1m-8 1h1m7 0h1m-8 1h1m7 0h1m-8 1h1m7 0h1m-8 1h1m7 0h1m-8 1h1m7 0h1m-8 1h1m7 0h1m-8 1h1m7 0h1m-8 1h1m7 0h1m-8 1h1m7 0h1m-8 1h1m7 0h1m-8 1h1m7 0h1m-8 1h1m7 0h1m-8 1h1m7 0h1m-8 1h1m7 0h1m-8 1h1m7 0h1m-8 1h1m7 0h1m-8 1h1m7 0h1m-8 1h1m7 0h1m-8 1h1m7 0h1m-8 1h1m7 0h1m-8 1h1m7 0h1m-8 1h1m7 0h1m-8 1h1m7 0h1m-8 1h1m7 0h1m-8 1h1m0 1h1m7 0h1m-8 1h1m0 1h1m7 0h1m0 1h1m-8 1h1m7 0h1m0 1h1m-8 1h1m7 0h1m-8 1h1m7 0h1m-8 1h1m7 0h1m-8 1h1m7 0h1m-8 1h1m7 0h1m-8 1h1m7 0h1m-8 1h1m7 0h1m-8 1h1m7 0h1m-8 1h1m7 0h1m-8 1h1m7 0h1m-8 1h1m7 0h1m-8 1h1m7 0h1m-8 1h1m7 0h1m-8 1h1m7 0h1m-8 1h1m7 0h1m-8 1h1m7 0h1m-8 1h1m7 0h1m-8 1h1m7 0h1m-8 1h1m7 0h1m-8 1h1m7 0h1m-8 1h1m7 0h1m-8 1h1m7 0h1m-8 1h1m7 0h1m-8 1h1m0 1h1m7 0h1m-8 1h1m7 0h1m-8 1h1m7 0h1m-7 2h1m0 1h1m0 1h1m8 1h1m0 1h1m0 1h1m0 1h1m-8 1h1m7 0h1m-8 1h1m7 0h1m-8 1h1m7 0h1m-8 1h1m7 0h1m-8 1h1m7 0h1m-8 1h1m7 0h1m-8 1h1m7 0h1m-8 1h1m7 0h1m-8 1h1m7 0h1m-8 1h1m7 0h1m-8 1h1m7 0h1m-8 1h1m7 0h1m-8 1h1m7 0h1m-8 1h1m7 0h1m-8 1h1m7 0h1m-8 1h1m7 0h1m-8 1h1m7 0h1m-8 1h1m7 0h1m-8 1h1m7 0h1m-8 1h1m0 1h1m0 1h1m0 1h1m8 1h1m2 3h1m-8 1h1m7 0h1m0 1h1m0 1h1m-8 1h1m7 0h1m-8 1h1m7 0h1m-8 1h1m7 0h1m-8 1h1m7 0h1m-8 1h1m7 0h1m-8 1h1m7 0h1m-8 1h1m7 0h1m-8 1h1m7 0h1m-8 1h1m7 0h1m-8 1h1m7 0h1m-8 1h1m7 0h1m-8 1h1m7 0h1m-8 1h1m7 0h1m-8 1h1m7 0h1m-8 1h1m7 0h1m-8 1h1m7 0h1m-8 1h1m7 0h1m-8 1h1m7 0h1m-8 1h1m7 0h1m-8 1h1m7 0h1m-8 1h1m7 0h1m-8 1h1m7 0h1m-8 1h1m0 1h1m7 0h1m-8 1h1m7 0h1m-8 1h1m7 0h1m0 1h1m-8 1h1m7 0h1m-8 1h1m7 0h1m-8 1h1m7 0h1m-8 1h1m7 0h1m-8 1h1m7 0h1m-8 1h1m7 0h1m-8 1h1m7 0h1m-8 1h1m7 0h1m-8 1h1m7 0h1m-8 1h1m7 0h1m-8 1h1m7 0h1m-8 1h1m7 0h1m-8 1h1m7 0h1m-8 1h1m7 0h1m-8 1h1m7 0h1m-8 1h1m7 0h1m-8 1h1m7 0h1m-8 1h1m7 0h1m-8 1h1m7 0h1m-8 1h1m0 1h1m0 1h1m0 1h1m8 1h1m0 1h1m0 1h1m0 1h1m-8 1h1m7 0h1m-8 1h1m7 0h1m-8 1h1m7 0h1m-8 1h1m7 0h1m-8 1h1m7 0h1m-8 1h1m7 0h1m-8 1h1m7 0h1m-8 1h1m7 0h1m-8 1h1m7 0h1m-8 1h1m7 0h1m-8 1h1m7 0h1m-8 1h1m7 0h1m-8 1h1m7 0h1m-8 1h1m7 0h1m-8 1h1m7 0h1m-8 1h1m7 0h1m-8 1h1m7 0h1m-8 1h1m7 0h1m-8 1h1m7 0h1m-8 1h1m7 0h1m-8 1h1m7 0h1m-8 1h1m7 0h1m-8 1h1m7 0h1m-8 1h1m7 0h1m-8 1h1m7 0h1m-8 1h1m7 0h1m-8 1h1m7 0h1m-8 1h1m7 0h1m-8 1h1m7 0h1m-8 1h1m7 0h1m-8 1h1m7 0h1m-8 1h1m7 0h1m-8 1h1m7 0h1m-8 1h1m7 0h1m-8 1h1m7 0h1m-8 1h1m7 0h1m-8 1h1m7 0h1m-8 1h1m7 0h1m-8 1h1m7 0h1m-8 1h1m7 0h1m-8 1h1m7 0h1m-8 1h1m7 0h1m-8 1h1m7 0h1m-8 1h1m7 0h1m-8 1h1m7 0h1m-8 1h1m7 0h1m-8 1h1m7 0h1m-8 1h1m7 0h1m-8 1h1m7 0h1m-8 1h1m7 0h1m-8 1h1m7 0h1m-8 1h1m7 0h1m-8 1h1m7 0h1m-8 1h1m0 1h1m7 0h1m-8 1h1m7 0h1m-8 1h1m8 1h1m-8 1h1m7 0h1m-8 1h1m7 0h1m0 1h1m-8 1h1m7 0h1m-8 1h1m7 0h1m-8 1h1m7 0h1m-8 1h1m7 0h1m-8 1h1m7 0h1m-8 1h1m7 0h1m-8 1h1m7 0h1m-8 1h1m7 0h1m-8 1h1m7 0h1m-8 1h1m7 0h1m-8 1h1m7 0h1m-8 1h1m7 0h1m-8 1h1m7 0h1m-8 1h1m7 0h1m-8 1h1m7 0h1m-8 1h1m7 0h1m-8 1h1m0 1h1m7 0h1m-8 1h1m7 0h1m-8 1h1m7 0h1m0 1h1m-8 1h1m7 0h1m-8 1h1m7 0h1m-8 1h1m7 0h1m-8 1h1m7 0h1m-8 1h1m7 0h1m-8 1h1m7 0h1m-8 1h1m7 0h1m-8 1h1m7 0h1m-8 1h1m7 0h1m-8 1h1m7 0h1m-8 1h1m7 0h1m-8 1h1m7 0h1m-8 1h1m7 0h1m-8 1h1m7 0h1m-8 1h1m7 0h1m-8 1h1m7 0h1m-8 1h1m7 0h1m-8 1h1m7 0h1m-8 1h1m7 0h1m-8 1h1m7 0h1m-8 1h1m7 0h1m-8 1h1m7 0h1m-8 1h1m7 0h1m-8 1h1m7 0h1m-8 1h1m7 0h1m-8 1h1m7 0h1m-8 1h1m7 0h1m-8 1h1m7 0h1m-8 1h1m7 0h1m-8 1h1m7 0h1m-8 1h1m7 0h1m-8 1h1m7 0h1m-8 1h1m7 0h1m-8 1h1m7 0h1m-8 1h1m7 0h1m-8 1h1m7 0h1m-8 1h1m7 0h1m-8 1h1m7 0h1m-8 1h1m7 0h1m-8 1h1m7 0h1m-8 1h1m7 0h1m-8 1h1m7 0h1m-8 1h1m7 0h1m-8 1h1m7 0h1m-8 1h1m7 0h1m-8 1h1m7 0h1m-8 1h1m7 0h1m-8 1h1m7 0h1m-8 1h1m7 0h1m-8 1h1m7 0h1m-8 1h1m7 0h1m-8 1h1m7 0h1m-8 1h1m7 0h1m-8 1h1m7 0h1m-8 1h1m7 0h1m-8 1h1m7 0h1m-8 1h1m7 0h1m-8 1h1m7 0h1m-8 1h1m7 0h1m-8 1h1m7 0h1m-8 1h1m7 0h1m-8 1h1m7 0h1m-8 1h1m7 0h1m-8 1h1m7 0h1m-8 1h1m7 0h1m-8 1h1m7 0h1m-8 1h1m7 0h1m-8 1h1m7 0h1m-8 1h1m7 0h1m-8 1h1m7 0h1m-8 1h1m7 0h1m-8 1h1m7 0h1m-8 1h1m7 0h1m-8 1h1m7 0h1m-8 1h1m0 1h1m7 0h1m-8 1h1m7 0h1m-8 1h1m7 0h1m0 1h1m-8 1h1m7 0h1m-8 1h1m7 0h1m-8 1h1m7 0h1m-8 1h1m7 0h1m-8 1h1m7 0h1m-8 1h1m7 0h1m-8 1h1m7 0h1m-8 1h1m7 0h1m-8 1h1m7 0h1m-8 1h1m7 0h1m-8 1h1m7 0h1m-8 1h1m7 0h1m-8 1h1m7 0h1m-8 1h1m7 0h1m-8 1h1m7 0h1m-8 1h1m7 0h1m-8 1h1m7 0h1m-8 1h1m7 0h1m-8 1h1m7 0h1m-8 1h1m7 0h1m-8 1h1m7 0h1m-8 1h1m7 0h1m-8 1h1m7 0h1m-8 1h1m7 0h1m-8 1h1m7 0h1m-8 1h1m7 0h1m-8 1h1m7 0h1m-8 1h1m7 0h1m-8 1h1m7 0h1m-8 1h1m7 0h1m-8 1h1m7 0h1m-8 1h1m7 0h1m-8 1h1m7 0h1m-8 1h1m7 0h1m-8 1h1m7 0h1m-8 1h1m7 0h1m-8 1h1m7 0h1m-8 1h1m7 0h1m-8 1h1m7 0h1m-8 1h1m7 0h1m-8 1h1m7 0h1m-8 1h1m7 0h1m-8 1h1m7 0h1m-8 1h1m7 0h1m-8 1h1m7 0h1m-8 1h1m7 0h1m-8 1h1m7 0h1m-8 1h1m7 0h1m-8 1h1m7 0h1m-8 1h1m7 0h1m-8 1h1m7 0h1m-8 1h1m7 0h1m-8 1h1m7 0h1m-8 1h1m7 0h1m-8 1h1m7 0h1m-8 1h1m7 0h1m-8 1h1m7 0h1m-8 1h1m7 0h1m-8 1h1m7 0h1m-8 1h1m7 0h1m-8 1h1m7 0h1m-8 1h1m7 0h1m-8 1h1m7 0h1m-8 1h1m7 0h1m-8 1h1m7 0h1m-8 1h1m7 0h1m-8 1h1m7 0h1m-8 1h1m7 0h1m-8 1h1m7 0h1m-8 1h1m7 0h1m-8 1h1m7 0h1m-8 1h1m7 0h1m-8 1h1m7 0h1m-8 1h1m7 0h1m-8 1h1m7 0h1m-8 1h1m7 0h1m-8 1h1m7 0h1m-8 1h1m7 0h1m-8 1h1m7 0h1m-8 1h1m7 0h1m-8 1h1m7 0h1m-8 1h1m7 0h1m-8 1h1m7 0h1m-8 1h1m7 0h1m-8 1h1m7 0h1m-8 1h1m7 0h1m-8 1h1m7 0h1m-8 1h1m7 0h1m-8 1h1m7 0h1m-8 1h1m7 0h1m-8 1h1m7 0h1m-8 1h1m7 0h1m-8 1h1m7 0h1m-8 1h1m7 0h1m-8 1h1m7 0h1m-8 1h1m7 0h1m-8 1h1m7 0h1m-8 1h1m7 0h1m-8 1h1m7 0h1m-8 1h1m7 0h1m-8 1h1m7 0h1m-8 1h1m7 0h1m-8 1h1m7 0h1m-8 1h1m7 0h1m-8 1h1m7 0h1m-8 1h1m7 0h1m-8 1h1m7 0h1m-8 1h1m7 0h1m-8 1h1m7 0h1m-8 1h1m7 0h1m-8 1h1m0 1h1m0 1h1m0 1h1m8 1h1m0 1h1m0 1h1m0 1h1m-8 1h1m7 0h1m-8 1h1m7 0h1m-8 1h1m7 0h1m-8 1h1m7 0h1m-8 1h1m7 0h1m-8 1h1m7 0h1m-8 1h1m7 0h1m-8 1h1m7 0h1m-8 1h1m7 0h1m-8 1h1m7 0h1m-8 1h1m7 0h1m-8 1h1m7 0h1m-8 1h1m7 0h1m-8 1h1m7 0h1m-8 1h1m7 0h1m-8 1h1m7 0h1m-8 1h1m7 0h1m-8 1h1m7 0h1m-8 1h1m7 0h1m-8 1h1m7 0h1m-8 1h1m7 0h1m-8 1h1m7 0h1m-8 1h1m7 0h1m-8 1h1m7 0h1m-8 1h1m7 0h1m-8 1h1m7 0h1m-8 1h1m7 0h1m-8 1h1m7 0h1m-8 1h1m7 0h1m-8 1h1m7 0h1m-8 1h1m7 0h1m-8 1h1m7 0h1m-8 1h1m7 0h1m-8 1h1m7 0h1m-8 1h1m7 0h1m-8 1h1m7 0h1m-8 1h1m7 0h1m-8 1h1m7 0h1m-8 1h1m7 0h1m-8 1h1m7 0h1m-8 1h1m7 0h1m-8 1h1m7 0h1m-8 1h1m7 0h1m-8 1h1m7 0h1m-8 1h1m7 0h1m-8 1h1m7 0h1m-8 1h1m7 0h1m-8 1h1m7 0h1m-8 1h1m7 0h1m-8 1h1m7 0h1m-8 1h1m7 0h1m-8 1h1m7 0h1m-8 1h1m7 0h1m-8 1h1m7 0h1m-8 1h1m7 0h1m-8 1h1m7 0h1m-8 1h1m7 0h1m-8 1h1m7 0h1m-8 1h1m7 0h1m-8 1h1m7 0h1m-8 1h1m7 0h1m-8 1h1m7 0h1m-8 1h1m7 0h1m-8 1h1m7 0h1m-8 1h1m7 0h1m-8 1h1m7 0h1m-8 1h1m7 0h1m-8 1h1m7 0h1m-8 1h1m0 1h1m7 0h1m-8 1h1m7 0h1m-8 1h1m7 0h1m0 1h1m-8 1h1m7 0h1m-8 1h1m7 0h1m-8 1h1m7 0h1m-8 1h1m7 0h1m-8 1h1m7 0h1m-8 1h1m7 0h1m-8 1h1m7 0h1m-8 1h1m7 0h1m-8 1h1m7 0h1m-8 1h1m7 0h1m-8 1h1m7 0h1m-8 1h1m7 0h1m-8 1h1m7 0h1m-8 1h1m7 0h1m-8 1h1m7 0h1m-8 1h1m7 0h1m-8 1h1m7 0h1m-8 1h1m7 0h1m-8 1h1m7 0h1m-8 1h1m7 0h1m-8 1h1m7 0h1m-8 1h1m7 0h1m-8 1h1m7 0h1m-8 1h1m7 0h1m-8 1h1m7 0h1m-8 1h1m7 0h1m-8 1h1m7 0h1m-8 1h1m7 0h1m-8 1h1m7 0h1m-8 1h1m7 0h1m-8 1h1m7 0h1m-8 1h1m7 0h1m-8 1h1m7 0h1m-8 1h1m7 0h1m-8 1h1m7 0h1m-8 1h1m7 0h1m-8 1h1m0 1h1m7 0h1m-8 1h1m7 0h1m-8 1h1m7 0h1m0 1h1m-8 1h1m7 0h1m-8 1h1m7 0h1m-8 1h1m7 0h1m-8 1h1m7 0h1m-8 1h1m7 0h1m-8 1h1m7 0h1m-8 1h1m7 0h1m-8 1h1m7 0h1m-8 1h1m7 0h1m-8 1h1m7 0h1m-8 1h1m7 0h1m-8 1h1m7 0h1m-8 1h1m7 0h1m-8 1h1m7 0h1m-8 1h1m7 0h1m-8 1h1m7 0h1m-8 1h1m7 0h1m-8 1h1m7 0h1m-8 1h1m7 0h1m-8 1h1m7 0h1m-8 1h1m7 0h1m-8 1h1m7 0h1m-8 1h1m7 0h1m-8 1h1m7 0h1m-8 1h1m7 0h1m-8 1h1m7 0h1m-8 1h1m7 0h1m-8 1h1m7 0h1m-8 1h1m7 0h1m-8 1h1m7 0h1m-8 1h1m7 0h1m-8 1h1m7 0h1m-8 1h1m7 0h1m-8 1h1m7 0h1m-8 1h1m7 0h1m-8 1h1m0 1h1m0 1h1m0 1h1"/>
<path stroke="#E0C448" d="M3 0.5h1m0 1h1m0 1h1m-6 1h1m5 0h1m-6 1h1m5 0h1m-6 1h1m5 0h1m-6 1h1m5 0h1m-6 1h1m5 0h1m-6 1h1m5 0h1m-6 1h1m5 0h1m-6 1h1m5 0h1m-6 1h1m5 0h1m-6 1h1m5 0h1m-6 1h1m5 0h1m-6 1h1m5 0h1m-6 1h1m5 0h1m-6 1h1m5 0h1m-6 1h1m5 0h1m-6 1h1m5 0h1m-6 1h1m5 0h1m-6 1h1m5 0h1m-6 1h1m5 0h1m-6 1h1m5 0h1m-6 1h1m5 0h1m-6 1h1m5 0h1m-6 1h1m5 0h1m-6 1h1m5 0h1m-6 1h1m5 0h1m-6 1h1m5 0h1m-6 1h1m5 0h1m-6 1h1m5 0h1m-6 1h1m5 0h1m-6 1h1m5 0h1m-6 1h1m5 0h1m-6 1h1m5 0h1m-6 1h1m5 0h1m-6 1h1m5 0h1m-6 1h1m5 0h1m-6 1h1m5 0h1m-6 1h1m5 0h1m-6 1h1m5 0h1m-6 1h1m5 0h1m-6 1h1m5 0h1m-6 1h1m5 0h1m-6 1h1m5 0h1m-6 1h1m5 0h1m-6 1h1m5 0h1m-6 1h1m0 1h1m0 1h1m5 0h1m0 1h1m0 1h1m-6 1h1m0 1h1m5 0h1m-6 1h1m6 1h1m-6 1h1m5 0h1m0 1h1m-6 1h1m5 0h1m-6 1h1m5 0h1m-6 1h1m5 0h1m-6 1h1m5 0h1m-6 1h1m5 0h1m-6 1h1m5 0h1m-6 1h1m5 0h1m-6 1h1m5 0h1m-6 1h1m5 0h1m-6 1h1m5 0h1m-6 1h1m5 0h1m-6 1h1m5 0h1m-6 1h1m5 0h1m-6 1h1m5 0h1m-6 1h1m5 0h1m-6 1h1m5 0h1m-6 1h1m5 0h1m-6 1h1m5 0h1m-6 1h1m5 0h1m-6 1h1m5 0h1m-6 1h1m5 0h1m-6 1h1m5 0h1m-6 1h1m5 0h1m-6 1h1m5 0h1m-6 1h1m5 0h1m-6 1h1m0 1h1m5 0h1m-6 1h1m5 0h1m0 1h1m-6 1h1m0 1h1m0 1h1m5 0h1m0 1h1m-5 2h1m5 0h1m-6 1h1m5 0h1m-5 2h1m5 0h1m-6 1h1m5 0h1m0 1h1m-6 1h1m5 0h1m-6 1h1m5 0h1m-6 1h1m5 0h1m-6 1h1m5 0h1m-6 1h1m5 0h1m-6 1h1m5 0h1m-6 1h1m5 0h1m-6 1h1m5 0h1m-6 1h1m5 0h1m-6 1h1m5 0h1m-6 1h1m5 0h1m-6 1h1m5 0h1m-6 1h1m5 0h1m-6 1h1m5 0h1m-6 1h1m5 0h1m-6 1h1m5 0h1m-6 1h1m5 0h1m-6 1h1m5 0h1m-6 1h1m5 0h1m-6 1h1m5 0h1m-6 1h1m5 0h1m-6 1h1m5 0h1m-6 1h1m5 0h1m-6 1h1m5 0h1m-6 1h1m5 0h1m-6 1h1m5 0h1m-6 1h1m5 0h1m-6 1h1m5 0h1m-6 1h1m5 0h1m-6 1h1m5 0h1m-6 1h1m5 0h1m-6 1h1m5 0h1m-6 1h1m5 0h1m-6 1h1m5 0h1m-6 1h1m0 1h1m0 1h1m7 2h1m0 1h1m-5 2h1m5 0h1m-6 1h1m5 0h1m0 1h1m-6 1h1m0 1h1m0 1h1m5 0h1m1 2h1m-6 1h1m5 0h1m0 1h1m-6 1h1m0 1h1m5 0h1m-6 1h1m5 0h1m0 1h1m-6 1h1m5 0h1m-6 1h1m5 0h1m-6 1h1m5 0h1m-6 1h1m5 0h1m-6 1h1m5 0h1m-6 1h1m0 1h1m0 1h1m6 1h1m0 1h1m-5 2h1m0 1h1m5 0h1m0 1h1m-5 2h1m0 1h1m5 0h1m0 1h1m-5 2h1m5 0h1m-6 1h1m1 2h1m6 1h1m0 1h1m-5 2h1m5 0h1m-6 1h1m6 1h1m-6 1h1m5 0h1m0 1h1m-6 1h1m5 0h1m-6 1h1m5 0h1m-6 1h1m5 0h1m-6 1h1m5 0h1m-6 1h1m5 0h1m-6 1h1m5 0h1m-6 1h1m5 0h1m-6 1h1m5 0h1m-6 1h1m5 0h1m-6 1h1m5 0h1m-6 1h1m0 1h1m5 0h1m-6 1h1m1 2h1m5 0h1m-4 3h1m5 0h1m0 1h1m0 1h1m-6 1h1m5 0h1m-6 1h1m5 0h1m-6 1h1m0 1h1m0 1h1m5 0h1m0 1h1m0 1h1m-6 1h1m5 0h1m-6 1h1m5 0h1m-6 1h1m5 0h1m-6 1h1m5 0h1m-6 1h1m5 0h1m-6 1h1m5 0h1m-6 1h1m5 0h1m-6 1h1m5 0h1m-6 1h1m5 0h1m-6 1h1m5 0h1m-6 1h1m0 1h1m0 1h1m7 2h1m1 2h1m-6 1h1m5 0h1m0 1h1m-6 1h1m0 1h1m0 1h1m6 1h1m0 1h1m0 1h1m-6 1h1m5 0h1m-6 1h1m5 0h1m-6 1h1m0 1h1m5 0h1m-6 1h1m6 1h1m-6 1h1m6 1h1m-6 1h1m1 2h1m6 1h1m0 1h1m0 1h1m-6 1h1m5 0h1m-6 1h1m5 0h1m-6 1h1m5 0h1m-6 1h1m5 0h1m-6 1h1m5 0h1m-6 1h1m5 0h1m-6 1h1m5 0h1m-6 1h1m5 0h1m-6 1h1m5 0h1m-6 1h1m5 0h1m-6 1h1m5 0h1m-6 1h1m0 1h1m0 1h1m6 1h1m1 2h1m-6 1h1m6 1h1m-6 1h1m6 1h1m-6 1h1m5 0h1m0 1h1m-6 1h1m5 0h1m-6 1h1m5 0h1m-6 1h1m5 0h1m-6 1h1m5 0h1m-6 1h1m5 0h1m-6 1h1m5 0h1m-6 1h1m5 0h1m-6 1h1m5 0h1m-6 1h1m5 0h1m-6 1h1m5 0h1m-6 1h1m5 0h1m-6 1h1m5 0h1m-6 1h1m5 0h1m-6 1h1m5 0h1m-6 1h1m5 0h1m-6 1h1m5 0h1m-6 1h1m5 0h1m-6 1h1m5 0h1m-6 1h1m5 0h1m-6 1h1m5 0h1m-6 1h1m0 1h1m0 1h1m7 2h1m0 1h1m-5 2h1m0 1h1m7 2h1m0 1h1m0 1h1m-6 1h1m0 1h1m0 1h1m5 0h1m-4 3h1m5 0h1m0 1h1m-5 2h1m0 1h1m7 2h1m1 2h1m-6 1h1m5 0h1m0 1h1m-6 1h1m5 0h1m-6 1h1m0 1h1m0 1h1m10 5h1m1 2h1m-6 1h1m1 2h1m6 1h1m0 1h1m0 1h1m-6 1h1m0 1h1m5 0h1m-6 1h1m1 2h1m6 1h1m0 1h1m0 1h1m-6 1h1m5 0h1m-6 1h1m5 0h1m-6 1h1m0 1h1m0 1h1m6 1h1m0 1h1m0 1h1m-6 1h1m5 0h1m-6 1h1m5 0h1m-6 1h1m5 0h1m-6 1h1m5 0h1m-6 1h1m5 0h1m-6 1h1m5 0h1m-6 1h1m5 0h1m-6 1h1m5 0h1m-6 1h1m5 0h1m-6 1h1m5 0h1m-6 1h1m5 0h1m-6 1h1m5 0h1m-6 1h1m5 0h1m-6 1h1m5 0h1m-6 1h1m5 0h1m-6 1h1m5 0h1m-6 1h1m5 0h1m-6 1h1m5 0h1m-6 1h1m5 0h1m-6 1h1m5 0h1m-6 1h1m5 0h1m-6 1h1m5 0h1m-6 1h1m5 0h1m-6 1h1m5 0h1m-6 1h1m5 0h1m-6 1h1m5 0h1m-6 1h1m5 0h1m-6 1h1m5 0h1m-6 1h1m5 0h1m-6 1h1m0 1h1m0 1h1m5 0h1m1 2h1m-6 1h1m5 0h1m0 1h1m-6 1h1m5 0h1m-6 1h1m5 0h1m-6 1h1m5 0h1m-6 1h1m5 0h1m-6 1h1m5 0h1m-6 1h1m5 0h1m-6 1h1m5 0h1m-6 1h1m5 0h1m-6 1h1m5 0h1m-6 1h1m5 0h1m-6 1h1m5 0h1m-6 1h1m5 0h1m-6 1h1m5 0h1m-6 1h1m5 0h1m-6 1h1m5 0h1m-6 1h1m5 0h1m-6 1h1m5 0h1m-6 1h1m5 0h1m-6 1h1m5 0h1m-6 1h1m5 0h1m-6 1h1m0 1h1m5 0h1m-6 1h1m6 1h1m-6 1h1m5 0h1m-5 2h1m5 0h1m-6 1h1m5 0h1m-5 2h1m5 0h1m-6 1h1m5 0h1m0 1h1m-6 1h1m5 0h1m-6 1h1m5 0h1m-6 1h1m5 0h1m-6 1h1m5 0h1m-6 1h1m5 0h1m-6 1h1m5 0h1m-6 1h1m5 0h1m-6 1h1m5 0h1m-6 1h1m5 0h1m-6 1h1m5 0h1m-6 1h1m5 0h1m-6 1h1m5 0h1m-6 1h1m5 0h1m-6 1h1m5 0h1m-6 1h1m5 0h1m-6 1h1m5 0h1m-6 1h1m5 0h1m-6 1h1m5 0h1m-6 1h1m5 0h1m-6 1h1m5 0h1m-6 1h1m5 0h1m-6 1h1m5 0h1m-6 1h1m5 0h1m-6 1h1m5 0h1m-6 1h1m5 0h1m-6 1h1m5 0h1m-6 1h1m5 0h1m-6 1h1m5 0h1m-6 1h1m5 0h1m-6 1h1m5 0h1m-6 1h1m5 0h1m-6 1h1m5 0h1m-6 1h1m5 0h1m-6 1h1m5 0h1m-6 1h1m5 0h1m-6 1h1m5 0h1m-6 1h1m5 0h1m-6 1h1m0 1h1m5 0h1m-6 1h1m5 0h1m-5 2h1m0 1h1m5 0h1m0 1h1m0 1h1m-6 1h1m0 1h1m5 0h1m-6 1h1m5 0h1m-5 2h1m5 0h1m-6 1h1m5 0h1m0 1h1m-6 1h1m0 1h1m5 0h1m-6 1h1m5 0h1m0 1h1m-6 1h1m5 0h1m-6 1h1m5 0h1m-6 1h1m5 0h1m-6 1h1m5 0h1m-6 1h1m5 0h1m-6 1h1m5 0h1m-6 1h1m5 0h1m-6 1h1m5 0h1m-6 1h1m5 0h1m-6 1h1m5 0h1m-6 1h1m5 0h1m-6 1h1m5 0h1m-6 1h1m5 0h1m-6 1h1m5 0h1m-6 1h1m5 0h1m-6 1h1m0 1h1m5 0h1m-6 1h1m5 0h1m0 1h1m-6 1h1m0 1h1m5 0h1m-6 1h1m5 0h1m0 1h1m-6 1h1m0 1h1m0 1h1m7 2h1m1 2h1m-6 1h1m5 0h1m0 1h1m-6 1h1m5 0h1m-6 1h1m5 0h1m-6 1h1m5 0h1m-6 1h1m5 0h1m-6 1h1m5 0h1m-6 1h1m5 0h1m-6 1h1m5 0h1m-6 1h1m5 0h1m-6 1h1m5 0h1m-6 1h1m5 0h1m-6 1h1m5 0h1m-6 1h1m5 0h1m-6 1h1m5 0h1m-6 1h1m5 0h1m-6 1h1m5 0h1m-6 1h1m0 1h1m0 1h1m5 0h1m0 1h1m-5 2h1m0 1h1m6 1h1m1 2h1m-6 1h1m1 2h1m5 0h1m0 1h1m-5 2h1m0 1h1m5 0h1m0 1h1m0 1h1m-6 1h1m5 0h1m-6 1h1m5 0h1m-6 1h1m5 0h1m-6 1h1m5 0h1m-6 1h1m5 0h1m-6 1h1m5 0h1m-6 1h1m5 0h1m-6 1h1m5 0h1m-6 1h1m5 0h1m-6 1h1m5 0h1m-6 1h1m5 0h1m-6 1h1m5 0h1m-6 1h1m5 0h1m-6 1h1m5 0h1m-6 1h1m5 0h1m-6 1h1m5 0h1m-6 1h1m5 0h1m-6 1h1m5 0h1m-6 1h1m5 0h1m-6 1h1m5 0h1m-6 1h1m5 0h1m-6 1h1m5 0h1m-6 1h1m5 0h1m-6 1h1m5 0h1m-6 1h1m5 0h1m-6 1h1m5 0h1m-6 1h1m5 0h1m-6 1h1m5 0h1m-6 1h1m5 0h1m-6 1h1m5 0h1m-6 1h1m5 0h1m-6 1h1m5 0h1m-6 1h1m5 0h1m-6 1h1m5 0h1m-6 1h1m5 0h1m-6 1h1m5 0h1m-6 1h1m5 0h1m-6 1h1m5 0h1m-6 1h1m5 0h1m-6 1h1m5 0h1m-6 1h1m5 0h1m-6 1h1m5 0h1m-6 1h1m5 0h1m-6 1h1m5 0h1m-6 1h1m5 0h1m-6 1h1m5 0h1m-6 1h1m0 1h1m0 1h1m5 0h1m0 1h1m0 1h1m-6 1h1m5 0h1m-6 1h1m5 0h1m-6 1h1m5 0h1m-6 1h1m0 1h1m0 1h1m6 1h1m0 1h1m0 1h1m-6 1h1m0 1h1m5 0h1m-6 1h1m5 0h1m0 1h1m-6 1h1m5 0h1m-6 1h1m5 0h1m-6 1h1m5 0h1m-6 1h1m5 0h1m-6 1h1m5 0h1m-6 1h1m5 0h1m-6 1h1m5 0h1m-6 1h1m5 0h1m-6 1h1m5 0h1m-6 1h1m5 0h1m-6 1h1m5 0h1m-6 1h1m5 0h1m-6 1h1m0 1h1m0 1h1m7 2h1m1 2h1m-6 1h1m5 0h1m0 1h1m-6 1h1m5 0h1m-6 1h1m5 0h1m-6 1h1m5 0h1m-6 1h1m5 0h1m-6 1h1m5 0h1m-6 1h1m5 0h1m-6 1h1m5 0h1m-6 1h1m5 0h1m-6 1h1m5 0h1m-6 1h1m5 0h1m-6 1h1m5 0h1m-6 1h1m5 0h1m-6 1h1m5 0h1m-6 1h1m5 0h1m-6 1h1m5 0h1m-6 1h1m0 1h1m5 0h1m-6 1h1m1 2h1m7 2h1m0 1h1m-5 2h1m5 0h1m-6 1h1m6 1h1m-6 1h1m6 1h1m-6 1h1m1 2h1m6 1h1m0 1h1m0 1h1m-6 1h1m5 0h1m-6 1h1m5 0h1m-6 1h1m5 0h1m-6 1h1m5 0h1m-6 1h1m5 0h1m-6 1h1m5 0h1m-6 1h1m5 0h1m-6 1h1m5 0h1m-6 1h1m5 0h1m-6 1h1m5 0h1m-6 1h1m0 1h1m5 0h1m-6 1h1m1 2h1m5 0h1m0 1h1m0 1h1m-6 1h1m5 0h1m-6 1h1m0 1h1m0 1h1m5 0h1m0 1h1m0 1h1m-6 1h1m5 0h1m-6 1h1m5 0h1m-6 1h1m5 0h1m-6 1h1m5 0h1m-6 1h1m5 0h1m-6 1h1m5 0h1m-6 1h1m5 0h1m-6 1h1m5 0h1m-6 1h1m5 0h1m-6 1h1m5 0h1m-6 1h1m5 0h1m-6 1h1m5 0h1m-6 1h1m5 0h1m-6 1h1m5 0h1m-6 1h1m5 0h1m-6 1h1m5 0h1m-6 1h1m5 0h1m-6 1h1m5 0h1m-6 1h1m0 1h1m5 0h1m-6 1h1m6 1h1m-6 1h1m5 0h1m-5 2h1m0 1h1m6 1h1m0 1h1m0 1h1m-6 1h1m5 0h1m-6 1h1m5 0h1m-6 1h1m5 0h1m-6 1h1m5 0h1m-6 1h1m5 0h1m-6 1h1m5 0h1m-6 1h1m5 0h1m-6 1h1m5 0h1m-6 1h1m5 0h1m-6 1h1m5 0h1m-6 1h1m5 0h1m-6 1h1m5 0h1m-6 1h1m0 1h1m5 0h1m-6 1h1m1 2h1m7 2h1m1 2h1m-6 1h1m5 0h1m0 1h1m-6 1h1m5 0h1m-6 1h1m5 0h1m-6 1h1m5 0h1m-6 1h1m5 0h1m-6 1h1m5 0h1m-6 1h1m5 0h1m-6 1h1m5 0h1m-6 1h1m5 0h1m-6 1h1m5 0h1m-6 1h1m5 0h1m-6 1h1m5 0h1m-6 1h1m5 0h1m-6 1h1m5 0h1m-6 1h1m5 0h1m-6 1h1m5 0h1m-6 1h1m5 0h1m-6 1h1m5 0h1m-6 1h1m0 1h1m5 0h1m-6 1h1m5 0h1m0 1h1m-6 1h1m5 0h1m-6 1h1m5 0h1m-6 1h1m5 0h1m-6 1h1m5 0h1m-6 1h1m5 0h1m-6 1h1m5 0h1m-6 1h1m5 0h1m-6 1h1m5 0h1m-6 1h1m5 0h1m-6 1h1m5 0h1m-6 1h1m5 0h1m-6 1h1m5 0h1m-6 1h1m5 0h1m-6 1h1m0 1h1m0 1h1m6 1h1m0 1h1m0 1h1m-6 1h1m5 0h1m-6 1h1m0 1h1m0 1h1m5 0h1m0 1h1m-5 2h1m0 1h1m5 0h1m1 2h1m-6 1h1m1 2h1m5 0h1m0 1h1m0 1h1m-6 1h1m5 0h1m-6 1h1m5 0h1m-6 1h1m5 0h1m-6 1h1m5 0h1m-6 1h1m5 0h1m-6 1h1m5 0h1m-6 1h1m5 0h1m-6 1h1m5 0h1m-6 1h1m5 0h1m-6 1h1m5 0h1m-6 1h1m5 0h1m-6 1h1m5 0h1m-6 1h1m5 0h1m-6 1h1m5 0h1m-6 1h1m0 1h1m0 1h1m7 2h1m0 1h1m0 1h1m-6 1h1m5 0h1m-6 1h1m0 1h1m5 0h1m-6 1h1m5 0h1m0 1h1m-6 1h1m5 0h1m-6 1h1m5 0h1m-6 1h1m0 1h1m5 0h1m-6 1h1m5 0h1m0 1h1m-6 1h1m0 1h1m5 0h1m-6 1h1m5 0h1m-5 2h1m5 0h1m-6 1h1m5 0h1m0 1h1m-6 1h1m5 0h1m-6 1h1m5 0h1m-6 1h1m5 0h1m-6 1h1m5 0h1m-6 1h1m5 0h1m-6 1h1m0 1h1m0 1h1m7 2h1m0 1h1m0 1h1m-6 1h1m5 0h1m-6 1h1m5 0h1m-6 1h1m5 0h1m-6 1h1m5 0h1m-6 1h1m5 0h1m-6 1h1m5 0h1m-6 1h1m5 0h1m-6 1h1m5 0h1m-6 1h1m5 0h1m-6 1h1m5 0h1m-6 1h1m5 0h1m-6 1h1m5 0h1m-6 1h1m5 0h1m-6 1h1m0 1h1m0 1h1m7 2h1m0 1h1m0 1h1m-6 1h1m0 1h1m0 1h1m5 0h1m0 1h1m0 1h1m-6 1h1m5 0h1m-6 1h1m5 0h1m-6 1h1m5 0h1m-6 1h1m5 0h1m-6 1h1m5 0h1m-6 1h1m5 0h1m-6 1h1m5 0h1m-6 1h1m5 0h1m-6 1h1m0 1h1m0 1h1m5 0h1m0 1h1m0 1h1m-6 1h1m0 1h1m5 0h1m-6 1h1m6 1h1m-6 1h1m5 0h1m-5 2h1m5 0h1m-6 1h1m5 0h1m0 1h1m-6 1h1m5 0h1m-6 1h1m0 1h1m0 1h1m6 1h1m0 1h1m0 1h1m-6 1h1m5 0h1m-6 1h1m5 0h1m-6 1h1m5 0h1m-6 1h1m0 1h1m5 0h1m-6 1h1m5 0h1m0 1h1m-6 1h1m5 0h1m-6 1h1m5 0h1m-6 1h1m5 0h1m-6 1h1m5 0h1m-6 1h1m5 0h1m-6 1h1m5 0h1m-6 1h1m5 0h1m-6 1h1m5 0h1m-6 1h1m5 0h1m-6 1h1m5 0h1m-6 1h1m5 0h1m-6 1h1m5 0h1m-6 1h1m5 0h1m-6 1h1m5 0h1m-6 1h1m5 0h1m-6 1h1m5 0h1m-6 1h1m5 0h1m-6 1h1m5 0h1m-6 1h1m0 1h1m5 0h1m-6 1h1m5 0h1m0 1h1m-6 1h1m5 0h1m-6 1h1m0 1h1m0 1h1m5 0h1m0 1h1m-5 2h1m5 0h1m-6 1h1m5 0h1m0 1h1m-6 1h1m5 0h1m-6 1h1m5 0h1m-6 1h1m0 1h1m5 0h1m-6 1h1m5 0h1m0 1h1m-6 1h1m5 0h1m-6 1h1m5 0h1m-6 1h1m5 0h1m-6 1h1m5 0h1m-6 1h1m5 0h1m-6 1h1m5 0h1m-6 1h1m5 0h1m-6 1h1m5 0h1m-6 1h1m0 1h1m0 1h1m6 1h1m1 2h1m-6 1h1m5 0h1m-5 2h1m5 0h1m-6 1h1m5 0h1m0 1h1m-6 1h1m5 0h1m-6 1h1m5 0h1m-6 1h1m5 0h1m-6 1h1m5 0h1m-6 1h1m5 0h1m-6 1h1m5 0h1m-6 1h1m5 0h1m-6 1h1m5 0h1m-6 1h1m5 0h1m-6 1h1m0 1h1m5 0h1m-6 1h1m1 2h1m6 1h1m1 2h1m-6 1h1m5 0h1m0 1h1m-6 1h1m5 0h1m-6 1h1m5 0h1m-6 1h1m5 0h1m-6 1h1m5 0h1m-6 1h1m5 0h1m-6 1h1m5 0h1m-6 1h1m5 0h1m-6 1h1m5 0h1m-6 1h1m5 0h1m-6 1h1m5 0h1m-6 1h1m5 0h1m-6 1h1m5 0h1m-6 1h1m5 0h1m-6 1h1m5 0h1m-6 1h1m5 0h1m-6 1h1m5 0h1m-6 1h1m5 0h1m-6 1h1m5 0h1m-6 1h1m0 1h1m5 0h1m-6 1h1m6 1h1m-6 1h1m5 0h1m-5 2h1m5 0h1m-6 1h1m5 0h1m-5 2h1m5 0h1m-6 1h1m6 1h1m-6 1h1m1 2h1m6 1h1m0 1h1m-5 2h1m0 1h1m5 0h1m-4 3h1m5 0h1m0 1h1m0 1h1m-6 1h1m5 0h1m-6 1h1m5 0h1m-6 1h1m5 0h1m-6 1h1m5 0h1m-6 1h1m5 0h1m-6 1h1m5 0h1m-6 1h1m5 0h1m-6 1h1m5 0h1m-6 1h1m5 0h1m-6 1h1m5 0h1m-6 1h1m5 0h1m-6 1h1m5 0h1m-6 1h1m5 0h1m-6 1h1m5 0h1m-6 1h1m5 0h1m-6 1h1m0 1h1m5 0h1m-6 1h1m5 0h1m0 1h1m-6 1h1m0 1h1m5 0h1m-6 1h1m1 2h1m5 0h1m0 1h1m0 1h1m-6 1h1m5 0h1m-6 1h1m0 1h1m0 1h1m5 0h1m0 1h1m0 1h1m-6 1h1m5 0h1m-6 1h1m5 0h1m-6 1h1m5 0h1m-6 1h1m5 0h1m-6 1h1m5 0h1m-6 1h1m5 0h1m-6 1h1m5 0h1m-6 1h1m5 0h1m-6 1h1m5 0h1m-6 1h1m5 0h1m-6 1h1m5 0h1m-6 1h1m5 0h1m-6 1h1m5 0h1m-6 1h1m5 0h1m-6 1h1m5 0h1m-6 1h1m0 1h1m0 1h1"/>
<path stroke="#FFA500" d="M51 48.5h1m-4 3h1m6 1h1m1 2h1m-6 1h1m1 2h1m31 26h1m-4 3h1m10 5h1m-4 3h1m44 39h1m1 2h1m-6 1h1m1 2h1m9 4h1m0 1h1m-5 2h1m0 1h1m8 3h1m-4 3h1m11 6h1m0 1h1m-5 2h1m0 1h1m6 1h1m0 1h1m-5 2h1m0 1h1m6 1h1m-4 3h1m8 3h1m-4 3h1m6 1h1m1 2h1m-6 1h1m1 2h1m16 11h1m-4 3h1m5 0h1m-4 3h1m11 6h1m0 1h1m-5 2h1m0 1h1m16 11h1m0 1h1m-5 2h1m0 1h1m10 5h1m1 2h1m-6 1h1m1 2h1m8 3h1m1 2h1m-6 1h1m1 2h1m7 2h1m0 1h1m-5 2h1m0 1h1m19 14h1m-4 3h1m32 27h1m1 2h1m-6 1h1m1 2h1m7 2h1m0 1h1m0 1h1m-6 1h1m0 1h1m0 1h1m10 5h1m-4 3h1m5 0h1m-4 3h1m5 0h1m1 2h1m-6 1h1m1 2h1m9 4h1m-4 3h1m8 3h1m-4 3h1m6 1h1m-4 3h1m10 5h1m-4 3h1m8 3h1m1 2h1m-6 1h1m1 2h1m35 30h1m-4 3h1m34 29h1m-4 3h1m5 0h1m-4 3h1m43 38h1m-4 3h1m6 1h1m-4 3h1m9 4h1m-4 3h1m25 20h1m-4 3h1m6 1h1m-4 3h1m6 1h1m1 2h1m-6 1h1m1 2h1m5 0h1m-4 3h1m21 16h1m-4 3h1m6 1h1m0 1h1m0 1h1m-6 1h1m0 1h1m5 0h1m-6 1h1m1 2h1m5 0h1m-4 3h1m5 0h1m0 1h1m-5 2h1m0 1h1m52 47h1m-4 3h1m11 6h1m-4 3h1m7 2h1m-4 3h1m18 13h1m-4 3h1m7 2h1m-4 3h1m25 20h1m-4 3h1m8 3h1m1 2h1m-6 1h1m6 1h1m-6 1h1m5 0h1m-5 2h1m0 1h1m17 12h1m1 2h1m-6 1h1m5 0h1m-5 2h1m0 1h1m7 2h1m0 1h1m-5 2h1m0 1h1m24 19h1m-4 3h1m25 20h1m-4 3h1m6 1h1m-4 3h1m26 21h1m-4 3h1m19 14h1m1 2h1m-6 1h1m1 2h1m8 3h1m-4 3h1m6 1h1m1 2h1m-6 1h1m6 1h1m-6 1h1m5 0h1m-5 2h1m0 1h1m51 46h1m0 1h1m0 1h1m-6 1h1m0 1h1m0 1h1m19 14h1m0 1h1m0 1h1m-6 1h1m5 0h1m-6 1h1m0 1h1m0 1h1m6 1h1m-4 3h1m16 11h1m-4 3h1m11 6h1m-4 3h1m7 2h1m0 1h1m0 1h1m-6 1h1m0 1h1m0 1h1m31 26h1m-4 3h1m8 3h1m-4 3h1m5 0h1m-4 3h1m8 3h1m-4 3h1m14 9h1m-4 3h1m22 17h1m-4 3h1m6 1h1m-4 3h1m31 26h1m-4 3h1m7 2h1m1 2h1m-6 1h1m1 2h1m30 25h1m-4 3h1m6 1h1m-4 3h1m5 0h1m-4 3h1"/>
<path stroke="#FF8400" d="M2 0.5h1m-3 2h1m3 0h1m-3 2h1m4 1h1m0 1h1m-4 1h1m0 1h1m3 0h1m-3 2h1m3 0h1m0 1h1m-4 1h1m3 0h1m-4 1h1m3 0h1m-4 1h1m0 1h1m3 0h1m-3 2h1m4 1h1m0 1h1m-4 1h1m0 1h1m5 2h1m0 1h1m-4 1h1m0 1h1m6 3h1m0 1h1m-4 1h1m0 1h1m6 3h1m0 1h1m-4 1h1m3 0h1m-4 1h1m3 0h1m-4 1h1m0 1h1m3 0h1m-3 2h1m3 0h1m0 1h1m-4 1h1m0 1h1m6 2h1m-4 3h1m6 2h1m-3 2h1m3 0h1m-3 2h1m4 1h1m-3 2h1m6 3h1m-3 2h1m4 1h1m0 1h1m-4 1h1m0 1h1m3 0h1m-3 2h1m5 2h1m-3 2h1m4 1h1m0 1h1m-4 1h1m0 1h1m3 0h1m-3 2h1m3 0h1m0 1h1m-4 1h1m3 0h1m-4 1h1m3 0h1m-4 1h1m3 0h1m-4 1h1m0 1h1m5 1h1m0 1h1m-1 1h1m-5 1h1m4 0h1m-5 1h2m3 0h1m-4 1h1m0 1h1m3 0h1m0 1h2m-5 1h1m0 1h1m-1 1h1m4 0h1m0 1h1m-4 1h1m0 1h1m4 1h1m-3 2h1m4 1h1m-3 2h1m3 0h1m-3 2h1m4 1h1m0 1h1m-4 1h1m0 1h1m3 0h1m0 1h1m-4 1h1m0 1h1m6 3h1m0 1h1m-4 1h1m0 1h1m4 1h1m-3 2h1m3 0h1m0 1h1m-4 1h1m3 0h1m-4 1h1m0 1h1m5 2h1m-3 2h1m3 0h2m-4 2h1m4 0h1m-6 1h1m4 0h1m-4 2h2m3 0h1m1 1h1m-5 1h1m3 0h1m0 1h1m-5 1h2m0 1h1m7 3h1m-1 1h1m0 1h1m-5 1h2m3 0h1m-4 1h1m3 0h1m-4 1h1m0 1h1m4 1h1m0 1h1m-4 1h1m3 0h1m-4 1h1m3 0h1m-4 1h1m3 0h1m-4 1h1m3 0h1m-4 1h1m3 0h1m-4 1h1m0 1h1m4 0h1m-1 1h1m0 1h1m-5 1h2m3 0h1m-4 1h1m3 0h1m-4 1h1m3 0h1m-4 1h1m0 1h1m3 0h2m-4 2h1m3 0h1m-5 1h1m4 0h1m-4 1h1m3 0h2m-5 1h1m3 0h1m-4 1h1m4 0h1m-6 1h2m5 1h1m-6 1h1m5 1h1m-5 1h1m1 1h1m4 1h1m-3 2h1m3 0h1m-3 2h1m6 3h1m-3 2h1m5 2h1m0 1h1m-4 1h1m0 1h1m5 2h2m-1 1h1m-4 1h1m3 0h1m-5 1h2m4 0h1m-5 1h1m4 0h1m-1 1h1m-5 1h1m0 1h2m3 0h1m-3 2h1m7 4h1m-3 2h1m9 6h1m0 1h1m-4 1h1m0 1h1m4 1h1m-3 2h1m4 0h1m0 1h1m-5 2h1m5 0h1m-6 1h1m5 1h1m-5 1h1m1 1h1m3 0h1m0 1h2m-5 1h1m3 0h1m-4 1h1m3 0h1m-5 1h2m0 1h1m3 0h1m-3 2h1m4 1h1m-3 2h1m3 0h1m-3 2h1m4 0h1m-1 1h1m1 1h1m-6 1h2m4 1h1m-5 1h1m1 1h1m7 4h1m-3 2h1m5 2h1m-3 2h1m3 0h1m-3 2h1m3 0h1m0 1h2m-5 1h1m3 0h2m-5 1h1m-1 1h2m-1 1h1m5 0h1m0 2h2m-6 1h1m1 1h1m3 0h2m-6 1h1m1 1h1m3 0h1m-5 1h1m4 0h1m-4 1h1m3 0h1m-4 1h1m0 1h1m3 0h1m-3 2h1m3 0h1m-3 2h1m3 0h1m0 1h1m-4 1h1m3 0h1m-4 1h1m0 1h1m3 0h1m-3 2h1m4 1h1m-3 2h1m5 2h1m-3 2h1m3 0h1m-3 2h1m4 0h1m-1 1h1m1 1h1m-6 1h2m3 0h1m-4 2h2m4 0h1m-1 1h1m0 1h1m-5 1h2m0 1h1m5 2h1m395 0h1m-395 1h1m394 0h1m-400 1h1m4 0h1m-1 1h1m-5 1h1m4 0h2m-6 1h2m3 0h1m395 0h1m-400 1h1m399 0h1m-401 1h2m3 0h1m-3 2h1m3 0h2m-1 1h2m-5 1h1m3 0h1m-5 1h2m3 0h1m-5 1h2m3 0h1m-4 1h1m3 0h1m-4 1h1m3 0h1m-4 1h1m0 1h1m5 1h1m-1 1h2m-1 1h1m-5 1h2m3 0h2m-6 1h2m4 0h1m-5 1h1m3 0h2m-6 1h1m4 0h2m-6 1h2m3 0h1m-5 1h2m-1 1h2m5 1h1m0 1h1m-1 1h1m-5 1h1m4 0h1m-5 1h2m3 0h1m-4 1h1m0 1h1m4 0h1m0 2h2m-6 1h1m5 0h1m-5 1h1m3 0h1m-5 1h1m4 0h1m-5 1h2m0 1h1m6 3h1m0 1h2m-5 1h1m0 1h1m-1 1h1m4 0h1m-3 2h1m3 0h1m0 1h1m-4 1h1m3 0h1m-4 1h1m3 0h1m-4 1h1m3 0h1m-4 1h1m0 1h1m3 0h1m-3 2h1m10 7h1m-3 2h1m3 0h1m-3 2h1m5 2h1m-3 2h1m3 0h1m-3 2h1m3 0h1m0 1h1m-4 1h1m0 1h1m3 0h1m-3 2h1m3 0h2m-4 2h1m3 0h2m-6 1h1m1 1h1m-1 1h1m6 2h1m-3 2h1m3 0h1m-3 2h1m5 2h1m0 1h1m-4 1h1m0 1h1m3 0h1m-3 2h1m8 5h1m-3 2h1m4 1h2m-1 1h1m-4 1h1m4 0h1m-6 1h2m0 2h1m7 3h1m-3 2h1m4 1h1m0 1h1m-4 1h1m3 0h1m-4 1h1m3 0h1m-4 1h1m0 1h1m7 4h1m-3 2h1m3 0h1m0 1h1m-4 1h1m0 1h1m4 1h1m0 1h1m-4 1h1m3 0h1m-4 1h1m3 0h1m-4 1h1m3 0h1m-4 1h1m3 0h1m-4 1h1m3 0h1m-4 1h1m0 1h1m5 2h1m0 1h1m-4 1h1m3 0h1m-4 1h1m3 0h1m-4 1h1m0 1h1m4 1h1m-3 2h1m4 1h1m-3 2h1m4 1h1m-3 2h1m3 0h1m0 1h1m-4 1h1m3 0h2m-5 1h1m0 1h1m3 0h1m-5 1h1m4 0h1m-4 1h1m3 0h1m-4 1h1m4 0h1m-5 1h1m3 0h1m0 1h1m-5 1h2m0 1h1m3 0h1m-3 2h1m3 0h1m1 1h1m-5 1h1m4 1h1m-5 1h1m1 1h1m7 4h1m-3 2h1m4 1h1m-3 2h1m9 6h1m0 1h1m-4 1h1m0 1h1m3 0h1m0 1h1m-4 1h1m3 0h1m-4 1h1m3 0h1m-4 1h1m0 1h1m3 0h1m1 1h1m-5 1h1m3 0h1m0 1h2m-6 1h2m0 1h1m-1 1h1m6 2h1m-3 2h1m3 0h1m-3 2h1m3 0h1m-3 2h1m4 1h1m-3 2h1m3 0h1m0 1h1m-4 1h1m3 0h1m-4 1h1m0 1h1m7 4h2m-1 1h1m-4 1h1m3 0h1m-5 1h2m3 0h1m-4 1h1m0 1h1m3 0h1m0 1h1m-4 1h1m3 0h1m-4 1h1m3 0h1m-4 1h1m4 0h1m-5 1h1m0 2h1m6 2h1m0 1h1m-4 1h1m0 1h1m3 0h1m-3 2h1m8 5h1m-3 2h1m3 0h1m-3 2h1m3 0h1m-3 2h1m4 1h1m0 1h1m-4 1h1m0 1h1m4 1h1m0 1h1m-4 1h1m3 0h1m-4 1h1m0 1h1m5 2h1m0 1h1m-4 1h1m0 1h1m5 2h1m0 1h1m-4 1h1m3 0h1m-4 1h1m0 1h1m3 0h1m0 1h1m-4 1h1m3 0h1m-4 1h1m0 1h1m3 0h1m-3 2h1m3 0h1m-3 2h1m3 0h1m0 1h1m-4 1h1m3 0h1m-4 1h1m3 0h1m-4 1h1m0 1h1m3 0h1m-3 2h1m3 0h2m-1 1h1m-4 1h1m-1 1h2m3 0h1m-3 2h1m5 2h2m-4 2h1m4 0h1m-6 1h1m1 2h1m4 0h1m-3 2h1m5 2h1m-3 2h1m3 0h1m0 1h1m-4 1h1m3 0h1m-4 1h1m3 0h1m-4 1h1m3 0h1m-4 1h1m3 0h1m-4 1h1m0 1h1m3 0h1m-3 2h1m7 3h1m-1 1h2m0 1h1m-6 1h2m3 0h1m-5 1h1m0 1h2m5 2h1m0 1h1m-4 1h1m3 0h1m-4 1h1m0 1h1m3 0h1m-3 2h1m9 6h1m0 1h1m-4 1h1m0 1h1m4 1h2m-1 1h1m-4 1h1m3 0h2m-6 1h2m4 0h1m-5 1h1m-1 1h1m4 0h2m-6 1h1m1 1h1m3 0h1m-5 1h1m5 0h1m-5 1h1m0 2h1m6 2h1m0 1h1m-4 1h1m0 1h1m4 0h1m-1 1h1m0 1h1m-5 1h2m0 1h1m3 0h1m-3 2h1m5 2h1m-3 2h1m5 2h1m0 1h1m-4 1h1m3 0h1m-4 1h1m0 1h1m4 1h1m-3 2h1m3 0h1m0 1h1m-4 1h1m3 0h1m-4 1h1m3 0h1m-4 1h1m3 0h1m-4 1h1m0 1h1m3 0h1m-3 2h1m4 1h1m0 1h1m-4 1h1m0 1h1m9 6h1m-3 2h1m3 0h1m-3 2h1m-396 1h1m0 1h1m399 0h1m0 1h1m139 0h1m-144 1h1m143 0h1m-144 1h1m-396 1h1m399 0h2m-401 1h1m396 1h1m3 0h1m139 0h1m-145 1h1m5 0h1m138 0h1m-144 1h1m4 0h1m0 1h1m-6 1h1m0 1h1m4 0h1m-5 1h1m4 0h1m-4 1h1m0 1h1m4 1h1m0 1h1m-4 1h1m0 1h1m3 0h1m0 1h1m-4 1h1m0 1h1m6 3h1m0 1h1m-4 1h1m0 1h1m4 0h1m0 1h1m-5 2h1m5 0h1m-6 1h1m6 1h1m-6 1h1m1 2h1m4 0h1m-3 2h1m3 0h1m-3 2h1m3 0h1m0 1h1m-4 1h1m3 0h1m-4 1h1m0 1h1m6 3h1m-3 2h1m3 0h1m0 1h1m-4 1h1m0 1h1m5 2h1m0 1h1m-4 1h1m3 0h1m-4 1h1m3 0h1m-4 1h1m3 0h1m-4 1h1m0 1h1m3 0h1m0 1h1m-4 1h1m3 0h1m-4 1h1m3 0h1m-4 1h1m3 0h1m-4 1h1m0 1h1m5 2h1m-3 2h1m3 0h1m-3 2h1m4 0h1m-1 1h1m0 1h1m-5 1h2m3 0h1m-4 1h1m0 1h1m3 0h1m0 1h2m-5 1h1m0 1h1m-1 1h1m4 0h1m1 1h1m-5 1h1m0 2h1m5 1h1m-3 2h1m6 3h1m-3 2h1m3 0h1m-3 2h1m7 4h1m-3 2h1m4 1h1m-3 2h1m3 0h1m0 1h1m-4 1h1m3 0h2m-5 1h1m3 0h2m-5 1h1m4 0h1m-6 1h2m4 0h1m-6 1h1m4 0h1m-5 1h1m0 1h2m3 0h1m0 1h1m-4 1h1m4 0h1m-5 1h1m4 1h1m-5 1h1m4 0h1m-4 1h1m3 0h1m-4 1h1m0 1h1m3 0h2m-1 1h1m-4 1h1m3 0h1m-5 1h2m0 1h1m3 0h2m-4 2h1m3 0h1m-5 1h1m4 0h2m-5 1h1m0 1h1m3 0h1m-5 1h1m4 0h1m-4 1h1m0 1h1m3 0h1m0 1h1m-4 1h1m0 1h1m4 1h2m-1 1h1m-4 1h1m3 0h1m-5 1h2m3 0h1m-4 1h1m0 1h1m-138 3h1m0 1h1m3 4h1m143 0h1m-144 1h1m140 1h1m4 1h1m0 1h1m-4 1h1m3 0h1m-4 1h1m0 1h1m4 1h1m-3 2h1m3 0h1m-3 2h1m7 3h1m0 2h1m-5 1h1m4 0h1m-4 1h1m0 1h1m3 0h1m0 1h1m-4 1h1m0 1h1m3 0h1m-3 2h1m3 0h1m-3 2h1m4 0h1m-4 3h1m4 0h1m-3 2h1m4 0h1m-1 1h1m1 1h1m-6 1h2m4 1h1m-5 1h1m1 1h1m10 7h1m-3 2h1m6 3h1m1 1h1m-5 1h1m3 0h1m-4 2h2m3 0h1m-3 2h1m5 2h1m0 1h1m-4 1h1m0 1h1m3 0h1m0 1h1m-4 1h1m3 0h1m-4 1h1m3 0h1m-4 1h1m3 0h1m-4 1h1m0 1h1m6 3h1m0 1h1m-4 1h1m0 1h1m6 3h1m0 1h1m-4 1h1m4 0h1m-5 1h1m0 2h1m8 4h1m-3 2h1m6 3h1m-3 2h1m3 0h1m-3 2h1m3 0h1m0 1h1m-4 1h1m3 0h1m-4 1h1m0 1h1m3 0h1m0 1h1m-4 1h1m0 1h1m4 0h1m-1 1h2m-5 2h2m4 0h1m-6 1h1m5 1h1m-5 1h1m5 0h1m-5 1h1m0 2h1m4 0h1m0 1h1m-4 1h1m0 1h1m3 0h1m-3 2h1m5 2h1m0 1h1m-4 1h1m3 0h1m-4 1h1m0 1h1m5 1h1m0 1h1m-5 2h1m0 1h1m5 0h1m0 2h1m-5 1h1m4 0h1m-4 1h1m3 0h1m-4 1h1m0 1h1m9 6h1m0 1h1m-4 1h1m3 0h1m-4 1h1m3 0h1m-4 1h1m3 0h1m-4 1h1m3 0h1m-4 1h1m0 1h1m6 3h2m-4 2h1m4 0h1m-6 1h1m1 2h1m4 0h1m-3 2h1m4 1h2m-4 2h1m3 0h1m-5 1h1m1 1h1m4 1h2m0 1h1m-5 1h1m-1 1h1m4 0h1m-5 1h1m5 0h1m-5 1h1m3 0h2m-1 1h1m-5 1h2m3 0h2m-6 1h2m4 0h1m-5 1h1m3 0h1m-5 1h1m0 1h2m5 2h1m-3 2h1m8 5h1m0 1h1m-4 1h1m0 1h1m4 1h1m-3 2h1m4 1h1m-3 2h1m4 1h1m-3 2h1m3 0h1m1 1h1m-5 1h1m3 0h1m0 1h1m-5 1h2m3 0h1m-4 1h1m0 1h1m5 1h1m0 1h1m-1 1h1m-5 1h1m4 0h1m-5 1h2m0 1h1m4 1h1m0 1h1m-4 1h1m3 0h1m-4 1h1m0 1h1m3 0h1m-3 2h1m3 0h1m-3 2h1m7 4h1m-3 2h1m3 0h1m-3 2h1"/>
<path stroke="#FF6300" d="M3 1.5h1m-3 2h1m3 0h1m0 1h1m-4 1h1m0 1h1m4 1h1m-3 2h1m3 0h1m-3 2h1m6 3h1m-3 2h1m3 0h1m0 1h1m-4 1h1m0 1h1m4 1h1m0 1h1m-4 1h1m3 0h1m-4 1h1m0 1h1m4 1h1m0 1h1m-4 1h1m3 0h1m-4 1h1m3 0h1m-4 1h1m0 1h1m4 1h1m0 1h1m-4 1h1m3 0h1m-4 1h1m3 0h1m-4 1h1m0 1h1m6 3h1m-3 2h1m3 0h1m-3 2h1m4 1h1m0 1h1m-4 1h1m3 0h1m-4 1h1m3 0h1m-4 1h1m3 0h1m-4 1h1m3 0h1m-4 1h1m3 0h1m-4 1h1m3 0h1m-4 1h1m0 1h1m3 0h1m-3 2h1m3 0h1m0 1h1m-4 1h1m0 1h1m3 0h1m0 1h1m-4 1h1m3 0h1m-4 1h1m3 0h1m-4 1h1m0 1h1m3 0h1m0 1h1m-4 1h1m0 1h1m4 1h1m-3 2h1m3 0h1m0 1h1m-4 1h1m3 0h1m-4 1h1m0 1h1m3 0h1m0 1h1m-4 1h1m0 1h1m4 1h1m-3 2h1m3 0h1m-3 2h1m7 4h1m0 1h1m-4 1h1m3 0h1m-4 1h1m3 0h1m-4 1h1m0 1h1m5 2h1m-3 2h1m4 1h1m0 1h1m-4 1h1m0 1h1m4 1h1m0 1h1m-4 1h1m0 1h1m3 0h1m0 1h1m-4 1h1m0 1h1m3 0h1m-3 2h1m3 0h1m0 1h1m-4 1h1m0 1h1m4 1h1m-3 2h1m4 1h1m0 1h1m-4 1h1m3 0h1m-4 1h1m3 0h1m-4 1h1m0 1h1m4 1h1m0 1h1m-4 1h1m0 1h1m3 0h1m-3 2h1m5 2h1m0 1h1m-4 1h1m3 0h1m-4 1h1m0 1h1m3 0h1m-3 2h1m3 0h1m0 1h1m-4 1h1m0 1h1m3 0h1m-3 2h1m3 0h1m-3 2h1m4 1h1m0 1h1m-4 1h1m3 0h1m-4 1h1m3 0h1m-4 1h1m3 0h1m-4 1h1m0 1h1m6 3h1m0 1h1m-4 1h1m0 1h1m9 6h1m0 1h1m-4 1h1m0 1h1m7 4h1m-3 2h1m3 0h1m-3 2h1m6 3h1m0 1h1m-4 1h1m3 0h1m-4 1h1m3 0h1m-4 1h1m0 1h1m3 0h1m0 1h1m-4 1h1m0 1h1m3 0h1m-3 2h1m3 0h1m0 1h1m-4 1h1m3 0h1m-4 1h1m3 0h1m-4 1h1m0 1h1m3 0h1m0 1h1m-4 1h1m3 0h1m-4 1h1m0 1h1m4 1h1m0 1h1m-4 1h1m3 0h1m-4 1h1m0 1h1m5 2h1m0 1h1m-4 1h1m0 1h1m3 0h1m-3 2h1m3 0h1m0 1h1m-4 1h1m3 0h1m-4 1h1m3 0h1m-4 1h1m3 0h1m-4 1h1m0 1h1m3 0h1m0 1h1m-4 1h1m3 0h1m-4 1h1m3 0h1m-4 1h1m3 0h1m-4 1h1m3 0h1m-4 1h1m3 0h1m-4 1h1m0 1h1m4 1h1m0 1h1m-4 1h1m0 1h1m3 0h1m0 1h1m-4 1h1m3 0h1m-4 1h1m3 0h1m-4 1h1m3 0h1m-4 1h1m3 0h1m-4 1h1m0 1h1m3 0h1m-3 2h1m6 3h1m-3 2h1m3 0h1m0 1h1m-4 1h1m0 1h1m3 0h1m-3 2h1m3 0h1m0 1h1m-4 1h1m0 1h1m3 0h1m0 1h1m-4 1h1m0 1h1m3 0h1m0 1h1m-4 1h1m3 0h1m-4 1h1m3 0h1m-4 1h1m3 0h1m-4 1h1m0 1h1m3 0h1m0 1h1m-4 1h1m3 0h1m-4 1h1m0 1h1m3 0h1m-3 2h1m3 0h1m-3 2h1m5 2h1m0 1h1m-4 1h1m3 0h1m-4 1h1m3 0h1m-4 1h1m0 1h1m3 0h1m-3 2h1m3 0h1m-3 2h1m5 2h1m-3 2h1m3 0h1m-3 2h1m3 0h1m-3 2h1m5 2h1m-3 2h1m3 0h1m0 1h1m-4 1h1m0 1h1m3 0h1m0 1h1m-4 1h1m3 0h1m-4 1h1m0 1h1m3 0h1m-3 2h1m3 0h1m0 1h1m-4 1h1m0 1h1m3 0h1m-3 2h1m3 0h1m0 1h1m-4 1h1m0 1h1m4 1h1m0 1h1m-4 1h1m3 0h1m-4 1h1m0 1h1m3 0h1m0 1h1m395 0h1m-400 1h1m0 1h1m399 0h1m-395 2h1m-3 2h1m3 0h1m-3 2h1m9 6h1m0 1h1m-4 1h1m3 0h1m-4 1h1m0 1h1m5 2h1m-3 2h1m5 2h1m0 1h1m-4 1h1m3 0h1m-4 1h1m3 0h1m-4 1h1m0 1h1m5 2h1m0 1h1m-4 1h1m3 0h1m-4 1h1m0 1h1m3 0h1m-3 2h1m4 1h1m0 1h1m-4 1h1m3 0h1m-4 1h1m3 0h1m-4 1h1m0 1h1m4 1h1m0 1h1m-4 1h1m0 1h1m3 0h1m-3 2h1m7 4h1m-3 2h1m3 0h1m0 1h1m-4 1h1m3 0h1m-4 1h1m3 0h1m-4 1h1m3 0h1m-4 1h1m3 0h1m-4 1h1m3 0h1m-4 1h1m3 0h1m-4 1h1m0 1h1m3 0h1m-3 2h1m3 0h1m0 1h1m-4 1h1m3 0h1m-4 1h1m0 1h1m3 0h1m-3 2h1m3 0h1m-3 2h1m4 1h1m-3 2h1m3 0h1m-3 2h1m3 0h1m-3 2h1m3 0h1m0 1h1m-4 1h1m3 0h1m-4 1h1m3 0h1m-4 1h1m0 1h1m3 0h1m-3 2h1m3 0h1m0 1h1m-4 1h1m3 0h1m-4 1h1m0 1h1m4 1h1m-3 2h1m3 0h1m0 1h1m-4 1h1m3 0h1m-4 1h1m3 0h1m-4 1h1m3 0h1m-4 1h1m3 0h1m-4 1h1m0 1h1m3 0h1m0 1h1m-4 1h1m0 1h1m4 1h1m0 1h1m-4 1h1m3 0h1m-4 1h1m3 0h1m-4 1h1m3 0h1m-4 1h1m3 0h1m-4 1h1m0 1h1m3 0h1m0 1h1m-4 1h1m0 1h1m6 3h1m0 1h1m-4 1h1m3 0h1m-4 1h1m3 0h1m-4 1h1m3 0h1m-4 1h1m0 1h1m3 0h1m-3 2h1m4 1h1m0 1h1m-4 1h1m0 1h1m9 6h1m0 1h1m-4 1h1m3 0h1m-4 1h1m0 1h1m6 3h1m0 1h1m-4 1h1m0 1h1m3 0h1m0 1h1m-4 1h1m0 1h1m3 0h1m0 1h1m-4 1h1m0 1h1m3 0h1m-3 2h1m5 2h1m-3 2h1m5 2h1m-3 2h1m4 1h1m-3 2h1m3 0h1m-3 2h1m3 0h1m0 1h1m-4 1h1m0 1h1m3 0h1m0 1h1m-4 1h1m3 0h1m-4 1h1m3 0h1m-4 1h1m3 0h1m-4 1h1m0 1h1m3 0h1m0 1h1m-4 1h1m0 1h1m3 0h1m0 1h1m-4 1h1m3 0h1m-4 1h1m3 0h1m-4 1h1m3 0h1m-4 1h1m3 0h1m-4 1h1m3 0h1m-4 1h1m0 1h1m4 1h1m-3 2h1m6 3h1m-3 2h1m3 0h1m-3 2h1m4 1h1m0 1h1m-4 1h1m3 0h1m-4 1h1m3 0h1m-4 1h1m0 1h1m3 0h1m-3 2h1m3 0h1m-3 2h1m3 0h1m0 1h1m-4 1h1m0 1h1m3 0h1m-3 2h1m5 2h1m0 1h1m-4 1h1m3 0h1m-4 1h1m3 0h1m-4 1h1m3 0h1m-4 1h1m0 1h1m6 3h1m-3 2h1m6 3h1m0 1h1m-4 1h1m3 0h1m-4 1h1m3 0h1m-4 1h1m3 0h1m-4 1h1m0 1h1m4 1h1m-3 2h1m3 0h1m0 1h1m-4 1h1m3 0h1m-4 1h1m3 0h1m-4 1h1m3 0h1m-4 1h1m3 0h1m-4 1h1m0 1h1m3 0h1m-3 2h1m3 0h1m-3 2h1m3 0h1m0 1h1m-4 1h1m0 1h1m4 1h1m0 1h1m-4 1h1m0 1h1m5 2h1m0 1h1m-4 1h1m3 0h1m-4 1h1m0 1h1m4 1h1m0 1h1m-4 1h1m3 0h1m-4 1h1m0 1h1m5 2h1m-3 2h1m5 2h1m-3 2h1m3 0h1m-3 2h1m3 0h1m-3 2h1m6 3h1m-3 2h1m3 0h1m-3 2h1m4 1h1m-3 2h1m3 0h1m0 1h1m-4 1h1m3 0h1m-4 1h1m0 1h1m3 0h1m0 1h1m-4 1h1m3 0h1m-4 1h1m3 0h1m-4 1h1m0 1h1m3 0h1m0 1h1m-4 1h1m3 0h1m-4 1h1m0 1h1m3 0h1m-3 2h1m8 5h1m-3 2h1m3 0h1m0 1h1m-4 1h1m3 0h1m-4 1h1m3 0h1m-4 1h1m3 0h1m-4 1h1m0 1h1m3 0h1m-3 2h1m3 0h1m0 1h1m-4 1h1m3 0h1m-4 1h1m0 1h1m5 2h1m-3 2h1m3 0h1m0 1h1m-4 1h1m3 0h1m-4 1h1m3 0h1m-4 1h1m3 0h1m-4 1h1m3 0h1m-4 1h1m3 0h1m-4 1h1m0 1h1m4 1h1m0 1h1m-4 1h1m0 1h1m5 2h1m0 1h1m-4 1h1m0 1h1m3 0h1m-3 2h1m3 0h1m0 1h1m-4 1h1m3 0h1m-4 1h1m3 0h1m-4 1h1m3 0h1m-4 1h1m0 1h1m4 1h1m0 1h1m-4 1h1m0 1h1m4 1h1m-3 2h1m3 0h1m0 1h1m-4 1h1m3 0h1m-4 1h1m0 1h1m3 0h1m0 1h1m-4 1h1m3 0h1m-4 1h1m0 1h1m5 2h1m0 1h1m-4 1h1m0 1h1m3 0h1m-3 2h1m7 4h1m-3 2h1m3 0h1m0 1h1m-4 1h1m0 1h1m4 1h1m0 1h1m-4 1h1m3 0h1m-4 1h1m3 0h1m-4 1h1m3 0h1m-4 1h1m3 0h1m-4 1h1m3 0h1m-4 1h1m0 1h1m3 0h1m-3 2h1m3 0h1m0 1h1m-4 1h1m3 0h1m-4 1h1m-396 1h1m395 0h1m4 1h1m-400 1h1m399 0h1m139 0h1m-144 1h1m0 1h1m3 0h1m139 0h1m-143 2h1m3 0h1m0 1h1m-4 1h1m3 0h1m-4 1h1m3 0h1m-4 1h1m0 1h1m4 1h1m0 1h1m-4 1h1m0 1h1m4 1h1m-3 2h1m4 1h1m0 1h1m-4 1h1m3 0h1m-4 1h1m3 0h1m-4 1h1m0 1h1m4 1h1m0 1h1m-4 1h1m3 0h1m-4 1h1m3 0h1m-4 1h1m3 0h1m-4 1h1m3 0h1m-4 1h1m3 0h1m-4 1h1m3 0h1m-4 1h1m3 0h1m-4 1h1m0 1h1m3 0h1m-3 2h1m3 0h1m-3 2h1m5 2h1m0 1h1m-4 1h1m3 0h1m-4 1h1m3 0h1m-4 1h1m0 1h1m3 0h1m-3 2h1m4 1h1m0 1h1m-4 1h1m3 0h1m-4 1h1m0 1h1m7 4h1m-3 2h1m7 4h1m0 1h1m-4 1h1m3 0h1m-4 1h1m0 1h1m3 0h1m-3 2h1m3 0h1m0 1h1m-4 1h1m0 1h1m5 2h1m-3 2h1m4 1h1m0 1h1m-4 1h1m0 1h1m3 0h1m0 1h1m-4 1h1m3 0h1m-4 1h1m3 0h1m-4 1h1m0 1h1m3 0h1m0 1h1m-4 1h1m3 0h1m-4 1h1m3 0h1m-4 1h1m0 1h1m3 0h1m-3 2h1m3 0h1m0 1h1m-4 1h1m3 0h1m-4 1h1m3 0h1m-4 1h1m3 0h1m-4 1h1m0 1h1m3 0h1m0 1h1m-4 1h1m0 1h1m3 0h1m-3 2h1m6 3h1m0 1h1m-4 1h1m0 1h1m3 0h1m-3 2h1m4 1h1m0 1h1m-4 1h1m0 1h1m5 2h1m-3 2h1m5 2h1m-3 2h1m3 0h1m-3 2h1m4 1h1m-3 2h1m4 1h1m-3 2h1m4 1h1m0 1h1m-4 1h1m0 1h1m6 3h1m0 1h1m-4 1h1m3 0h1m-4 1h1m3 0h1m-4 1h1m3 0h1m-4 1h1m3 0h1m-144 1h1m139 0h1m3 0h1m-4 1h1m3 0h1m-144 1h1m139 0h1m3 0h1m-4 1h1m0 1h1m3 0h1m0 1h1m-4 1h1m0 1h1m5 2h1m0 1h1m-4 1h1m0 1h1m3 0h1m-3 2h1m3 0h1m0 1h1m-4 1h1m3 0h1m-4 1h1m3 0h1m-4 1h1m3 0h1m-4 1h1m3 0h1m-4 1h1m0 1h1m4 1h1m-3 2h1m4 1h1m-3 2h1m3 0h1m-3 2h1m3 0h1m0 1h1m-4 1h1m3 0h1m-4 1h1m3 0h1m-4 1h1m0 1h1m3 0h1m0 1h1m-4 1h1m0 1h1m3 0h1m0 1h1m-4 1h1m0 1h1m3 0h1m0 1h1m-4 1h1m3 0h1m-4 1h1m3 0h1m-4 1h1m3 0h1m-4 1h1m3 0h1m-4 1h1m3 0h1m-4 1h1m3 0h1m-4 1h1m0 1h1m3 0h1m0 1h1m-4 1h1m3 0h1m-4 1h1m3 0h1m-4 1h1m0 1h1m3 0h1m-3 2h1m3 0h1m-3 2h1m3 0h1m0 1h1m-4 1h1m3 0h1m-4 1h1m0 1h1m4 1h1m-3 2h1m7 4h1m0 1h1m-4 1h1m3 0h1m-4 1h1m3 0h1m-4 1h1m0 1h1m4 1h1m0 1h1m-4 1h1m3 0h1m-4 1h1m3 0h1m-4 1h1m0 1h1m4 1h1m0 1h1m-4 1h1m3 0h1m-4 1h1m3 0h1m-4 1h1m3 0h1m-4 1h1m3 0h1m-4 1h1m3 0h1m-4 1h1m0 1h1m3 0h1m0 1h1m-4 1h1m3 0h1m-4 1h1m3 0h1m-4 1h1m0 1h1m3 0h1m-3 2h1m3 0h1m-3 2h1m5 2h1m-3 2h1m4 1h1m0 1h1m-4 1h1m0 1h1m3 0h1m0 1h1m-4 1h1m3 0h1m-4 1h1m0 1h1m3 0h1m0 1h1m-4 1h1m3 0h1m-4 1h1m0 1h1m4 1h1m-3 2h1m3 0h1m0 1h1m-4 1h1m3 0h1m-4 1h1m0 1h1m5 2h1m0 1h1m-4 1h1m3 0h1m-4 1h1m3 0h1m-4 1h1m3 0h1m-4 1h1m3 0h1m-4 1h1m3 0h1m-4 1h1m3 0h1m-4 1h1m0 1h1m5 2h1m0 1h1m-4 1h1m3 0h1m-4 1h1m3 0h1m-4 1h1m3 0h1m-4 1h1m3 0h1m-4 1h1m3 0h1m-4 1h1m0 1h1m8 5h1m0 1h1m-4 1h1m3 0h1m-4 1h1m3 0h1m-4 1h1m0 1h1m3 0h1m0 1h1m-4 1h1m3 0h1m-4 1h1m3 0h1m-4 1h1m0 1h1m3 0h1m0 1h1m-4 1h1m0 1h1m3 0h1m-3 2h1m3 0h1m0 1h1m-4 1h1m0 1h1m3 0h1m0 1h1m-4 1h1m0 1h1m3 0h1m-3 2h1m5 2h1m-3 2h1m3 0h1m0 1h1m-4 1h1m3 0h1m-4 1h1m0 1h1m3 0h1m0 1h1m-4 1h1m3 0h1m-4 1h1m3 0h1m-4 1h1m3 0h1m-4 1h1m3 0h1m-4 1h1m0 1h1m4 1h1m0 1h1m-4 1h1m0 1h1m3 0h1m0 1h1m-4 1h1m0 1h1m3 0h1m0 1h1m-4 1h1m0 1h1m3 0h1m-3 2h1m3 0h1m-3 2h1m5 2h1m0 1h1m-4 1h1m3 0h1m-4 1h1m3 0h1m-4 1h1m0 1h1m4 1h1m0 1h1m-4 1h1m0 1h1m5 2h1m-3 2h1m3 0h1m-3 2h1m3 0h1m0 1h1m-4 1h1m3 0h1m-4 1h1m3 0h1m-4 1h1m3 0h1m-4 1h1m0 1h1m3 0h1m-3 2h1"/>
<path stroke="#FF4200" d="M706 308.5h1m-399 398h1m541 2h1m-143 142h1"/>
<path stroke="#FF0000" d="M0 0.5h2m-2 1h3m-2 1h3m-2 1h3m-2 1h3m-2 1h3m-2 1h3m-2 1h3m-2 1h3m-2 1h3m-2 1h3m-2 1h3m-2 1h3m-2 1h3m-2 1h3m-2 1h3m-2 1h3m-2 1h3m-2 1h3m-2 1h3m-2 1h3m-2 1h3m-2 1h3m-2 1h3m-2 1h3m-2 1h3m-2 1h3m-2 1h3m-2 1h3m-2 1h3m-2 1h3m-2 1h3m-2 1h3m-2 1h3m-2 1h3m-2 1h3m-2 1h3m-2 1h3m-2 1h3m-2 1h3m-2 1h3m-2 1h3m-2 1h3m-2 1h3m-2 1h3m-2 1h3m-2 1h3m-2 1h3m-2 1h3m-2 1h3m-2 1h3m-2 1h3m-2 1h3m-2 1h3m-2 1h3m-2 1h3m-2 1h3m-2 1h3m-2 1h3m-2 1h3m-2 1h3m-2 1h3m-2 1h3m-2 1h3m-2 1h3m-2 1h3m-2 1h3m-2 1h3m-2 1h3m-2 1h3m-2 1h3m-2 1h3m-2 1h3m-2 1h3m-2 1h3m-2 1h3m-2 1h3m-2 1h3m-2 1h3m-2 1h3m-2 1h3m-2 1h3m-2 1h3m-2 1h3m-2 1h3m-2 1h3m-2 1h3m-2 1h3m-2 1h3m-2 1h3m-2 1h3m-2 1h3m-2 1h3m-2 1h3m-2 1h3m-2 1h3m-2 1h3m-2 1h3m-2 1h3m-2 1h3m-2 1h3m-2 1h3m-2 1h3m-2 1h3m-2 1h3m-2 1h3m-2 1h3m-2 1h3m-2 1h3m-2 1h3m-2 1h3m-2 1h3m-2 1h3m-2 1h3m-2 1h3m-2 1h3m-2 1h3m-2 1h3m-2 1h3m-2 1h3m-2 1h3m-2 1h3m-2 1h3m-2 1h3m-2 1h3m-2 1h3m-2 1h3m-2 1h3m-2 1h3m-2 1h3m-2 1h3m-2 1h3m-2 1h3m-2 1h3m-2 1h3m-2 1h3m-2 1h3m-2 1h3m-2 1h3m-2 1h3m-2 1h3m-2 1h3m-2 1h3m-2 1h3m-2 1h3m-2 1h3m-2 1h3m-2 1h3m-2 1h3m-2 1h3m-2 1h3m-2 1h3m-2 1h3m-2 1h3m-2 1h3m-2 1h3m-2 1h3m-2 1h3m-2 1h3m-2 1h3m-2 1h3m-2 1h3m-2 1h3m-2 1h3m-2 1h3m-2 1h3m-2 1h3m-2 1h3m-2 1h3m-2 1h3m-2 1h3m-2 1h3m-2 1h3m-2 1h3m-2 1h3m-2 1h3m-2 1h3m-2 1h3m-2 1h3m-2 1h3m-2 1h3m-2 1h3m-2 1h3m-2 1h3m-2 1h3m-2 1h3m-2 1h3m-2 1h3m-2 1h3m-2 1h3m-2 1h3m-2 1h3m-2 1h3m-2 1h3m-2 1h3m-2 1h3m-2 1h3m-2 1h3m-2 1h3m-2 1h3m-2 1h3m-2 1h3m-2 1h3m-2 1h3m-2 1h3m-2 1h3m-2 1h3m-2 1h3m-2 1h3m-2 1h3m-2 1h3m-2 1h3m-2 1h3m-2 1h3m-2 1h3m-2 1h3m-2 1h3m-2 1h3m-2 1h3m-2 1h3m-2 1h3m-2 1h3m-2 1h3m-2 1h3m-2 1h3m-2 1h3m-2 1h3m-2 1h3m-2 1h3m-2 1h3m-2 1h3m-2 1h3m-2 1h3m-2 1h3m-2 1h3m-2 1h3m-2 1h3m-2 1h3m-2 1h3m-2 1h3m-2 1h3m-2 1h3m-2 1h3m-2 1h3m-2 1h3m-2 1h3m-2 1h3m-2 1h3m-2 1h3m-2 1h3m-2 1h3m-2 1h3m-2 1h3m-2 1h3m-2 1h3m-2 1h3m-2 1h3m-2 1h3m-2 1h3m-2 1h3m-2 1h3m-2 1h3m-2 1h3m-2 1h3m-2 1h3m-2 1h3m-2 1h3m-2 1h3m-2 1h3m-2 1h3m-2 1h3m-2 1h3m-2 1h3m-2 1h3m-2 1h3m-2 1h3m-2 1h3m-2 1h3m-2 1h3m-2 1h3m-2 1h3m-2 1h3m-2 1h3m-2 1h3m-2 1h3m-2 1h3m-2 1h3m-2 1h3m-2 1h3m-2 1h3m-2 1h3m-2 1h3m-2 1h3m-2 1h3m-2 1h3m-2 1h3m-2 1h3m-2 1h3m-2 1h3m-2 1h3m-2 1h3m-2 1h3m-2 1h3m-2 1h3m-2 1h3m-2 1h3m-2 1h3m-2 1h3m-2 1h3m-2 1h3m-2 1h3m-2 1h3m-2 1h3m-2 1h3m-2 1h3m-2 1h3m-2 1h3m-2 1h3m-2 1h3m-2 1h3m-2 1h3m-2 1h3m-2 1h3m-2 1h3m-2 1h3m-2 1h3m-2 1h3m-2 1h3m-2 1h3m-2 1h3m-2 1h3m-2 1h3m-2 1h3m-2 1h3m-2 1h3m-2 1h3m-2 1h3m-2 1h3m-2 1h3m-2 1h3m-2 1h3m-2 1h3m-2 1h3m-2 1h3m-2 1h3m-2 1h3m-2 1h3m-2 1h3m-2 1h3m-2 1h3m-2 1h3m-2 1h3m-2 1h3m-2 1h3m-2 1h3m-2 1h3m-2 1h3m-2 1h3m-2 1h3m-2 1h3m-2 1h3m-2 1h3m-2 1h3m-2 1h3m-2 1h3m-2 1h3m-2 1h3m-2 1h3m-2 1h3m-2 1h3m-2 1h3m-2 1h3m-2 1h3m-2 1h3m-2 1h3m-2 1h3m-2 1h3m-2 1h3m-2 1h3m-2 1h3m-2 1h3m-2 1h3m-2 1h3m-2 1h3m-2 1h3m-2 1h3m-2 1h3m-2 1h3m-2 1h3m-2 1h3m-2 1h3m-2 1h3m-2 1h3m-2 1h3m-2 1h3m-2 1h3m-2 1h3m-2 1h3m-2 1h3m-2 1h3m-2 1h3m-2 1h3m-2 1h3m-2 1h3m-2 1h3m-2 1h3m-2 1h3m-2 1h3m-2 1h3m-2 1h3m-2 1h3m-2 1h3m-2 1h3m-2 1h3m-2 1h3m-2 1h3m-2 1h3m-2 1h3m-2 1h3m-2 1h3m-2 1h3m-2 1h3m-2 1h3m-2 1h3m-2 1h3m-2 1h3m-2 1h3m-2 1h3m-2 1h3m-2 1h3m-2 1h3m-2 1h3m-2 1h3m-2 1h3m-2 1h3m-2 1h3m-2 1h3m-2 1h3m-2 1h3m-2 1h3m-2 1h3m-2 1h3m-2 1h3m-2 1h3m-2 1h3m-2 1h3m-2 1h3m-2 1h3m-2 1h3m-2 1h3m-2 1h3m-2 1h3m-2 1h3m-2 1h3m-2 1h3m-2 1h3m-2 1h3m-2 1h3m-2 1h3m-2 1h3m-2 1h3m-2 1h3m-2 1h3m-2 1h3m-2 1h3m-2 1h3m-2 1h3m-2 1h3m-2 1h3m-2 1h3m-2 1h3m-2 1h3m-2 1h3m-2 1h3m-2 1h3m-2 1h3m-2 1h3m-2 1h3m-2 1h3m-2 1h3m-2 1h3m-2 1h3m-2 1h3m-2 1h3m-2 1h3m-2 1h3m-2 1h3m-2 1h3m-2 1h3m-2 1h3m-2 1h3m-2 1h3m-2 1h3m-2 1h3m-2 1h3m-2 1h3m-2 1h3m-2 1h3m-2 1h3m-2 1h3m-2 1h3m-2 1h3m-2 1h3m-2 1h3m-2 1h3m-2 1h3m-2 1h3m-2 1h3m-2 1h3m-2 1h3m-2 1h3m-2 1h3m-2 1h3m-2 1h3m-2 1h3m-2 1h3m-2 1h3m-2 1h3m-2 1h3m-2 1h3m-2 1h3m-2 1h3m-2 1h3m-2 1h3m-2 1h3m-2 1h3m-2 1h3m-2 1h3m-2 1h3m-2 1h3m-2 1h3m-2 1h3m-2 1h3m-2 1h3m-2 1h3m-2 1h3m-2 1h3m-2 1h3m-2 1h3m-2 1h3m-2 1h3m-2 1h3m-2 1h3m-2 1h3m-2 1h3m-2 1h3m-2 1h3m-2 1h3m-2 1h3m-2 1h3m-2 1h3m-2 1h3m-2 1h3m-2 1h3m-2 1h3m-2 1h3m-2 1h3m-2 1h3m-2 1h3m-2 1h3m-2 1h3m-2 1h3m-2 1h3m-2 1h3m-2 1h3m-2 1h3m-2 1h3m-2 1h3m-2 1h3m-2 1h3m-2 1h3m-2 1h3m-2 1h3m-2 1h3m-2 1h3m-2 1h3m-2 1h3m-2 1h3m-2 1h3m-2 1h3m-2 1h3m-2 1h3m-2 1h3m-2 1h3m-2 1h3m-2 1h3m-2 1h3m-2 1h3m-2 1h3m-2 1h3m-2 1h3m-2 1h3m-2 1h3m-2 1h3m-2 1h3m-2 1h3m-2 1h3m-2 1h3m-2 1h3m-2 1h3m-2 1h3m-2 1h3m-2 1h3m-2 1h3m-2 1h3m-2 1h3m-2 1h3m-2 1h3m-2 1h3m-2 1h3m-2 1h3m-2 1h3m-2 1h3m-2 1h3m-2 1h3m-2 1h3m-2 1h3m-2 1h3m-2 1h3m-2 1h3m-2 1h3m-2 1h3m-2 1h3m-2 1h3m-2 1h3m-2 1h3m-2 1h3m-2 1h3m-2 1h3m-2 1h3m-2 1h3m-2 1h3m-2 1h3m-2 1h3m-2 1h3m-2 1h3m-2 1h3m-2 1h3m-2 1h3m-2 1h3m-2 1h3m-2 1h3m-2 1h3m-2 1h3m-2 1h3m-2 1h3m-2 1h3m-2 1h3m-2 1h3m-2 1h3m-2 1h3m-2 1h3m-2 1h3m-2 1h3m-2 1h3m-2 1h3m-2 1h3m-2 1h3m-2 1h3m-2 1h3m-2 1h3m-2 1h3m-2 1h3m-2 1h3m-2 1h3m-2 1h3m-2 1h3m-2 1h3m-2 1h3m-2 1h3m-2 1h3m-2 1h3m-2 1h3m-2 1h3m-2 1h3m-2 1h3m-2 1h3m-2 1h3m-2 1h3m-2 1h3m-2 1h3m-2 1h3m-2 1h3m-2 1h3m-2 1h3m-2 1h3m-2 1h3m-2 1h3m-2 1h3m-2 1h3m-2 1h3m-2 1h3m-2 1h3m-2 1h3m-2 1h3m-2 1h3m-2 1h3m-2 1h3m-2 1h3m-2 1h3m-2 1h3m-2 1h3m-2 1h3m-2 1h3m-2 1h3m-2 1h3m-2 1h3m-2 1h3m-2 1h3m-2 1h3m-2 1h3m-2 1h3m-2 1h3m-2 1h3m-2 1h3m-2 1h3m-2 1h3m-2 1h3m-2 1h3m-2 1h3m-2 1h3m-2 1h3m-2 1h3m-2 1h3m-2 1h3m-2 1h3m-2 1h3m-2 1h3m-2 1h3m-2 1h3m-2 1h3m-2 1h3m-2 1h3m-2 1h3m-2 1h3m-2 1h3m-2 1h3m-2 1h3m-2 1h3m-2 1h3m-2 1h3m-2 1h3m-2 1h3m-2 1h3m-2 1h3m-2 1h3m-2 1h3m-2 1h3m-2 1h3m-2 1h3m-2 1h3m-2 1h3m-2 1h3m-2 1h3m-2 1h3m-2 1h3m-2 1h3m-2 1h3m-2 1h3m-2 1h3m-2 1h3m-2 1h3m-2 1h3m-2 1h3m-2 1h3m-2 1h3m-2 1h3m-2 1h3m-2 1h3m-2 1h3m-2 1h3m-2 1h3m-2 1h3m-2 1h3m-2 1h3m-2 1h3m-2 1h3m-2 1h3m-2 1h3m-2 1h3m-2 1h3m-2 1h3m-2 1h3m-2 1h3m-2 1h3m-2 1h3m-2 1h3m-2 1h3m-2 1h3m-2 1h3m-2 1h3m-2 1h3m-2 1h3m-2 1h3m-2 1h3m-2 1h3m-2 1h3m-2 1h3m-2 1h3m-2 1h3m-2 1h3m-2 1h3m-2 1h3m-2 1h3m-2 1h3m-2 1h3m-2 1h3m-2 1h3m-2 1h3m-2 1h3m-2 1h3m-2 1h3m-2 1h3m-2 1h3m-2 1h3m-2 1h3m-2 1h3m-2 1h3m-2 1h3m-2 1h3m-2 1h3m-2 1h3m-2 1h3m-2 1h3m-2 1h3m-2 1h3m-2 1h3m-2 1h3m-2 1h3m-2 1h3m-2 1h3m-2 1h3m-2 1h3m-2 1h3m-2 1h3m-2 1h3m-2 1h3m-2 1h3m-2 1h3m-2 1h3m-2 1h3m-2 1h3m-2 1h3m-2 1h3m-2 1h3m-2 1h3m-2 1h3m-2 1h3m-2 1h3m-2 1h3m-2 1h3m-2 1h3m-2 1h3m-2 1h3m-2 1h3m-2 1h3m-2 1h3m-2 1h3m-2 1h3m-2 1h3m-2 1h3m-2 1h3m-2 1h3m-2 1h3m-2 1h3m-2 1h3m-2 1h3m-2 1h3m-2 1h3m-2 1h3m-2 1h3m-2 1h3m-2 1h3m-2 1h3m-2 1h3m-2 1h3m-2 1h3m-2 1h3m-2 1h3m-2 1h3m-2 1h3m-2 1h3m-2 1h3m-2 1h3m-2 1h3m-2 1h3m-2 1h3m-2 1h3m-2 1h3m-2 1h3m-2 1h3m-2 1h3m-2 1h3m-2 1h3m-2 1h3m-2 1h3m-2 1h3m-2 1h3m-2 1h3m-2 1h3m-2 1h3m-2 1h3m-2 1h3m-2 1h3m-2 1h3m-2 1h3m-2 1h3m-2 1h3m-2 1h3m-2 1h3m-2 1h3m-2 1h3m-2 1h3m-2 1h3m-2 1h3m-2 1h3m-2 1h3m-2 1h3m-2 1h3m-2 1h3m-2 1h3m-2 1h3m-2 1h3m-2 1h3m-2 1h3m-2 1h3m-2 1h3m-2 1h3m-2 1h3m-2 1h3m-2 1h3m-2 1h3m-2 1h3m-2 1h3m-2 1h3m-2 1h3m-2 1h3m-2 1h3m-2 1h3m-2 1h3m-2 1h3m-2 1h3m-2 1h3m-2 1h3m-2 1h3m-2 1h3m-2 1h3m-2 1h3m-2 1h3m-2 1h3m-2 1h3m-2 1h3m-2 1h3m-2 1h3m-2 1h3m-2 1h3m-2 1h3m-2 1h3m-2 1h3m-2 1h3m-2 1h3m-2 1h3m-2 1h3m-2 1h3m-2 1h3m-2 1h3m-2 1h3m-2 1h3m-2 1h3m-2 1h3m-2 1h3m-2 1h3m-2 1h3m-2 1h3m-2 1h3m-2 1h3m-2 1h3m-2 1h3m-2 1h3m-2 1h3m-2 1h3m-2 1h3m-2 1h3m-2 1h3m-2 1h3m-2 1h3m-2 1h3m-2 1h3m-2 1h3m-2 1h3m-2 1h3m-2 1h3m-2 1h3m-2 1h3m-2 1h3m-2 1h3m-2 1h3m-2 1h3m-2 1h3m-2 1h3m-2 1h3m-2 1h3m-2 1h3m-2 1h3m-2 1h3m-2 1h3m-2 1h3m-2 1h3m-2 1h3m-2 1h3m-2 1h3m-2 1h3m-2 1h3m-2 1h3m-2 1h3m-2 1h3m-2 1h3m-2 1h3m-2 1h3m-2 1h3m-2 1h3m-2 1h3m-2 1h3m-2 1h3m-2 1h3m-2 1h3m-2 1h3m-2 1h3m-2 1h3m-2 1h3m-2 1h3m-2 1h3m-2 1h3m-2 1h3m-2 1h3m-2 1h3m-2 1h3m-2 1h3m-2 1h3m-2 1h3m-2 1h3m-2 1h3m-2 1h3m-2 1h3m-2 1h3m-2 1h3m-2 1h3m-2 1h3m-2 1h3m-2 1h3m-2 1h3m-2 1h3m-2 1h3m-2 1h3m-2 1h3m-2 1h3m-2 1h3m-2 1h3m-2 1h3m-2 1h3m-2 1h3m-2 1h3m-2 1h3m-2 1h3m-2 1h3m-2 1h3m-2 1h3m-2 1h3m-2 1h3m-2 1h3m-2 1h3m-2 1h3m-2 1h3m-2 1h3m-2 1h2"/>
</g>
<rect x="321" y="122.0" width="1" height="1631.0" fill="#fff"/>
<rect x="1889.0" y="122.00" width="12.2" height="102.44" fill="#0000FF"/><rect x="1889.0" y="223.94" width="12.2" height="102.44" fill="#4682B4"/><rect x="1889.0" y="325.88" width="12.2" height="102.44" fill="#528AAD"/><rect x="1889.0" y="427.81" width="12.2" height="102.44" fill="#5E92A6"/><rect x="1889.0" y="529.75" width="12.2" height="102.44" fill="#6B9B9F"/><rect x="1889.0" y="631.69" width="12.2" height="102.44" fill="#77A398"/><rect x="1889.0" y="733.62" width="12.2" height="102.44" fill="#83AB91"/><rect x="1889.0" y="835.56" width="12.2" height="102.44" fill="#90B48A"/><rect x="1889.0" y="937.50" width="12.2" height="102.44" fill="#9CBC83"/><rect x="1889.0" y="1039.44" width="12.2" height="102.44" fill="#A8C47C"/><rect x="1889.0" y="1141.38" width="12.2" height="102.44" fill="#FFA500"/><rect x="1889.0" y="1243.31" width="12.2" height="102.44" fill="#FF8400"/><rect x="1889.0" y="1345.25" width="12.2" height="102.44" fill="#FF6300"/><rect x="1889.0" y="1447.19" width="12.2" height="102.44" fill="#FF4200"/><rect x="1889.0" y="1549.12" width="12.2" height="102.44" fill="#FF2100"/><rect x="1889.0" y="1651.06" width="12.2" height="102.44" fill="#FF0000"/>
<path d="M538.0 1754.0v4.4M538.0 121.0v-4.4M234.0 1450.7h-4.6M1867.0 1450.7h4.6M841.4 1754.0v4.4M841.4 121.0v-4.4M234.0 1147.3h-4.6M1867.0 1147.3h4.6M1144.9 1754.0v4.4M1144.9 121.0v-4.4M234.0 843.8h-4.6M1867.0 843.8h4.6M1448.3 1754.0v4.4M1448.3 121.0v-4.4M234.0 540.4h-4.6M1867.0 540.4h4.6M1751.8 1754.0v4.4M1751.8 121.0v-4.4M234.0 236.9h-4.6M1867.0 236.9h4.6M1902.2 1414.8h3.4M1902.2 1017.3h3.4M1902.2 619.8h3.4M1902.2 222.3h3.4" stroke="#000" stroke-width="6.4" stroke-linecap="round" fill="none"/>
<rect x="235.0" y="122.0" width="1631.0" height="1631.0" fill="none" stroke="#000" stroke-width="5.8" stroke-linejoin="round"/>
<rect x="1889.0" y="122.0" width="12.2" height="1631.0" fill="none" stroke="#000" stroke-width="5.8" stroke-linejoin="round"/>
<text transform="translate(538.0,1809.6) scale(1,1.09)" font-size="60" text-anchor="middle">200</text><text transform="translate(224.6,1472.9) scale(1,1.09)" font-size="60" text-anchor="end">200</text><text transform="translate(841.4,1809.6) scale(1,1.09)" font-size="60" text-anchor="middle">400</text><text transform="translate(224.6,1169.5) scale(1,1.09)" font-size="60" text-anchor="end">400</text><text transform="translate(1144.9,1809.6) scale(1,1.09)" font-size="60" text-anchor="middle">600</text><text transform="translate(224.6,866.0) scale(1,1.09)" font-size="60" text-anchor="end">600</text><text transform="translate(1448.3,1809.6) scale(1,1.09)" font-size="60" text-anchor="middle">800</text><text transform="translate(224.6,562.6) scale(1,1.09)" font-size="60" text-anchor="end">800</text><text transform="translate(1751.8,1809.6) scale(1,1.09)" font-size="60" text-anchor="middle">1000</text><text transform="translate(224.6,259.1) scale(1,1.09)" font-size="60" text-anchor="end">1000</text>
<text transform="translate(1910.6,1433.5) scale(1,1.09)" font-size="48">5</text><text transform="translate(1910.6,1036.0) scale(1,1.09)" font-size="48">10</text><text transform="translate(1910.6,638.5) scale(1,1.09)" font-size="48">15</text><text transform="translate(1910.6,241.0) scale(1,1.09)" font-size="48">20</text>
<text transform="translate(1050.8,1865.4) scale(1,1.03)" font-size="60" text-anchor="middle">Residue index</text>
<text transform="translate(80.2,938.5) rotate(-90) scale(1,1.05)" font-size="60" text-anchor="middle">Residue index</text>
</svg>
</body></html>
